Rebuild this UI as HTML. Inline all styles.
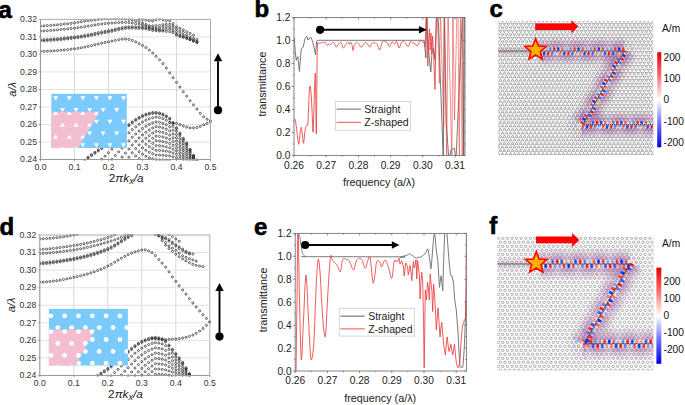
<!DOCTYPE html>
<html><head><meta charset="utf-8"><title>figure</title>
<style>
html,body{margin:0;padding:0;background:#fff;}
body{width:685px;height:405px;overflow:hidden;}
svg{display:block;font-family:"Liberation Sans", sans-serif;}
</style></head><body>
<svg width="685" height="405" viewBox="0 0 685 405">
<rect width="685" height="405" fill="#fff"/>
<path d="M74.5 19.4V159.5M108.5 19.4V159.5M142.5 19.4V159.5M176.5 19.4V159.5" stroke="#d8d8d8" stroke-width="1" fill="none"/><path d="M40.5 142H210.5M40.5 124.5H210.5M40.5 107H210.5M40.5 89.5H210.5M40.5 71.9H210.5M40.5 54.4H210.5M40.5 36.9H210.5" stroke="#e2e2e2" stroke-width="1" fill="none"/><clipPath id="clipb19"><rect x="40.5" y="18.4" width="171" height="142.1"/></clipPath><g clip-path="url(#clipb19)" fill="none" stroke="#2a2a2a" stroke-width="0.72"><circle cx="40.5" cy="51.4" r="1.05"/><circle cx="43.9" cy="51.4" r="1.05"/><circle cx="47.3" cy="51.2" r="1.05"/><circle cx="50.7" cy="51.1" r="1.05"/><circle cx="54.1" cy="50.8" r="1.05"/><circle cx="57.5" cy="50.6" r="1.05"/><circle cx="60.9" cy="50.3" r="1.05"/><circle cx="64.3" cy="49.9" r="1.05"/><circle cx="67.7" cy="49.6" r="1.05"/><circle cx="71.1" cy="49.2" r="1.05"/><circle cx="74.5" cy="48.8" r="1.05"/><circle cx="77.9" cy="48.4" r="1.05"/><circle cx="81.3" cy="47.8" r="1.05"/><circle cx="84.7" cy="47.1" r="1.05"/><circle cx="88.1" cy="46.4" r="1.05"/><circle cx="91.5" cy="45.6" r="1.05"/><circle cx="94.9" cy="44.8" r="1.05"/><circle cx="98.3" cy="44" r="1.05"/><circle cx="101.7" cy="43.2" r="1.05"/><circle cx="105.1" cy="42.5" r="1.05"/><circle cx="108.5" cy="41.8" r="1.05"/><circle cx="111.9" cy="41.1" r="1.05"/><circle cx="115.3" cy="40.4" r="1.05"/><circle cx="118.7" cy="39.7" r="1.05"/><circle cx="122.1" cy="39.2" r="1.05"/><circle cx="125.5" cy="39" r="1.05"/><circle cx="128.9" cy="39.4" r="1.05"/><circle cx="132.3" cy="40.4" r="1.05"/><circle cx="135.7" cy="41.9" r="1.05"/><circle cx="139.1" cy="43.7" r="1.05"/><circle cx="142.5" cy="45.5" r="1.05"/><circle cx="145.9" cy="47.5" r="1.05"/><circle cx="149.3" cy="50.1" r="1.05"/><circle cx="152.7" cy="53" r="1.05"/><circle cx="156.1" cy="56.3" r="1.05"/><circle cx="159.5" cy="59.7" r="1.05"/><circle cx="162.9" cy="63.6" r="1.05"/><circle cx="166.3" cy="68" r="1.05"/><circle cx="169.7" cy="72.9" r="1.05"/><circle cx="173.1" cy="77.7" r="1.05"/><circle cx="176.5" cy="82.4" r="1.05"/><circle cx="179.9" cy="87" r="1.05"/><circle cx="183.3" cy="91.7" r="1.05"/><circle cx="186.7" cy="96.2" r="1.05"/><circle cx="190.1" cy="100.7" r="1.05"/><circle cx="193.5" cy="104.9" r="1.05"/><circle cx="196.9" cy="109.1" r="1.05"/><circle cx="200.3" cy="113.3" r="1.05"/><circle cx="203.7" cy="116.8" r="1.05"/><circle cx="207.1" cy="119.2" r="1.05"/><circle cx="210.5" cy="120.6" r="1.05"/><circle cx="40.5" cy="40.9" r="1.05"/><circle cx="43.9" cy="40.8" r="1.05"/><circle cx="47.3" cy="40.6" r="1.05"/><circle cx="50.7" cy="40.4" r="1.05"/><circle cx="54.1" cy="40.2" r="1.05"/><circle cx="57.5" cy="39.9" r="1.05"/><circle cx="60.9" cy="39.6" r="1.05"/><circle cx="64.3" cy="39.2" r="1.05"/><circle cx="67.7" cy="38.9" r="1.05"/><circle cx="71.1" cy="38.5" r="1.05"/><circle cx="74.5" cy="38.1" r="1.05"/><circle cx="77.9" cy="37.7" r="1.05"/><circle cx="81.3" cy="37.2" r="1.05"/><circle cx="84.7" cy="36.6" r="1.05"/><circle cx="88.1" cy="36" r="1.05"/><circle cx="91.5" cy="35.4" r="1.05"/><circle cx="94.9" cy="34.7" r="1.05"/><circle cx="98.3" cy="34" r="1.05"/><circle cx="101.7" cy="33.3" r="1.05"/><circle cx="105.1" cy="32.6" r="1.05"/><circle cx="108.5" cy="32" r="1.05"/><circle cx="111.9" cy="31.3" r="1.05"/><circle cx="115.3" cy="30.5" r="1.05"/><circle cx="118.7" cy="29.7" r="1.05"/><circle cx="122.1" cy="29" r="1.05"/><circle cx="125.5" cy="28.5" r="1.05"/><circle cx="128.9" cy="28.2" r="1.05"/><circle cx="132.3" cy="28.2" r="1.05"/><circle cx="135.7" cy="28.2" r="1.05"/><circle cx="139.1" cy="28.4" r="1.05"/><circle cx="142.5" cy="28.5" r="1.05"/><circle cx="145.9" cy="28.9" r="1.05"/><circle cx="149.3" cy="29.6" r="1.05"/><circle cx="152.7" cy="30.4" r="1.05"/><circle cx="156.1" cy="30.8" r="1.05"/><circle cx="159.5" cy="31" r="1.05"/><circle cx="162.9" cy="31.1" r="1.05"/><circle cx="166.3" cy="31.4" r="1.05"/><circle cx="169.7" cy="31.7" r="1.05"/><circle cx="173.1" cy="32.7" r="1.05"/><circle cx="176.5" cy="35.2" r="1.05"/><circle cx="179.9" cy="36.5" r="1.05"/><circle cx="183.3" cy="37.4" r="1.05"/><circle cx="186.7" cy="38.5" r="1.05"/><circle cx="190.1" cy="39.8" r="1.05"/><circle cx="193.5" cy="41.2" r="1.05"/><circle cx="196.9" cy="42.7" r="1.05"/><circle cx="40.5" cy="39.7" r="1.05"/><circle cx="43.9" cy="39.6" r="1.05"/><circle cx="47.3" cy="39.4" r="1.05"/><circle cx="50.7" cy="39.2" r="1.05"/><circle cx="54.1" cy="38.9" r="1.05"/><circle cx="57.5" cy="38.7" r="1.05"/><circle cx="60.9" cy="38.4" r="1.05"/><circle cx="64.3" cy="38" r="1.05"/><circle cx="67.7" cy="37.7" r="1.05"/><circle cx="71.1" cy="37.3" r="1.05"/><circle cx="74.5" cy="36.9" r="1.05"/><circle cx="77.9" cy="36.5" r="1.05"/><circle cx="81.3" cy="36" r="1.05"/><circle cx="84.7" cy="35.4" r="1.05"/><circle cx="88.1" cy="34.7" r="1.05"/><circle cx="91.5" cy="34.1" r="1.05"/><circle cx="94.9" cy="33.3" r="1.05"/><circle cx="98.3" cy="32.6" r="1.05"/><circle cx="101.7" cy="31.9" r="1.05"/><circle cx="105.1" cy="31.3" r="1.05"/><circle cx="108.5" cy="30.6" r="1.05"/><circle cx="111.9" cy="29.9" r="1.05"/><circle cx="115.3" cy="29.1" r="1.05"/><circle cx="118.7" cy="28.3" r="1.05"/><circle cx="122.1" cy="27.6" r="1.05"/><circle cx="125.5" cy="27" r="1.05"/><circle cx="128.9" cy="26.8" r="1.05"/><circle cx="132.3" cy="26.8" r="1.05"/><circle cx="135.7" cy="26.9" r="1.05"/><circle cx="139.1" cy="27.1" r="1.05"/><circle cx="142.5" cy="27.3" r="1.05"/><circle cx="145.9" cy="27.7" r="1.05"/><circle cx="149.3" cy="28.4" r="1.05"/><circle cx="152.7" cy="29" r="1.05"/><circle cx="156.1" cy="29.5" r="1.05"/><circle cx="159.5" cy="29.9" r="1.05"/><circle cx="162.9" cy="30" r="1.05"/><circle cx="166.3" cy="29.4" r="1.05"/><circle cx="169.7" cy="29.2" r="1.05"/><circle cx="173.1" cy="30.8" r="1.05"/><circle cx="176.5" cy="34.1" r="1.05"/><circle cx="179.9" cy="35.7" r="1.05"/><circle cx="183.3" cy="36.9" r="1.05"/><circle cx="186.7" cy="38.2" r="1.05"/><circle cx="190.1" cy="39.5" r="1.05"/><circle cx="193.5" cy="40.9" r="1.05"/><circle cx="196.9" cy="42.2" r="1.05"/><circle cx="40.5" cy="31.1" r="1.05"/><circle cx="43.9" cy="30.9" r="1.05"/><circle cx="47.3" cy="30.7" r="1.05"/><circle cx="50.7" cy="30.4" r="1.05"/><circle cx="54.1" cy="30.2" r="1.05"/><circle cx="57.5" cy="29.9" r="1.05"/><circle cx="60.9" cy="29.5" r="1.05"/><circle cx="64.3" cy="29.2" r="1.05"/><circle cx="67.7" cy="28.9" r="1.05"/><circle cx="71.1" cy="28.5" r="1.05"/><circle cx="74.5" cy="28.2" r="1.05"/><circle cx="77.9" cy="27.7" r="1.05"/><circle cx="81.3" cy="27.3" r="1.05"/><circle cx="84.7" cy="26.7" r="1.05"/><circle cx="88.1" cy="26.1" r="1.05"/><circle cx="91.5" cy="25.5" r="1.05"/><circle cx="94.9" cy="25" r="1.05"/><circle cx="98.3" cy="24.4" r="1.05"/><circle cx="101.7" cy="24" r="1.05"/><circle cx="105.1" cy="23.6" r="1.05"/><circle cx="108.5" cy="23.3" r="1.05"/><circle cx="111.9" cy="23" r="1.05"/><circle cx="115.3" cy="22.8" r="1.05"/><circle cx="118.7" cy="22.6" r="1.05"/><circle cx="122.1" cy="22.4" r="1.05"/><circle cx="125.5" cy="22.4" r="1.05"/><circle cx="128.9" cy="22.5" r="1.05"/><circle cx="132.3" cy="23" r="1.05"/><circle cx="135.7" cy="23.6" r="1.05"/><circle cx="139.1" cy="24.3" r="1.05"/><circle cx="142.5" cy="25" r="1.05"/><circle cx="145.9" cy="26" r="1.05"/><circle cx="149.3" cy="27.1" r="1.05"/><circle cx="152.7" cy="27.8" r="1.05"/><circle cx="156.1" cy="28.1" r="1.05"/><circle cx="159.5" cy="28.1" r="1.05"/><circle cx="162.9" cy="27.4" r="1.05"/><circle cx="166.3" cy="26.8" r="1.05"/><circle cx="169.7" cy="26.8" r="1.05"/><circle cx="173.1" cy="28.4" r="1.05"/><circle cx="176.5" cy="31.7" r="1.05"/><circle cx="179.9" cy="33.6" r="1.05"/><circle cx="183.3" cy="35.2" r="1.05"/><circle cx="186.7" cy="37" r="1.05"/><circle cx="190.1" cy="38.7" r="1.05"/><circle cx="193.5" cy="40.1" r="1.05"/><circle cx="196.9" cy="41.3" r="1.05"/><circle cx="40.5" cy="26.1" r="1.05"/><circle cx="43.9" cy="25.9" r="1.05"/><circle cx="47.3" cy="25.6" r="1.05"/><circle cx="50.7" cy="25.4" r="1.05"/><circle cx="54.1" cy="25.1" r="1.05"/><circle cx="57.5" cy="24.8" r="1.05"/><circle cx="60.9" cy="24.5" r="1.05"/><circle cx="64.3" cy="24.1" r="1.05"/><circle cx="67.7" cy="23.8" r="1.05"/><circle cx="71.1" cy="23.4" r="1.05"/><circle cx="74.5" cy="22.9" r="1.05"/><circle cx="77.9" cy="22.3" r="1.05"/><circle cx="81.3" cy="21.8" r="1.05"/><circle cx="84.7" cy="21.2" r="1.05"/><circle cx="88.1" cy="20.7" r="1.05"/><circle cx="91.5" cy="20.3" r="1.05"/><circle cx="94.9" cy="19.9" r="1.05"/><circle cx="98.3" cy="19.4" r="1.05"/><circle cx="101.7" cy="19.1" r="1.05"/><circle cx="105.1" cy="18.8" r="1.05"/><circle cx="108.5" cy="18.7" r="1.05"/><circle cx="111.9" cy="18.7" r="1.05"/><circle cx="115.3" cy="18.8" r="1.05"/><circle cx="118.7" cy="18.8" r="1.05"/><circle cx="122.1" cy="18.9" r="1.05"/><circle cx="125.5" cy="19" r="1.05"/><circle cx="128.9" cy="19.4" r="1.05"/><circle cx="132.3" cy="19.9" r="1.05"/><circle cx="135.7" cy="20.7" r="1.05"/><circle cx="139.1" cy="21.5" r="1.05"/><circle cx="142.5" cy="22.8" r="1.05"/><circle cx="145.9" cy="24.5" r="1.05"/><circle cx="149.3" cy="25.7" r="1.05"/><circle cx="152.7" cy="25.9" r="1.05"/><circle cx="156.1" cy="25.7" r="1.05"/><circle cx="159.5" cy="25.5" r="1.05"/><circle cx="162.9" cy="24.8" r="1.05"/><circle cx="166.3" cy="24.3" r="1.05"/><circle cx="169.7" cy="24.3" r="1.05"/><circle cx="173.1" cy="25.9" r="1.05"/><circle cx="176.5" cy="29.2" r="1.05"/><circle cx="179.9" cy="31" r="1.05"/><circle cx="183.3" cy="32.5" r="1.05"/><circle cx="186.7" cy="34.8" r="1.05"/><circle cx="190.1" cy="36.9" r="1.05"/><circle cx="193.5" cy="38.4" r="1.05"/><circle cx="196.9" cy="39.5" r="1.05"/><circle cx="139.1" cy="18.8" r="1.05"/><circle cx="142.5" cy="19.4" r="1.05"/><circle cx="145.9" cy="20.1" r="1.05"/><circle cx="149.3" cy="20.7" r="1.05"/><circle cx="152.7" cy="20.9" r="1.05"/><circle cx="156.1" cy="19.7" r="1.05"/><circle cx="159.5" cy="19.1" r="1.05"/><circle cx="162.9" cy="19.8" r="1.05"/><circle cx="166.3" cy="20.6" r="1.05"/><circle cx="169.7" cy="20.8" r="1.05"/><circle cx="173.1" cy="23.6" r="1.05"/><circle cx="176.5" cy="26.8" r="1.05"/><circle cx="179.9" cy="28.2" r="1.05"/><circle cx="183.3" cy="29.9" r="1.05"/><circle cx="186.7" cy="31.7" r="1.05"/><circle cx="190.1" cy="33.4" r="1.05"/><circle cx="193.5" cy="35.2" r="1.05"/><circle cx="169.7" cy="122.4" r="1.05"/><circle cx="173.1" cy="122.8" r="1.05"/><circle cx="176.5" cy="123.4" r="1.05"/><circle cx="179.9" cy="124.6" r="1.05"/><circle cx="183.3" cy="125.9" r="1.05"/><circle cx="186.7" cy="127.1" r="1.05"/><circle cx="190.1" cy="127.9" r="1.05"/><circle cx="193.5" cy="127.9" r="1.05"/><circle cx="196.9" cy="127.5" r="1.05"/><circle cx="200.3" cy="126.4" r="1.05"/><circle cx="203.7" cy="124.8" r="1.05"/><circle cx="207.1" cy="123.4" r="1.05"/><circle cx="210.5" cy="121.8" r="1.05"/><circle cx="84.7" cy="160.1" r="1.05"/><circle cx="88.1" cy="157.2" r="1.05"/><circle cx="91.5" cy="154.6" r="1.05"/><circle cx="94.9" cy="152.3" r="1.05"/><circle cx="98.3" cy="150" r="1.05"/><circle cx="101.7" cy="147.6" r="1.05"/><circle cx="105.1" cy="145" r="1.05"/><circle cx="108.5" cy="142" r="1.05"/><circle cx="111.9" cy="138.9" r="1.05"/><circle cx="115.3" cy="135.9" r="1.05"/><circle cx="118.7" cy="133" r="1.05"/><circle cx="122.1" cy="130.2" r="1.05"/><circle cx="125.5" cy="127.4" r="1.05"/><circle cx="128.9" cy="124.7" r="1.05"/><circle cx="132.3" cy="121.9" r="1.05"/><circle cx="135.7" cy="119.5" r="1.05"/><circle cx="139.1" cy="117.4" r="1.05"/><circle cx="142.5" cy="115.6" r="1.05"/><circle cx="145.9" cy="114.2" r="1.05"/><circle cx="149.3" cy="113.2" r="1.05"/><circle cx="152.7" cy="112.5" r="1.05"/><circle cx="156.1" cy="112.5" r="1.05"/><circle cx="159.5" cy="112.9" r="1.05"/><circle cx="162.9" cy="114.1" r="1.05"/><circle cx="166.3" cy="115.9" r="1.05"/><circle cx="169.7" cy="118.3" r="1.05"/><circle cx="173.1" cy="122.6" r="1.05"/><circle cx="176.5" cy="127.8" r="1.05"/><circle cx="179.9" cy="133.2" r="1.05"/><circle cx="183.3" cy="138.4" r="1.05"/><circle cx="186.7" cy="143" r="1.05"/><circle cx="190.1" cy="149.3" r="1.05"/><circle cx="193.5" cy="155.3" r="1.05"/><circle cx="196.9" cy="160" r="1.05"/><circle cx="101.7" cy="159.2" r="1.05"/><circle cx="105.1" cy="156.1" r="1.05"/><circle cx="108.5" cy="152.7" r="1.05"/><circle cx="111.9" cy="149.2" r="1.05"/><circle cx="115.3" cy="145.7" r="1.05"/><circle cx="118.7" cy="142.4" r="1.05"/><circle cx="122.1" cy="139.1" r="1.05"/><circle cx="125.5" cy="136" r="1.05"/><circle cx="128.9" cy="132.8" r="1.05"/><circle cx="132.3" cy="129.6" r="1.05"/><circle cx="135.7" cy="126.8" r="1.05"/><circle cx="139.1" cy="124.3" r="1.05"/><circle cx="142.5" cy="122" r="1.05"/><circle cx="145.9" cy="120.3" r="1.05"/><circle cx="149.3" cy="118.8" r="1.05"/><circle cx="152.7" cy="117.7" r="1.05"/><circle cx="156.1" cy="117.2" r="1.05"/><circle cx="159.5" cy="117.6" r="1.05"/><circle cx="162.9" cy="118.7" r="1.05"/><circle cx="166.3" cy="120.3" r="1.05"/><circle cx="169.7" cy="122.5" r="1.05"/><circle cx="173.1" cy="126.4" r="1.05"/><circle cx="176.5" cy="131.1" r="1.05"/><circle cx="179.9" cy="136" r="1.05"/><circle cx="183.3" cy="140.7" r="1.05"/><circle cx="186.7" cy="145" r="1.05"/><circle cx="190.1" cy="150.6" r="1.05"/><circle cx="193.5" cy="156.1" r="1.05"/><circle cx="196.9" cy="160.3" r="1.05"/><circle cx="111.9" cy="159.4" r="1.05"/><circle cx="115.3" cy="155.5" r="1.05"/><circle cx="118.7" cy="151.8" r="1.05"/><circle cx="122.1" cy="148.1" r="1.05"/><circle cx="125.5" cy="144.5" r="1.05"/><circle cx="128.9" cy="140.9" r="1.05"/><circle cx="132.3" cy="137.3" r="1.05"/><circle cx="135.7" cy="134" r="1.05"/><circle cx="139.1" cy="131.1" r="1.05"/><circle cx="142.5" cy="128.5" r="1.05"/><circle cx="145.9" cy="126.3" r="1.05"/><circle cx="149.3" cy="124.4" r="1.05"/><circle cx="152.7" cy="122.8" r="1.05"/><circle cx="156.1" cy="121.9" r="1.05"/><circle cx="159.5" cy="122.3" r="1.05"/><circle cx="162.9" cy="123.3" r="1.05"/><circle cx="166.3" cy="124.7" r="1.05"/><circle cx="169.7" cy="126.7" r="1.05"/><circle cx="173.1" cy="130.2" r="1.05"/><circle cx="176.5" cy="134.4" r="1.05"/><circle cx="179.9" cy="138.9" r="1.05"/><circle cx="183.3" cy="143.1" r="1.05"/><circle cx="186.7" cy="146.9" r="1.05"/><circle cx="190.1" cy="152" r="1.05"/><circle cx="193.5" cy="156.9" r="1.05"/><circle cx="122.1" cy="157.1" r="1.05"/><circle cx="125.5" cy="153.1" r="1.05"/><circle cx="128.9" cy="149.1" r="1.05"/><circle cx="132.3" cy="145.1" r="1.05"/><circle cx="135.7" cy="141.3" r="1.05"/><circle cx="139.1" cy="138" r="1.05"/><circle cx="142.5" cy="134.9" r="1.05"/><circle cx="145.9" cy="132.3" r="1.05"/><circle cx="149.3" cy="130" r="1.05"/><circle cx="152.7" cy="128" r="1.05"/><circle cx="156.1" cy="126.7" r="1.05"/><circle cx="159.5" cy="127" r="1.05"/><circle cx="162.9" cy="127.8" r="1.05"/><circle cx="166.3" cy="129.2" r="1.05"/><circle cx="169.7" cy="130.9" r="1.05"/><circle cx="173.1" cy="134" r="1.05"/><circle cx="176.5" cy="137.7" r="1.05"/><circle cx="179.9" cy="141.7" r="1.05"/><circle cx="183.3" cy="145.4" r="1.05"/><circle cx="186.7" cy="148.8" r="1.05"/><circle cx="190.1" cy="153.3" r="1.05"/><circle cx="193.5" cy="157.7" r="1.05"/><circle cx="128.9" cy="157.2" r="1.05"/><circle cx="132.3" cy="152.8" r="1.05"/><circle cx="135.7" cy="148.6" r="1.05"/><circle cx="139.1" cy="144.9" r="1.05"/><circle cx="142.5" cy="141.3" r="1.05"/><circle cx="145.9" cy="138.3" r="1.05"/><circle cx="149.3" cy="135.6" r="1.05"/><circle cx="152.7" cy="133.1" r="1.05"/><circle cx="156.1" cy="131.4" r="1.05"/><circle cx="159.5" cy="131.7" r="1.05"/><circle cx="162.9" cy="132.4" r="1.05"/><circle cx="166.3" cy="133.6" r="1.05"/><circle cx="169.7" cy="135.1" r="1.05"/><circle cx="173.1" cy="137.8" r="1.05"/><circle cx="176.5" cy="141" r="1.05"/><circle cx="179.9" cy="144.5" r="1.05"/><circle cx="183.3" cy="147.8" r="1.05"/><circle cx="186.7" cy="150.7" r="1.05"/><circle cx="190.1" cy="154.7" r="1.05"/><circle cx="193.5" cy="158.4" r="1.05"/><circle cx="135.7" cy="155.9" r="1.05"/><circle cx="139.1" cy="151.7" r="1.05"/><circle cx="142.5" cy="147.8" r="1.05"/><circle cx="145.9" cy="144.3" r="1.05"/><circle cx="149.3" cy="141.1" r="1.05"/><circle cx="152.7" cy="138.3" r="1.05"/><circle cx="156.1" cy="136.1" r="1.05"/><circle cx="159.5" cy="136.4" r="1.05"/><circle cx="162.9" cy="137" r="1.05"/><circle cx="166.3" cy="138" r="1.05"/><circle cx="169.7" cy="139.3" r="1.05"/><circle cx="173.1" cy="141.6" r="1.05"/><circle cx="176.5" cy="144.4" r="1.05"/><circle cx="179.9" cy="147.3" r="1.05"/><circle cx="183.3" cy="150.1" r="1.05"/><circle cx="186.7" cy="152.6" r="1.05"/><circle cx="190.1" cy="156" r="1.05"/><circle cx="193.5" cy="159.2" r="1.05"/><circle cx="139.1" cy="158.6" r="1.05"/><circle cx="142.5" cy="154.2" r="1.05"/><circle cx="145.9" cy="150.3" r="1.05"/><circle cx="149.3" cy="146.7" r="1.05"/><circle cx="152.7" cy="143.4" r="1.05"/><circle cx="156.1" cy="140.8" r="1.05"/><circle cx="159.5" cy="141" r="1.05"/><circle cx="162.9" cy="141.6" r="1.05"/><circle cx="166.3" cy="142.4" r="1.05"/><circle cx="169.7" cy="143.5" r="1.05"/><circle cx="173.1" cy="145.4" r="1.05"/><circle cx="176.5" cy="147.7" r="1.05"/><circle cx="179.9" cy="150.1" r="1.05"/><circle cx="183.3" cy="152.5" r="1.05"/><circle cx="186.7" cy="154.5" r="1.05"/><circle cx="190.1" cy="157.3" r="1.05"/><circle cx="193.5" cy="160" r="1.05"/><circle cx="145.9" cy="156.3" r="1.05"/><circle cx="149.3" cy="152.3" r="1.05"/><circle cx="152.7" cy="148.6" r="1.05"/><circle cx="156.1" cy="145.6" r="1.05"/><circle cx="159.5" cy="145.7" r="1.05"/><circle cx="162.9" cy="146.1" r="1.05"/><circle cx="166.3" cy="146.8" r="1.05"/><circle cx="169.7" cy="147.7" r="1.05"/><circle cx="173.1" cy="149.2" r="1.05"/><circle cx="176.5" cy="151" r="1.05"/><circle cx="179.9" cy="153" r="1.05"/><circle cx="183.3" cy="154.8" r="1.05"/><circle cx="186.7" cy="156.5" r="1.05"/><circle cx="190.1" cy="158.7" r="1.05"/><circle cx="149.3" cy="157.9" r="1.05"/><circle cx="152.7" cy="153.7" r="1.05"/><circle cx="156.1" cy="150.3" r="1.05"/><circle cx="159.5" cy="150.4" r="1.05"/><circle cx="162.9" cy="150.7" r="1.05"/><circle cx="166.3" cy="151.2" r="1.05"/><circle cx="169.7" cy="151.8" r="1.05"/><circle cx="173.1" cy="153" r="1.05"/><circle cx="176.5" cy="154.3" r="1.05"/><circle cx="179.9" cy="155.8" r="1.05"/><circle cx="183.3" cy="157.1" r="1.05"/><circle cx="186.7" cy="158.4" r="1.05"/><circle cx="190.1" cy="160" r="1.05"/><circle cx="152.7" cy="158.9" r="1.05"/><circle cx="156.1" cy="155" r="1.05"/><circle cx="159.5" cy="155.1" r="1.05"/><circle cx="162.9" cy="155.3" r="1.05"/><circle cx="166.3" cy="155.6" r="1.05"/><circle cx="169.7" cy="156" r="1.05"/><circle cx="173.1" cy="156.8" r="1.05"/><circle cx="176.5" cy="157.7" r="1.05"/><circle cx="179.9" cy="158.6" r="1.05"/><circle cx="183.3" cy="159.5" r="1.05"/><circle cx="186.7" cy="160.3" r="1.05"/><circle cx="156.1" cy="159.7" r="1.05"/><circle cx="159.5" cy="159.8" r="1.05"/><circle cx="162.9" cy="159.9" r="1.05"/><circle cx="166.3" cy="160" r="1.05"/><circle cx="169.7" cy="160.2" r="1.05"/><circle cx="88.1" cy="158.1" r="1.05"/><circle cx="91.5" cy="155.5" r="1.05"/><circle cx="94.9" cy="153.1" r="1.05"/><circle cx="98.3" cy="150.9" r="1.05"/><circle cx="101.7" cy="148.5" r="1.05"/><circle cx="105.1" cy="145.9" r="1.05"/><circle cx="108.5" cy="142.9" r="1.05"/><circle cx="111.9" cy="139.8" r="1.05"/><circle cx="115.3" cy="136.7" r="1.05"/><circle cx="118.7" cy="133.9" r="1.05"/><circle cx="122.1" cy="131" r="1.05"/><circle cx="125.5" cy="128.3" r="1.05"/><circle cx="128.9" cy="125.6" r="1.05"/><circle cx="132.3" cy="122.8" r="1.05"/><circle cx="135.7" cy="120.3" r="1.05"/><circle cx="139.1" cy="118.3" r="1.05"/><circle cx="142.5" cy="116.5" r="1.05"/><circle cx="145.9" cy="115.1" r="1.05"/><circle cx="149.3" cy="114.1" r="1.05"/><circle cx="152.7" cy="113.4" r="1.05"/><circle cx="156.1" cy="113.3" r="1.05"/><circle cx="159.5" cy="113.8" r="1.05"/><circle cx="162.9" cy="115" r="1.05"/><circle cx="166.3" cy="116.8" r="1.05"/><circle cx="169.7" cy="119.2" r="1.05"/><circle cx="173.1" cy="123.5" r="1.05"/><circle cx="176.5" cy="128.6" r="1.05"/><circle cx="179.9" cy="134.1" r="1.05"/><circle cx="183.3" cy="139.3" r="1.05"/><circle cx="186.7" cy="143.9" r="1.05"/><circle cx="190.1" cy="150.2" r="1.05"/><circle cx="193.5" cy="156.2" r="1.05"/></g><rect x="51.3" y="93.8" width="75.5" height="54.2" fill="#7acbfc"/><path d="M51.3 111.7H99.5L78.2 148H51.3Z" fill="#f3bfd0"/><clipPath id="ci93b"><path d="M51.3 93.8H126.8V148H78.2L99.5 111.7H51.3Z"/></clipPath><clipPath id="ci93p"><path d="M51.3 111.7H99.5L78.2 148H51.3Z"/></clipPath><g clip-path="url(#ci93b)" fill="#fff"><path d="M39.7 96.3H44.7L42.2 100.5Z"/><path d="M53.2 96.3H58.2L55.7 100.5Z"/><path d="M66.8 96.3H71.8L69.2 100.5Z"/><path d="M80.3 96.3H85.3L82.8 100.5Z"/><path d="M93.9 96.3H98.9L96.4 100.5Z"/><path d="M107.4 96.3H112.4L109.9 100.5Z"/><path d="M121 96.3H126L123.5 100.5Z"/><path d="M134.5 96.3H139.5L137 100.5Z"/><path d="M46.5 108.1H51.5L49 112.3Z"/><path d="M60 108.1H65L62.5 112.3Z"/><path d="M73.5 108.1H78.5L76 112.3Z"/><path d="M87.1 108.1H92.1L89.6 112.3Z"/><path d="M100.7 108.1H105.7L103.2 112.3Z"/><path d="M114.2 108.1H119.2L116.7 112.3Z"/><path d="M127.8 108.1H132.8L130.2 112.3Z"/><path d="M141.3 108.1H146.3L143.8 112.3Z"/><path d="M39.7 119.8H44.7L42.2 124Z"/><path d="M53.2 119.8H58.2L55.7 124Z"/><path d="M66.8 119.8H71.8L69.2 124Z"/><path d="M80.3 119.8H85.3L82.8 124Z"/><path d="M93.9 119.8H98.9L96.4 124Z"/><path d="M107.4 119.8H112.4L109.9 124Z"/><path d="M121 119.8H126L123.5 124Z"/><path d="M134.5 119.8H139.5L137 124Z"/><path d="M46.5 131.5H51.5L49 135.7Z"/><path d="M60 131.5H65L62.5 135.7Z"/><path d="M73.5 131.5H78.5L76 135.7Z"/><path d="M87.1 131.5H92.1L89.6 135.7Z"/><path d="M100.7 131.5H105.7L103.2 135.7Z"/><path d="M114.2 131.5H119.2L116.7 135.7Z"/><path d="M127.8 131.5H132.8L130.2 135.7Z"/><path d="M141.3 131.5H146.3L143.8 135.7Z"/><path d="M39.7 143.2H44.7L42.2 147.4Z"/><path d="M53.2 143.2H58.2L55.7 147.4Z"/><path d="M66.8 143.2H71.8L69.2 147.4Z"/><path d="M80.3 143.2H85.3L82.8 147.4Z"/><path d="M93.9 143.2H98.9L96.4 147.4Z"/><path d="M107.4 143.2H112.4L109.9 147.4Z"/><path d="M121 143.2H126L123.5 147.4Z"/><path d="M134.5 143.2H139.5L137 147.4Z"/></g><g clip-path="url(#ci93p)" fill="#fff"><path d="M39.7 115H44.7L42.2 110.8Z"/><path d="M53.2 115H58.2L55.7 110.8Z"/><path d="M66.8 115H71.8L69.2 110.8Z"/><path d="M80.3 115H85.3L82.8 110.8Z"/><path d="M93.9 115H98.9L96.4 110.8Z"/><path d="M107.4 115H112.4L109.9 110.8Z"/><path d="M121 115H126L123.5 110.8Z"/><path d="M134.5 115H139.5L137 110.8Z"/><path d="M46.5 126.8H51.5L49 122.6Z"/><path d="M60 126.8H65L62.5 122.6Z"/><path d="M73.5 126.8H78.5L76 122.6Z"/><path d="M87.1 126.8H92.1L89.6 122.6Z"/><path d="M100.7 126.8H105.7L103.2 122.6Z"/><path d="M114.2 126.8H119.2L116.7 122.6Z"/><path d="M127.8 126.8H132.8L130.2 122.6Z"/><path d="M141.3 126.8H146.3L143.8 122.6Z"/><path d="M39.7 138.6H44.7L42.2 134.4Z"/><path d="M53.2 138.6H58.2L55.7 134.4Z"/><path d="M66.8 138.6H71.8L69.2 134.4Z"/><path d="M80.3 138.6H85.3L82.8 134.4Z"/><path d="M93.9 138.6H98.9L96.4 134.4Z"/><path d="M107.4 138.6H112.4L109.9 134.4Z"/><path d="M121 138.6H126L123.5 134.4Z"/><path d="M134.5 138.6H139.5L137 134.4Z"/><path d="M46.5 150.4H51.5L49 146.2Z"/><path d="M60 150.4H65L62.5 146.2Z"/><path d="M73.5 150.4H78.5L76 146.2Z"/><path d="M87.1 150.4H92.1L89.6 146.2Z"/><path d="M100.7 150.4H105.7L103.2 146.2Z"/><path d="M114.2 150.4H119.2L116.7 146.2Z"/><path d="M127.8 150.4H132.8L130.2 146.2Z"/><path d="M141.3 150.4H146.3L143.8 146.2Z"/></g><path d="M40.5 19.4H210.5V159.5" stroke="#aaa" stroke-width="1" fill="none"/><path d="M40.5 19.4V159.5H210.5" stroke="#999" stroke-width="1.1" fill="none"/><path d="M40.5 159.5v1.6M74.5 159.5v1.6M108.5 159.5v1.6M142.5 159.5v1.6M176.5 159.5v1.6M210.5 159.5v1.6M40.5 159.5h-1.6M40.5 142h-1.6M40.5 124.5h-1.6M40.5 107h-1.6M40.5 89.5h-1.6M40.5 71.9h-1.6M40.5 54.4h-1.6M40.5 36.9h-1.6M40.5 19.4h-1.6" stroke="#888" stroke-width="0.8" fill="none"/><text x="40.5" y="169.8" font-size="8.7" text-anchor="middle" font-weight="normal" font-style="normal" fill="#333" >0.0</text><text x="74.5" y="169.8" font-size="8.7" text-anchor="middle" font-weight="normal" font-style="normal" fill="#333" >0.1</text><text x="108.5" y="169.8" font-size="8.7" text-anchor="middle" font-weight="normal" font-style="normal" fill="#333" >0.2</text><text x="142.5" y="169.8" font-size="8.7" text-anchor="middle" font-weight="normal" font-style="normal" fill="#333" >0.3</text><text x="176.5" y="169.8" font-size="8.7" text-anchor="middle" font-weight="normal" font-style="normal" fill="#333" >0.4</text><text x="210.5" y="169.8" font-size="8.7" text-anchor="middle" font-weight="normal" font-style="normal" fill="#333" >0.5</text><text x="37" y="162.2" font-size="8.7" text-anchor="end" font-weight="normal" font-style="normal" fill="#333" >0.24</text><text x="37" y="144.7" font-size="8.7" text-anchor="end" font-weight="normal" font-style="normal" fill="#333" >0.25</text><text x="37" y="127.2" font-size="8.7" text-anchor="end" font-weight="normal" font-style="normal" fill="#333" >0.26</text><text x="37" y="109.7" font-size="8.7" text-anchor="end" font-weight="normal" font-style="normal" fill="#333" >0.27</text><text x="37" y="92.2" font-size="8.7" text-anchor="end" font-weight="normal" font-style="normal" fill="#333" >0.28</text><text x="37" y="74.6" font-size="8.7" text-anchor="end" font-weight="normal" font-style="normal" fill="#333" >0.29</text><text x="37" y="57.1" font-size="8.7" text-anchor="end" font-weight="normal" font-style="normal" fill="#333" >0.30</text><text x="37" y="39.6" font-size="8.7" text-anchor="end" font-weight="normal" font-style="normal" fill="#333" >0.31</text><text x="37" y="22.1" font-size="8.7" text-anchor="end" font-weight="normal" font-style="normal" fill="#333" >0.32</text><text x="108.8" y="181.8" font-size="11.8" font-style="italic" fill="#222"><tspan font-style="normal">2</tspan>πk<tspan font-size="9" dy="2.2">x</tspan><tspan dy="-2.2">/a</tspan></text><text transform="translate(16 89.4) rotate(-90)" x="0" y="0" font-size="11" text-anchor="middle" font-style="italic" fill="#222">a/λ</text><path d="M218 110.2V61.3" stroke="#000" stroke-width="1.9"/><path d="M218 53.3L222.2 61.3L213.8 61.3Z" fill="#000"/><circle cx="218" cy="110.2" r="4.1" fill="#000"/><path d="M73.8 235V375.5M107.8 235V375.5M141.8 235V375.5M175.8 235V375.5" stroke="#d8d8d8" stroke-width="1" fill="none"/><path d="M39.8 357.9H209.8M39.8 340.4H209.8M39.8 322.8H209.8M39.8 305.3H209.8M39.8 287.7H209.8M39.8 270.1H209.8M39.8 252.6H209.8" stroke="#e2e2e2" stroke-width="1" fill="none"/><clipPath id="clipb235"><rect x="39.8" y="234" width="171" height="142.5"/></clipPath><g clip-path="url(#clipb235)" fill="none" stroke="#2a2a2a" stroke-width="0.72"><circle cx="39.8" cy="282.2" r="1.05"/><circle cx="43.2" cy="282.1" r="1.05"/><circle cx="46.6" cy="281.8" r="1.05"/><circle cx="50" cy="281.5" r="1.05"/><circle cx="53.4" cy="281.1" r="1.05"/><circle cx="56.8" cy="280.7" r="1.05"/><circle cx="60.2" cy="280.2" r="1.05"/><circle cx="63.6" cy="279.5" r="1.05"/><circle cx="67" cy="278.8" r="1.05"/><circle cx="70.4" cy="278.1" r="1.05"/><circle cx="73.8" cy="277.3" r="1.05"/><circle cx="77.2" cy="276.6" r="1.05"/><circle cx="80.6" cy="275.7" r="1.05"/><circle cx="84" cy="274.9" r="1.05"/><circle cx="87.4" cy="274" r="1.05"/><circle cx="90.8" cy="272.9" r="1.05"/><circle cx="94.2" cy="271.8" r="1.05"/><circle cx="97.6" cy="270.5" r="1.05"/><circle cx="101" cy="269.2" r="1.05"/><circle cx="104.4" cy="267.7" r="1.05"/><circle cx="107.8" cy="266.1" r="1.05"/><circle cx="111.2" cy="264.3" r="1.05"/><circle cx="114.6" cy="262.2" r="1.05"/><circle cx="118" cy="260.2" r="1.05"/><circle cx="121.4" cy="258.3" r="1.05"/><circle cx="124.8" cy="256.4" r="1.05"/><circle cx="128.2" cy="254.6" r="1.05"/><circle cx="131.6" cy="253.2" r="1.05"/><circle cx="135" cy="251.9" r="1.05"/><circle cx="138.4" cy="250.8" r="1.05"/><circle cx="141.8" cy="250" r="1.05"/><circle cx="145.2" cy="249.8" r="1.05"/><circle cx="148.6" cy="250.8" r="1.05"/><circle cx="152" cy="252.6" r="1.05"/><circle cx="155.4" cy="255.6" r="1.05"/><circle cx="158.8" cy="259.6" r="1.05"/><circle cx="162.2" cy="263.2" r="1.05"/><circle cx="165.6" cy="267.1" r="1.05"/><circle cx="169" cy="271.9" r="1.05"/><circle cx="172.4" cy="276.9" r="1.05"/><circle cx="175.8" cy="281.4" r="1.05"/><circle cx="179.2" cy="285.7" r="1.05"/><circle cx="182.6" cy="289.9" r="1.05"/><circle cx="186" cy="294.2" r="1.05"/><circle cx="189.4" cy="298.6" r="1.05"/><circle cx="192.8" cy="303" r="1.05"/><circle cx="196.2" cy="307" r="1.05"/><circle cx="199.6" cy="310.9" r="1.05"/><circle cx="203" cy="314.7" r="1.05"/><circle cx="206.4" cy="318.4" r="1.05"/><circle cx="209.8" cy="321.9" r="1.05"/><circle cx="39.8" cy="264" r="1.05"/><circle cx="43.2" cy="263.8" r="1.05"/><circle cx="46.6" cy="263.5" r="1.05"/><circle cx="50" cy="263.2" r="1.05"/><circle cx="53.4" cy="262.8" r="1.05"/><circle cx="56.8" cy="262.3" r="1.05"/><circle cx="60.2" cy="261.8" r="1.05"/><circle cx="63.6" cy="261.3" r="1.05"/><circle cx="67" cy="260.8" r="1.05"/><circle cx="70.4" cy="260.2" r="1.05"/><circle cx="73.8" cy="259.6" r="1.05"/><circle cx="77.2" cy="258.9" r="1.05"/><circle cx="80.6" cy="258.2" r="1.05"/><circle cx="84" cy="257.4" r="1.05"/><circle cx="87.4" cy="256.6" r="1.05"/><circle cx="90.8" cy="255.6" r="1.05"/><circle cx="94.2" cy="254.6" r="1.05"/><circle cx="97.6" cy="253.5" r="1.05"/><circle cx="101" cy="252.3" r="1.05"/><circle cx="104.4" cy="251.1" r="1.05"/><circle cx="107.8" cy="249.8" r="1.05"/><circle cx="111.2" cy="248.2" r="1.05"/><circle cx="114.6" cy="246.2" r="1.05"/><circle cx="118" cy="244.1" r="1.05"/><circle cx="121.4" cy="241.8" r="1.05"/><circle cx="124.8" cy="239.6" r="1.05"/><circle cx="128.2" cy="237.6" r="1.05"/><circle cx="131.6" cy="235.8" r="1.05"/><circle cx="39.8" cy="262.7" r="1.05"/><circle cx="43.2" cy="262.5" r="1.05"/><circle cx="46.6" cy="262.3" r="1.05"/><circle cx="50" cy="261.9" r="1.05"/><circle cx="53.4" cy="261.5" r="1.05"/><circle cx="56.8" cy="261.1" r="1.05"/><circle cx="60.2" cy="260.6" r="1.05"/><circle cx="63.6" cy="260.1" r="1.05"/><circle cx="67" cy="259.5" r="1.05"/><circle cx="70.4" cy="259" r="1.05"/><circle cx="73.8" cy="258.4" r="1.05"/><circle cx="77.2" cy="257.7" r="1.05"/><circle cx="80.6" cy="257" r="1.05"/><circle cx="84" cy="256.2" r="1.05"/><circle cx="87.4" cy="255.3" r="1.05"/><circle cx="90.8" cy="254.4" r="1.05"/><circle cx="94.2" cy="253.4" r="1.05"/><circle cx="97.6" cy="252.3" r="1.05"/><circle cx="101" cy="251.1" r="1.05"/><circle cx="104.4" cy="249.8" r="1.05"/><circle cx="107.8" cy="248.5" r="1.05"/><circle cx="111.2" cy="246.9" r="1.05"/><circle cx="114.6" cy="245" r="1.05"/><circle cx="118" cy="242.8" r="1.05"/><circle cx="121.4" cy="240.6" r="1.05"/><circle cx="124.8" cy="238.4" r="1.05"/><circle cx="128.2" cy="236.4" r="1.05"/><circle cx="131.6" cy="234.6" r="1.05"/><circle cx="39.8" cy="253.6" r="1.05"/><circle cx="43.2" cy="253.4" r="1.05"/><circle cx="46.6" cy="253.2" r="1.05"/><circle cx="50" cy="252.9" r="1.05"/><circle cx="53.4" cy="252.6" r="1.05"/><circle cx="56.8" cy="252.2" r="1.05"/><circle cx="60.2" cy="251.8" r="1.05"/><circle cx="63.6" cy="251.4" r="1.05"/><circle cx="67" cy="250.9" r="1.05"/><circle cx="70.4" cy="250.4" r="1.05"/><circle cx="73.8" cy="249.9" r="1.05"/><circle cx="77.2" cy="249.4" r="1.05"/><circle cx="80.6" cy="248.8" r="1.05"/><circle cx="84" cy="248.1" r="1.05"/><circle cx="87.4" cy="247.4" r="1.05"/><circle cx="90.8" cy="246.6" r="1.05"/><circle cx="94.2" cy="245.7" r="1.05"/><circle cx="97.6" cy="244.9" r="1.05"/><circle cx="101" cy="243.9" r="1.05"/><circle cx="104.4" cy="243" r="1.05"/><circle cx="107.8" cy="242" r="1.05"/><circle cx="111.2" cy="241" r="1.05"/><circle cx="114.6" cy="239.9" r="1.05"/><circle cx="118" cy="238.6" r="1.05"/><circle cx="121.4" cy="237.3" r="1.05"/><circle cx="124.8" cy="235.9" r="1.05"/><circle cx="128.2" cy="234.2" r="1.05"/><circle cx="39.8" cy="249.6" r="1.05"/><circle cx="43.2" cy="249.3" r="1.05"/><circle cx="46.6" cy="249.1" r="1.05"/><circle cx="50" cy="248.7" r="1.05"/><circle cx="53.4" cy="248.4" r="1.05"/><circle cx="56.8" cy="248" r="1.05"/><circle cx="60.2" cy="247.5" r="1.05"/><circle cx="63.6" cy="247.1" r="1.05"/><circle cx="67" cy="246.6" r="1.05"/><circle cx="70.4" cy="246.1" r="1.05"/><circle cx="73.8" cy="245.5" r="1.05"/><circle cx="77.2" cy="245" r="1.05"/><circle cx="80.6" cy="244.4" r="1.05"/><circle cx="84" cy="243.7" r="1.05"/><circle cx="87.4" cy="243" r="1.05"/><circle cx="90.8" cy="242.2" r="1.05"/><circle cx="94.2" cy="241.4" r="1.05"/><circle cx="97.6" cy="240.5" r="1.05"/><circle cx="101" cy="239.6" r="1.05"/><circle cx="104.4" cy="238.7" r="1.05"/><circle cx="107.8" cy="237.6" r="1.05"/><circle cx="111.2" cy="236.4" r="1.05"/><circle cx="114.6" cy="235" r="1.05"/><circle cx="39.8" cy="238.9" r="1.05"/><circle cx="43.2" cy="238.7" r="1.05"/><circle cx="46.6" cy="238.5" r="1.05"/><circle cx="50" cy="238.3" r="1.05"/><circle cx="53.4" cy="238" r="1.05"/><circle cx="56.8" cy="237.6" r="1.05"/><circle cx="60.2" cy="237.2" r="1.05"/><circle cx="63.6" cy="236.8" r="1.05"/><circle cx="67" cy="236.2" r="1.05"/><circle cx="70.4" cy="235.6" r="1.05"/><circle cx="73.8" cy="235" r="1.05"/><circle cx="77.2" cy="234.4" r="1.05"/><circle cx="155.4" cy="234.6" r="1.05"/><circle cx="158.8" cy="236.1" r="1.05"/><circle cx="162.2" cy="237.4" r="1.05"/><circle cx="165.6" cy="238.9" r="1.05"/><circle cx="169" cy="241.1" r="1.05"/><circle cx="172.4" cy="243.7" r="1.05"/><circle cx="175.8" cy="246.1" r="1.05"/><circle cx="179.2" cy="248.5" r="1.05"/><circle cx="182.6" cy="250.7" r="1.05"/><circle cx="186" cy="252.6" r="1.05"/><circle cx="189.4" cy="253.9" r="1.05"/><circle cx="158.8" cy="234.8" r="1.05"/><circle cx="162.2" cy="236.4" r="1.05"/><circle cx="165.6" cy="237.7" r="1.05"/><circle cx="169" cy="239.6" r="1.05"/><circle cx="172.4" cy="242.2" r="1.05"/><circle cx="175.8" cy="244.6" r="1.05"/><circle cx="179.2" cy="246.9" r="1.05"/><circle cx="182.6" cy="249.1" r="1.05"/><circle cx="186" cy="251.4" r="1.05"/><circle cx="189.4" cy="252.9" r="1.05"/><circle cx="192.8" cy="254" r="1.05"/><circle cx="158.8" cy="235.5" r="1.05"/><circle cx="162.2" cy="238.7" r="1.05"/><circle cx="165.6" cy="242.6" r="1.05"/><circle cx="169" cy="246" r="1.05"/><circle cx="172.4" cy="248.2" r="1.05"/><circle cx="175.8" cy="250.3" r="1.05"/><circle cx="179.2" cy="253.1" r="1.05"/><circle cx="182.6" cy="255.7" r="1.05"/><circle cx="186" cy="257.4" r="1.05"/><circle cx="189.4" cy="258.7" r="1.05"/><circle cx="192.8" cy="259.9" r="1.05"/><circle cx="196.2" cy="261.1" r="1.05"/><circle cx="158.8" cy="235" r="1.05"/><circle cx="162.2" cy="240.7" r="1.05"/><circle cx="165.6" cy="245.2" r="1.05"/><circle cx="169" cy="248.6" r="1.05"/><circle cx="172.4" cy="251.4" r="1.05"/><circle cx="175.8" cy="254.2" r="1.05"/><circle cx="179.2" cy="256.7" r="1.05"/><circle cx="182.6" cy="258.9" r="1.05"/><circle cx="186" cy="260.8" r="1.05"/><circle cx="189.4" cy="262.7" r="1.05"/><circle cx="192.8" cy="264.3" r="1.05"/><circle cx="196.2" cy="265.4" r="1.05"/><circle cx="199.6" cy="266.1" r="1.05"/><circle cx="203" cy="266.6" r="1.05"/><circle cx="169" cy="234.4" r="1.05"/><circle cx="172.4" cy="236.6" r="1.05"/><circle cx="175.8" cy="239" r="1.05"/><circle cx="179.2" cy="241.3" r="1.05"/><circle cx="152" cy="338.1" r="1.05"/><circle cx="155.4" cy="338.7" r="1.05"/><circle cx="158.8" cy="339.1" r="1.05"/><circle cx="162.2" cy="339.4" r="1.05"/><circle cx="165.6" cy="339.5" r="1.05"/><circle cx="169" cy="339.4" r="1.05"/><circle cx="172.4" cy="339.2" r="1.05"/><circle cx="175.8" cy="339" r="1.05"/><circle cx="179.2" cy="338.6" r="1.05"/><circle cx="182.6" cy="338" r="1.05"/><circle cx="186" cy="337.3" r="1.05"/><circle cx="189.4" cy="336.4" r="1.05"/><circle cx="192.8" cy="335.1" r="1.05"/><circle cx="196.2" cy="333.3" r="1.05"/><circle cx="199.6" cy="331.1" r="1.05"/><circle cx="203" cy="328.5" r="1.05"/><circle cx="206.4" cy="325.4" r="1.05"/><circle cx="209.8" cy="321.9" r="1.05"/><circle cx="97.6" cy="375.5" r="1.05"/><circle cx="101" cy="373.1" r="1.05"/><circle cx="104.4" cy="370.8" r="1.05"/><circle cx="107.8" cy="368.4" r="1.05"/><circle cx="111.2" cy="365.8" r="1.05"/><circle cx="114.6" cy="363" r="1.05"/><circle cx="118" cy="360" r="1.05"/><circle cx="121.4" cy="357.1" r="1.05"/><circle cx="124.8" cy="354.1" r="1.05"/><circle cx="128.2" cy="351.3" r="1.05"/><circle cx="131.6" cy="348.4" r="1.05"/><circle cx="135" cy="345.7" r="1.05"/><circle cx="138.4" cy="343.3" r="1.05"/><circle cx="141.8" cy="341.4" r="1.05"/><circle cx="145.2" cy="339.8" r="1.05"/><circle cx="148.6" cy="338.6" r="1.05"/><circle cx="152" cy="337.8" r="1.05"/><circle cx="155.4" cy="337.4" r="1.05"/><circle cx="158.8" cy="337.8" r="1.05"/><circle cx="162.2" cy="338.8" r="1.05"/><circle cx="165.6" cy="340.8" r="1.05"/><circle cx="169" cy="345" r="1.05"/><circle cx="172.4" cy="349.3" r="1.05"/><circle cx="175.8" cy="353.6" r="1.05"/><circle cx="179.2" cy="357.8" r="1.05"/><circle cx="182.6" cy="362.2" r="1.05"/><circle cx="186" cy="367.7" r="1.05"/><circle cx="189.4" cy="373.6" r="1.05"/><circle cx="111.2" cy="375.9" r="1.05"/><circle cx="114.6" cy="372.6" r="1.05"/><circle cx="118" cy="369.4" r="1.05"/><circle cx="121.4" cy="366.1" r="1.05"/><circle cx="124.8" cy="362.7" r="1.05"/><circle cx="128.2" cy="359.5" r="1.05"/><circle cx="131.6" cy="356.3" r="1.05"/><circle cx="135" cy="353.2" r="1.05"/><circle cx="138.4" cy="350.4" r="1.05"/><circle cx="141.8" cy="348.1" r="1.05"/><circle cx="145.2" cy="346.2" r="1.05"/><circle cx="148.6" cy="344.6" r="1.05"/><circle cx="152" cy="343.4" r="1.05"/><circle cx="155.4" cy="342.7" r="1.05"/><circle cx="158.8" cy="343.1" r="1.05"/><circle cx="162.2" cy="343.9" r="1.05"/><circle cx="165.6" cy="345.7" r="1.05"/><circle cx="169" cy="349.4" r="1.05"/><circle cx="172.4" cy="353.1" r="1.05"/><circle cx="175.8" cy="356.8" r="1.05"/><circle cx="179.2" cy="360.6" r="1.05"/><circle cx="182.6" cy="364.4" r="1.05"/><circle cx="186" cy="369.2" r="1.05"/><circle cx="189.4" cy="374.4" r="1.05"/><circle cx="121.4" cy="375" r="1.05"/><circle cx="124.8" cy="371.3" r="1.05"/><circle cx="128.2" cy="367.7" r="1.05"/><circle cx="131.6" cy="364.2" r="1.05"/><circle cx="135" cy="360.7" r="1.05"/><circle cx="138.4" cy="357.5" r="1.05"/><circle cx="141.8" cy="354.9" r="1.05"/><circle cx="145.2" cy="352.5" r="1.05"/><circle cx="148.6" cy="350.6" r="1.05"/><circle cx="152" cy="349.1" r="1.05"/><circle cx="155.4" cy="347.9" r="1.05"/><circle cx="158.8" cy="348.3" r="1.05"/><circle cx="162.2" cy="349" r="1.05"/><circle cx="165.6" cy="350.5" r="1.05"/><circle cx="169" cy="353.7" r="1.05"/><circle cx="172.4" cy="356.9" r="1.05"/><circle cx="175.8" cy="360.1" r="1.05"/><circle cx="179.2" cy="363.3" r="1.05"/><circle cx="182.6" cy="366.6" r="1.05"/><circle cx="186" cy="370.7" r="1.05"/><circle cx="189.4" cy="375.2" r="1.05"/><circle cx="128.2" cy="375.9" r="1.05"/><circle cx="131.6" cy="372" r="1.05"/><circle cx="135" cy="368.1" r="1.05"/><circle cx="138.4" cy="364.6" r="1.05"/><circle cx="141.8" cy="361.6" r="1.05"/><circle cx="145.2" cy="358.9" r="1.05"/><circle cx="148.6" cy="356.6" r="1.05"/><circle cx="152" cy="354.7" r="1.05"/><circle cx="155.4" cy="353.2" r="1.05"/><circle cx="158.8" cy="353.5" r="1.05"/><circle cx="162.2" cy="354.1" r="1.05"/><circle cx="165.6" cy="355.3" r="1.05"/><circle cx="169" cy="358" r="1.05"/><circle cx="172.4" cy="360.7" r="1.05"/><circle cx="175.8" cy="363.4" r="1.05"/><circle cx="179.2" cy="366" r="1.05"/><circle cx="182.6" cy="368.8" r="1.05"/><circle cx="186" cy="372.2" r="1.05"/><circle cx="189.4" cy="375.9" r="1.05"/><circle cx="135" cy="375.6" r="1.05"/><circle cx="138.4" cy="371.7" r="1.05"/><circle cx="141.8" cy="368.4" r="1.05"/><circle cx="145.2" cy="365.3" r="1.05"/><circle cx="148.6" cy="362.6" r="1.05"/><circle cx="152" cy="360.3" r="1.05"/><circle cx="155.4" cy="358.5" r="1.05"/><circle cx="158.8" cy="358.7" r="1.05"/><circle cx="162.2" cy="359.2" r="1.05"/><circle cx="165.6" cy="360.2" r="1.05"/><circle cx="169" cy="362.3" r="1.05"/><circle cx="172.4" cy="364.5" r="1.05"/><circle cx="175.8" cy="366.6" r="1.05"/><circle cx="179.2" cy="368.8" r="1.05"/><circle cx="182.6" cy="371" r="1.05"/><circle cx="186" cy="373.7" r="1.05"/><circle cx="141.8" cy="375.1" r="1.05"/><circle cx="145.2" cy="371.7" r="1.05"/><circle cx="148.6" cy="368.7" r="1.05"/><circle cx="152" cy="366" r="1.05"/><circle cx="155.4" cy="363.7" r="1.05"/><circle cx="158.8" cy="363.9" r="1.05"/><circle cx="162.2" cy="364.3" r="1.05"/><circle cx="165.6" cy="365" r="1.05"/><circle cx="169" cy="366.6" r="1.05"/><circle cx="172.4" cy="368.2" r="1.05"/><circle cx="175.8" cy="369.9" r="1.05"/><circle cx="179.2" cy="371.5" r="1.05"/><circle cx="182.6" cy="373.2" r="1.05"/><circle cx="186" cy="375.3" r="1.05"/><circle cx="148.6" cy="374.7" r="1.05"/><circle cx="152" cy="371.6" r="1.05"/><circle cx="155.4" cy="369" r="1.05"/><circle cx="158.8" cy="369.1" r="1.05"/><circle cx="162.2" cy="369.4" r="1.05"/><circle cx="165.6" cy="369.9" r="1.05"/><circle cx="169" cy="371" r="1.05"/><circle cx="172.4" cy="372" r="1.05"/><circle cx="175.8" cy="373.1" r="1.05"/><circle cx="179.2" cy="374.2" r="1.05"/><circle cx="182.6" cy="375.4" r="1.05"/><circle cx="155.4" cy="374.3" r="1.05"/><circle cx="158.8" cy="374.3" r="1.05"/><circle cx="162.2" cy="374.5" r="1.05"/><circle cx="165.6" cy="374.7" r="1.05"/><circle cx="169" cy="375.3" r="1.05"/><circle cx="172.4" cy="375.8" r="1.05"/><circle cx="101" cy="374.2" r="1.05"/><circle cx="104.4" cy="371.9" r="1.05"/><circle cx="107.8" cy="369.5" r="1.05"/><circle cx="111.2" cy="366.9" r="1.05"/><circle cx="114.6" cy="364" r="1.05"/><circle cx="118" cy="361.1" r="1.05"/><circle cx="121.4" cy="358.2" r="1.05"/><circle cx="124.8" cy="355.2" r="1.05"/><circle cx="128.2" cy="352.3" r="1.05"/><circle cx="131.6" cy="349.5" r="1.05"/><circle cx="135" cy="346.7" r="1.05"/><circle cx="138.4" cy="344.3" r="1.05"/><circle cx="141.8" cy="342.4" r="1.05"/><circle cx="145.2" cy="340.8" r="1.05"/><circle cx="148.6" cy="339.7" r="1.05"/><circle cx="152" cy="338.8" r="1.05"/><circle cx="155.4" cy="338.4" r="1.05"/><circle cx="158.8" cy="338.9" r="1.05"/><circle cx="162.2" cy="339.9" r="1.05"/><circle cx="165.6" cy="341.9" r="1.05"/><circle cx="169" cy="346.1" r="1.05"/><circle cx="172.4" cy="350.3" r="1.05"/><circle cx="175.8" cy="354.6" r="1.05"/><circle cx="179.2" cy="358.9" r="1.05"/><circle cx="182.6" cy="363.3" r="1.05"/><circle cx="186" cy="368.8" r="1.05"/><circle cx="189.4" cy="374.7" r="1.05"/></g><rect x="48.9" y="308.9" width="79" height="56.6" fill="#7acbfc"/><path d="M48.9 329.6H95.3L75.5 365.5H48.9Z" fill="#f3bfd0"/><clipPath id="ci308b"><path d="M48.9 308.9H127.9V365.5H75.5L95.3 329.6H48.9Z"/></clipPath><clipPath id="ci308p"><path d="M48.9 329.6H95.3L75.5 365.5H48.9Z"/></clipPath><g clip-path="url(#ci308b)" fill="#fff"><circle cx="37.1" cy="315.8" r="2.4"/><circle cx="50.9" cy="315.8" r="2.4"/><circle cx="64.7" cy="315.8" r="2.4"/><circle cx="78.5" cy="315.8" r="2.4"/><circle cx="92.3" cy="315.8" r="2.4"/><circle cx="106.1" cy="315.8" r="2.4"/><circle cx="119.9" cy="315.8" r="2.4"/><circle cx="133.7" cy="315.8" r="2.4"/><circle cx="44" cy="327.6" r="2.4"/><circle cx="57.8" cy="327.6" r="2.4"/><circle cx="71.6" cy="327.6" r="2.4"/><circle cx="85.4" cy="327.6" r="2.4"/><circle cx="99.2" cy="327.6" r="2.4"/><circle cx="113" cy="327.6" r="2.4"/><circle cx="126.8" cy="327.6" r="2.4"/><circle cx="140.6" cy="327.6" r="2.4"/><circle cx="37.1" cy="339.5" r="2.4"/><circle cx="50.9" cy="339.5" r="2.4"/><circle cx="64.7" cy="339.5" r="2.4"/><circle cx="78.5" cy="339.5" r="2.4"/><circle cx="92.3" cy="339.5" r="2.4"/><circle cx="106.1" cy="339.5" r="2.4"/><circle cx="119.9" cy="339.5" r="2.4"/><circle cx="133.7" cy="339.5" r="2.4"/><circle cx="44" cy="351.4" r="2.4"/><circle cx="57.8" cy="351.4" r="2.4"/><circle cx="71.6" cy="351.4" r="2.4"/><circle cx="85.4" cy="351.4" r="2.4"/><circle cx="99.2" cy="351.4" r="2.4"/><circle cx="113" cy="351.4" r="2.4"/><circle cx="126.8" cy="351.4" r="2.4"/><circle cx="140.6" cy="351.4" r="2.4"/><circle cx="37.1" cy="363.2" r="2.4"/><circle cx="50.9" cy="363.2" r="2.4"/><circle cx="64.7" cy="363.2" r="2.4"/><circle cx="78.5" cy="363.2" r="2.4"/><circle cx="92.3" cy="363.2" r="2.4"/><circle cx="106.1" cy="363.2" r="2.4"/><circle cx="119.9" cy="363.2" r="2.4"/><circle cx="133.7" cy="363.2" r="2.4"/></g><g clip-path="url(#ci308p)" fill="#fff"><circle cx="37.1" cy="331.6" r="2.4"/><circle cx="50.9" cy="331.6" r="2.4"/><circle cx="64.7" cy="331.6" r="2.4"/><circle cx="78.5" cy="331.6" r="2.4"/><circle cx="92.3" cy="331.6" r="2.4"/><circle cx="106.1" cy="331.6" r="2.4"/><circle cx="119.9" cy="331.6" r="2.4"/><circle cx="133.7" cy="331.6" r="2.4"/><circle cx="44" cy="343.4" r="2.4"/><circle cx="57.8" cy="343.4" r="2.4"/><circle cx="71.6" cy="343.4" r="2.4"/><circle cx="85.4" cy="343.4" r="2.4"/><circle cx="99.2" cy="343.4" r="2.4"/><circle cx="113" cy="343.4" r="2.4"/><circle cx="126.8" cy="343.4" r="2.4"/><circle cx="140.6" cy="343.4" r="2.4"/><circle cx="37.1" cy="355.3" r="2.4"/><circle cx="50.9" cy="355.3" r="2.4"/><circle cx="64.7" cy="355.3" r="2.4"/><circle cx="78.5" cy="355.3" r="2.4"/><circle cx="92.3" cy="355.3" r="2.4"/><circle cx="106.1" cy="355.3" r="2.4"/><circle cx="119.9" cy="355.3" r="2.4"/><circle cx="133.7" cy="355.3" r="2.4"/><circle cx="44" cy="367.1" r="2.4"/><circle cx="57.8" cy="367.1" r="2.4"/><circle cx="71.6" cy="367.1" r="2.4"/><circle cx="85.4" cy="367.1" r="2.4"/><circle cx="99.2" cy="367.1" r="2.4"/><circle cx="113" cy="367.1" r="2.4"/><circle cx="126.8" cy="367.1" r="2.4"/><circle cx="140.6" cy="367.1" r="2.4"/></g><path d="M39.8 235H209.8V375.5" stroke="#aaa" stroke-width="1" fill="none"/><path d="M39.8 235V375.5H209.8" stroke="#999" stroke-width="1.1" fill="none"/><path d="M39.8 375.5v1.6M73.8 375.5v1.6M107.8 375.5v1.6M141.8 375.5v1.6M175.8 375.5v1.6M209.8 375.5v1.6M39.8 375.5h-1.6M39.8 357.9h-1.6M39.8 340.4h-1.6M39.8 322.8h-1.6M39.8 305.3h-1.6M39.8 287.7h-1.6M39.8 270.1h-1.6M39.8 252.6h-1.6M39.8 235h-1.6" stroke="#888" stroke-width="0.8" fill="none"/><text x="39.8" y="385.8" font-size="8.7" text-anchor="middle" font-weight="normal" font-style="normal" fill="#333" >0.0</text><text x="73.8" y="385.8" font-size="8.7" text-anchor="middle" font-weight="normal" font-style="normal" fill="#333" >0.1</text><text x="107.8" y="385.8" font-size="8.7" text-anchor="middle" font-weight="normal" font-style="normal" fill="#333" >0.2</text><text x="141.8" y="385.8" font-size="8.7" text-anchor="middle" font-weight="normal" font-style="normal" fill="#333" >0.3</text><text x="175.8" y="385.8" font-size="8.7" text-anchor="middle" font-weight="normal" font-style="normal" fill="#333" >0.4</text><text x="209.8" y="385.8" font-size="8.7" text-anchor="middle" font-weight="normal" font-style="normal" fill="#333" >0.5</text><text x="36.3" y="378.2" font-size="8.7" text-anchor="end" font-weight="normal" font-style="normal" fill="#333" >0.24</text><text x="36.3" y="360.6" font-size="8.7" text-anchor="end" font-weight="normal" font-style="normal" fill="#333" >0.25</text><text x="36.3" y="343.1" font-size="8.7" text-anchor="end" font-weight="normal" font-style="normal" fill="#333" >0.26</text><text x="36.3" y="325.5" font-size="8.7" text-anchor="end" font-weight="normal" font-style="normal" fill="#333" >0.27</text><text x="36.3" y="308" font-size="8.7" text-anchor="end" font-weight="normal" font-style="normal" fill="#333" >0.28</text><text x="36.3" y="290.4" font-size="8.7" text-anchor="end" font-weight="normal" font-style="normal" fill="#333" >0.29</text><text x="36.3" y="272.8" font-size="8.7" text-anchor="end" font-weight="normal" font-style="normal" fill="#333" >0.30</text><text x="36.3" y="255.3" font-size="8.7" text-anchor="end" font-weight="normal" font-style="normal" fill="#333" >0.31</text><text x="36.3" y="237.7" font-size="8.7" text-anchor="end" font-weight="normal" font-style="normal" fill="#333" >0.32</text><text x="108.1" y="397.8" font-size="11.8" font-style="italic" fill="#222"><tspan font-style="normal">2</tspan>πk<tspan font-size="9" dy="2.2">x</tspan><tspan dy="-2.2">/a</tspan></text><text transform="translate(15.3 305) rotate(-90)" x="0" y="0" font-size="11" text-anchor="middle" font-style="italic" fill="#222">a/λ</text><path d="M219.5 336.6V290.9" stroke="#000" stroke-width="1.9"/><path d="M219.5 283.1L223.7 290.9L215.3 290.9Z" fill="#000"/><circle cx="219.5" cy="336.6" r="4.1" fill="#000"/><clipPath id="clipt17"><rect x="294" y="17.5" width="171" height="137.9"/></clipPath><g clip-path="url(#clipt17)" fill="none" stroke-linejoin="round"><polyline points="294.3,37.5 295.1,51 296.3,60.3 297.9,56.6 299.4,71.4 301.3,48.6 303.1,47.3 305,38.7 306.8,36.2 308,40 309.5,38 311.1,37.5 312.4,41.2 314,47 315.5,54.8 316.7,41.2 317.5,40.3 424.2,40.3 425.3,52 425.9,58 426.6,8 427.3,40 428.4,46 429.6,62 430.8,72 432,52 433.5,48 435,60 436.8,8 437.8,8 443.3,160 444.2,8 446.2,122 448.9,160 451,150 454.4,148.2 456,160 462.8,8 463.7,160 464.5,8" stroke="#555" stroke-width="0.8"/><polyline points="294,118.9 294.2,118.8 294.5,118.7 294.9,118.9 295.3,120 295.7,122.2 296.1,125.3 296.6,128.7 297,132 297.4,135.6 297.9,139.7 298.3,143 298.7,144.4 299.1,143.1 299.4,139.8 299.8,136 300.1,133 300.4,130.8 300.7,128.9 301,127.6 301.3,127.3 301.6,128.5 301.9,130.8 302.2,133.6 302.5,136 302.8,138.4 303,141 303.3,142.9 303.6,143.3 303.9,141.4 304.3,137.9 304.6,134 305,131 305.3,129.1 305.7,127.8 306,126.7 306.4,125.6 306.8,125.2 307.2,125.5 307.6,124.9 308,122 308.3,115.3 308.7,105.8 309,96.5 309.3,90 309.6,87 310,86.1 310.4,86.9 310.7,88.9 311,92.6 311.4,98 311.7,104.1 312,110 312.3,116.9 312.6,124.7 312.8,130.8 313.1,132.2 313.4,126.7 313.7,116.3 314,104.6 314.3,95 314.6,87.1 314.8,79.5 315.1,74.3 315.3,73.3 315.5,78.7 315.6,88.8 315.8,100.4 315.9,110 316,118.8 316.1,127.9 316.3,133.9 316.4,133.3 316.5,122.7 316.7,104.7 316.9,85.2 317,70 317.1,60.5 317.2,53.7 317.3,48.7 317.4,45 317.6,42.8 317.9,42.4 318.2,42.8 318.5,43 318.8,43 319.2,43.2 319.6,43.4 320,43.5 320.4,43.3 320.9,42.9 321.4,42.5 321.8,42.3 322.2,42.4 322.6,42.6 322.9,42.9 323.3,43 323.6,42.8 324,42.4 324.3,42 324.6,41.9 324.9,42.1 325.3,42.4 325.6,42.8 326,43.3 326.4,43.9 326.7,44.5 327.1,45.1 327.5,45.4 327.9,45.2 328.2,44.8 328.6,44.3 329,44 329.4,44.1 329.8,44.3 330.2,44.6 330.6,44.6 330.9,44.3 331.3,43.9 331.6,43.4 331.9,43 332.2,42.7 332.6,42.4 332.9,42.3 333.3,42.3 333.7,42.5 334.1,42.9 334.4,43.4 334.8,44 335.1,44.8 335.5,45.7 335.8,46.5 336.1,47 336.4,47 336.8,46.6 337.1,46 337.5,45.5 337.9,45 338.4,44.4 338.9,43.8 339.3,43.3 339.7,42.8 340,42.4 340.4,42.1 340.7,42.1 341.1,42.6 341.5,43.4 341.8,44.3 342.2,45.2 342.5,46.1 342.8,47 343.2,47.7 343.5,48.1 343.9,47.9 344.2,47.3 344.6,46.5 345,45.8 345.4,45.2 345.8,44.6 346.1,44 346.5,43.5 346.9,43.1 347.2,42.7 347.6,42.4 348,42.4 348.4,42.7 348.8,43.4 349.2,44 349.5,44.2 349.8,43.8 350.1,43 350.3,42.3 350.6,42 350.9,42.3 351.3,42.9 351.7,43.8 352,44.8 352.3,46.2 352.5,48.1 352.8,49.7 353,50.5 353.2,50.2 353.4,49.1 353.7,47.7 354,46.5 354.4,45.5 354.9,44.5 355.3,43.7 355.8,43 356.2,42.6 356.7,42.4 357.1,42.4 357.5,42.5 357.9,42.7 358.3,43 358.6,43.3 359,43.8 359.4,44.4 359.7,45.2 360,45.9 360.4,46.5 360.8,46.9 361.2,47.2 361.6,47.2 362,47.1 362.4,46.6 362.8,45.8 363.2,44.9 363.6,44.2 364.1,43.6 364.5,43.1 365,42.7 365.5,42.5 365.9,42.6 366.4,42.8 366.8,43.2 367.2,43.6 367.5,44 367.9,44.5 368.2,45 368.5,45.5 368.8,46 369.2,46.6 369.6,47 370,47 370.5,46.4 370.9,45.3 371.4,44.2 372,43.4 372.6,43 373.3,42.8 373.9,42.8 374.6,42.9 375.3,43 375.9,43.3 376.6,43.7 377.2,44.4 377.8,45.8 378.4,47.8 379.1,49.5 379.7,50 380.3,48.8 381,46.3 381.7,43.7 382.3,41.9 382.9,41.2 383.6,41 384.2,41.2 384.8,41.4 385.5,41.6 386.1,41.9 386.8,42.3 387.4,42.9 387.9,43.8 388.4,45.1 388.9,46.1 389.4,46.5 390,45.8 390.7,44.3 391.3,42.8 392,41.9 392.6,42 393.3,42.8 393.9,43.6 394.5,43.9 395,43.4 395.6,42.4 396.1,41.5 396.6,41.4 397.2,42.7 397.9,44.9 398.5,47 399.1,48 399.7,47.5 400.2,46 400.7,44.2 401.2,42.9 401.7,42.2 402.2,41.7 402.7,41.5 403.2,41.4 403.7,41.5 404.2,41.8 404.7,42.3 405.3,42.9 406,43.9 406.8,45.1 407.6,46.2 408.3,46.5 408.9,45.7 409.4,44.1 409.9,42.4 410.4,41.4 410.9,41.3 411.4,41.8 411.9,42.4 412.4,42.9 413,43 413.7,43.1 414.4,43.2 415,43.4 415.5,44 416,44.9 416.5,45.7 417,46 417.5,45.6 418,44.8 418.5,43.8 419,42.9 419.4,42.1 419.8,41.3 420.2,40.7 420.6,40.3 421,40.3 421.5,40.7 421.8,41.1 422.1,41.4 424.2,42.9 425,47 425.6,35 426.3,8 427.1,8 427.8,66 428.6,40 429.4,29 430.2,50 431,33 431.8,54 432.6,36 433.5,52 435,89.4 436.5,8 437.2,8" stroke="#e8403f" stroke-width="0.85"/><polyline points="437.2,8 439.4,83.3 440.5,8 443.7,126.7 444.6,8 446.7,160 448,8 451.9,160 452.9,8 454.5,120 457,8 458,8 459.3,160 460.5,8 462.2,160 462.8,8" stroke="#e8403f" stroke-width="0.8" opacity="0.72"/></g><rect x="294" y="17.5" width="171" height="137.9" fill="none" stroke="#777" stroke-width="0.9"/><path d="M294 155.4v2.0M294 17.5v2.0M310.1 155.4v1.2M310.1 17.5v1.2M326.2 155.4v2.0M326.2 17.5v2.0M342.3 155.4v1.2M342.3 17.5v1.2M358.4 155.4v2.0M358.4 17.5v2.0M374.5 155.4v1.2M374.5 17.5v1.2M390.6 155.4v2.0M390.6 17.5v2.0M406.7 155.4v1.2M406.7 17.5v1.2M422.8 155.4v2.0M422.8 17.5v2.0M438.9 155.4v1.2M438.9 17.5v1.2M455 155.4v2.0M455 17.5v2.0M294 155.4h-2.0M465 155.4h-2.0M294 143.9h-1.2M465 143.9h-1.2M294 132.4h-2.0M465 132.4h-2.0M294 120.9h-1.2M465 120.9h-1.2M294 109.4h-2.0M465 109.4h-2.0M294 97.9h-1.2M465 97.9h-1.2M294 86.4h-2.0M465 86.4h-2.0M294 75h-1.2M465 75h-1.2M294 63.5h-2.0M465 63.5h-2.0M294 52h-1.2M465 52h-1.2M294 40.5h-2.0M465 40.5h-2.0M294 29h-1.2M465 29h-1.2M294 17.5h-2.0M465 17.5h-2.0" stroke="#666" stroke-width="0.8" fill="none"/><text x="294" y="168.6" font-size="10.2" text-anchor="middle" font-weight="normal" font-style="normal" fill="#222" >0.26</text><text x="326.2" y="168.6" font-size="10.2" text-anchor="middle" font-weight="normal" font-style="normal" fill="#222" >0.27</text><text x="358.4" y="168.6" font-size="10.2" text-anchor="middle" font-weight="normal" font-style="normal" fill="#222" >0.28</text><text x="390.6" y="168.6" font-size="10.2" text-anchor="middle" font-weight="normal" font-style="normal" fill="#222" >0.29</text><text x="422.8" y="168.6" font-size="10.2" text-anchor="middle" font-weight="normal" font-style="normal" fill="#222" >0.30</text><text x="455" y="168.6" font-size="10.2" text-anchor="middle" font-weight="normal" font-style="normal" fill="#222" >0.31</text><text x="290.4" y="159" font-size="10.2" text-anchor="end" font-weight="normal" font-style="normal" fill="#222" >0.0</text><text x="290.4" y="136" font-size="10.2" text-anchor="end" font-weight="normal" font-style="normal" fill="#222" >0.2</text><text x="290.4" y="113" font-size="10.2" text-anchor="end" font-weight="normal" font-style="normal" fill="#222" >0.4</text><text x="290.4" y="90" font-size="10.2" text-anchor="end" font-weight="normal" font-style="normal" fill="#222" >0.6</text><text x="290.4" y="67.1" font-size="10.2" text-anchor="end" font-weight="normal" font-style="normal" fill="#222" >0.8</text><text x="290.4" y="44.1" font-size="10.2" text-anchor="end" font-weight="normal" font-style="normal" fill="#222" >1.0</text><text x="290.4" y="21.1" font-size="10.2" text-anchor="end" font-weight="normal" font-style="normal" fill="#222" >1.2</text><text x="379" y="185.9" font-size="10.8" text-anchor="middle" font-weight="normal" font-style="normal" fill="#222" >frequency (a/λ)</text><text transform="translate(265.5 84) rotate(-90)" font-size="10.8" text-anchor="middle" fill="#222">transmittance</text><rect x="335.3" y="101.3" width="75.1" height="28.9" fill="#fff" stroke="#ccc" stroke-width="0.8"/><path d="M336.6 109.1h24.3" stroke="#555" stroke-width="0.9"/><path d="M336.6 122.3h24.3" stroke="#e8403f" stroke-width="0.9"/><text x="364.3" y="112.8" font-size="10.5" text-anchor="start" font-weight="normal" font-style="normal" fill="#222" >Straight</text><text x="364.3" y="126.1" font-size="10.5" text-anchor="start" font-weight="normal" font-style="normal" fill="#222" >Z-shaped</text><path d="M320.1 29.8H419.5" stroke="#000" stroke-width="2.1"/><path d="M426.7 29.8L419 26.1V33.5Z" fill="#000"/><circle cx="320.1" cy="29.8" r="4.1" fill="#000"/><clipPath id="clipt233"><rect x="295.2" y="233.4" width="171.2" height="137.6"/></clipPath><g clip-path="url(#clipt233)" fill="none" stroke-linejoin="round"><polyline points="295.8,226 295.9,226.2 296,226.4 296.1,226.7 296.2,227 296.4,227.5 296.6,228 296.8,228.7 297.1,229.5 297.4,230.4 297.6,231.3 297.9,232.2 298.2,233 298.5,233.7 298.8,234.3 299.1,234.9 299.3,235.6 299.6,236.2 299.8,236.9 300,237.7 300.1,238.5 300.3,239.3 300.4,240.2 300.5,241.1 300.6,242 300.7,243 300.9,244 301,245 301.1,246 301.3,247 301.4,248 301.5,248.9 301.7,249.8 301.8,250.7 302,251.5 302.2,252.3 302.4,253 302.6,253.6 302.9,254.1 303.1,254.6 303.4,255 303.7,255.3 304,255.6 304.3,255.8 304.6,256 304.9,256.1 305.2,256.2 305.6,256.3 306,256.4 305.4,256.5 303.7,256.5 302.1,256.6 301.6,256.6 303.5,256.7 309,256.7 319.9,256.7 335.5,256.7 353.6,256.7 371.6,256.8 387.2,256.8 398,256.8 403.4,256.9 405.2,256.9 404.6,257 402.7,257.1 400.8,257.2 400,257.2 402,256.5 404,256 406.7,255.5 408.5,254.2 410,253.8 411.5,255 413.3,256.2 415,257.5 416.8,258 418.5,257 420,257.5 421.8,256.3 423.5,255 425.2,253.8 426.5,251 427.7,248.8 428.5,252 429.4,257.2 430.2,264 431,269 432,258 432.7,248.8 433.6,238 434.4,231 435.3,238 436.1,248.8 437,255 437.8,260.5 438.7,275 439.5,287.4 440.3,280 441.1,275.7 442,284 442.8,290.8 443.6,262 444.5,237 445,228 446.5,228 447,233.7 447.9,246 448.7,257.2 449.5,266 450.4,274 451.2,276 452,275.7 452.9,280 453.7,284 454.6,299 455.5,305 456.3,310 457.2,322 458.1,333.3 459,352 459.9,366.5 461.3,367.5 462.8,367.2 463.6,358 464.3,347.8 465.4,318.7 466.4,300" stroke="#7a7a7a" stroke-width="1.0"/><polyline points="296,374 296.1,365.9 296.3,354.8 296.4,341.6 296.6,327.4 296.8,313.2 297,300 297.2,286 297.3,269.9 297.5,253.8 297.6,239.7 297.8,229.8 298,226 298.2,229.9 298.5,240.2 298.7,254.6 299,270.9 299.2,286.8 299.5,300 299.8,312 300.1,324.7 300.4,337.1 300.7,347.9 301,355.9 301.3,360 301.6,359.2 302,354.3 302.4,346.6 302.7,337.4 303.1,328.1 303.5,320 303.9,311.7 304.3,302 304.7,292.2 305.2,283.5 305.6,277.3 306,275 306.4,277.4 306.9,283.7 307.3,292.5 307.7,302.4 308.1,312 308.5,320 308.9,326.8 309.2,333.6 309.6,340.1 309.9,346.1 310.2,351.1 310.5,355 310.8,357.6 311,359.2 311.2,360 311.5,360 311.7,359.4 312,358.3 312.3,356.9 312.6,355 313,352.5 313.3,349.2 313.7,345.1 314,340 314.3,333.3 314.7,324.9 315,315.7 315.3,306.4 315.7,297.5 316,290 316.3,283.4 316.7,277 317,271.1 317.3,266.1 317.7,262.3 318,260 318.3,259.2 318.6,259.7 319,261.4 319.3,264.1 319.6,267.7 320,272 320.4,277.6 320.8,284.8 321.2,292.9 321.6,301.1 322.1,308.7 322.5,315 323,320.5 323.4,326 323.9,330.8 324.4,334.6 324.9,336.7 325.3,336.7 325.7,334 326.1,329 326.4,322.3 326.7,314.8 327.1,307.1 327.5,300 327.9,292.8 328.4,284.9 328.9,276.8 329.4,269.2 329.9,262.9 330.3,258.3 330.6,255.9 330.9,255.3 331.2,255.9 331.5,257 331.7,258.3 332,259 332.3,259.3 332.5,259.7 332.8,260.2 333,260.7 333.3,261.2 333.7,261.7 334.2,262.2 334.7,262.6 335.2,263.1 335.8,263.6 336.4,264.2 337,265 337.6,266.1 338.2,267.6 338.7,269.2 339.3,270.6 339.8,271.5 340.3,271.7 340.7,271 341,269.5 341.3,267.5 341.5,265.4 341.7,263.5 342,262 342.3,261 342.5,260.1 342.8,259.5 343.1,258.9 343.4,258.6 343.7,258.3 344,258.2 344.4,258.4 344.8,258.6 345.2,259 345.6,259.3 346,259.5 346.4,259.6 346.9,259.6 347.3,259.5 347.8,259.5 348.3,259.7 348.7,260 349.1,260.6 349.5,261.3 349.9,262.2 350.2,263.2 350.6,264.1 351,265 351.4,266 351.9,267.1 352.3,268.3 352.8,269.3 353.3,269.9 353.7,270 354.1,269.4 354.5,268.1 354.9,266.5 355.2,264.8 355.6,263.2 356,262 356.4,261.1 356.8,260.2 357.3,259.5 357.7,259 358.2,258.6 358.7,258.3 359.2,258.2 359.8,258.2 360.3,258.4 360.9,258.7 361.4,259.3 362,260 362.6,261.2 363.1,262.9 363.7,264.8 364.2,266.5 364.8,267.8 365.3,268.3 365.8,267.8 366.3,266.5 366.7,264.8 367.2,262.9 367.6,261.2 368,260 368.4,259 368.8,258 369.1,257.1 369.5,256.6 369.9,257 370.3,258.3 370.8,261.5 371.2,266.4 371.7,272 372.2,277.4 372.8,281.5 373.3,283.3 373.8,282.1 374.4,278.7 375,274 375.6,268.9 376.1,264.5 376.7,261.7 377.3,260.6 377.9,260.3 378.5,260.8 379,261.5 379.5,262.4 380,263 380.4,263.6 380.6,264.4 380.8,265.3 381.1,266.1 381.3,266.7 381.7,266.7 382.2,266 382.7,264.7 383.2,263.2 383.8,261.6 384.4,260.5 385,260 385.5,260.3 386.1,261.1 386.6,262.2 387.2,263.6 387.7,265.1 388.3,266.7 388.9,268.7 389.5,271.2 390.1,273.9 390.6,276.3 391.2,277.9 391.7,278.3 392.2,277 392.6,274.4 393,271 393.4,267.4 393.7,264.2 394,262 394.3,260.8 394.5,260.2 394.6,260 394.8,260 394.9,260.1 395,260 397,262 399,258 400,264 401.7,261 403.4,266 404.2,276 405.1,268 405.9,263 407.5,267 408.3,275 409.2,271 410,265.6 411,272 411.8,280.7 412.6,270 413.4,261.4 414.2,268 415,265.6 416,259.7 416.8,279 417.6,260.5 418.5,268 419.3,274 420.1,299 421,280 421.8,272.3 422.7,282.4 423.5,320 424.2,368 425.3,290 426.5,300 427.5,282 428.4,287.4 429.3,300 430.2,274 431,283 431.9,290.8 432.7,311.5 433.6,284 434.5,293.3 435.4,310 436.3,329.6 437.2,318 438.1,307.9 439,322 440,336.9 440.9,328 441.8,322.4 442.7,333 443.6,344.2 444.5,350 445.4,355 446.3,345 447.2,336.9 448.1,345 449,351.5 450,348 450.9,344.2 451.8,350 452.7,355 453.6,350 454.5,344.2 455.4,354 456.3,362.3 457.2,366 458.1,367.7 459,366 459.9,362.3 460.8,345 461.7,333.3 462.6,326 463.6,322.4 464.5,320 465.4,318.7 466,280 466.5,226" stroke="#e8403f" stroke-width="0.85"/></g><rect x="295.2" y="233.4" width="171.2" height="137.6" fill="none" stroke="#777" stroke-width="0.9"/><path d="M295.2 371v2.0M295.2 233.4v2.0M311.3 371v1.2M311.3 233.4v1.2M327.4 371v2.0M327.4 233.4v2.0M343.5 371v1.2M343.5 233.4v1.2M359.6 371v2.0M359.6 233.4v2.0M375.7 371v1.2M375.7 233.4v1.2M391.8 371v2.0M391.8 233.4v2.0M407.9 371v1.2M407.9 233.4v1.2M424 371v2.0M424 233.4v2.0M440.1 371v1.2M440.1 233.4v1.2M456.2 371v2.0M456.2 233.4v2.0M295.2 371h-2.0M466.4 371h-2.0M295.2 359.5h-1.2M466.4 359.5h-1.2M295.2 348.1h-2.0M466.4 348.1h-2.0M295.2 336.6h-1.2M466.4 336.6h-1.2M295.2 325.1h-2.0M466.4 325.1h-2.0M295.2 313.7h-1.2M466.4 313.7h-1.2M295.2 302.2h-2.0M466.4 302.2h-2.0M295.2 290.7h-1.2M466.4 290.7h-1.2M295.2 279.3h-2.0M466.4 279.3h-2.0M295.2 267.8h-1.2M466.4 267.8h-1.2M295.2 256.3h-2.0M466.4 256.3h-2.0M295.2 244.9h-1.2M466.4 244.9h-1.2M295.2 233.4h-2.0M466.4 233.4h-2.0" stroke="#666" stroke-width="0.8" fill="none"/><text x="295.2" y="384.2" font-size="10.2" text-anchor="middle" font-weight="normal" font-style="normal" fill="#222" >0.26</text><text x="327.4" y="384.2" font-size="10.2" text-anchor="middle" font-weight="normal" font-style="normal" fill="#222" >0.27</text><text x="359.6" y="384.2" font-size="10.2" text-anchor="middle" font-weight="normal" font-style="normal" fill="#222" >0.28</text><text x="391.8" y="384.2" font-size="10.2" text-anchor="middle" font-weight="normal" font-style="normal" fill="#222" >0.29</text><text x="424" y="384.2" font-size="10.2" text-anchor="middle" font-weight="normal" font-style="normal" fill="#222" >0.30</text><text x="456.2" y="384.2" font-size="10.2" text-anchor="middle" font-weight="normal" font-style="normal" fill="#222" >0.31</text><text x="291.6" y="374.6" font-size="10.2" text-anchor="end" font-weight="normal" font-style="normal" fill="#222" >0.0</text><text x="291.6" y="351.7" font-size="10.2" text-anchor="end" font-weight="normal" font-style="normal" fill="#222" >0.2</text><text x="291.6" y="328.7" font-size="10.2" text-anchor="end" font-weight="normal" font-style="normal" fill="#222" >0.4</text><text x="291.6" y="305.8" font-size="10.2" text-anchor="end" font-weight="normal" font-style="normal" fill="#222" >0.6</text><text x="291.6" y="282.9" font-size="10.2" text-anchor="end" font-weight="normal" font-style="normal" fill="#222" >0.8</text><text x="291.6" y="259.9" font-size="10.2" text-anchor="end" font-weight="normal" font-style="normal" fill="#222" >1.0</text><text x="291.6" y="237" font-size="10.2" text-anchor="end" font-weight="normal" font-style="normal" fill="#222" >1.2</text><text x="380.2" y="401.5" font-size="10.8" text-anchor="middle" font-weight="normal" font-style="normal" fill="#222" >frequency (a/λ)</text><text transform="translate(266.7 299.9) rotate(-90)" font-size="10.8" text-anchor="middle" fill="#222">transmittance</text><rect x="339.2" y="308.3" width="75.2" height="27.8" fill="#fff" stroke="#ccc" stroke-width="0.8"/><path d="M340.5 316.2h24.3" stroke="#999" stroke-width="1.6"/><path d="M340.5 328.9h24.3" stroke="#e8403f" stroke-width="0.9"/><text x="368.2" y="319.9" font-size="10.5" text-anchor="start" font-weight="normal" font-style="normal" fill="#222" >Straight</text><text x="368.2" y="332.7" font-size="10.5" text-anchor="start" font-weight="normal" font-style="normal" fill="#222" >Z-shaped</text><path d="M305.2 245H392.3" stroke="#000" stroke-width="2.1"/><path d="M399.5 245L391.8 241.3V248.7Z" fill="#000"/><circle cx="305.2" cy="245" r="4.1" fill="#000"/><clipPath id="clipf20"><rect x="498.2" y="20.9" width="155.1" height="134.4"/></clipPath><g clip-path="url(#clipf20)"><ellipse transform="translate(540 56.6) rotate(0)" rx="1.6" ry="2.1" fill="#ff5a5a" opacity="0.35"/><ellipse transform="translate(540 59.8) rotate(0)" rx="1.6" ry="2.1" fill="#5a6cff" opacity="0.20"/><ellipse transform="translate(540 63.1) rotate(0)" rx="1.6" ry="2.1" fill="#ff5a5a" opacity="0.08"/><ellipse transform="translate(540 45.6) rotate(0)" rx="1.6" ry="2.1" fill="#5a6cff" opacity="0.38"/><ellipse transform="translate(540 42.4) rotate(0)" rx="1.6" ry="2.1" fill="#ff5a5a" opacity="0.22"/><ellipse transform="translate(540 39.1) rotate(0)" rx="1.6" ry="2.1" fill="#5a6cff" opacity="0.09"/><ellipse transform="translate(542 56.6) rotate(0)" rx="1.6" ry="2.1" fill="#5a6cff" opacity="0.39"/><ellipse transform="translate(542 59.8) rotate(0)" rx="1.6" ry="2.1" fill="#ff5a5a" opacity="0.22"/><ellipse transform="translate(542 63.1) rotate(0)" rx="1.6" ry="2.1" fill="#5a6cff" opacity="0.09"/><ellipse transform="translate(542 45.6) rotate(0)" rx="1.6" ry="2.1" fill="#ff5a5a" opacity="0.34"/><ellipse transform="translate(542 42.4) rotate(0)" rx="1.6" ry="2.1" fill="#5a6cff" opacity="0.19"/><ellipse transform="translate(542 39.1) rotate(0)" rx="1.6" ry="2.1" fill="#ff5a5a" opacity="0.08"/><ellipse transform="translate(544.1 56.6) rotate(0)" rx="1.6" ry="2.1" fill="#ff5a5a" opacity="0.41"/><ellipse transform="translate(544.1 59.8) rotate(0)" rx="1.6" ry="2.1" fill="#5a6cff" opacity="0.24"/><ellipse transform="translate(544.1 63.1) rotate(0)" rx="1.6" ry="2.1" fill="#ff5a5a" opacity="0.10"/><ellipse transform="translate(544.1 45.6) rotate(0)" rx="1.6" ry="2.1" fill="#5a6cff" opacity="0.29"/><ellipse transform="translate(544.1 42.4) rotate(0)" rx="1.6" ry="2.1" fill="#ff5a5a" opacity="0.16"/><ellipse transform="translate(544.1 39.1) rotate(0)" rx="1.6" ry="2.1" fill="#5a6cff" opacity="0.07"/><ellipse transform="translate(546.1 56.6) rotate(0)" rx="1.6" ry="2.1" fill="#5a6cff" opacity="0.42"/><ellipse transform="translate(546.1 59.8) rotate(0)" rx="1.6" ry="2.1" fill="#ff5a5a" opacity="0.24"/><ellipse transform="translate(546.1 63.1) rotate(0)" rx="1.6" ry="2.1" fill="#5a6cff" opacity="0.10"/><ellipse transform="translate(546.1 45.6) rotate(0)" rx="1.6" ry="2.1" fill="#ff5a5a" opacity="0.23"/><ellipse transform="translate(546.1 42.4) rotate(0)" rx="1.6" ry="2.1" fill="#5a6cff" opacity="0.13"/><ellipse transform="translate(546.1 39.1) rotate(0)" rx="1.6" ry="2.1" fill="#ff5a5a" opacity="0.06"/><ellipse transform="translate(548.1 56.6) rotate(0)" rx="1.6" ry="2.1" fill="#ff5a5a" opacity="0.41"/><ellipse transform="translate(548.1 59.8) rotate(0)" rx="1.6" ry="2.1" fill="#5a6cff" opacity="0.23"/><ellipse transform="translate(548.1 63.1) rotate(0)" rx="1.6" ry="2.1" fill="#ff5a5a" opacity="0.10"/><ellipse transform="translate(548.1 45.6) rotate(0)" rx="1.6" ry="2.1" fill="#5a6cff" opacity="0.29"/><ellipse transform="translate(548.1 42.4) rotate(0)" rx="1.6" ry="2.1" fill="#ff5a5a" opacity="0.17"/><ellipse transform="translate(548.1 39.1) rotate(0)" rx="1.6" ry="2.1" fill="#5a6cff" opacity="0.07"/><ellipse transform="translate(550.1 56.6) rotate(0)" rx="1.6" ry="2.1" fill="#5a6cff" opacity="0.38"/><ellipse transform="translate(550.1 59.8) rotate(0)" rx="1.6" ry="2.1" fill="#ff5a5a" opacity="0.22"/><ellipse transform="translate(550.1 63.1) rotate(0)" rx="1.6" ry="2.1" fill="#5a6cff" opacity="0.09"/><ellipse transform="translate(550.1 45.6) rotate(0)" rx="1.6" ry="2.1" fill="#ff5a5a" opacity="0.34"/><ellipse transform="translate(550.1 42.4) rotate(0)" rx="1.6" ry="2.1" fill="#5a6cff" opacity="0.19"/><ellipse transform="translate(550.1 39.1) rotate(0)" rx="1.6" ry="2.1" fill="#ff5a5a" opacity="0.08"/><ellipse transform="translate(552.2 56.6) rotate(0)" rx="1.6" ry="2.1" fill="#ff5a5a" opacity="0.35"/><ellipse transform="translate(552.2 59.8) rotate(0)" rx="1.6" ry="2.1" fill="#5a6cff" opacity="0.20"/><ellipse transform="translate(552.2 63.1) rotate(0)" rx="1.6" ry="2.1" fill="#ff5a5a" opacity="0.08"/><ellipse transform="translate(552.2 45.6) rotate(0)" rx="1.6" ry="2.1" fill="#5a6cff" opacity="0.38"/><ellipse transform="translate(552.2 42.4) rotate(0)" rx="1.6" ry="2.1" fill="#ff5a5a" opacity="0.22"/><ellipse transform="translate(552.2 39.1) rotate(0)" rx="1.6" ry="2.1" fill="#5a6cff" opacity="0.09"/><ellipse transform="translate(554.2 56.6) rotate(0)" rx="1.6" ry="2.1" fill="#5a6cff" opacity="0.30"/><ellipse transform="translate(554.2 59.8) rotate(0)" rx="1.6" ry="2.1" fill="#ff5a5a" opacity="0.17"/><ellipse transform="translate(554.2 63.1) rotate(0)" rx="1.6" ry="2.1" fill="#5a6cff" opacity="0.07"/><ellipse transform="translate(554.2 45.6) rotate(0)" rx="1.6" ry="2.1" fill="#ff5a5a" opacity="0.41"/><ellipse transform="translate(554.2 42.4) rotate(0)" rx="1.6" ry="2.1" fill="#5a6cff" opacity="0.23"/><ellipse transform="translate(554.2 39.1) rotate(0)" rx="1.6" ry="2.1" fill="#ff5a5a" opacity="0.10"/><ellipse transform="translate(556.2 56.6) rotate(0)" rx="1.6" ry="2.1" fill="#ff5a5a" opacity="0.24"/><ellipse transform="translate(556.2 59.8) rotate(0)" rx="1.6" ry="2.1" fill="#5a6cff" opacity="0.14"/><ellipse transform="translate(556.2 63.1) rotate(0)" rx="1.6" ry="2.1" fill="#ff5a5a" opacity="0.06"/><ellipse transform="translate(556.2 45.6) rotate(0)" rx="1.6" ry="2.1" fill="#5a6cff" opacity="0.42"/><ellipse transform="translate(556.2 42.4) rotate(0)" rx="1.6" ry="2.1" fill="#ff5a5a" opacity="0.24"/><ellipse transform="translate(556.2 39.1) rotate(0)" rx="1.6" ry="2.1" fill="#5a6cff" opacity="0.10"/><ellipse transform="translate(558.2 56.6) rotate(0)" rx="1.6" ry="2.1" fill="#5a6cff" opacity="0.28"/><ellipse transform="translate(558.2 59.8) rotate(0)" rx="1.6" ry="2.1" fill="#ff5a5a" opacity="0.16"/><ellipse transform="translate(558.2 63.1) rotate(0)" rx="1.6" ry="2.1" fill="#5a6cff" opacity="0.07"/><ellipse transform="translate(558.2 45.6) rotate(0)" rx="1.6" ry="2.1" fill="#ff5a5a" opacity="0.41"/><ellipse transform="translate(558.2 42.4) rotate(0)" rx="1.6" ry="2.1" fill="#5a6cff" opacity="0.24"/><ellipse transform="translate(558.2 39.1) rotate(0)" rx="1.6" ry="2.1" fill="#ff5a5a" opacity="0.10"/><ellipse transform="translate(560.3 56.6) rotate(0)" rx="1.6" ry="2.1" fill="#ff5a5a" opacity="0.33"/><ellipse transform="translate(560.3 59.8) rotate(0)" rx="1.6" ry="2.1" fill="#5a6cff" opacity="0.19"/><ellipse transform="translate(560.3 63.1) rotate(0)" rx="1.6" ry="2.1" fill="#ff5a5a" opacity="0.08"/><ellipse transform="translate(560.3 45.6) rotate(0)" rx="1.6" ry="2.1" fill="#5a6cff" opacity="0.39"/><ellipse transform="translate(560.3 42.4) rotate(0)" rx="1.6" ry="2.1" fill="#ff5a5a" opacity="0.22"/><ellipse transform="translate(560.3 39.1) rotate(0)" rx="1.6" ry="2.1" fill="#5a6cff" opacity="0.09"/><ellipse transform="translate(562.3 56.6) rotate(0)" rx="1.6" ry="2.1" fill="#5a6cff" opacity="0.38"/><ellipse transform="translate(562.3 59.8) rotate(0)" rx="1.6" ry="2.1" fill="#ff5a5a" opacity="0.21"/><ellipse transform="translate(562.3 63.1) rotate(0)" rx="1.6" ry="2.1" fill="#5a6cff" opacity="0.09"/><ellipse transform="translate(562.3 45.6) rotate(0)" rx="1.6" ry="2.1" fill="#ff5a5a" opacity="0.35"/><ellipse transform="translate(562.3 42.4) rotate(0)" rx="1.6" ry="2.1" fill="#5a6cff" opacity="0.20"/><ellipse transform="translate(562.3 39.1) rotate(0)" rx="1.6" ry="2.1" fill="#ff5a5a" opacity="0.08"/><ellipse transform="translate(564.3 56.6) rotate(0)" rx="1.6" ry="2.1" fill="#ff5a5a" opacity="0.41"/><ellipse transform="translate(564.3 59.8) rotate(0)" rx="1.6" ry="2.1" fill="#5a6cff" opacity="0.23"/><ellipse transform="translate(564.3 63.1) rotate(0)" rx="1.6" ry="2.1" fill="#ff5a5a" opacity="0.10"/><ellipse transform="translate(564.3 45.6) rotate(0)" rx="1.6" ry="2.1" fill="#5a6cff" opacity="0.30"/><ellipse transform="translate(564.3 42.4) rotate(0)" rx="1.6" ry="2.1" fill="#ff5a5a" opacity="0.17"/><ellipse transform="translate(564.3 39.1) rotate(0)" rx="1.6" ry="2.1" fill="#5a6cff" opacity="0.07"/><ellipse transform="translate(566.4 56.6) rotate(0)" rx="1.6" ry="2.1" fill="#5a6cff" opacity="0.42"/><ellipse transform="translate(566.4 59.8) rotate(0)" rx="1.6" ry="2.1" fill="#ff5a5a" opacity="0.24"/><ellipse transform="translate(566.4 63.1) rotate(0)" rx="1.6" ry="2.1" fill="#5a6cff" opacity="0.10"/><ellipse transform="translate(566.4 45.6) rotate(0)" rx="1.6" ry="2.1" fill="#ff5a5a" opacity="0.25"/><ellipse transform="translate(566.4 42.4) rotate(0)" rx="1.6" ry="2.1" fill="#5a6cff" opacity="0.14"/><ellipse transform="translate(566.4 39.1) rotate(0)" rx="1.6" ry="2.1" fill="#ff5a5a" opacity="0.06"/><ellipse transform="translate(568.4 56.6) rotate(0)" rx="1.6" ry="2.1" fill="#ff5a5a" opacity="0.42"/><ellipse transform="translate(568.4 59.8) rotate(0)" rx="1.6" ry="2.1" fill="#5a6cff" opacity="0.24"/><ellipse transform="translate(568.4 63.1) rotate(0)" rx="1.6" ry="2.1" fill="#ff5a5a" opacity="0.10"/><ellipse transform="translate(568.4 45.6) rotate(0)" rx="1.6" ry="2.1" fill="#5a6cff" opacity="0.27"/><ellipse transform="translate(568.4 42.4) rotate(0)" rx="1.6" ry="2.1" fill="#ff5a5a" opacity="0.15"/><ellipse transform="translate(568.4 39.1) rotate(0)" rx="1.6" ry="2.1" fill="#5a6cff" opacity="0.06"/><ellipse transform="translate(570.4 56.6) rotate(0)" rx="1.6" ry="2.1" fill="#5a6cff" opacity="0.40"/><ellipse transform="translate(570.4 59.8) rotate(0)" rx="1.6" ry="2.1" fill="#ff5a5a" opacity="0.23"/><ellipse transform="translate(570.4 63.1) rotate(0)" rx="1.6" ry="2.1" fill="#5a6cff" opacity="0.09"/><ellipse transform="translate(570.4 45.6) rotate(0)" rx="1.6" ry="2.1" fill="#ff5a5a" opacity="0.32"/><ellipse transform="translate(570.4 42.4) rotate(0)" rx="1.6" ry="2.1" fill="#5a6cff" opacity="0.18"/><ellipse transform="translate(570.4 39.1) rotate(0)" rx="1.6" ry="2.1" fill="#ff5a5a" opacity="0.08"/><ellipse transform="translate(572.4 56.6) rotate(0)" rx="1.6" ry="2.1" fill="#ff5a5a" opacity="0.36"/><ellipse transform="translate(572.4 59.8) rotate(0)" rx="1.6" ry="2.1" fill="#5a6cff" opacity="0.21"/><ellipse transform="translate(572.4 63.1) rotate(0)" rx="1.6" ry="2.1" fill="#ff5a5a" opacity="0.09"/><ellipse transform="translate(572.4 45.6) rotate(0)" rx="1.6" ry="2.1" fill="#5a6cff" opacity="0.37"/><ellipse transform="translate(572.4 42.4) rotate(0)" rx="1.6" ry="2.1" fill="#ff5a5a" opacity="0.21"/><ellipse transform="translate(572.4 39.1) rotate(0)" rx="1.6" ry="2.1" fill="#5a6cff" opacity="0.09"/><ellipse transform="translate(574.5 56.6) rotate(0)" rx="1.6" ry="2.1" fill="#5a6cff" opacity="0.31"/><ellipse transform="translate(574.5 59.8) rotate(0)" rx="1.6" ry="2.1" fill="#ff5a5a" opacity="0.18"/><ellipse transform="translate(574.5 63.1) rotate(0)" rx="1.6" ry="2.1" fill="#5a6cff" opacity="0.07"/><ellipse transform="translate(574.5 45.6) rotate(0)" rx="1.6" ry="2.1" fill="#ff5a5a" opacity="0.40"/><ellipse transform="translate(574.5 42.4) rotate(0)" rx="1.6" ry="2.1" fill="#5a6cff" opacity="0.23"/><ellipse transform="translate(574.5 39.1) rotate(0)" rx="1.6" ry="2.1" fill="#ff5a5a" opacity="0.10"/><ellipse transform="translate(576.5 56.6) rotate(0)" rx="1.6" ry="2.1" fill="#ff5a5a" opacity="0.26"/><ellipse transform="translate(576.5 59.8) rotate(0)" rx="1.6" ry="2.1" fill="#5a6cff" opacity="0.15"/><ellipse transform="translate(576.5 63.1) rotate(0)" rx="1.6" ry="2.1" fill="#ff5a5a" opacity="0.06"/><ellipse transform="translate(576.5 45.6) rotate(0)" rx="1.6" ry="2.1" fill="#5a6cff" opacity="0.42"/><ellipse transform="translate(576.5 42.4) rotate(0)" rx="1.6" ry="2.1" fill="#ff5a5a" opacity="0.24"/><ellipse transform="translate(576.5 39.1) rotate(0)" rx="1.6" ry="2.1" fill="#5a6cff" opacity="0.10"/><ellipse transform="translate(578.5 56.6) rotate(0)" rx="1.6" ry="2.1" fill="#5a6cff" opacity="0.26"/><ellipse transform="translate(578.5 59.8) rotate(0)" rx="1.6" ry="2.1" fill="#ff5a5a" opacity="0.15"/><ellipse transform="translate(578.5 63.1) rotate(0)" rx="1.6" ry="2.1" fill="#5a6cff" opacity="0.06"/><ellipse transform="translate(578.5 45.6) rotate(0)" rx="1.6" ry="2.1" fill="#ff5a5a" opacity="0.42"/><ellipse transform="translate(578.5 42.4) rotate(0)" rx="1.6" ry="2.1" fill="#5a6cff" opacity="0.24"/><ellipse transform="translate(578.5 39.1) rotate(0)" rx="1.6" ry="2.1" fill="#ff5a5a" opacity="0.10"/><ellipse transform="translate(580.5 56.6) rotate(0)" rx="1.6" ry="2.1" fill="#ff5a5a" opacity="0.31"/><ellipse transform="translate(580.5 59.8) rotate(0)" rx="1.6" ry="2.1" fill="#5a6cff" opacity="0.18"/><ellipse transform="translate(580.5 63.1) rotate(0)" rx="1.6" ry="2.1" fill="#ff5a5a" opacity="0.07"/><ellipse transform="translate(580.5 45.6) rotate(0)" rx="1.6" ry="2.1" fill="#5a6cff" opacity="0.40"/><ellipse transform="translate(580.5 42.4) rotate(0)" rx="1.6" ry="2.1" fill="#ff5a5a" opacity="0.23"/><ellipse transform="translate(580.5 39.1) rotate(0)" rx="1.6" ry="2.1" fill="#5a6cff" opacity="0.10"/><ellipse transform="translate(582.6 56.6) rotate(0)" rx="1.6" ry="2.1" fill="#5a6cff" opacity="0.36"/><ellipse transform="translate(582.6 59.8) rotate(0)" rx="1.6" ry="2.1" fill="#ff5a5a" opacity="0.21"/><ellipse transform="translate(582.6 63.1) rotate(0)" rx="1.6" ry="2.1" fill="#5a6cff" opacity="0.09"/><ellipse transform="translate(582.6 45.6) rotate(0)" rx="1.6" ry="2.1" fill="#ff5a5a" opacity="0.37"/><ellipse transform="translate(582.6 42.4) rotate(0)" rx="1.6" ry="2.1" fill="#5a6cff" opacity="0.21"/><ellipse transform="translate(582.6 39.1) rotate(0)" rx="1.6" ry="2.1" fill="#ff5a5a" opacity="0.09"/><ellipse transform="translate(584.6 56.6) rotate(0)" rx="1.6" ry="2.1" fill="#ff5a5a" opacity="0.40"/><ellipse transform="translate(584.6 59.8) rotate(0)" rx="1.6" ry="2.1" fill="#5a6cff" opacity="0.23"/><ellipse transform="translate(584.6 63.1) rotate(0)" rx="1.6" ry="2.1" fill="#ff5a5a" opacity="0.09"/><ellipse transform="translate(584.6 45.6) rotate(0)" rx="1.6" ry="2.1" fill="#5a6cff" opacity="0.32"/><ellipse transform="translate(584.6 42.4) rotate(0)" rx="1.6" ry="2.1" fill="#ff5a5a" opacity="0.18"/><ellipse transform="translate(584.6 39.1) rotate(0)" rx="1.6" ry="2.1" fill="#5a6cff" opacity="0.08"/><ellipse transform="translate(586.6 56.6) rotate(0)" rx="1.6" ry="2.1" fill="#5a6cff" opacity="0.42"/><ellipse transform="translate(586.6 59.8) rotate(0)" rx="1.6" ry="2.1" fill="#ff5a5a" opacity="0.24"/><ellipse transform="translate(586.6 63.1) rotate(0)" rx="1.6" ry="2.1" fill="#5a6cff" opacity="0.10"/><ellipse transform="translate(586.6 45.6) rotate(0)" rx="1.6" ry="2.1" fill="#ff5a5a" opacity="0.27"/><ellipse transform="translate(586.6 42.4) rotate(0)" rx="1.6" ry="2.1" fill="#5a6cff" opacity="0.15"/><ellipse transform="translate(586.6 39.1) rotate(0)" rx="1.6" ry="2.1" fill="#ff5a5a" opacity="0.06"/><ellipse transform="translate(588.6 56.6) rotate(0)" rx="1.6" ry="2.1" fill="#ff5a5a" opacity="0.42"/><ellipse transform="translate(588.6 59.8) rotate(0)" rx="1.6" ry="2.1" fill="#5a6cff" opacity="0.24"/><ellipse transform="translate(588.6 63.1) rotate(0)" rx="1.6" ry="2.1" fill="#ff5a5a" opacity="0.10"/><ellipse transform="translate(588.6 45.6) rotate(0)" rx="1.6" ry="2.1" fill="#5a6cff" opacity="0.25"/><ellipse transform="translate(588.6 42.4) rotate(0)" rx="1.6" ry="2.1" fill="#ff5a5a" opacity="0.14"/><ellipse transform="translate(588.6 39.1) rotate(0)" rx="1.6" ry="2.1" fill="#5a6cff" opacity="0.06"/><ellipse transform="translate(590.7 56.6) rotate(0)" rx="1.6" ry="2.1" fill="#5a6cff" opacity="0.41"/><ellipse transform="translate(590.7 59.8) rotate(0)" rx="1.6" ry="2.1" fill="#ff5a5a" opacity="0.23"/><ellipse transform="translate(590.7 63.1) rotate(0)" rx="1.6" ry="2.1" fill="#5a6cff" opacity="0.10"/><ellipse transform="translate(590.7 45.6) rotate(0)" rx="1.6" ry="2.1" fill="#ff5a5a" opacity="0.30"/><ellipse transform="translate(590.7 42.4) rotate(0)" rx="1.6" ry="2.1" fill="#5a6cff" opacity="0.17"/><ellipse transform="translate(590.7 39.1) rotate(0)" rx="1.6" ry="2.1" fill="#ff5a5a" opacity="0.07"/><ellipse transform="translate(592.7 56.6) rotate(0)" rx="1.6" ry="2.1" fill="#ff5a5a" opacity="0.38"/><ellipse transform="translate(592.7 59.8) rotate(0)" rx="1.6" ry="2.1" fill="#5a6cff" opacity="0.21"/><ellipse transform="translate(592.7 63.1) rotate(0)" rx="1.6" ry="2.1" fill="#ff5a5a" opacity="0.09"/><ellipse transform="translate(592.7 45.6) rotate(0)" rx="1.6" ry="2.1" fill="#5a6cff" opacity="0.35"/><ellipse transform="translate(592.7 42.4) rotate(0)" rx="1.6" ry="2.1" fill="#ff5a5a" opacity="0.20"/><ellipse transform="translate(592.7 39.1) rotate(0)" rx="1.6" ry="2.1" fill="#5a6cff" opacity="0.08"/><ellipse transform="translate(594.7 56.6) rotate(0)" rx="1.6" ry="2.1" fill="#5a6cff" opacity="0.33"/><ellipse transform="translate(594.7 59.8) rotate(0)" rx="1.6" ry="2.1" fill="#ff5a5a" opacity="0.19"/><ellipse transform="translate(594.7 63.1) rotate(0)" rx="1.6" ry="2.1" fill="#5a6cff" opacity="0.08"/><ellipse transform="translate(594.7 45.6) rotate(0)" rx="1.6" ry="2.1" fill="#ff5a5a" opacity="0.39"/><ellipse transform="translate(594.7 42.4) rotate(0)" rx="1.6" ry="2.1" fill="#5a6cff" opacity="0.22"/><ellipse transform="translate(594.7 39.1) rotate(0)" rx="1.6" ry="2.1" fill="#ff5a5a" opacity="0.09"/><ellipse transform="translate(596.8 56.6) rotate(0)" rx="1.6" ry="2.1" fill="#ff5a5a" opacity="0.28"/><ellipse transform="translate(596.8 59.8) rotate(0)" rx="1.6" ry="2.1" fill="#5a6cff" opacity="0.16"/><ellipse transform="translate(596.8 63.1) rotate(0)" rx="1.6" ry="2.1" fill="#ff5a5a" opacity="0.07"/><ellipse transform="translate(596.8 45.6) rotate(0)" rx="1.6" ry="2.1" fill="#5a6cff" opacity="0.41"/><ellipse transform="translate(596.8 42.4) rotate(0)" rx="1.6" ry="2.1" fill="#ff5a5a" opacity="0.24"/><ellipse transform="translate(596.8 39.1) rotate(0)" rx="1.6" ry="2.1" fill="#5a6cff" opacity="0.10"/><ellipse transform="translate(598.8 56.6) rotate(0)" rx="1.6" ry="2.1" fill="#5a6cff" opacity="0.24"/><ellipse transform="translate(598.8 59.8) rotate(0)" rx="1.6" ry="2.1" fill="#ff5a5a" opacity="0.14"/><ellipse transform="translate(598.8 63.1) rotate(0)" rx="1.6" ry="2.1" fill="#5a6cff" opacity="0.06"/><ellipse transform="translate(598.8 45.6) rotate(0)" rx="1.6" ry="2.1" fill="#ff5a5a" opacity="0.42"/><ellipse transform="translate(598.8 42.4) rotate(0)" rx="1.6" ry="2.1" fill="#5a6cff" opacity="0.24"/><ellipse transform="translate(598.8 39.1) rotate(0)" rx="1.6" ry="2.1" fill="#ff5a5a" opacity="0.10"/><ellipse transform="translate(600.8 56.6) rotate(0)" rx="1.6" ry="2.1" fill="#ff5a5a" opacity="0.30"/><ellipse transform="translate(600.8 59.8) rotate(0)" rx="1.6" ry="2.1" fill="#5a6cff" opacity="0.17"/><ellipse transform="translate(600.8 63.1) rotate(0)" rx="1.6" ry="2.1" fill="#ff5a5a" opacity="0.07"/><ellipse transform="translate(600.8 45.6) rotate(0)" rx="1.6" ry="2.1" fill="#5a6cff" opacity="0.41"/><ellipse transform="translate(600.8 42.4) rotate(0)" rx="1.6" ry="2.1" fill="#ff5a5a" opacity="0.23"/><ellipse transform="translate(600.8 39.1) rotate(0)" rx="1.6" ry="2.1" fill="#5a6cff" opacity="0.10"/><ellipse transform="translate(602.8 56.6) rotate(0)" rx="1.6" ry="2.1" fill="#5a6cff" opacity="0.35"/><ellipse transform="translate(602.8 59.8) rotate(0)" rx="1.6" ry="2.1" fill="#ff5a5a" opacity="0.20"/><ellipse transform="translate(602.8 63.1) rotate(0)" rx="1.6" ry="2.1" fill="#5a6cff" opacity="0.08"/><ellipse transform="translate(602.8 45.6) rotate(0)" rx="1.6" ry="2.1" fill="#ff5a5a" opacity="0.38"/><ellipse transform="translate(602.8 42.4) rotate(0)" rx="1.6" ry="2.1" fill="#5a6cff" opacity="0.22"/><ellipse transform="translate(602.8 39.1) rotate(0)" rx="1.6" ry="2.1" fill="#ff5a5a" opacity="0.09"/><ellipse transform="translate(604.9 56.6) rotate(0)" rx="1.6" ry="2.1" fill="#ff5a5a" opacity="0.38"/><ellipse transform="translate(604.9 59.8) rotate(0)" rx="1.6" ry="2.1" fill="#5a6cff" opacity="0.22"/><ellipse transform="translate(604.9 63.1) rotate(0)" rx="1.6" ry="2.1" fill="#ff5a5a" opacity="0.09"/><ellipse transform="translate(604.9 45.6) rotate(0)" rx="1.6" ry="2.1" fill="#5a6cff" opacity="0.34"/><ellipse transform="translate(604.9 42.4) rotate(0)" rx="1.6" ry="2.1" fill="#ff5a5a" opacity="0.19"/><ellipse transform="translate(604.9 39.1) rotate(0)" rx="1.6" ry="2.1" fill="#5a6cff" opacity="0.08"/><ellipse transform="translate(606.9 56.6) rotate(0)" rx="1.6" ry="2.1" fill="#5a6cff" opacity="0.41"/><ellipse transform="translate(606.9 59.8) rotate(0)" rx="1.6" ry="2.1" fill="#ff5a5a" opacity="0.23"/><ellipse transform="translate(606.9 63.1) rotate(0)" rx="1.6" ry="2.1" fill="#5a6cff" opacity="0.10"/><ellipse transform="translate(606.9 45.6) rotate(0)" rx="1.6" ry="2.1" fill="#ff5a5a" opacity="0.29"/><ellipse transform="translate(606.9 42.4) rotate(0)" rx="1.6" ry="2.1" fill="#5a6cff" opacity="0.17"/><ellipse transform="translate(606.9 39.1) rotate(0)" rx="1.6" ry="2.1" fill="#ff5a5a" opacity="0.07"/><ellipse transform="translate(608.9 56.6) rotate(0)" rx="1.6" ry="2.1" fill="#ff5a5a" opacity="0.42"/><ellipse transform="translate(608.9 59.8) rotate(0)" rx="1.6" ry="2.1" fill="#5a6cff" opacity="0.24"/><ellipse transform="translate(608.9 63.1) rotate(0)" rx="1.6" ry="2.1" fill="#ff5a5a" opacity="0.10"/><ellipse transform="translate(608.9 45.6) rotate(0)" rx="1.6" ry="2.1" fill="#5a6cff" opacity="0.23"/><ellipse transform="translate(608.9 42.4) rotate(0)" rx="1.6" ry="2.1" fill="#ff5a5a" opacity="0.13"/><ellipse transform="translate(608.9 39.1) rotate(0)" rx="1.6" ry="2.1" fill="#5a6cff" opacity="0.06"/><ellipse transform="translate(610.9 56.6) rotate(0)" rx="1.6" ry="2.1" fill="#5a6cff" opacity="0.41"/><ellipse transform="translate(610.9 59.8) rotate(0)" rx="1.6" ry="2.1" fill="#ff5a5a" opacity="0.24"/><ellipse transform="translate(610.9 63.1) rotate(0)" rx="1.6" ry="2.1" fill="#5a6cff" opacity="0.10"/><ellipse transform="translate(610.9 45.6) rotate(0)" rx="1.6" ry="2.1" fill="#ff5a5a" opacity="0.29"/><ellipse transform="translate(610.9 42.4) rotate(0)" rx="1.6" ry="2.1" fill="#5a6cff" opacity="0.16"/><ellipse transform="translate(610.9 39.1) rotate(0)" rx="1.6" ry="2.1" fill="#ff5a5a" opacity="0.07"/><ellipse transform="translate(613 56.6) rotate(0)" rx="1.6" ry="2.1" fill="#ff5a5a" opacity="0.39"/><ellipse transform="translate(613 59.8) rotate(0)" rx="1.6" ry="2.1" fill="#5a6cff" opacity="0.22"/><ellipse transform="translate(613 63.1) rotate(0)" rx="1.6" ry="2.1" fill="#ff5a5a" opacity="0.09"/><ellipse transform="translate(613 45.6) rotate(0)" rx="1.6" ry="2.1" fill="#5a6cff" opacity="0.34"/><ellipse transform="translate(613 42.4) rotate(0)" rx="1.6" ry="2.1" fill="#ff5a5a" opacity="0.19"/><ellipse transform="translate(613 39.1) rotate(0)" rx="1.6" ry="2.1" fill="#5a6cff" opacity="0.08"/><ellipse transform="translate(615 56.6) rotate(0)" rx="1.6" ry="2.1" fill="#5a6cff" opacity="0.35"/><ellipse transform="translate(615 59.8) rotate(0)" rx="1.6" ry="2.1" fill="#ff5a5a" opacity="0.20"/><ellipse transform="translate(615 63.1) rotate(0)" rx="1.6" ry="2.1" fill="#5a6cff" opacity="0.08"/><ellipse transform="translate(615 45.6) rotate(0)" rx="1.6" ry="2.1" fill="#ff5a5a" opacity="0.38"/><ellipse transform="translate(615 42.4) rotate(0)" rx="1.6" ry="2.1" fill="#5a6cff" opacity="0.22"/><ellipse transform="translate(615 39.1) rotate(0)" rx="1.6" ry="2.1" fill="#ff5a5a" opacity="0.09"/><ellipse transform="translate(617 56.6) rotate(0)" rx="1.6" ry="2.1" fill="#ff5a5a" opacity="0.30"/><ellipse transform="translate(617 59.8) rotate(0)" rx="1.6" ry="2.1" fill="#5a6cff" opacity="0.17"/><ellipse transform="translate(617 63.1) rotate(0)" rx="1.6" ry="2.1" fill="#ff5a5a" opacity="0.07"/><ellipse transform="translate(617 45.6) rotate(0)" rx="1.6" ry="2.1" fill="#5a6cff" opacity="0.41"/><ellipse transform="translate(617 42.4) rotate(0)" rx="1.6" ry="2.1" fill="#ff5a5a" opacity="0.23"/><ellipse transform="translate(617 39.1) rotate(0)" rx="1.6" ry="2.1" fill="#5a6cff" opacity="0.10"/><ellipse transform="translate(619.1 56.6) rotate(0)" rx="1.6" ry="2.1" fill="#5a6cff" opacity="0.24"/><ellipse transform="translate(619.1 59.8) rotate(0)" rx="1.6" ry="2.1" fill="#ff5a5a" opacity="0.14"/><ellipse transform="translate(619.1 63.1) rotate(0)" rx="1.6" ry="2.1" fill="#5a6cff" opacity="0.06"/><ellipse transform="translate(619.1 45.6) rotate(0)" rx="1.6" ry="2.1" fill="#ff5a5a" opacity="0.42"/><ellipse transform="translate(619.1 42.4) rotate(0)" rx="1.6" ry="2.1" fill="#5a6cff" opacity="0.24"/><ellipse transform="translate(619.1 39.1) rotate(0)" rx="1.6" ry="2.1" fill="#ff5a5a" opacity="0.10"/><ellipse transform="translate(621.1 56.6) rotate(0)" rx="1.6" ry="2.1" fill="#ff5a5a" opacity="0.28"/><ellipse transform="translate(621.1 59.8) rotate(0)" rx="1.6" ry="2.1" fill="#5a6cff" opacity="0.16"/><ellipse transform="translate(621.1 63.1) rotate(0)" rx="1.6" ry="2.1" fill="#ff5a5a" opacity="0.07"/><ellipse transform="translate(621.1 45.6) rotate(0)" rx="1.6" ry="2.1" fill="#5a6cff" opacity="0.41"/><ellipse transform="translate(621.1 42.4) rotate(0)" rx="1.6" ry="2.1" fill="#ff5a5a" opacity="0.24"/><ellipse transform="translate(621.1 39.1) rotate(0)" rx="1.6" ry="2.1" fill="#5a6cff" opacity="0.10"/><ellipse transform="translate(623.1 56.6) rotate(0)" rx="1.6" ry="2.1" fill="#5a6cff" opacity="0.33"/><ellipse transform="translate(623.1 59.8) rotate(0)" rx="1.6" ry="2.1" fill="#ff5a5a" opacity="0.19"/><ellipse transform="translate(623.1 63.1) rotate(0)" rx="1.6" ry="2.1" fill="#5a6cff" opacity="0.08"/><ellipse transform="translate(623.1 45.6) rotate(0)" rx="1.6" ry="2.1" fill="#ff5a5a" opacity="0.39"/><ellipse transform="translate(623.1 42.4) rotate(0)" rx="1.6" ry="2.1" fill="#5a6cff" opacity="0.22"/><ellipse transform="translate(623.1 39.1) rotate(0)" rx="1.6" ry="2.1" fill="#ff5a5a" opacity="0.09"/><ellipse transform="translate(628.9 53.6) rotate(119.4)" rx="1.6" ry="2.1" fill="#ff5a5a" opacity="0.36"/><ellipse transform="translate(631.7 55.2) rotate(119.4)" rx="1.6" ry="2.1" fill="#5a6cff" opacity="0.20"/><ellipse transform="translate(634.5 56.8) rotate(119.4)" rx="1.6" ry="2.1" fill="#ff5a5a" opacity="0.09"/><ellipse transform="translate(619.9 48.6) rotate(119.4)" rx="1.6" ry="2.1" fill="#5a6cff" opacity="0.37"/><ellipse transform="translate(617.1 47) rotate(119.4)" rx="1.6" ry="2.1" fill="#ff5a5a" opacity="0.21"/><ellipse transform="translate(614.3 45.4) rotate(119.4)" rx="1.6" ry="2.1" fill="#5a6cff" opacity="0.09"/><ellipse transform="translate(627.9 55.4) rotate(119.4)" rx="1.6" ry="2.1" fill="#5a6cff" opacity="0.39"/><ellipse transform="translate(630.7 57) rotate(119.4)" rx="1.6" ry="2.1" fill="#ff5a5a" opacity="0.22"/><ellipse transform="translate(633.5 58.6) rotate(119.4)" rx="1.6" ry="2.1" fill="#5a6cff" opacity="0.09"/><ellipse transform="translate(618.9 50.3) rotate(119.4)" rx="1.6" ry="2.1" fill="#ff5a5a" opacity="0.33"/><ellipse transform="translate(616.1 48.7) rotate(119.4)" rx="1.6" ry="2.1" fill="#5a6cff" opacity="0.19"/><ellipse transform="translate(613.3 47.1) rotate(119.4)" rx="1.6" ry="2.1" fill="#ff5a5a" opacity="0.08"/><ellipse transform="translate(626.9 57.2) rotate(119.4)" rx="1.6" ry="2.1" fill="#ff5a5a" opacity="0.41"/><ellipse transform="translate(629.7 58.8) rotate(119.4)" rx="1.6" ry="2.1" fill="#5a6cff" opacity="0.24"/><ellipse transform="translate(632.5 60.3) rotate(119.4)" rx="1.6" ry="2.1" fill="#ff5a5a" opacity="0.10"/><ellipse transform="translate(617.9 52.1) rotate(119.4)" rx="1.6" ry="2.1" fill="#5a6cff" opacity="0.27"/><ellipse transform="translate(615.1 50.5) rotate(119.4)" rx="1.6" ry="2.1" fill="#ff5a5a" opacity="0.16"/><ellipse transform="translate(612.3 48.9) rotate(119.4)" rx="1.6" ry="2.1" fill="#5a6cff" opacity="0.07"/><ellipse transform="translate(625.9 58.9) rotate(119.4)" rx="1.6" ry="2.1" fill="#5a6cff" opacity="0.42"/><ellipse transform="translate(628.7 60.5) rotate(119.4)" rx="1.6" ry="2.1" fill="#ff5a5a" opacity="0.24"/><ellipse transform="translate(631.5 62.1) rotate(119.4)" rx="1.6" ry="2.1" fill="#5a6cff" opacity="0.10"/><ellipse transform="translate(616.9 53.9) rotate(119.4)" rx="1.6" ry="2.1" fill="#ff5a5a" opacity="0.24"/><ellipse transform="translate(614.1 52.3) rotate(119.4)" rx="1.6" ry="2.1" fill="#5a6cff" opacity="0.14"/><ellipse transform="translate(611.3 50.7) rotate(119.4)" rx="1.6" ry="2.1" fill="#ff5a5a" opacity="0.06"/><ellipse transform="translate(624.9 60.7) rotate(119.4)" rx="1.6" ry="2.1" fill="#ff5a5a" opacity="0.41"/><ellipse transform="translate(627.7 62.3) rotate(119.4)" rx="1.6" ry="2.1" fill="#5a6cff" opacity="0.23"/><ellipse transform="translate(630.5 63.9) rotate(119.4)" rx="1.6" ry="2.1" fill="#ff5a5a" opacity="0.10"/><ellipse transform="translate(615.9 55.6) rotate(119.4)" rx="1.6" ry="2.1" fill="#5a6cff" opacity="0.30"/><ellipse transform="translate(613.1 54) rotate(119.4)" rx="1.6" ry="2.1" fill="#ff5a5a" opacity="0.17"/><ellipse transform="translate(610.3 52.4) rotate(119.4)" rx="1.6" ry="2.1" fill="#5a6cff" opacity="0.07"/><ellipse transform="translate(623.9 62.5) rotate(119.4)" rx="1.6" ry="2.1" fill="#5a6cff" opacity="0.38"/><ellipse transform="translate(626.7 64) rotate(119.4)" rx="1.6" ry="2.1" fill="#ff5a5a" opacity="0.22"/><ellipse transform="translate(629.5 65.6) rotate(119.4)" rx="1.6" ry="2.1" fill="#5a6cff" opacity="0.09"/><ellipse transform="translate(614.9 57.4) rotate(119.4)" rx="1.6" ry="2.1" fill="#ff5a5a" opacity="0.35"/><ellipse transform="translate(612.1 55.8) rotate(119.4)" rx="1.6" ry="2.1" fill="#5a6cff" opacity="0.20"/><ellipse transform="translate(609.3 54.2) rotate(119.4)" rx="1.6" ry="2.1" fill="#ff5a5a" opacity="0.08"/><ellipse transform="translate(622.9 64.2) rotate(119.4)" rx="1.6" ry="2.1" fill="#ff5a5a" opacity="0.34"/><ellipse transform="translate(625.7 65.8) rotate(119.4)" rx="1.6" ry="2.1" fill="#5a6cff" opacity="0.19"/><ellipse transform="translate(628.5 67.4) rotate(119.4)" rx="1.6" ry="2.1" fill="#ff5a5a" opacity="0.08"/><ellipse transform="translate(613.9 59.2) rotate(119.4)" rx="1.6" ry="2.1" fill="#5a6cff" opacity="0.39"/><ellipse transform="translate(611.1 57.6) rotate(119.4)" rx="1.6" ry="2.1" fill="#ff5a5a" opacity="0.22"/><ellipse transform="translate(608.3 56) rotate(119.4)" rx="1.6" ry="2.1" fill="#5a6cff" opacity="0.09"/><ellipse transform="translate(621.9 66) rotate(119.4)" rx="1.6" ry="2.1" fill="#5a6cff" opacity="0.28"/><ellipse transform="translate(624.7 67.6) rotate(119.4)" rx="1.6" ry="2.1" fill="#ff5a5a" opacity="0.16"/><ellipse transform="translate(627.6 69.2) rotate(119.4)" rx="1.6" ry="2.1" fill="#5a6cff" opacity="0.07"/><ellipse transform="translate(612.9 60.9) rotate(119.4)" rx="1.6" ry="2.1" fill="#ff5a5a" opacity="0.41"/><ellipse transform="translate(610.1 59.3) rotate(119.4)" rx="1.6" ry="2.1" fill="#5a6cff" opacity="0.24"/><ellipse transform="translate(607.3 57.7) rotate(119.4)" rx="1.6" ry="2.1" fill="#ff5a5a" opacity="0.10"/><ellipse transform="translate(620.9 67.7) rotate(119.4)" rx="1.6" ry="2.1" fill="#ff5a5a" opacity="0.23"/><ellipse transform="translate(623.7 69.3) rotate(119.4)" rx="1.6" ry="2.1" fill="#5a6cff" opacity="0.13"/><ellipse transform="translate(626.6 70.9) rotate(119.4)" rx="1.6" ry="2.1" fill="#ff5a5a" opacity="0.06"/><ellipse transform="translate(612 62.7) rotate(119.4)" rx="1.6" ry="2.1" fill="#5a6cff" opacity="0.42"/><ellipse transform="translate(609.1 61.1) rotate(119.4)" rx="1.6" ry="2.1" fill="#ff5a5a" opacity="0.24"/><ellipse transform="translate(606.3 59.5) rotate(119.4)" rx="1.6" ry="2.1" fill="#5a6cff" opacity="0.10"/><ellipse transform="translate(619.9 69.5) rotate(119.4)" rx="1.6" ry="2.1" fill="#5a6cff" opacity="0.29"/><ellipse transform="translate(622.7 71.1) rotate(119.4)" rx="1.6" ry="2.1" fill="#ff5a5a" opacity="0.17"/><ellipse transform="translate(625.6 72.7) rotate(119.4)" rx="1.6" ry="2.1" fill="#5a6cff" opacity="0.07"/><ellipse transform="translate(611 64.5) rotate(119.4)" rx="1.6" ry="2.1" fill="#ff5a5a" opacity="0.41"/><ellipse transform="translate(608.1 62.9) rotate(119.4)" rx="1.6" ry="2.1" fill="#5a6cff" opacity="0.23"/><ellipse transform="translate(605.3 61.3) rotate(119.4)" rx="1.6" ry="2.1" fill="#ff5a5a" opacity="0.10"/><ellipse transform="translate(618.9 71.3) rotate(119.4)" rx="1.6" ry="2.1" fill="#ff5a5a" opacity="0.34"/><ellipse transform="translate(621.7 72.9) rotate(119.4)" rx="1.6" ry="2.1" fill="#5a6cff" opacity="0.20"/><ellipse transform="translate(624.6 74.5) rotate(119.4)" rx="1.6" ry="2.1" fill="#ff5a5a" opacity="0.08"/><ellipse transform="translate(610 66.2) rotate(119.4)" rx="1.6" ry="2.1" fill="#5a6cff" opacity="0.38"/><ellipse transform="translate(607.1 64.6) rotate(119.4)" rx="1.6" ry="2.1" fill="#ff5a5a" opacity="0.22"/><ellipse transform="translate(604.3 63) rotate(119.4)" rx="1.6" ry="2.1" fill="#5a6cff" opacity="0.09"/><ellipse transform="translate(617.9 73) rotate(119.4)" rx="1.6" ry="2.1" fill="#5a6cff" opacity="0.38"/><ellipse transform="translate(620.7 74.6) rotate(119.4)" rx="1.6" ry="2.1" fill="#ff5a5a" opacity="0.22"/><ellipse transform="translate(623.6 76.2) rotate(119.4)" rx="1.6" ry="2.1" fill="#5a6cff" opacity="0.09"/><ellipse transform="translate(609 68) rotate(119.4)" rx="1.6" ry="2.1" fill="#ff5a5a" opacity="0.34"/><ellipse transform="translate(606.1 66.4) rotate(119.4)" rx="1.6" ry="2.1" fill="#5a6cff" opacity="0.20"/><ellipse transform="translate(603.3 64.8) rotate(119.4)" rx="1.6" ry="2.1" fill="#ff5a5a" opacity="0.08"/><ellipse transform="translate(616.9 74.8) rotate(119.4)" rx="1.6" ry="2.1" fill="#ff5a5a" opacity="0.41"/><ellipse transform="translate(619.7 76.4) rotate(119.4)" rx="1.6" ry="2.1" fill="#5a6cff" opacity="0.23"/><ellipse transform="translate(622.6 78) rotate(119.4)" rx="1.6" ry="2.1" fill="#ff5a5a" opacity="0.10"/><ellipse transform="translate(608 69.8) rotate(119.4)" rx="1.6" ry="2.1" fill="#5a6cff" opacity="0.29"/><ellipse transform="translate(605.1 68.2) rotate(119.4)" rx="1.6" ry="2.1" fill="#ff5a5a" opacity="0.17"/><ellipse transform="translate(602.3 66.6) rotate(119.4)" rx="1.6" ry="2.1" fill="#5a6cff" opacity="0.07"/><ellipse transform="translate(615.9 76.6) rotate(119.4)" rx="1.6" ry="2.1" fill="#5a6cff" opacity="0.42"/><ellipse transform="translate(618.8 78.2) rotate(119.4)" rx="1.6" ry="2.1" fill="#ff5a5a" opacity="0.24"/><ellipse transform="translate(621.6 79.8) rotate(119.4)" rx="1.6" ry="2.1" fill="#5a6cff" opacity="0.10"/><ellipse transform="translate(607 71.5) rotate(119.4)" rx="1.6" ry="2.1" fill="#ff5a5a" opacity="0.24"/><ellipse transform="translate(604.1 69.9) rotate(119.4)" rx="1.6" ry="2.1" fill="#5a6cff" opacity="0.14"/><ellipse transform="translate(601.3 68.3) rotate(119.4)" rx="1.6" ry="2.1" fill="#ff5a5a" opacity="0.06"/><ellipse transform="translate(614.9 78.3) rotate(119.4)" rx="1.6" ry="2.1" fill="#ff5a5a" opacity="0.41"/><ellipse transform="translate(617.8 79.9) rotate(119.4)" rx="1.6" ry="2.1" fill="#5a6cff" opacity="0.24"/><ellipse transform="translate(620.6 81.5) rotate(119.4)" rx="1.6" ry="2.1" fill="#ff5a5a" opacity="0.10"/><ellipse transform="translate(606 73.3) rotate(119.4)" rx="1.6" ry="2.1" fill="#5a6cff" opacity="0.28"/><ellipse transform="translate(603.1 71.7) rotate(119.4)" rx="1.6" ry="2.1" fill="#ff5a5a" opacity="0.16"/><ellipse transform="translate(600.3 70.1) rotate(119.4)" rx="1.6" ry="2.1" fill="#5a6cff" opacity="0.07"/><ellipse transform="translate(613.9 80.1) rotate(119.4)" rx="1.6" ry="2.1" fill="#5a6cff" opacity="0.39"/><ellipse transform="translate(616.8 81.7) rotate(119.4)" rx="1.6" ry="2.1" fill="#ff5a5a" opacity="0.22"/><ellipse transform="translate(619.6 83.3) rotate(119.4)" rx="1.6" ry="2.1" fill="#5a6cff" opacity="0.09"/><ellipse transform="translate(605 75.1) rotate(119.4)" rx="1.6" ry="2.1" fill="#ff5a5a" opacity="0.33"/><ellipse transform="translate(602.2 73.5) rotate(119.4)" rx="1.6" ry="2.1" fill="#5a6cff" opacity="0.19"/><ellipse transform="translate(599.3 71.9) rotate(119.4)" rx="1.6" ry="2.1" fill="#ff5a5a" opacity="0.08"/><ellipse transform="translate(612.9 81.9) rotate(119.4)" rx="1.6" ry="2.1" fill="#ff5a5a" opacity="0.35"/><ellipse transform="translate(615.8 83.5) rotate(119.4)" rx="1.6" ry="2.1" fill="#5a6cff" opacity="0.20"/><ellipse transform="translate(618.6 85.1) rotate(119.4)" rx="1.6" ry="2.1" fill="#ff5a5a" opacity="0.08"/><ellipse transform="translate(604 76.8) rotate(119.4)" rx="1.6" ry="2.1" fill="#5a6cff" opacity="0.38"/><ellipse transform="translate(601.2 75.2) rotate(119.4)" rx="1.6" ry="2.1" fill="#ff5a5a" opacity="0.21"/><ellipse transform="translate(598.3 73.6) rotate(119.4)" rx="1.6" ry="2.1" fill="#5a6cff" opacity="0.09"/><ellipse transform="translate(611.9 83.6) rotate(119.4)" rx="1.6" ry="2.1" fill="#5a6cff" opacity="0.30"/><ellipse transform="translate(614.8 85.2) rotate(119.4)" rx="1.6" ry="2.1" fill="#ff5a5a" opacity="0.17"/><ellipse transform="translate(617.6 86.8) rotate(119.4)" rx="1.6" ry="2.1" fill="#5a6cff" opacity="0.07"/><ellipse transform="translate(603 78.6) rotate(119.4)" rx="1.6" ry="2.1" fill="#ff5a5a" opacity="0.41"/><ellipse transform="translate(600.2 77) rotate(119.4)" rx="1.6" ry="2.1" fill="#5a6cff" opacity="0.23"/><ellipse transform="translate(597.3 75.4) rotate(119.4)" rx="1.6" ry="2.1" fill="#ff5a5a" opacity="0.10"/><ellipse transform="translate(610.9 85.4) rotate(119.4)" rx="1.6" ry="2.1" fill="#ff5a5a" opacity="0.25"/><ellipse transform="translate(613.8 87) rotate(119.4)" rx="1.6" ry="2.1" fill="#5a6cff" opacity="0.14"/><ellipse transform="translate(616.6 88.6) rotate(119.4)" rx="1.6" ry="2.1" fill="#ff5a5a" opacity="0.06"/><ellipse transform="translate(602 80.3) rotate(119.4)" rx="1.6" ry="2.1" fill="#5a6cff" opacity="0.42"/><ellipse transform="translate(599.2 78.8) rotate(119.4)" rx="1.6" ry="2.1" fill="#ff5a5a" opacity="0.24"/><ellipse transform="translate(596.3 77.2) rotate(119.4)" rx="1.6" ry="2.1" fill="#5a6cff" opacity="0.10"/><ellipse transform="translate(609.9 87.2) rotate(119.4)" rx="1.6" ry="2.1" fill="#5a6cff" opacity="0.27"/><ellipse transform="translate(612.8 88.8) rotate(119.4)" rx="1.6" ry="2.1" fill="#ff5a5a" opacity="0.15"/><ellipse transform="translate(615.6 90.4) rotate(119.4)" rx="1.6" ry="2.1" fill="#5a6cff" opacity="0.06"/><ellipse transform="translate(601 82.1) rotate(119.4)" rx="1.6" ry="2.1" fill="#ff5a5a" opacity="0.42"/><ellipse transform="translate(598.2 80.5) rotate(119.4)" rx="1.6" ry="2.1" fill="#5a6cff" opacity="0.24"/><ellipse transform="translate(595.3 78.9) rotate(119.4)" rx="1.6" ry="2.1" fill="#ff5a5a" opacity="0.10"/><ellipse transform="translate(609 88.9) rotate(119.4)" rx="1.6" ry="2.1" fill="#ff5a5a" opacity="0.32"/><ellipse transform="translate(611.8 90.5) rotate(119.4)" rx="1.6" ry="2.1" fill="#5a6cff" opacity="0.19"/><ellipse transform="translate(614.6 92.1) rotate(119.4)" rx="1.6" ry="2.1" fill="#ff5a5a" opacity="0.08"/><ellipse transform="translate(600 83.9) rotate(119.4)" rx="1.6" ry="2.1" fill="#5a6cff" opacity="0.40"/><ellipse transform="translate(597.2 82.3) rotate(119.4)" rx="1.6" ry="2.1" fill="#ff5a5a" opacity="0.23"/><ellipse transform="translate(594.3 80.7) rotate(119.4)" rx="1.6" ry="2.1" fill="#5a6cff" opacity="0.09"/><ellipse transform="translate(608 90.7) rotate(119.4)" rx="1.6" ry="2.1" fill="#5a6cff" opacity="0.37"/><ellipse transform="translate(610.8 92.3) rotate(119.4)" rx="1.6" ry="2.1" fill="#ff5a5a" opacity="0.21"/><ellipse transform="translate(613.6 93.9) rotate(119.4)" rx="1.6" ry="2.1" fill="#5a6cff" opacity="0.09"/><ellipse transform="translate(599 85.6) rotate(119.4)" rx="1.6" ry="2.1" fill="#ff5a5a" opacity="0.36"/><ellipse transform="translate(596.2 84) rotate(119.4)" rx="1.6" ry="2.1" fill="#5a6cff" opacity="0.21"/><ellipse transform="translate(593.3 82.5) rotate(119.4)" rx="1.6" ry="2.1" fill="#ff5a5a" opacity="0.09"/><ellipse transform="translate(607 92.5) rotate(119.4)" rx="1.6" ry="2.1" fill="#ff5a5a" opacity="0.40"/><ellipse transform="translate(609.8 94.1) rotate(119.4)" rx="1.6" ry="2.1" fill="#5a6cff" opacity="0.23"/><ellipse transform="translate(612.6 95.7) rotate(119.4)" rx="1.6" ry="2.1" fill="#ff5a5a" opacity="0.10"/><ellipse transform="translate(598 87.4) rotate(119.4)" rx="1.6" ry="2.1" fill="#5a6cff" opacity="0.31"/><ellipse transform="translate(595.2 85.8) rotate(119.4)" rx="1.6" ry="2.1" fill="#ff5a5a" opacity="0.18"/><ellipse transform="translate(592.4 84.2) rotate(119.4)" rx="1.6" ry="2.1" fill="#5a6cff" opacity="0.07"/><ellipse transform="translate(606 94.2) rotate(119.4)" rx="1.6" ry="2.1" fill="#5a6cff" opacity="0.42"/><ellipse transform="translate(608.8 95.8) rotate(119.4)" rx="1.6" ry="2.1" fill="#ff5a5a" opacity="0.24"/><ellipse transform="translate(611.6 97.4) rotate(119.4)" rx="1.6" ry="2.1" fill="#5a6cff" opacity="0.10"/><ellipse transform="translate(597 89.2) rotate(119.4)" rx="1.6" ry="2.1" fill="#ff5a5a" opacity="0.26"/><ellipse transform="translate(594.2 87.6) rotate(119.4)" rx="1.6" ry="2.1" fill="#5a6cff" opacity="0.15"/><ellipse transform="translate(591.4 86) rotate(119.4)" rx="1.6" ry="2.1" fill="#ff5a5a" opacity="0.06"/><ellipse transform="translate(605 96) rotate(119.4)" rx="1.6" ry="2.1" fill="#ff5a5a" opacity="0.42"/><ellipse transform="translate(607.8 97.6) rotate(119.4)" rx="1.6" ry="2.1" fill="#5a6cff" opacity="0.24"/><ellipse transform="translate(610.6 99.2) rotate(119.4)" rx="1.6" ry="2.1" fill="#ff5a5a" opacity="0.10"/><ellipse transform="translate(596 90.9) rotate(119.4)" rx="1.6" ry="2.1" fill="#5a6cff" opacity="0.26"/><ellipse transform="translate(593.2 89.3) rotate(119.4)" rx="1.6" ry="2.1" fill="#ff5a5a" opacity="0.15"/><ellipse transform="translate(590.4 87.7) rotate(119.4)" rx="1.6" ry="2.1" fill="#5a6cff" opacity="0.06"/><ellipse transform="translate(604 97.8) rotate(119.4)" rx="1.6" ry="2.1" fill="#5a6cff" opacity="0.40"/><ellipse transform="translate(606.8 99.4) rotate(119.4)" rx="1.6" ry="2.1" fill="#ff5a5a" opacity="0.23"/><ellipse transform="translate(609.6 100.9) rotate(119.4)" rx="1.6" ry="2.1" fill="#5a6cff" opacity="0.10"/><ellipse transform="translate(595 92.7) rotate(119.4)" rx="1.6" ry="2.1" fill="#ff5a5a" opacity="0.31"/><ellipse transform="translate(592.2 91.1) rotate(119.4)" rx="1.6" ry="2.1" fill="#5a6cff" opacity="0.18"/><ellipse transform="translate(589.4 89.5) rotate(119.4)" rx="1.6" ry="2.1" fill="#ff5a5a" opacity="0.07"/><ellipse transform="translate(603 99.5) rotate(119.4)" rx="1.6" ry="2.1" fill="#ff5a5a" opacity="0.37"/><ellipse transform="translate(605.8 101.1) rotate(119.4)" rx="1.6" ry="2.1" fill="#5a6cff" opacity="0.21"/><ellipse transform="translate(608.6 102.7) rotate(119.4)" rx="1.6" ry="2.1" fill="#ff5a5a" opacity="0.09"/><ellipse transform="translate(594 94.5) rotate(119.4)" rx="1.6" ry="2.1" fill="#5a6cff" opacity="0.36"/><ellipse transform="translate(591.2 92.9) rotate(119.4)" rx="1.6" ry="2.1" fill="#ff5a5a" opacity="0.21"/><ellipse transform="translate(588.4 91.3) rotate(119.4)" rx="1.6" ry="2.1" fill="#5a6cff" opacity="0.09"/><ellipse transform="translate(602 101.3) rotate(119.4)" rx="1.6" ry="2.1" fill="#5a6cff" opacity="0.32"/><ellipse transform="translate(604.8 102.9) rotate(119.4)" rx="1.6" ry="2.1" fill="#ff5a5a" opacity="0.18"/><ellipse transform="translate(607.6 104.5) rotate(119.4)" rx="1.6" ry="2.1" fill="#5a6cff" opacity="0.08"/><ellipse transform="translate(593 96.2) rotate(119.4)" rx="1.6" ry="2.1" fill="#ff5a5a" opacity="0.40"/><ellipse transform="translate(590.2 94.6) rotate(119.4)" rx="1.6" ry="2.1" fill="#5a6cff" opacity="0.23"/><ellipse transform="translate(587.4 93) rotate(119.4)" rx="1.6" ry="2.1" fill="#ff5a5a" opacity="0.09"/><ellipse transform="translate(601 103.1) rotate(119.4)" rx="1.6" ry="2.1" fill="#ff5a5a" opacity="0.27"/><ellipse transform="translate(603.8 104.6) rotate(119.4)" rx="1.6" ry="2.1" fill="#5a6cff" opacity="0.15"/><ellipse transform="translate(606.6 106.2) rotate(119.4)" rx="1.6" ry="2.1" fill="#ff5a5a" opacity="0.06"/><ellipse transform="translate(592 98) rotate(119.4)" rx="1.6" ry="2.1" fill="#5a6cff" opacity="0.42"/><ellipse transform="translate(589.2 96.4) rotate(119.4)" rx="1.6" ry="2.1" fill="#ff5a5a" opacity="0.24"/><ellipse transform="translate(586.4 94.8) rotate(119.4)" rx="1.6" ry="2.1" fill="#5a6cff" opacity="0.10"/><ellipse transform="translate(600 104.8) rotate(119.4)" rx="1.6" ry="2.1" fill="#5a6cff" opacity="0.25"/><ellipse transform="translate(602.8 106.4) rotate(119.4)" rx="1.6" ry="2.1" fill="#ff5a5a" opacity="0.14"/><ellipse transform="translate(605.6 108) rotate(119.4)" rx="1.6" ry="2.1" fill="#5a6cff" opacity="0.06"/><ellipse transform="translate(591 99.8) rotate(119.4)" rx="1.6" ry="2.1" fill="#ff5a5a" opacity="0.42"/><ellipse transform="translate(588.2 98.2) rotate(119.4)" rx="1.6" ry="2.1" fill="#5a6cff" opacity="0.24"/><ellipse transform="translate(585.4 96.6) rotate(119.4)" rx="1.6" ry="2.1" fill="#ff5a5a" opacity="0.10"/><ellipse transform="translate(599 106.6) rotate(119.4)" rx="1.6" ry="2.1" fill="#ff5a5a" opacity="0.31"/><ellipse transform="translate(601.8 108.2) rotate(119.4)" rx="1.6" ry="2.1" fill="#5a6cff" opacity="0.17"/><ellipse transform="translate(604.6 109.8) rotate(119.4)" rx="1.6" ry="2.1" fill="#ff5a5a" opacity="0.07"/><ellipse transform="translate(590 101.5) rotate(119.4)" rx="1.6" ry="2.1" fill="#5a6cff" opacity="0.40"/><ellipse transform="translate(587.2 99.9) rotate(119.4)" rx="1.6" ry="2.1" fill="#ff5a5a" opacity="0.23"/><ellipse transform="translate(584.4 98.3) rotate(119.4)" rx="1.6" ry="2.1" fill="#5a6cff" opacity="0.10"/><ellipse transform="translate(598 108.3) rotate(119.4)" rx="1.6" ry="2.1" fill="#5a6cff" opacity="0.35"/><ellipse transform="translate(600.8 109.9) rotate(119.4)" rx="1.6" ry="2.1" fill="#ff5a5a" opacity="0.20"/><ellipse transform="translate(603.6 111.5) rotate(119.4)" rx="1.6" ry="2.1" fill="#5a6cff" opacity="0.08"/><ellipse transform="translate(589 103.3) rotate(119.4)" rx="1.6" ry="2.1" fill="#ff5a5a" opacity="0.37"/><ellipse transform="translate(586.2 101.7) rotate(119.4)" rx="1.6" ry="2.1" fill="#5a6cff" opacity="0.21"/><ellipse transform="translate(583.4 100.1) rotate(119.4)" rx="1.6" ry="2.1" fill="#ff5a5a" opacity="0.09"/><ellipse transform="translate(597 110.1) rotate(119.4)" rx="1.6" ry="2.1" fill="#ff5a5a" opacity="0.39"/><ellipse transform="translate(599.8 111.7) rotate(119.4)" rx="1.6" ry="2.1" fill="#5a6cff" opacity="0.22"/><ellipse transform="translate(602.6 113.3) rotate(119.4)" rx="1.6" ry="2.1" fill="#ff5a5a" opacity="0.09"/><ellipse transform="translate(588 105.1) rotate(119.4)" rx="1.6" ry="2.1" fill="#5a6cff" opacity="0.33"/><ellipse transform="translate(585.2 103.5) rotate(119.4)" rx="1.6" ry="2.1" fill="#ff5a5a" opacity="0.19"/><ellipse transform="translate(582.4 101.9) rotate(119.4)" rx="1.6" ry="2.1" fill="#5a6cff" opacity="0.08"/><ellipse transform="translate(596 111.9) rotate(119.4)" rx="1.6" ry="2.1" fill="#5a6cff" opacity="0.41"/><ellipse transform="translate(598.8 113.5) rotate(119.4)" rx="1.6" ry="2.1" fill="#ff5a5a" opacity="0.24"/><ellipse transform="translate(601.6 115.1) rotate(119.4)" rx="1.6" ry="2.1" fill="#5a6cff" opacity="0.10"/><ellipse transform="translate(587 106.8) rotate(119.4)" rx="1.6" ry="2.1" fill="#ff5a5a" opacity="0.28"/><ellipse transform="translate(584.2 105.2) rotate(119.4)" rx="1.6" ry="2.1" fill="#5a6cff" opacity="0.16"/><ellipse transform="translate(581.4 103.6) rotate(119.4)" rx="1.6" ry="2.1" fill="#ff5a5a" opacity="0.07"/><ellipse transform="translate(595 113.6) rotate(119.4)" rx="1.6" ry="2.1" fill="#ff5a5a" opacity="0.42"/><ellipse transform="translate(597.8 115.2) rotate(119.4)" rx="1.6" ry="2.1" fill="#5a6cff" opacity="0.24"/><ellipse transform="translate(600.7 116.8) rotate(119.4)" rx="1.6" ry="2.1" fill="#ff5a5a" opacity="0.10"/><ellipse transform="translate(586 108.6) rotate(119.4)" rx="1.6" ry="2.1" fill="#5a6cff" opacity="0.24"/><ellipse transform="translate(583.2 107) rotate(119.4)" rx="1.6" ry="2.1" fill="#ff5a5a" opacity="0.14"/><ellipse transform="translate(580.4 105.4) rotate(119.4)" rx="1.6" ry="2.1" fill="#5a6cff" opacity="0.06"/><ellipse transform="translate(594 115.4) rotate(119.4)" rx="1.6" ry="2.1" fill="#5a6cff" opacity="0.41"/><ellipse transform="translate(596.8 117) rotate(119.4)" rx="1.6" ry="2.1" fill="#ff5a5a" opacity="0.23"/><ellipse transform="translate(599.7 118.6) rotate(119.4)" rx="1.6" ry="2.1" fill="#5a6cff" opacity="0.10"/><ellipse transform="translate(585 110.4) rotate(119.4)" rx="1.6" ry="2.1" fill="#ff5a5a" opacity="0.30"/><ellipse transform="translate(582.2 108.8) rotate(119.4)" rx="1.6" ry="2.1" fill="#5a6cff" opacity="0.17"/><ellipse transform="translate(579.4 107.2) rotate(119.4)" rx="1.6" ry="2.1" fill="#ff5a5a" opacity="0.07"/><ellipse transform="translate(593 117.2) rotate(119.4)" rx="1.6" ry="2.1" fill="#ff5a5a" opacity="0.38"/><ellipse transform="translate(595.8 118.8) rotate(119.4)" rx="1.6" ry="2.1" fill="#5a6cff" opacity="0.22"/><ellipse transform="translate(598.7 120.4) rotate(119.4)" rx="1.6" ry="2.1" fill="#ff5a5a" opacity="0.09"/><ellipse transform="translate(584.1 112.1) rotate(119.4)" rx="1.6" ry="2.1" fill="#5a6cff" opacity="0.35"/><ellipse transform="translate(581.2 110.5) rotate(119.4)" rx="1.6" ry="2.1" fill="#ff5a5a" opacity="0.20"/><ellipse transform="translate(578.4 108.9) rotate(119.4)" rx="1.6" ry="2.1" fill="#5a6cff" opacity="0.08"/><ellipse transform="translate(592 118.9) rotate(119.4)" rx="1.6" ry="2.1" fill="#5a6cff" opacity="0.34"/><ellipse transform="translate(594.8 120.5) rotate(119.4)" rx="1.6" ry="2.1" fill="#ff5a5a" opacity="0.19"/><ellipse transform="translate(597.7 122.1) rotate(119.4)" rx="1.6" ry="2.1" fill="#5a6cff" opacity="0.08"/><ellipse transform="translate(583.1 113.9) rotate(119.4)" rx="1.6" ry="2.1" fill="#ff5a5a" opacity="0.39"/><ellipse transform="translate(580.2 112.3) rotate(119.4)" rx="1.6" ry="2.1" fill="#5a6cff" opacity="0.22"/><ellipse transform="translate(577.4 110.7) rotate(119.4)" rx="1.6" ry="2.1" fill="#ff5a5a" opacity="0.09"/><ellipse transform="translate(591 120.7) rotate(119.4)" rx="1.6" ry="2.1" fill="#ff5a5a" opacity="0.29"/><ellipse transform="translate(593.8 122.3) rotate(119.4)" rx="1.6" ry="2.1" fill="#5a6cff" opacity="0.16"/><ellipse transform="translate(596.7 123.9) rotate(119.4)" rx="1.6" ry="2.1" fill="#ff5a5a" opacity="0.07"/><ellipse transform="translate(582.1 115.6) rotate(119.4)" rx="1.6" ry="2.1" fill="#5a6cff" opacity="0.41"/><ellipse transform="translate(579.2 114.1) rotate(119.4)" rx="1.6" ry="2.1" fill="#ff5a5a" opacity="0.23"/><ellipse transform="translate(576.4 112.5) rotate(119.4)" rx="1.6" ry="2.1" fill="#5a6cff" opacity="0.10"/><ellipse transform="translate(590 122.5) rotate(119.4)" rx="1.6" ry="2.1" fill="#5a6cff" opacity="0.23"/><ellipse transform="translate(592.8 124.1) rotate(119.4)" rx="1.6" ry="2.1" fill="#ff5a5a" opacity="0.13"/><ellipse transform="translate(595.7 125.7) rotate(119.4)" rx="1.6" ry="2.1" fill="#5a6cff" opacity="0.06"/><ellipse transform="translate(581.1 117.4) rotate(119.4)" rx="1.6" ry="2.1" fill="#ff5a5a" opacity="0.42"/><ellipse transform="translate(578.2 115.8) rotate(119.4)" rx="1.6" ry="2.1" fill="#5a6cff" opacity="0.24"/><ellipse transform="translate(575.4 114.2) rotate(119.4)" rx="1.6" ry="2.1" fill="#ff5a5a" opacity="0.10"/><ellipse transform="translate(589 124.2) rotate(119.4)" rx="1.6" ry="2.1" fill="#ff5a5a" opacity="0.29"/><ellipse transform="translate(591.8 125.8) rotate(119.4)" rx="1.6" ry="2.1" fill="#5a6cff" opacity="0.16"/><ellipse transform="translate(594.7 127.4) rotate(119.4)" rx="1.6" ry="2.1" fill="#ff5a5a" opacity="0.07"/><ellipse transform="translate(580.1 119.2) rotate(119.4)" rx="1.6" ry="2.1" fill="#5a6cff" opacity="0.41"/><ellipse transform="translate(577.2 117.6) rotate(119.4)" rx="1.6" ry="2.1" fill="#ff5a5a" opacity="0.24"/><ellipse transform="translate(574.4 116) rotate(119.4)" rx="1.6" ry="2.1" fill="#5a6cff" opacity="0.10"/><ellipse transform="translate(588 126) rotate(119.4)" rx="1.6" ry="2.1" fill="#5a6cff" opacity="0.34"/><ellipse transform="translate(590.9 127.6) rotate(119.4)" rx="1.6" ry="2.1" fill="#ff5a5a" opacity="0.19"/><ellipse transform="translate(593.7 129.2) rotate(119.4)" rx="1.6" ry="2.1" fill="#5a6cff" opacity="0.08"/><ellipse transform="translate(579.1 120.9) rotate(119.4)" rx="1.6" ry="2.1" fill="#ff5a5a" opacity="0.39"/><ellipse transform="translate(576.2 119.4) rotate(119.4)" rx="1.6" ry="2.1" fill="#5a6cff" opacity="0.22"/><ellipse transform="translate(573.4 117.8) rotate(119.4)" rx="1.6" ry="2.1" fill="#ff5a5a" opacity="0.09"/><ellipse transform="translate(582.8 130.3) rotate(0)" rx="1.6" ry="2.1" fill="#ff5a5a" opacity="0.37"/><ellipse transform="translate(582.8 133.5) rotate(0)" rx="1.6" ry="2.1" fill="#5a6cff" opacity="0.21"/><ellipse transform="translate(582.8 136.8) rotate(0)" rx="1.6" ry="2.1" fill="#ff5a5a" opacity="0.09"/><ellipse transform="translate(582.8 119.3) rotate(0)" rx="1.6" ry="2.1" fill="#5a6cff" opacity="0.36"/><ellipse transform="translate(582.8 116.1) rotate(0)" rx="1.6" ry="2.1" fill="#ff5a5a" opacity="0.21"/><ellipse transform="translate(582.8 112.8) rotate(0)" rx="1.6" ry="2.1" fill="#5a6cff" opacity="0.09"/><ellipse transform="translate(584.8 130.3) rotate(0)" rx="1.6" ry="2.1" fill="#5a6cff" opacity="0.40"/><ellipse transform="translate(584.8 133.5) rotate(0)" rx="1.6" ry="2.1" fill="#ff5a5a" opacity="0.23"/><ellipse transform="translate(584.8 136.8) rotate(0)" rx="1.6" ry="2.1" fill="#5a6cff" opacity="0.10"/><ellipse transform="translate(584.8 119.3) rotate(0)" rx="1.6" ry="2.1" fill="#ff5a5a" opacity="0.31"/><ellipse transform="translate(584.8 116.1) rotate(0)" rx="1.6" ry="2.1" fill="#5a6cff" opacity="0.18"/><ellipse transform="translate(584.8 112.8) rotate(0)" rx="1.6" ry="2.1" fill="#ff5a5a" opacity="0.07"/><ellipse transform="translate(586.9 130.3) rotate(0)" rx="1.6" ry="2.1" fill="#ff5a5a" opacity="0.42"/><ellipse transform="translate(586.9 133.5) rotate(0)" rx="1.6" ry="2.1" fill="#5a6cff" opacity="0.24"/><ellipse transform="translate(586.9 136.8) rotate(0)" rx="1.6" ry="2.1" fill="#ff5a5a" opacity="0.10"/><ellipse transform="translate(586.9 119.3) rotate(0)" rx="1.6" ry="2.1" fill="#5a6cff" opacity="0.26"/><ellipse transform="translate(586.9 116.1) rotate(0)" rx="1.6" ry="2.1" fill="#ff5a5a" opacity="0.15"/><ellipse transform="translate(586.9 112.8) rotate(0)" rx="1.6" ry="2.1" fill="#5a6cff" opacity="0.06"/><ellipse transform="translate(588.9 130.3) rotate(0)" rx="1.6" ry="2.1" fill="#5a6cff" opacity="0.42"/><ellipse transform="translate(588.9 133.5) rotate(0)" rx="1.6" ry="2.1" fill="#ff5a5a" opacity="0.24"/><ellipse transform="translate(588.9 136.8) rotate(0)" rx="1.6" ry="2.1" fill="#5a6cff" opacity="0.10"/><ellipse transform="translate(588.9 119.3) rotate(0)" rx="1.6" ry="2.1" fill="#ff5a5a" opacity="0.26"/><ellipse transform="translate(588.9 116.1) rotate(0)" rx="1.6" ry="2.1" fill="#5a6cff" opacity="0.15"/><ellipse transform="translate(588.9 112.8) rotate(0)" rx="1.6" ry="2.1" fill="#ff5a5a" opacity="0.06"/><ellipse transform="translate(590.9 130.3) rotate(0)" rx="1.6" ry="2.1" fill="#ff5a5a" opacity="0.40"/><ellipse transform="translate(590.9 133.5) rotate(0)" rx="1.6" ry="2.1" fill="#5a6cff" opacity="0.23"/><ellipse transform="translate(590.9 136.8) rotate(0)" rx="1.6" ry="2.1" fill="#ff5a5a" opacity="0.10"/><ellipse transform="translate(590.9 119.3) rotate(0)" rx="1.6" ry="2.1" fill="#5a6cff" opacity="0.32"/><ellipse transform="translate(590.9 116.1) rotate(0)" rx="1.6" ry="2.1" fill="#ff5a5a" opacity="0.18"/><ellipse transform="translate(590.9 112.8) rotate(0)" rx="1.6" ry="2.1" fill="#5a6cff" opacity="0.08"/><ellipse transform="translate(592.9 130.3) rotate(0)" rx="1.6" ry="2.1" fill="#5a6cff" opacity="0.37"/><ellipse transform="translate(592.9 133.5) rotate(0)" rx="1.6" ry="2.1" fill="#ff5a5a" opacity="0.21"/><ellipse transform="translate(592.9 136.8) rotate(0)" rx="1.6" ry="2.1" fill="#5a6cff" opacity="0.09"/><ellipse transform="translate(592.9 119.3) rotate(0)" rx="1.6" ry="2.1" fill="#ff5a5a" opacity="0.36"/><ellipse transform="translate(592.9 116.1) rotate(0)" rx="1.6" ry="2.1" fill="#5a6cff" opacity="0.21"/><ellipse transform="translate(592.9 112.8) rotate(0)" rx="1.6" ry="2.1" fill="#ff5a5a" opacity="0.09"/><ellipse transform="translate(595 130.3) rotate(0)" rx="1.6" ry="2.1" fill="#ff5a5a" opacity="0.32"/><ellipse transform="translate(595 133.5) rotate(0)" rx="1.6" ry="2.1" fill="#5a6cff" opacity="0.18"/><ellipse transform="translate(595 136.8) rotate(0)" rx="1.6" ry="2.1" fill="#ff5a5a" opacity="0.08"/><ellipse transform="translate(595 119.3) rotate(0)" rx="1.6" ry="2.1" fill="#5a6cff" opacity="0.40"/><ellipse transform="translate(595 116.1) rotate(0)" rx="1.6" ry="2.1" fill="#ff5a5a" opacity="0.23"/><ellipse transform="translate(595 112.8) rotate(0)" rx="1.6" ry="2.1" fill="#5a6cff" opacity="0.09"/><ellipse transform="translate(597 130.3) rotate(0)" rx="1.6" ry="2.1" fill="#5a6cff" opacity="0.27"/><ellipse transform="translate(597 133.5) rotate(0)" rx="1.6" ry="2.1" fill="#ff5a5a" opacity="0.15"/><ellipse transform="translate(597 136.8) rotate(0)" rx="1.6" ry="2.1" fill="#5a6cff" opacity="0.06"/><ellipse transform="translate(597 119.3) rotate(0)" rx="1.6" ry="2.1" fill="#ff5a5a" opacity="0.42"/><ellipse transform="translate(597 116.1) rotate(0)" rx="1.6" ry="2.1" fill="#5a6cff" opacity="0.24"/><ellipse transform="translate(597 112.8) rotate(0)" rx="1.6" ry="2.1" fill="#ff5a5a" opacity="0.10"/><ellipse transform="translate(599 130.3) rotate(0)" rx="1.6" ry="2.1" fill="#ff5a5a" opacity="0.25"/><ellipse transform="translate(599 133.5) rotate(0)" rx="1.6" ry="2.1" fill="#5a6cff" opacity="0.14"/><ellipse transform="translate(599 136.8) rotate(0)" rx="1.6" ry="2.1" fill="#ff5a5a" opacity="0.06"/><ellipse transform="translate(599 119.3) rotate(0)" rx="1.6" ry="2.1" fill="#5a6cff" opacity="0.42"/><ellipse transform="translate(599 116.1) rotate(0)" rx="1.6" ry="2.1" fill="#ff5a5a" opacity="0.24"/><ellipse transform="translate(599 112.8) rotate(0)" rx="1.6" ry="2.1" fill="#5a6cff" opacity="0.10"/><ellipse transform="translate(601 130.3) rotate(0)" rx="1.6" ry="2.1" fill="#5a6cff" opacity="0.31"/><ellipse transform="translate(601 133.5) rotate(0)" rx="1.6" ry="2.1" fill="#ff5a5a" opacity="0.18"/><ellipse transform="translate(601 136.8) rotate(0)" rx="1.6" ry="2.1" fill="#5a6cff" opacity="0.07"/><ellipse transform="translate(601 119.3) rotate(0)" rx="1.6" ry="2.1" fill="#ff5a5a" opacity="0.40"/><ellipse transform="translate(601 116.1) rotate(0)" rx="1.6" ry="2.1" fill="#5a6cff" opacity="0.23"/><ellipse transform="translate(601 112.8) rotate(0)" rx="1.6" ry="2.1" fill="#ff5a5a" opacity="0.10"/><ellipse transform="translate(603.1 130.3) rotate(0)" rx="1.6" ry="2.1" fill="#ff5a5a" opacity="0.36"/><ellipse transform="translate(603.1 133.5) rotate(0)" rx="1.6" ry="2.1" fill="#5a6cff" opacity="0.20"/><ellipse transform="translate(603.1 136.8) rotate(0)" rx="1.6" ry="2.1" fill="#ff5a5a" opacity="0.08"/><ellipse transform="translate(603.1 119.3) rotate(0)" rx="1.6" ry="2.1" fill="#5a6cff" opacity="0.37"/><ellipse transform="translate(603.1 116.1) rotate(0)" rx="1.6" ry="2.1" fill="#ff5a5a" opacity="0.21"/><ellipse transform="translate(603.1 112.8) rotate(0)" rx="1.6" ry="2.1" fill="#5a6cff" opacity="0.09"/><ellipse transform="translate(605.1 130.3) rotate(0)" rx="1.6" ry="2.1" fill="#5a6cff" opacity="0.39"/><ellipse transform="translate(605.1 133.5) rotate(0)" rx="1.6" ry="2.1" fill="#ff5a5a" opacity="0.22"/><ellipse transform="translate(605.1 136.8) rotate(0)" rx="1.6" ry="2.1" fill="#5a6cff" opacity="0.09"/><ellipse transform="translate(605.1 119.3) rotate(0)" rx="1.6" ry="2.1" fill="#ff5a5a" opacity="0.33"/><ellipse transform="translate(605.1 116.1) rotate(0)" rx="1.6" ry="2.1" fill="#5a6cff" opacity="0.19"/><ellipse transform="translate(605.1 112.8) rotate(0)" rx="1.6" ry="2.1" fill="#ff5a5a" opacity="0.08"/><ellipse transform="translate(607.1 130.3) rotate(0)" rx="1.6" ry="2.1" fill="#ff5a5a" opacity="0.41"/><ellipse transform="translate(607.1 133.5) rotate(0)" rx="1.6" ry="2.1" fill="#5a6cff" opacity="0.24"/><ellipse transform="translate(607.1 136.8) rotate(0)" rx="1.6" ry="2.1" fill="#ff5a5a" opacity="0.10"/><ellipse transform="translate(607.1 119.3) rotate(0)" rx="1.6" ry="2.1" fill="#5a6cff" opacity="0.28"/><ellipse transform="translate(607.1 116.1) rotate(0)" rx="1.6" ry="2.1" fill="#ff5a5a" opacity="0.16"/><ellipse transform="translate(607.1 112.8) rotate(0)" rx="1.6" ry="2.1" fill="#5a6cff" opacity="0.07"/><ellipse transform="translate(609.2 130.3) rotate(0)" rx="1.6" ry="2.1" fill="#5a6cff" opacity="0.42"/><ellipse transform="translate(609.2 133.5) rotate(0)" rx="1.6" ry="2.1" fill="#ff5a5a" opacity="0.24"/><ellipse transform="translate(609.2 136.8) rotate(0)" rx="1.6" ry="2.1" fill="#5a6cff" opacity="0.10"/><ellipse transform="translate(609.2 119.3) rotate(0)" rx="1.6" ry="2.1" fill="#ff5a5a" opacity="0.24"/><ellipse transform="translate(609.2 116.1) rotate(0)" rx="1.6" ry="2.1" fill="#5a6cff" opacity="0.14"/><ellipse transform="translate(609.2 112.8) rotate(0)" rx="1.6" ry="2.1" fill="#ff5a5a" opacity="0.06"/><ellipse transform="translate(611.2 130.3) rotate(0)" rx="1.6" ry="2.1" fill="#ff5a5a" opacity="0.41"/><ellipse transform="translate(611.2 133.5) rotate(0)" rx="1.6" ry="2.1" fill="#5a6cff" opacity="0.23"/><ellipse transform="translate(611.2 136.8) rotate(0)" rx="1.6" ry="2.1" fill="#ff5a5a" opacity="0.10"/><ellipse transform="translate(611.2 119.3) rotate(0)" rx="1.6" ry="2.1" fill="#5a6cff" opacity="0.30"/><ellipse transform="translate(611.2 116.1) rotate(0)" rx="1.6" ry="2.1" fill="#ff5a5a" opacity="0.17"/><ellipse transform="translate(611.2 112.8) rotate(0)" rx="1.6" ry="2.1" fill="#5a6cff" opacity="0.07"/><ellipse transform="translate(613.2 130.3) rotate(0)" rx="1.6" ry="2.1" fill="#5a6cff" opacity="0.38"/><ellipse transform="translate(613.2 133.5) rotate(0)" rx="1.6" ry="2.1" fill="#ff5a5a" opacity="0.22"/><ellipse transform="translate(613.2 136.8) rotate(0)" rx="1.6" ry="2.1" fill="#5a6cff" opacity="0.09"/><ellipse transform="translate(613.2 119.3) rotate(0)" rx="1.6" ry="2.1" fill="#ff5a5a" opacity="0.35"/><ellipse transform="translate(613.2 116.1) rotate(0)" rx="1.6" ry="2.1" fill="#5a6cff" opacity="0.20"/><ellipse transform="translate(613.2 112.8) rotate(0)" rx="1.6" ry="2.1" fill="#ff5a5a" opacity="0.08"/><ellipse transform="translate(615.2 130.3) rotate(0)" rx="1.6" ry="2.1" fill="#ff5a5a" opacity="0.34"/><ellipse transform="translate(615.2 133.5) rotate(0)" rx="1.6" ry="2.1" fill="#5a6cff" opacity="0.19"/><ellipse transform="translate(615.2 136.8) rotate(0)" rx="1.6" ry="2.1" fill="#ff5a5a" opacity="0.08"/><ellipse transform="translate(615.2 119.3) rotate(0)" rx="1.6" ry="2.1" fill="#5a6cff" opacity="0.39"/><ellipse transform="translate(615.2 116.1) rotate(0)" rx="1.6" ry="2.1" fill="#ff5a5a" opacity="0.22"/><ellipse transform="translate(615.2 112.8) rotate(0)" rx="1.6" ry="2.1" fill="#5a6cff" opacity="0.09"/><ellipse transform="translate(617.3 130.3) rotate(0)" rx="1.6" ry="2.1" fill="#5a6cff" opacity="0.29"/><ellipse transform="translate(617.3 133.5) rotate(0)" rx="1.6" ry="2.1" fill="#ff5a5a" opacity="0.16"/><ellipse transform="translate(617.3 136.8) rotate(0)" rx="1.6" ry="2.1" fill="#5a6cff" opacity="0.07"/><ellipse transform="translate(617.3 119.3) rotate(0)" rx="1.6" ry="2.1" fill="#ff5a5a" opacity="0.41"/><ellipse transform="translate(617.3 116.1) rotate(0)" rx="1.6" ry="2.1" fill="#5a6cff" opacity="0.24"/><ellipse transform="translate(617.3 112.8) rotate(0)" rx="1.6" ry="2.1" fill="#ff5a5a" opacity="0.10"/><ellipse transform="translate(619.3 130.3) rotate(0)" rx="1.6" ry="2.1" fill="#ff5a5a" opacity="0.23"/><ellipse transform="translate(619.3 133.5) rotate(0)" rx="1.6" ry="2.1" fill="#5a6cff" opacity="0.13"/><ellipse transform="translate(619.3 136.8) rotate(0)" rx="1.6" ry="2.1" fill="#ff5a5a" opacity="0.06"/><ellipse transform="translate(619.3 119.3) rotate(0)" rx="1.6" ry="2.1" fill="#5a6cff" opacity="0.42"/><ellipse transform="translate(619.3 116.1) rotate(0)" rx="1.6" ry="2.1" fill="#ff5a5a" opacity="0.24"/><ellipse transform="translate(619.3 112.8) rotate(0)" rx="1.6" ry="2.1" fill="#5a6cff" opacity="0.10"/><ellipse transform="translate(621.3 130.3) rotate(0)" rx="1.6" ry="2.1" fill="#5a6cff" opacity="0.29"/><ellipse transform="translate(621.3 133.5) rotate(0)" rx="1.6" ry="2.1" fill="#ff5a5a" opacity="0.16"/><ellipse transform="translate(621.3 136.8) rotate(0)" rx="1.6" ry="2.1" fill="#5a6cff" opacity="0.07"/><ellipse transform="translate(621.3 119.3) rotate(0)" rx="1.6" ry="2.1" fill="#ff5a5a" opacity="0.41"/><ellipse transform="translate(621.3 116.1) rotate(0)" rx="1.6" ry="2.1" fill="#5a6cff" opacity="0.23"/><ellipse transform="translate(621.3 112.8) rotate(0)" rx="1.6" ry="2.1" fill="#ff5a5a" opacity="0.10"/><ellipse transform="translate(623.3 130.3) rotate(0)" rx="1.6" ry="2.1" fill="#ff5a5a" opacity="0.34"/><ellipse transform="translate(623.3 133.5) rotate(0)" rx="1.6" ry="2.1" fill="#5a6cff" opacity="0.19"/><ellipse transform="translate(623.3 136.8) rotate(0)" rx="1.6" ry="2.1" fill="#ff5a5a" opacity="0.08"/><ellipse transform="translate(623.3 119.3) rotate(0)" rx="1.6" ry="2.1" fill="#5a6cff" opacity="0.39"/><ellipse transform="translate(623.3 116.1) rotate(0)" rx="1.6" ry="2.1" fill="#ff5a5a" opacity="0.22"/><ellipse transform="translate(623.3 112.8) rotate(0)" rx="1.6" ry="2.1" fill="#5a6cff" opacity="0.09"/><ellipse transform="translate(625.4 130.3) rotate(0)" rx="1.6" ry="2.1" fill="#5a6cff" opacity="0.38"/><ellipse transform="translate(625.4 133.5) rotate(0)" rx="1.6" ry="2.1" fill="#ff5a5a" opacity="0.22"/><ellipse transform="translate(625.4 136.8) rotate(0)" rx="1.6" ry="2.1" fill="#5a6cff" opacity="0.09"/><ellipse transform="translate(625.4 119.3) rotate(0)" rx="1.6" ry="2.1" fill="#ff5a5a" opacity="0.35"/><ellipse transform="translate(625.4 116.1) rotate(0)" rx="1.6" ry="2.1" fill="#5a6cff" opacity="0.20"/><ellipse transform="translate(625.4 112.8) rotate(0)" rx="1.6" ry="2.1" fill="#ff5a5a" opacity="0.08"/><ellipse transform="translate(627.4 130.3) rotate(0)" rx="1.6" ry="2.1" fill="#ff5a5a" opacity="0.41"/><ellipse transform="translate(627.4 133.5) rotate(0)" rx="1.6" ry="2.1" fill="#5a6cff" opacity="0.23"/><ellipse transform="translate(627.4 136.8) rotate(0)" rx="1.6" ry="2.1" fill="#ff5a5a" opacity="0.10"/><ellipse transform="translate(627.4 119.3) rotate(0)" rx="1.6" ry="2.1" fill="#5a6cff" opacity="0.30"/><ellipse transform="translate(627.4 116.1) rotate(0)" rx="1.6" ry="2.1" fill="#ff5a5a" opacity="0.17"/><ellipse transform="translate(627.4 112.8) rotate(0)" rx="1.6" ry="2.1" fill="#5a6cff" opacity="0.07"/><ellipse transform="translate(629.4 130.3) rotate(0)" rx="1.6" ry="2.1" fill="#5a6cff" opacity="0.42"/><ellipse transform="translate(629.4 133.5) rotate(0)" rx="1.6" ry="2.1" fill="#ff5a5a" opacity="0.24"/><ellipse transform="translate(629.4 136.8) rotate(0)" rx="1.6" ry="2.1" fill="#5a6cff" opacity="0.10"/><ellipse transform="translate(629.4 119.3) rotate(0)" rx="1.6" ry="2.1" fill="#ff5a5a" opacity="0.24"/><ellipse transform="translate(629.4 116.1) rotate(0)" rx="1.6" ry="2.1" fill="#5a6cff" opacity="0.14"/><ellipse transform="translate(629.4 112.8) rotate(0)" rx="1.6" ry="2.1" fill="#ff5a5a" opacity="0.06"/><ellipse transform="translate(631.4 130.3) rotate(0)" rx="1.6" ry="2.1" fill="#ff5a5a" opacity="0.41"/><ellipse transform="translate(631.4 133.5) rotate(0)" rx="1.6" ry="2.1" fill="#5a6cff" opacity="0.24"/><ellipse transform="translate(631.4 136.8) rotate(0)" rx="1.6" ry="2.1" fill="#ff5a5a" opacity="0.10"/><ellipse transform="translate(631.4 119.3) rotate(0)" rx="1.6" ry="2.1" fill="#5a6cff" opacity="0.28"/><ellipse transform="translate(631.4 116.1) rotate(0)" rx="1.6" ry="2.1" fill="#ff5a5a" opacity="0.16"/><ellipse transform="translate(631.4 112.8) rotate(0)" rx="1.6" ry="2.1" fill="#5a6cff" opacity="0.07"/><ellipse transform="translate(633.5 130.3) rotate(0)" rx="1.6" ry="2.1" fill="#5a6cff" opacity="0.39"/><ellipse transform="translate(633.5 133.5) rotate(0)" rx="1.6" ry="2.1" fill="#ff5a5a" opacity="0.22"/><ellipse transform="translate(633.5 136.8) rotate(0)" rx="1.6" ry="2.1" fill="#5a6cff" opacity="0.09"/><ellipse transform="translate(633.5 119.3) rotate(0)" rx="1.6" ry="2.1" fill="#ff5a5a" opacity="0.33"/><ellipse transform="translate(633.5 116.1) rotate(0)" rx="1.6" ry="2.1" fill="#5a6cff" opacity="0.19"/><ellipse transform="translate(633.5 112.8) rotate(0)" rx="1.6" ry="2.1" fill="#ff5a5a" opacity="0.08"/><ellipse transform="translate(635.5 130.3) rotate(0)" rx="1.6" ry="2.1" fill="#ff5a5a" opacity="0.35"/><ellipse transform="translate(635.5 133.5) rotate(0)" rx="1.6" ry="2.1" fill="#5a6cff" opacity="0.20"/><ellipse transform="translate(635.5 136.8) rotate(0)" rx="1.6" ry="2.1" fill="#ff5a5a" opacity="0.08"/><ellipse transform="translate(635.5 119.3) rotate(0)" rx="1.6" ry="2.1" fill="#5a6cff" opacity="0.37"/><ellipse transform="translate(635.5 116.1) rotate(0)" rx="1.6" ry="2.1" fill="#ff5a5a" opacity="0.21"/><ellipse transform="translate(635.5 112.8) rotate(0)" rx="1.6" ry="2.1" fill="#5a6cff" opacity="0.09"/><ellipse transform="translate(637.5 130.3) rotate(0)" rx="1.6" ry="2.1" fill="#5a6cff" opacity="0.31"/><ellipse transform="translate(637.5 133.5) rotate(0)" rx="1.6" ry="2.1" fill="#ff5a5a" opacity="0.18"/><ellipse transform="translate(637.5 136.8) rotate(0)" rx="1.6" ry="2.1" fill="#5a6cff" opacity="0.07"/><ellipse transform="translate(637.5 119.3) rotate(0)" rx="1.6" ry="2.1" fill="#ff5a5a" opacity="0.40"/><ellipse transform="translate(637.5 116.1) rotate(0)" rx="1.6" ry="2.1" fill="#5a6cff" opacity="0.23"/><ellipse transform="translate(637.5 112.8) rotate(0)" rx="1.6" ry="2.1" fill="#ff5a5a" opacity="0.10"/><ellipse transform="translate(639.6 130.3) rotate(0)" rx="1.6" ry="2.1" fill="#ff5a5a" opacity="0.25"/><ellipse transform="translate(639.6 133.5) rotate(0)" rx="1.6" ry="2.1" fill="#5a6cff" opacity="0.14"/><ellipse transform="translate(639.6 136.8) rotate(0)" rx="1.6" ry="2.1" fill="#ff5a5a" opacity="0.06"/><ellipse transform="translate(639.6 119.3) rotate(0)" rx="1.6" ry="2.1" fill="#5a6cff" opacity="0.42"/><ellipse transform="translate(639.6 116.1) rotate(0)" rx="1.6" ry="2.1" fill="#ff5a5a" opacity="0.24"/><ellipse transform="translate(639.6 112.8) rotate(0)" rx="1.6" ry="2.1" fill="#5a6cff" opacity="0.10"/><ellipse transform="translate(641.6 130.3) rotate(0)" rx="1.6" ry="2.1" fill="#5a6cff" opacity="0.27"/><ellipse transform="translate(641.6 133.5) rotate(0)" rx="1.6" ry="2.1" fill="#ff5a5a" opacity="0.15"/><ellipse transform="translate(641.6 136.8) rotate(0)" rx="1.6" ry="2.1" fill="#5a6cff" opacity="0.06"/><ellipse transform="translate(641.6 119.3) rotate(0)" rx="1.6" ry="2.1" fill="#ff5a5a" opacity="0.42"/><ellipse transform="translate(641.6 116.1) rotate(0)" rx="1.6" ry="2.1" fill="#5a6cff" opacity="0.24"/><ellipse transform="translate(641.6 112.8) rotate(0)" rx="1.6" ry="2.1" fill="#ff5a5a" opacity="0.10"/><ellipse transform="translate(643.6 130.3) rotate(0)" rx="1.6" ry="2.1" fill="#ff5a5a" opacity="0.32"/><ellipse transform="translate(643.6 133.5) rotate(0)" rx="1.6" ry="2.1" fill="#5a6cff" opacity="0.18"/><ellipse transform="translate(643.6 136.8) rotate(0)" rx="1.6" ry="2.1" fill="#ff5a5a" opacity="0.08"/><ellipse transform="translate(643.6 119.3) rotate(0)" rx="1.6" ry="2.1" fill="#5a6cff" opacity="0.40"/><ellipse transform="translate(643.6 116.1) rotate(0)" rx="1.6" ry="2.1" fill="#ff5a5a" opacity="0.23"/><ellipse transform="translate(643.6 112.8) rotate(0)" rx="1.6" ry="2.1" fill="#5a6cff" opacity="0.09"/><ellipse transform="translate(645.6 130.3) rotate(0)" rx="1.6" ry="2.1" fill="#5a6cff" opacity="0.37"/><ellipse transform="translate(645.6 133.5) rotate(0)" rx="1.6" ry="2.1" fill="#ff5a5a" opacity="0.21"/><ellipse transform="translate(645.6 136.8) rotate(0)" rx="1.6" ry="2.1" fill="#5a6cff" opacity="0.09"/><ellipse transform="translate(645.6 119.3) rotate(0)" rx="1.6" ry="2.1" fill="#ff5a5a" opacity="0.36"/><ellipse transform="translate(645.6 116.1) rotate(0)" rx="1.6" ry="2.1" fill="#5a6cff" opacity="0.21"/><ellipse transform="translate(645.6 112.8) rotate(0)" rx="1.6" ry="2.1" fill="#ff5a5a" opacity="0.09"/><ellipse transform="translate(647.7 130.3) rotate(0)" rx="1.6" ry="2.1" fill="#ff5a5a" opacity="0.40"/><ellipse transform="translate(647.7 133.5) rotate(0)" rx="1.6" ry="2.1" fill="#5a6cff" opacity="0.23"/><ellipse transform="translate(647.7 136.8) rotate(0)" rx="1.6" ry="2.1" fill="#ff5a5a" opacity="0.10"/><ellipse transform="translate(647.7 119.3) rotate(0)" rx="1.6" ry="2.1" fill="#5a6cff" opacity="0.32"/><ellipse transform="translate(647.7 116.1) rotate(0)" rx="1.6" ry="2.1" fill="#ff5a5a" opacity="0.18"/><ellipse transform="translate(647.7 112.8) rotate(0)" rx="1.6" ry="2.1" fill="#5a6cff" opacity="0.08"/><ellipse transform="translate(649.7 130.3) rotate(0)" rx="1.6" ry="2.1" fill="#5a6cff" opacity="0.42"/><ellipse transform="translate(649.7 133.5) rotate(0)" rx="1.6" ry="2.1" fill="#ff5a5a" opacity="0.24"/><ellipse transform="translate(649.7 136.8) rotate(0)" rx="1.6" ry="2.1" fill="#5a6cff" opacity="0.10"/><ellipse transform="translate(649.7 119.3) rotate(0)" rx="1.6" ry="2.1" fill="#ff5a5a" opacity="0.26"/><ellipse transform="translate(649.7 116.1) rotate(0)" rx="1.6" ry="2.1" fill="#5a6cff" opacity="0.15"/><ellipse transform="translate(649.7 112.8) rotate(0)" rx="1.6" ry="2.1" fill="#ff5a5a" opacity="0.06"/><ellipse transform="translate(651.7 130.3) rotate(0)" rx="1.6" ry="2.1" fill="#ff5a5a" opacity="0.42"/><ellipse transform="translate(651.7 133.5) rotate(0)" rx="1.6" ry="2.1" fill="#5a6cff" opacity="0.24"/><ellipse transform="translate(651.7 136.8) rotate(0)" rx="1.6" ry="2.1" fill="#ff5a5a" opacity="0.10"/><ellipse transform="translate(651.7 119.3) rotate(0)" rx="1.6" ry="2.1" fill="#5a6cff" opacity="0.26"/><ellipse transform="translate(651.7 116.1) rotate(0)" rx="1.6" ry="2.1" fill="#ff5a5a" opacity="0.15"/><ellipse transform="translate(651.7 112.8) rotate(0)" rx="1.6" ry="2.1" fill="#5a6cff" opacity="0.06"/><ellipse transform="translate(653.7 130.3) rotate(0)" rx="1.6" ry="2.1" fill="#5a6cff" opacity="0.40"/><ellipse transform="translate(653.7 133.5) rotate(0)" rx="1.6" ry="2.1" fill="#ff5a5a" opacity="0.23"/><ellipse transform="translate(653.7 136.8) rotate(0)" rx="1.6" ry="2.1" fill="#5a6cff" opacity="0.10"/><ellipse transform="translate(653.7 119.3) rotate(0)" rx="1.6" ry="2.1" fill="#ff5a5a" opacity="0.31"/><ellipse transform="translate(653.7 116.1) rotate(0)" rx="1.6" ry="2.1" fill="#5a6cff" opacity="0.18"/><ellipse transform="translate(653.7 112.8) rotate(0)" rx="1.6" ry="2.1" fill="#ff5a5a" opacity="0.07"/><ellipse transform="translate(655.8 130.3) rotate(0)" rx="1.6" ry="2.1" fill="#ff5a5a" opacity="0.37"/><ellipse transform="translate(655.8 133.5) rotate(0)" rx="1.6" ry="2.1" fill="#5a6cff" opacity="0.21"/><ellipse transform="translate(655.8 136.8) rotate(0)" rx="1.6" ry="2.1" fill="#ff5a5a" opacity="0.09"/><ellipse transform="translate(655.8 119.3) rotate(0)" rx="1.6" ry="2.1" fill="#5a6cff" opacity="0.36"/><ellipse transform="translate(655.8 116.1) rotate(0)" rx="1.6" ry="2.1" fill="#ff5a5a" opacity="0.21"/><ellipse transform="translate(655.8 112.8) rotate(0)" rx="1.6" ry="2.1" fill="#5a6cff" opacity="0.09"/><ellipse transform="translate(657.8 130.3) rotate(0)" rx="1.6" ry="2.1" fill="#5a6cff" opacity="0.32"/><ellipse transform="translate(657.8 133.5) rotate(0)" rx="1.6" ry="2.1" fill="#ff5a5a" opacity="0.19"/><ellipse transform="translate(657.8 136.8) rotate(0)" rx="1.6" ry="2.1" fill="#5a6cff" opacity="0.08"/><ellipse transform="translate(657.8 119.3) rotate(0)" rx="1.6" ry="2.1" fill="#ff5a5a" opacity="0.40"/><ellipse transform="translate(657.8 116.1) rotate(0)" rx="1.6" ry="2.1" fill="#5a6cff" opacity="0.23"/><ellipse transform="translate(657.8 112.8) rotate(0)" rx="1.6" ry="2.1" fill="#ff5a5a" opacity="0.09"/><ellipse cx="581.5" cy="108.5" rx="1.7" ry="2" fill="#5a6cff" opacity="0.06"/><ellipse cx="575.4" cy="112" rx="1.7" ry="2" fill="#5a6cff" opacity="0.09"/><ellipse cx="579.4" cy="112" rx="1.7" ry="2" fill="#ff5a5a" opacity="0.12"/><ellipse cx="583.5" cy="112" rx="1.7" ry="2" fill="#5a6cff" opacity="0.12"/><ellipse cx="569.3" cy="115.5" rx="1.7" ry="2" fill="#ff5a5a" opacity="0.06"/><ellipse cx="573.3" cy="115.5" rx="1.7" ry="2" fill="#5a6cff" opacity="0.12"/><ellipse cx="577.4" cy="115.5" rx="1.7" ry="2" fill="#ff5a5a" opacity="0.16"/><ellipse cx="581.5" cy="115.5" rx="1.7" ry="2" fill="#5a6cff" opacity="0.18"/><ellipse cx="567.3" cy="119" rx="1.7" ry="2" fill="#5a6cff" opacity="0.06"/><ellipse cx="571.3" cy="119" rx="1.7" ry="2" fill="#ff5a5a" opacity="0.12"/><ellipse cx="575.4" cy="119" rx="1.7" ry="2" fill="#5a6cff" opacity="0.18"/><ellipse cx="579.4" cy="119" rx="1.7" ry="2" fill="#ff5a5a" opacity="0.23"/><ellipse cx="583.5" cy="119" rx="1.7" ry="2" fill="#5a6cff" opacity="0.25"/><ellipse cx="569.3" cy="122.5" rx="1.7" ry="2" fill="#ff5a5a" opacity="0.11"/><ellipse cx="573.3" cy="122.5" rx="1.7" ry="2" fill="#5a6cff" opacity="0.18"/><ellipse cx="577.4" cy="122.5" rx="1.7" ry="2" fill="#ff5a5a" opacity="0.25"/><ellipse cx="567.3" cy="126" rx="1.7" ry="2" fill="#5a6cff" opacity="0.08"/><ellipse cx="571.3" cy="126" rx="1.7" ry="2" fill="#ff5a5a" opacity="0.15"/><ellipse cx="575.4" cy="126" rx="1.7" ry="2" fill="#5a6cff" opacity="0.22"/><ellipse cx="569.3" cy="129.5" rx="1.7" ry="2" fill="#ff5a5a" opacity="0.10"/><ellipse cx="573.3" cy="129.5" rx="1.7" ry="2" fill="#5a6cff" opacity="0.16"/><ellipse cx="577.4" cy="129.5" rx="1.7" ry="2" fill="#ff5a5a" opacity="0.22"/><ellipse cx="581.5" cy="129.5" rx="1.7" ry="2" fill="#5a6cff" opacity="0.26"/><ellipse cx="571.3" cy="133" rx="1.7" ry="2" fill="#ff5a5a" opacity="0.10"/><ellipse cx="575.4" cy="133" rx="1.7" ry="2" fill="#5a6cff" opacity="0.15"/><ellipse cx="579.4" cy="133" rx="1.7" ry="2" fill="#ff5a5a" opacity="0.19"/><ellipse cx="583.5" cy="133" rx="1.7" ry="2" fill="#5a6cff" opacity="0.20"/><ellipse cx="573.3" cy="136.5" rx="1.7" ry="2" fill="#5a6cff" opacity="0.08"/><ellipse cx="577.4" cy="136.5" rx="1.7" ry="2" fill="#ff5a5a" opacity="0.12"/><ellipse cx="581.5" cy="136.5" rx="1.7" ry="2" fill="#5a6cff" opacity="0.14"/><ellipse cx="575.4" cy="140" rx="1.7" ry="2" fill="#5a6cff" opacity="0.05"/><ellipse cx="579.4" cy="140" rx="1.7" ry="2" fill="#ff5a5a" opacity="0.07"/><ellipse cx="583.5" cy="140" rx="1.7" ry="2" fill="#5a6cff" opacity="0.08"/><ellipse cx="624" cy="41.8" rx="1.7" ry="2" fill="#5a6cff" opacity="0.10"/><ellipse cx="628.1" cy="41.8" rx="1.7" ry="2" fill="#ff5a5a" opacity="0.08"/><ellipse cx="626.1" cy="45.3" rx="1.7" ry="2" fill="#ff5a5a" opacity="0.18"/><ellipse cx="630.1" cy="45.3" rx="1.7" ry="2" fill="#5a6cff" opacity="0.13"/><ellipse cx="632.1" cy="48.8" rx="1.7" ry="2" fill="#5a6cff" opacity="0.13"/><ellipse cx="630.1" cy="52.3" rx="1.7" ry="2" fill="#5a6cff" opacity="0.19"/><ellipse cx="634.2" cy="52.3" rx="1.7" ry="2" fill="#ff5a5a" opacity="0.08"/><ellipse cx="624" cy="55.8" rx="1.7" ry="2" fill="#5a6cff" opacity="0.22"/><ellipse cx="628.1" cy="55.8" rx="1.7" ry="2" fill="#ff5a5a" opacity="0.19"/><ellipse cx="632.1" cy="55.8" rx="1.7" ry="2" fill="#5a6cff" opacity="0.10"/><ellipse cx="626.1" cy="59.3" rx="1.7" ry="2" fill="#ff5a5a" opacity="0.12"/><ellipse cx="630.1" cy="59.3" rx="1.7" ry="2" fill="#5a6cff" opacity="0.08"/><ellipse cx="536" cy="53.4" rx="2" ry="2.5" fill="#ff5a5a" opacity="0.09"/><ellipse cx="536" cy="48.9" rx="2" ry="2.5" fill="#5a6cff" opacity="0.09"/><ellipse cx="534" cy="53.4" rx="2" ry="2.5" fill="#5a6cff" opacity="0.09"/><ellipse cx="534" cy="48.9" rx="2" ry="2.5" fill="#ff5a5a" opacity="0.09"/><ellipse cx="531.9" cy="53.4" rx="2" ry="2.5" fill="#ff5a5a" opacity="0.09"/><ellipse cx="531.9" cy="48.9" rx="2" ry="2.5" fill="#5a6cff" opacity="0.09"/><ellipse cx="529.9" cy="53.4" rx="2" ry="2.5" fill="#5a6cff" opacity="0.09"/><ellipse cx="529.9" cy="48.9" rx="2" ry="2.5" fill="#ff5a5a" opacity="0.09"/><ellipse cx="527.9" cy="53.4" rx="2" ry="2.5" fill="#ff5a5a" opacity="0.09"/><ellipse cx="527.9" cy="48.9" rx="2" ry="2.5" fill="#5a6cff" opacity="0.09"/><ellipse cx="525.9" cy="53.4" rx="2" ry="2.5" fill="#5a6cff" opacity="0.09"/><ellipse cx="525.9" cy="48.9" rx="2" ry="2.5" fill="#ff5a5a" opacity="0.09"/><ellipse cx="523.8" cy="53.4" rx="2" ry="2.5" fill="#ff5a5a" opacity="0.09"/><ellipse cx="523.8" cy="48.9" rx="2" ry="2.5" fill="#5a6cff" opacity="0.09"/><ellipse cx="521.8" cy="53.4" rx="2" ry="2.5" fill="#5a6cff" opacity="0.09"/><ellipse cx="521.8" cy="48.9" rx="2" ry="2.5" fill="#ff5a5a" opacity="0.09"/><ellipse cx="519.8" cy="53.4" rx="2" ry="2.5" fill="#ff5a5a" opacity="0.09"/><ellipse cx="519.8" cy="48.9" rx="2" ry="2.5" fill="#5a6cff" opacity="0.09"/><ellipse cx="517.8" cy="53.4" rx="2" ry="2.5" fill="#5a6cff" opacity="0.09"/><ellipse cx="517.8" cy="48.9" rx="2" ry="2.5" fill="#ff5a5a" opacity="0.09"/><ellipse cx="515.7" cy="53.4" rx="2" ry="2.5" fill="#ff5a5a" opacity="0.09"/><ellipse cx="515.7" cy="48.9" rx="2" ry="2.5" fill="#5a6cff" opacity="0.09"/><ellipse cx="513.7" cy="53.4" rx="2" ry="2.5" fill="#5a6cff" opacity="0.09"/><ellipse cx="513.7" cy="48.9" rx="2" ry="2.5" fill="#ff5a5a" opacity="0.09"/><ellipse cx="511.7" cy="53.4" rx="2" ry="2.5" fill="#ff5a5a" opacity="0.09"/><ellipse cx="511.7" cy="48.9" rx="2" ry="2.5" fill="#5a6cff" opacity="0.09"/><ellipse cx="509.6" cy="53.4" rx="2" ry="2.5" fill="#5a6cff" opacity="0.09"/><ellipse cx="509.6" cy="48.9" rx="2" ry="2.5" fill="#ff5a5a" opacity="0.09"/><ellipse cx="507.6" cy="53.4" rx="2" ry="2.5" fill="#ff5a5a" opacity="0.09"/><ellipse cx="507.6" cy="48.9" rx="2" ry="2.5" fill="#5a6cff" opacity="0.09"/><ellipse cx="505.6" cy="53.4" rx="2" ry="2.5" fill="#5a6cff" opacity="0.09"/><ellipse cx="505.6" cy="48.9" rx="2" ry="2.5" fill="#ff5a5a" opacity="0.09"/><ellipse cx="503.6" cy="53.4" rx="2" ry="2.5" fill="#ff5a5a" opacity="0.09"/><ellipse cx="503.6" cy="48.9" rx="2" ry="2.5" fill="#5a6cff" opacity="0.09"/><ellipse cx="501.5" cy="53.4" rx="2" ry="2.5" fill="#5a6cff" opacity="0.09"/><ellipse cx="501.5" cy="48.9" rx="2" ry="2.5" fill="#ff5a5a" opacity="0.09"/><ellipse cx="499.5" cy="53.4" rx="2" ry="2.5" fill="#ff5a5a" opacity="0.09"/><ellipse cx="499.5" cy="48.9" rx="2" ry="2.5" fill="#5a6cff" opacity="0.09"/><ellipse cx="497.5" cy="53.4" rx="2" ry="2.5" fill="#5a6cff" opacity="0.09"/><ellipse cx="497.5" cy="48.9" rx="2" ry="2.5" fill="#ff5a5a" opacity="0.09"/><ellipse cx="495.5" cy="53.4" rx="2" ry="2.5" fill="#ff5a5a" opacity="0.09"/><ellipse cx="495.5" cy="48.9" rx="2" ry="2.5" fill="#5a6cff" opacity="0.09"/><ellipse cx="493.4" cy="53.4" rx="2" ry="2.5" fill="#5a6cff" opacity="0.09"/><ellipse cx="493.4" cy="48.9" rx="2" ry="2.5" fill="#ff5a5a" opacity="0.09"/></g><g clip-path="url(#clipf20)" fill="none" stroke="#4a4a4a" stroke-width="0.42"><path d="M494.9 16.3h2.9l-1.4 2.5zM498.9 16.3h2.9l-1.4 2.5zM503 16.3h2.9l-1.4 2.5zM507 16.3h2.9l-1.4 2.5zM511.1 16.3h2.9l-1.4 2.5zM515.1 16.3h2.9l-1.4 2.5zM519.2 16.3h2.9l-1.4 2.5zM523.3 16.3h2.9l-1.4 2.5zM527.3 16.3h2.9l-1.4 2.5zM531.4 16.3h2.9l-1.4 2.5zM535.4 16.3h2.9l-1.4 2.5zM539.5 16.3h2.9l-1.4 2.5zM543.5 16.3h2.9l-1.4 2.5zM547.6 16.3h2.9l-1.4 2.5zM551.6 16.3h2.9l-1.4 2.5zM555.7 16.3h2.9l-1.4 2.5zM559.7 16.3h2.9l-1.4 2.5zM563.8 16.3h2.9l-1.4 2.5zM567.8 16.3h2.9l-1.4 2.5zM571.9 16.3h2.9l-1.4 2.5zM576 16.3h2.9l-1.4 2.5zM580 16.3h2.9l-1.4 2.5zM584.1 16.3h2.9l-1.4 2.5zM588.1 16.3h2.9l-1.4 2.5zM592.2 16.3h2.9l-1.4 2.5zM596.2 16.3h2.9l-1.4 2.5zM600.3 16.3h2.9l-1.4 2.5zM604.3 16.3h2.9l-1.4 2.5zM608.4 16.3h2.9l-1.4 2.5zM612.4 16.3h2.9l-1.4 2.5zM616.5 16.3h2.9l-1.4 2.5zM620.5 16.3h2.9l-1.4 2.5zM624.6 16.3h2.9l-1.4 2.5zM628.7 16.3h2.9l-1.4 2.5zM632.7 16.3h2.9l-1.4 2.5zM636.8 16.3h2.9l-1.4 2.5zM640.8 16.3h2.9l-1.4 2.5zM644.9 16.3h2.9l-1.4 2.5zM648.9 16.3h2.9l-1.4 2.5zM653 16.3h2.9l-1.4 2.5zM496.9 19.9h2.9l-1.4 2.5zM501 19.9h2.9l-1.4 2.5zM505 19.9h2.9l-1.4 2.5zM509.1 19.9h2.9l-1.4 2.5zM513.1 19.9h2.9l-1.4 2.5zM517.2 19.9h2.9l-1.4 2.5zM521.2 19.9h2.9l-1.4 2.5zM525.3 19.9h2.9l-1.4 2.5zM529.3 19.9h2.9l-1.4 2.5zM533.4 19.9h2.9l-1.4 2.5zM537.4 19.9h2.9l-1.4 2.5zM541.5 19.9h2.9l-1.4 2.5zM545.5 19.9h2.9l-1.4 2.5zM549.6 19.9h2.9l-1.4 2.5zM553.7 19.9h2.9l-1.4 2.5zM557.7 19.9h2.9l-1.4 2.5zM561.8 19.9h2.9l-1.4 2.5zM565.8 19.9h2.9l-1.4 2.5zM569.9 19.9h2.9l-1.4 2.5zM573.9 19.9h2.9l-1.4 2.5zM578 19.9h2.9l-1.4 2.5zM582 19.9h2.9l-1.4 2.5zM586.1 19.9h2.9l-1.4 2.5zM590.1 19.9h2.9l-1.4 2.5zM594.2 19.9h2.9l-1.4 2.5zM598.2 19.9h2.9l-1.4 2.5zM602.3 19.9h2.9l-1.4 2.5zM606.4 19.9h2.9l-1.4 2.5zM610.4 19.9h2.9l-1.4 2.5zM614.5 19.9h2.9l-1.4 2.5zM618.5 19.9h2.9l-1.4 2.5zM622.6 19.9h2.9l-1.4 2.5zM626.6 19.9h2.9l-1.4 2.5zM630.7 19.9h2.9l-1.4 2.5zM634.7 19.9h2.9l-1.4 2.5zM638.8 19.9h2.9l-1.4 2.5zM642.8 19.9h2.9l-1.4 2.5zM646.9 19.9h2.9l-1.4 2.5zM651 19.9h2.9l-1.4 2.5zM494.9 23.4h2.9l-1.4 2.5zM498.9 23.4h2.9l-1.4 2.5zM503 23.4h2.9l-1.4 2.5zM507 23.4h2.9l-1.4 2.5zM511.1 23.4h2.9l-1.4 2.5zM515.1 23.4h2.9l-1.4 2.5zM519.2 23.4h2.9l-1.4 2.5zM523.3 23.4h2.9l-1.4 2.5zM527.3 23.4h2.9l-1.4 2.5zM531.4 23.4h2.9l-1.4 2.5zM535.4 23.4h2.9l-1.4 2.5zM539.5 23.4h2.9l-1.4 2.5zM543.5 23.4h2.9l-1.4 2.5zM547.6 23.4h2.9l-1.4 2.5zM551.6 23.4h2.9l-1.4 2.5zM555.7 23.4h2.9l-1.4 2.5zM559.7 23.4h2.9l-1.4 2.5zM563.8 23.4h2.9l-1.4 2.5zM567.8 23.4h2.9l-1.4 2.5zM571.9 23.4h2.9l-1.4 2.5zM576 23.4h2.9l-1.4 2.5zM580 23.4h2.9l-1.4 2.5zM584.1 23.4h2.9l-1.4 2.5zM588.1 23.4h2.9l-1.4 2.5zM592.2 23.4h2.9l-1.4 2.5zM596.2 23.4h2.9l-1.4 2.5zM600.3 23.4h2.9l-1.4 2.5zM604.3 23.4h2.9l-1.4 2.5zM608.4 23.4h2.9l-1.4 2.5zM612.4 23.4h2.9l-1.4 2.5zM616.5 23.4h2.9l-1.4 2.5zM620.5 23.4h2.9l-1.4 2.5zM624.6 23.4h2.9l-1.4 2.5zM628.7 23.4h2.9l-1.4 2.5zM632.7 23.4h2.9l-1.4 2.5zM636.8 23.4h2.9l-1.4 2.5zM640.8 23.4h2.9l-1.4 2.5zM644.9 23.4h2.9l-1.4 2.5zM648.9 23.4h2.9l-1.4 2.5zM653 23.4h2.9l-1.4 2.5zM496.9 26.9h2.9l-1.4 2.5zM501 26.9h2.9l-1.4 2.5zM505 26.9h2.9l-1.4 2.5zM509.1 26.9h2.9l-1.4 2.5zM513.1 26.9h2.9l-1.4 2.5zM517.2 26.9h2.9l-1.4 2.5zM521.2 26.9h2.9l-1.4 2.5zM525.3 26.9h2.9l-1.4 2.5zM529.3 26.9h2.9l-1.4 2.5zM533.4 26.9h2.9l-1.4 2.5zM537.4 26.9h2.9l-1.4 2.5zM541.5 26.9h2.9l-1.4 2.5zM545.5 26.9h2.9l-1.4 2.5zM549.6 26.9h2.9l-1.4 2.5zM553.7 26.9h2.9l-1.4 2.5zM557.7 26.9h2.9l-1.4 2.5zM561.8 26.9h2.9l-1.4 2.5zM565.8 26.9h2.9l-1.4 2.5zM569.9 26.9h2.9l-1.4 2.5zM573.9 26.9h2.9l-1.4 2.5zM578 26.9h2.9l-1.4 2.5zM582 26.9h2.9l-1.4 2.5zM586.1 26.9h2.9l-1.4 2.5zM590.1 26.9h2.9l-1.4 2.5zM594.2 26.9h2.9l-1.4 2.5zM598.2 26.9h2.9l-1.4 2.5zM602.3 26.9h2.9l-1.4 2.5zM606.4 26.9h2.9l-1.4 2.5zM610.4 26.9h2.9l-1.4 2.5zM614.5 26.9h2.9l-1.4 2.5zM618.5 26.9h2.9l-1.4 2.5zM622.6 26.9h2.9l-1.4 2.5zM626.6 26.9h2.9l-1.4 2.5zM630.7 26.9h2.9l-1.4 2.5zM634.7 26.9h2.9l-1.4 2.5zM638.8 26.9h2.9l-1.4 2.5zM642.8 26.9h2.9l-1.4 2.5zM646.9 26.9h2.9l-1.4 2.5zM651 26.9h2.9l-1.4 2.5zM494.9 30.4h2.9l-1.4 2.5zM498.9 30.4h2.9l-1.4 2.5zM503 30.4h2.9l-1.4 2.5zM507 30.4h2.9l-1.4 2.5zM511.1 30.4h2.9l-1.4 2.5zM515.1 30.4h2.9l-1.4 2.5zM519.2 30.4h2.9l-1.4 2.5zM523.3 30.4h2.9l-1.4 2.5zM527.3 30.4h2.9l-1.4 2.5zM531.4 30.4h2.9l-1.4 2.5zM535.4 30.4h2.9l-1.4 2.5zM539.5 30.4h2.9l-1.4 2.5zM543.5 30.4h2.9l-1.4 2.5zM547.6 30.4h2.9l-1.4 2.5zM551.6 30.4h2.9l-1.4 2.5zM555.7 30.4h2.9l-1.4 2.5zM559.7 30.4h2.9l-1.4 2.5zM563.8 30.4h2.9l-1.4 2.5zM567.8 30.4h2.9l-1.4 2.5zM571.9 30.4h2.9l-1.4 2.5zM576 30.4h2.9l-1.4 2.5zM580 30.4h2.9l-1.4 2.5zM584.1 30.4h2.9l-1.4 2.5zM588.1 30.4h2.9l-1.4 2.5zM592.2 30.4h2.9l-1.4 2.5zM596.2 30.4h2.9l-1.4 2.5zM600.3 30.4h2.9l-1.4 2.5zM604.3 30.4h2.9l-1.4 2.5zM608.4 30.4h2.9l-1.4 2.5zM612.4 30.4h2.9l-1.4 2.5zM616.5 30.4h2.9l-1.4 2.5zM620.5 30.4h2.9l-1.4 2.5zM624.6 30.4h2.9l-1.4 2.5zM628.7 30.4h2.9l-1.4 2.5zM632.7 30.4h2.9l-1.4 2.5zM636.8 30.4h2.9l-1.4 2.5zM640.8 30.4h2.9l-1.4 2.5zM644.9 30.4h2.9l-1.4 2.5zM648.9 30.4h2.9l-1.4 2.5zM653 30.4h2.9l-1.4 2.5zM496.9 33.9h2.9l-1.4 2.5zM501 33.9h2.9l-1.4 2.5zM505 33.9h2.9l-1.4 2.5zM509.1 33.9h2.9l-1.4 2.5zM513.1 33.9h2.9l-1.4 2.5zM517.2 33.9h2.9l-1.4 2.5zM521.2 33.9h2.9l-1.4 2.5zM525.3 33.9h2.9l-1.4 2.5zM529.3 33.9h2.9l-1.4 2.5zM533.4 33.9h2.9l-1.4 2.5zM537.4 33.9h2.9l-1.4 2.5zM541.5 33.9h2.9l-1.4 2.5zM545.5 33.9h2.9l-1.4 2.5zM549.6 33.9h2.9l-1.4 2.5zM553.7 33.9h2.9l-1.4 2.5zM557.7 33.9h2.9l-1.4 2.5zM561.8 33.9h2.9l-1.4 2.5zM565.8 33.9h2.9l-1.4 2.5zM569.9 33.9h2.9l-1.4 2.5zM573.9 33.9h2.9l-1.4 2.5zM578 33.9h2.9l-1.4 2.5zM582 33.9h2.9l-1.4 2.5zM586.1 33.9h2.9l-1.4 2.5zM590.1 33.9h2.9l-1.4 2.5zM594.2 33.9h2.9l-1.4 2.5zM598.2 33.9h2.9l-1.4 2.5zM602.3 33.9h2.9l-1.4 2.5zM606.4 33.9h2.9l-1.4 2.5zM610.4 33.9h2.9l-1.4 2.5zM614.5 33.9h2.9l-1.4 2.5zM618.5 33.9h2.9l-1.4 2.5zM622.6 33.9h2.9l-1.4 2.5zM626.6 33.9h2.9l-1.4 2.5zM630.7 33.9h2.9l-1.4 2.5zM634.7 33.9h2.9l-1.4 2.5zM638.8 33.9h2.9l-1.4 2.5zM642.8 33.9h2.9l-1.4 2.5zM646.9 33.9h2.9l-1.4 2.5zM651 33.9h2.9l-1.4 2.5zM494.9 37.4h2.9l-1.4 2.5zM498.9 37.4h2.9l-1.4 2.5zM503 37.4h2.9l-1.4 2.5zM507 37.4h2.9l-1.4 2.5zM511.1 37.4h2.9l-1.4 2.5zM515.1 37.4h2.9l-1.4 2.5zM519.2 37.4h2.9l-1.4 2.5zM523.3 37.4h2.9l-1.4 2.5zM527.3 37.4h2.9l-1.4 2.5zM531.4 37.4h2.9l-1.4 2.5zM535.4 37.4h2.9l-1.4 2.5zM539.5 37.4h2.9l-1.4 2.5zM543.5 37.4h2.9l-1.4 2.5zM547.6 37.4h2.9l-1.4 2.5zM551.6 37.4h2.9l-1.4 2.5zM555.7 37.4h2.9l-1.4 2.5zM559.7 37.4h2.9l-1.4 2.5zM563.8 37.4h2.9l-1.4 2.5zM567.8 37.4h2.9l-1.4 2.5zM571.9 37.4h2.9l-1.4 2.5zM576 37.4h2.9l-1.4 2.5zM580 37.4h2.9l-1.4 2.5zM584.1 37.4h2.9l-1.4 2.5zM588.1 37.4h2.9l-1.4 2.5zM592.2 37.4h2.9l-1.4 2.5zM596.2 37.4h2.9l-1.4 2.5zM600.3 37.4h2.9l-1.4 2.5zM604.3 37.4h2.9l-1.4 2.5zM608.4 37.4h2.9l-1.4 2.5zM612.4 37.4h2.9l-1.4 2.5zM616.5 37.4h2.9l-1.4 2.5zM620.5 37.4h2.9l-1.4 2.5zM624.6 37.4h2.9l-1.4 2.5zM628.7 37.4h2.9l-1.4 2.5zM632.7 37.4h2.9l-1.4 2.5zM636.8 37.4h2.9l-1.4 2.5zM640.8 37.4h2.9l-1.4 2.5zM644.9 37.4h2.9l-1.4 2.5zM648.9 37.4h2.9l-1.4 2.5zM653 37.4h2.9l-1.4 2.5zM496.9 40.9h2.9l-1.4 2.5zM501 40.9h2.9l-1.4 2.5zM505 40.9h2.9l-1.4 2.5zM509.1 40.9h2.9l-1.4 2.5zM513.1 40.9h2.9l-1.4 2.5zM517.2 40.9h2.9l-1.4 2.5zM521.2 40.9h2.9l-1.4 2.5zM525.3 40.9h2.9l-1.4 2.5zM529.3 40.9h2.9l-1.4 2.5zM533.4 40.9h2.9l-1.4 2.5zM537.4 40.9h2.9l-1.4 2.5zM541.5 40.9h2.9l-1.4 2.5zM545.5 40.9h2.9l-1.4 2.5zM549.6 40.9h2.9l-1.4 2.5zM553.7 40.9h2.9l-1.4 2.5zM557.7 40.9h2.9l-1.4 2.5zM561.8 40.9h2.9l-1.4 2.5zM565.8 40.9h2.9l-1.4 2.5zM569.9 40.9h2.9l-1.4 2.5zM573.9 40.9h2.9l-1.4 2.5zM578 40.9h2.9l-1.4 2.5zM582 40.9h2.9l-1.4 2.5zM586.1 40.9h2.9l-1.4 2.5zM590.1 40.9h2.9l-1.4 2.5zM594.2 40.9h2.9l-1.4 2.5zM598.2 40.9h2.9l-1.4 2.5zM602.3 40.9h2.9l-1.4 2.5zM606.4 40.9h2.9l-1.4 2.5zM610.4 40.9h2.9l-1.4 2.5zM614.5 40.9h2.9l-1.4 2.5zM618.5 40.9h2.9l-1.4 2.5zM622.6 40.9h2.9l-1.4 2.5zM626.6 40.9h2.9l-1.4 2.5zM630.7 40.9h2.9l-1.4 2.5zM634.7 40.9h2.9l-1.4 2.5zM638.8 40.9h2.9l-1.4 2.5zM642.8 40.9h2.9l-1.4 2.5zM646.9 40.9h2.9l-1.4 2.5zM651 40.9h2.9l-1.4 2.5zM494.9 44.4h2.9l-1.4 2.5zM498.9 44.4h2.9l-1.4 2.5zM503 44.4h2.9l-1.4 2.5zM507 44.4h2.9l-1.4 2.5zM511.1 44.4h2.9l-1.4 2.5zM515.1 44.4h2.9l-1.4 2.5zM519.2 44.4h2.9l-1.4 2.5zM523.3 44.4h2.9l-1.4 2.5zM527.3 44.4h2.9l-1.4 2.5zM531.4 44.4h2.9l-1.4 2.5zM535.4 44.4h2.9l-1.4 2.5zM539.5 44.4h2.9l-1.4 2.5zM543.5 44.4h2.9l-1.4 2.5zM547.6 44.4h2.9l-1.4 2.5zM551.6 44.4h2.9l-1.4 2.5zM555.7 44.4h2.9l-1.4 2.5zM559.7 44.4h2.9l-1.4 2.5zM563.8 44.4h2.9l-1.4 2.5zM567.8 44.4h2.9l-1.4 2.5zM571.9 44.4h2.9l-1.4 2.5zM576 44.4h2.9l-1.4 2.5zM580 44.4h2.9l-1.4 2.5zM584.1 44.4h2.9l-1.4 2.5zM588.1 44.4h2.9l-1.4 2.5zM592.2 44.4h2.9l-1.4 2.5zM596.2 44.4h2.9l-1.4 2.5zM600.3 44.4h2.9l-1.4 2.5zM604.3 44.4h2.9l-1.4 2.5zM608.4 44.4h2.9l-1.4 2.5zM612.4 44.4h2.9l-1.4 2.5zM616.5 44.4h2.9l-1.4 2.5zM620.5 44.4h2.9l-1.4 2.5zM624.6 44.4h2.9l-1.4 2.5zM628.7 44.4h2.9l-1.4 2.5zM632.7 44.4h2.9l-1.4 2.5zM636.8 44.4h2.9l-1.4 2.5zM640.8 44.4h2.9l-1.4 2.5zM644.9 44.4h2.9l-1.4 2.5zM648.9 44.4h2.9l-1.4 2.5zM653 44.4h2.9l-1.4 2.5zM496.9 47.9h2.9l-1.4 2.5zM501 47.9h2.9l-1.4 2.5zM505 47.9h2.9l-1.4 2.5zM509.1 47.9h2.9l-1.4 2.5zM513.1 47.9h2.9l-1.4 2.5zM517.2 47.9h2.9l-1.4 2.5zM521.2 47.9h2.9l-1.4 2.5zM525.3 47.9h2.9l-1.4 2.5zM529.3 47.9h2.9l-1.4 2.5zM533.4 47.9h2.9l-1.4 2.5zM537.4 47.9h2.9l-1.4 2.5zM541.5 47.9h2.9l-1.4 2.5zM545.5 47.9h2.9l-1.4 2.5zM549.6 47.9h2.9l-1.4 2.5zM553.7 47.9h2.9l-1.4 2.5zM557.7 47.9h2.9l-1.4 2.5zM561.8 47.9h2.9l-1.4 2.5zM565.8 47.9h2.9l-1.4 2.5zM569.9 47.9h2.9l-1.4 2.5zM573.9 47.9h2.9l-1.4 2.5zM578 47.9h2.9l-1.4 2.5zM582 47.9h2.9l-1.4 2.5zM586.1 47.9h2.9l-1.4 2.5zM590.1 47.9h2.9l-1.4 2.5zM594.2 47.9h2.9l-1.4 2.5zM598.2 47.9h2.9l-1.4 2.5zM602.3 47.9h2.9l-1.4 2.5zM606.4 47.9h2.9l-1.4 2.5zM610.4 47.9h2.9l-1.4 2.5zM614.5 47.9h2.9l-1.4 2.5zM618.5 47.9h2.9l-1.4 2.5zM622.6 47.9h2.9l-1.4 2.5zM626.6 47.9h2.9l-1.4 2.5zM630.7 47.9h2.9l-1.4 2.5zM634.7 47.9h2.9l-1.4 2.5zM638.8 47.9h2.9l-1.4 2.5zM642.8 47.9h2.9l-1.4 2.5zM646.9 47.9h2.9l-1.4 2.5zM651 47.9h2.9l-1.4 2.5zM624.6 51.4h2.9l-1.4 2.5zM628.7 51.4h2.9l-1.4 2.5zM632.7 51.4h2.9l-1.4 2.5zM636.8 51.4h2.9l-1.4 2.5zM640.8 51.4h2.9l-1.4 2.5zM644.9 51.4h2.9l-1.4 2.5zM648.9 51.4h2.9l-1.4 2.5zM653 51.4h2.9l-1.4 2.5zM622.6 55h2.9l-1.4 2.5zM626.6 55h2.9l-1.4 2.5zM630.7 55h2.9l-1.4 2.5zM634.7 55h2.9l-1.4 2.5zM638.8 55h2.9l-1.4 2.5zM642.8 55h2.9l-1.4 2.5zM646.9 55h2.9l-1.4 2.5zM651 55h2.9l-1.4 2.5zM620.5 58.5h2.9l-1.4 2.5zM624.6 58.5h2.9l-1.4 2.5zM628.7 58.5h2.9l-1.4 2.5zM632.7 58.5h2.9l-1.4 2.5zM636.8 58.5h2.9l-1.4 2.5zM640.8 58.5h2.9l-1.4 2.5zM644.9 58.5h2.9l-1.4 2.5zM648.9 58.5h2.9l-1.4 2.5zM653 58.5h2.9l-1.4 2.5zM618.5 62h2.9l-1.4 2.5zM622.6 62h2.9l-1.4 2.5zM626.6 62h2.9l-1.4 2.5zM630.7 62h2.9l-1.4 2.5zM634.7 62h2.9l-1.4 2.5zM638.8 62h2.9l-1.4 2.5zM642.8 62h2.9l-1.4 2.5zM646.9 62h2.9l-1.4 2.5zM651 62h2.9l-1.4 2.5zM616.5 65.5h2.9l-1.4 2.5zM620.5 65.5h2.9l-1.4 2.5zM624.6 65.5h2.9l-1.4 2.5zM628.7 65.5h2.9l-1.4 2.5zM632.7 65.5h2.9l-1.4 2.5zM636.8 65.5h2.9l-1.4 2.5zM640.8 65.5h2.9l-1.4 2.5zM644.9 65.5h2.9l-1.4 2.5zM648.9 65.5h2.9l-1.4 2.5zM653 65.5h2.9l-1.4 2.5zM614.5 69h2.9l-1.4 2.5zM618.5 69h2.9l-1.4 2.5zM622.6 69h2.9l-1.4 2.5zM626.6 69h2.9l-1.4 2.5zM630.7 69h2.9l-1.4 2.5zM634.7 69h2.9l-1.4 2.5zM638.8 69h2.9l-1.4 2.5zM642.8 69h2.9l-1.4 2.5zM646.9 69h2.9l-1.4 2.5zM651 69h2.9l-1.4 2.5zM612.4 72.5h2.9l-1.4 2.5zM616.5 72.5h2.9l-1.4 2.5zM620.5 72.5h2.9l-1.4 2.5zM624.6 72.5h2.9l-1.4 2.5zM628.7 72.5h2.9l-1.4 2.5zM632.7 72.5h2.9l-1.4 2.5zM636.8 72.5h2.9l-1.4 2.5zM640.8 72.5h2.9l-1.4 2.5zM644.9 72.5h2.9l-1.4 2.5zM648.9 72.5h2.9l-1.4 2.5zM653 72.5h2.9l-1.4 2.5zM610.4 76h2.9l-1.4 2.5zM614.5 76h2.9l-1.4 2.5zM618.5 76h2.9l-1.4 2.5zM622.6 76h2.9l-1.4 2.5zM626.6 76h2.9l-1.4 2.5zM630.7 76h2.9l-1.4 2.5zM634.7 76h2.9l-1.4 2.5zM638.8 76h2.9l-1.4 2.5zM642.8 76h2.9l-1.4 2.5zM646.9 76h2.9l-1.4 2.5zM651 76h2.9l-1.4 2.5zM608.4 79.5h2.9l-1.4 2.5zM612.4 79.5h2.9l-1.4 2.5zM616.5 79.5h2.9l-1.4 2.5zM620.5 79.5h2.9l-1.4 2.5zM624.6 79.5h2.9l-1.4 2.5zM628.7 79.5h2.9l-1.4 2.5zM632.7 79.5h2.9l-1.4 2.5zM636.8 79.5h2.9l-1.4 2.5zM640.8 79.5h2.9l-1.4 2.5zM644.9 79.5h2.9l-1.4 2.5zM648.9 79.5h2.9l-1.4 2.5zM653 79.5h2.9l-1.4 2.5zM606.4 83h2.9l-1.4 2.5zM610.4 83h2.9l-1.4 2.5zM614.5 83h2.9l-1.4 2.5zM618.5 83h2.9l-1.4 2.5zM622.6 83h2.9l-1.4 2.5zM626.6 83h2.9l-1.4 2.5zM630.7 83h2.9l-1.4 2.5zM634.7 83h2.9l-1.4 2.5zM638.8 83h2.9l-1.4 2.5zM642.8 83h2.9l-1.4 2.5zM646.9 83h2.9l-1.4 2.5zM651 83h2.9l-1.4 2.5zM604.3 86.5h2.9l-1.4 2.5zM608.4 86.5h2.9l-1.4 2.5zM612.4 86.5h2.9l-1.4 2.5zM616.5 86.5h2.9l-1.4 2.5zM620.5 86.5h2.9l-1.4 2.5zM624.6 86.5h2.9l-1.4 2.5zM628.7 86.5h2.9l-1.4 2.5zM632.7 86.5h2.9l-1.4 2.5zM636.8 86.5h2.9l-1.4 2.5zM640.8 86.5h2.9l-1.4 2.5zM644.9 86.5h2.9l-1.4 2.5zM648.9 86.5h2.9l-1.4 2.5zM653 86.5h2.9l-1.4 2.5zM602.3 90.1h2.9l-1.4 2.5zM606.4 90.1h2.9l-1.4 2.5zM610.4 90.1h2.9l-1.4 2.5zM614.5 90.1h2.9l-1.4 2.5zM618.5 90.1h2.9l-1.4 2.5zM622.6 90.1h2.9l-1.4 2.5zM626.6 90.1h2.9l-1.4 2.5zM630.7 90.1h2.9l-1.4 2.5zM634.7 90.1h2.9l-1.4 2.5zM638.8 90.1h2.9l-1.4 2.5zM642.8 90.1h2.9l-1.4 2.5zM646.9 90.1h2.9l-1.4 2.5zM651 90.1h2.9l-1.4 2.5zM600.3 93.6h2.9l-1.4 2.5zM604.3 93.6h2.9l-1.4 2.5zM608.4 93.6h2.9l-1.4 2.5zM612.4 93.6h2.9l-1.4 2.5zM616.5 93.6h2.9l-1.4 2.5zM620.5 93.6h2.9l-1.4 2.5zM624.6 93.6h2.9l-1.4 2.5zM628.7 93.6h2.9l-1.4 2.5zM632.7 93.6h2.9l-1.4 2.5zM636.8 93.6h2.9l-1.4 2.5zM640.8 93.6h2.9l-1.4 2.5zM644.9 93.6h2.9l-1.4 2.5zM648.9 93.6h2.9l-1.4 2.5zM653 93.6h2.9l-1.4 2.5zM598.2 97.1h2.9l-1.4 2.5zM602.3 97.1h2.9l-1.4 2.5zM606.4 97.1h2.9l-1.4 2.5zM610.4 97.1h2.9l-1.4 2.5zM614.5 97.1h2.9l-1.4 2.5zM618.5 97.1h2.9l-1.4 2.5zM622.6 97.1h2.9l-1.4 2.5zM626.6 97.1h2.9l-1.4 2.5zM630.7 97.1h2.9l-1.4 2.5zM634.7 97.1h2.9l-1.4 2.5zM638.8 97.1h2.9l-1.4 2.5zM642.8 97.1h2.9l-1.4 2.5zM646.9 97.1h2.9l-1.4 2.5zM651 97.1h2.9l-1.4 2.5zM596.2 100.6h2.9l-1.4 2.5zM600.3 100.6h2.9l-1.4 2.5zM604.3 100.6h2.9l-1.4 2.5zM608.4 100.6h2.9l-1.4 2.5zM612.4 100.6h2.9l-1.4 2.5zM616.5 100.6h2.9l-1.4 2.5zM620.5 100.6h2.9l-1.4 2.5zM624.6 100.6h2.9l-1.4 2.5zM628.7 100.6h2.9l-1.4 2.5zM632.7 100.6h2.9l-1.4 2.5zM636.8 100.6h2.9l-1.4 2.5zM640.8 100.6h2.9l-1.4 2.5zM644.9 100.6h2.9l-1.4 2.5zM648.9 100.6h2.9l-1.4 2.5zM653 100.6h2.9l-1.4 2.5zM594.2 104.1h2.9l-1.4 2.5zM598.2 104.1h2.9l-1.4 2.5zM602.3 104.1h2.9l-1.4 2.5zM606.4 104.1h2.9l-1.4 2.5zM610.4 104.1h2.9l-1.4 2.5zM614.5 104.1h2.9l-1.4 2.5zM618.5 104.1h2.9l-1.4 2.5zM622.6 104.1h2.9l-1.4 2.5zM626.6 104.1h2.9l-1.4 2.5zM630.7 104.1h2.9l-1.4 2.5zM634.7 104.1h2.9l-1.4 2.5zM638.8 104.1h2.9l-1.4 2.5zM642.8 104.1h2.9l-1.4 2.5zM646.9 104.1h2.9l-1.4 2.5zM651 104.1h2.9l-1.4 2.5zM592.2 107.6h2.9l-1.4 2.5zM596.2 107.6h2.9l-1.4 2.5zM600.3 107.6h2.9l-1.4 2.5zM604.3 107.6h2.9l-1.4 2.5zM608.4 107.6h2.9l-1.4 2.5zM612.4 107.6h2.9l-1.4 2.5zM616.5 107.6h2.9l-1.4 2.5zM620.5 107.6h2.9l-1.4 2.5zM624.6 107.6h2.9l-1.4 2.5zM628.7 107.6h2.9l-1.4 2.5zM632.7 107.6h2.9l-1.4 2.5zM636.8 107.6h2.9l-1.4 2.5zM640.8 107.6h2.9l-1.4 2.5zM644.9 107.6h2.9l-1.4 2.5zM648.9 107.6h2.9l-1.4 2.5zM653 107.6h2.9l-1.4 2.5zM590.1 111.1h2.9l-1.4 2.5zM594.2 111.1h2.9l-1.4 2.5zM598.2 111.1h2.9l-1.4 2.5zM602.3 111.1h2.9l-1.4 2.5zM606.4 111.1h2.9l-1.4 2.5zM610.4 111.1h2.9l-1.4 2.5zM614.5 111.1h2.9l-1.4 2.5zM618.5 111.1h2.9l-1.4 2.5zM622.6 111.1h2.9l-1.4 2.5zM626.6 111.1h2.9l-1.4 2.5zM630.7 111.1h2.9l-1.4 2.5zM634.7 111.1h2.9l-1.4 2.5zM638.8 111.1h2.9l-1.4 2.5zM642.8 111.1h2.9l-1.4 2.5zM646.9 111.1h2.9l-1.4 2.5zM651 111.1h2.9l-1.4 2.5zM588.1 114.6h2.9l-1.4 2.5zM592.2 114.6h2.9l-1.4 2.5zM596.2 114.6h2.9l-1.4 2.5zM600.3 114.6h2.9l-1.4 2.5zM604.3 114.6h2.9l-1.4 2.5zM608.4 114.6h2.9l-1.4 2.5zM612.4 114.6h2.9l-1.4 2.5zM616.5 114.6h2.9l-1.4 2.5zM620.5 114.6h2.9l-1.4 2.5zM624.6 114.6h2.9l-1.4 2.5zM628.7 114.6h2.9l-1.4 2.5zM632.7 114.6h2.9l-1.4 2.5zM636.8 114.6h2.9l-1.4 2.5zM640.8 114.6h2.9l-1.4 2.5zM644.9 114.6h2.9l-1.4 2.5zM648.9 114.6h2.9l-1.4 2.5zM653 114.6h2.9l-1.4 2.5zM586.1 118.1h2.9l-1.4 2.5zM590.1 118.1h2.9l-1.4 2.5zM594.2 118.1h2.9l-1.4 2.5zM598.2 118.1h2.9l-1.4 2.5zM602.3 118.1h2.9l-1.4 2.5zM606.4 118.1h2.9l-1.4 2.5zM610.4 118.1h2.9l-1.4 2.5zM614.5 118.1h2.9l-1.4 2.5zM618.5 118.1h2.9l-1.4 2.5zM622.6 118.1h2.9l-1.4 2.5zM626.6 118.1h2.9l-1.4 2.5zM630.7 118.1h2.9l-1.4 2.5zM634.7 118.1h2.9l-1.4 2.5zM638.8 118.1h2.9l-1.4 2.5zM642.8 118.1h2.9l-1.4 2.5zM646.9 118.1h2.9l-1.4 2.5zM651 118.1h2.9l-1.4 2.5zM584.1 121.6h2.9l-1.4 2.5zM588.1 121.6h2.9l-1.4 2.5zM592.2 121.6h2.9l-1.4 2.5zM596.2 121.6h2.9l-1.4 2.5zM600.3 121.6h2.9l-1.4 2.5zM604.3 121.6h2.9l-1.4 2.5zM608.4 121.6h2.9l-1.4 2.5zM612.4 121.6h2.9l-1.4 2.5zM616.5 121.6h2.9l-1.4 2.5zM620.5 121.6h2.9l-1.4 2.5zM624.6 121.6h2.9l-1.4 2.5zM628.7 121.6h2.9l-1.4 2.5zM632.7 121.6h2.9l-1.4 2.5zM636.8 121.6h2.9l-1.4 2.5zM640.8 121.6h2.9l-1.4 2.5zM644.9 121.6h2.9l-1.4 2.5zM648.9 121.6h2.9l-1.4 2.5zM653 121.6h2.9l-1.4 2.5z"/><path d="M494.9 53.1h2.9l-1.4 -2.5zM498.9 53.1h2.9l-1.4 -2.5zM503 53.1h2.9l-1.4 -2.5zM507 53.1h2.9l-1.4 -2.5zM511.1 53.1h2.9l-1.4 -2.5zM515.1 53.1h2.9l-1.4 -2.5zM519.2 53.1h2.9l-1.4 -2.5zM523.3 53.1h2.9l-1.4 -2.5zM527.3 53.1h2.9l-1.4 -2.5zM531.4 53.1h2.9l-1.4 -2.5zM535.4 53.1h2.9l-1.4 -2.5zM539.5 53.1h2.9l-1.4 -2.5zM543.5 53.1h2.9l-1.4 -2.5zM547.6 53.1h2.9l-1.4 -2.5zM551.6 53.1h2.9l-1.4 -2.5zM555.7 53.1h2.9l-1.4 -2.5zM559.7 53.1h2.9l-1.4 -2.5zM563.8 53.1h2.9l-1.4 -2.5zM567.8 53.1h2.9l-1.4 -2.5zM571.9 53.1h2.9l-1.4 -2.5zM576 53.1h2.9l-1.4 -2.5zM580 53.1h2.9l-1.4 -2.5zM584.1 53.1h2.9l-1.4 -2.5zM588.1 53.1h2.9l-1.4 -2.5zM592.2 53.1h2.9l-1.4 -2.5zM596.2 53.1h2.9l-1.4 -2.5zM600.3 53.1h2.9l-1.4 -2.5zM604.3 53.1h2.9l-1.4 -2.5zM608.4 53.1h2.9l-1.4 -2.5zM612.4 53.1h2.9l-1.4 -2.5zM616.5 53.1h2.9l-1.4 -2.5zM620.5 53.1h2.9l-1.4 -2.5zM496.9 56.6h2.9l-1.4 -2.5zM501 56.6h2.9l-1.4 -2.5zM505 56.6h2.9l-1.4 -2.5zM509.1 56.6h2.9l-1.4 -2.5zM513.1 56.6h2.9l-1.4 -2.5zM517.2 56.6h2.9l-1.4 -2.5zM521.2 56.6h2.9l-1.4 -2.5zM525.3 56.6h2.9l-1.4 -2.5zM529.3 56.6h2.9l-1.4 -2.5zM533.4 56.6h2.9l-1.4 -2.5zM537.4 56.6h2.9l-1.4 -2.5zM541.5 56.6h2.9l-1.4 -2.5zM545.5 56.6h2.9l-1.4 -2.5zM549.6 56.6h2.9l-1.4 -2.5zM553.7 56.6h2.9l-1.4 -2.5zM557.7 56.6h2.9l-1.4 -2.5zM561.8 56.6h2.9l-1.4 -2.5zM565.8 56.6h2.9l-1.4 -2.5zM569.9 56.6h2.9l-1.4 -2.5zM573.9 56.6h2.9l-1.4 -2.5zM578 56.6h2.9l-1.4 -2.5zM582 56.6h2.9l-1.4 -2.5zM586.1 56.6h2.9l-1.4 -2.5zM590.1 56.6h2.9l-1.4 -2.5zM594.2 56.6h2.9l-1.4 -2.5zM598.2 56.6h2.9l-1.4 -2.5zM602.3 56.6h2.9l-1.4 -2.5zM606.4 56.6h2.9l-1.4 -2.5zM610.4 56.6h2.9l-1.4 -2.5zM614.5 56.6h2.9l-1.4 -2.5zM618.5 56.6h2.9l-1.4 -2.5zM494.9 60.2h2.9l-1.4 -2.5zM498.9 60.2h2.9l-1.4 -2.5zM503 60.2h2.9l-1.4 -2.5zM507 60.2h2.9l-1.4 -2.5zM511.1 60.2h2.9l-1.4 -2.5zM515.1 60.2h2.9l-1.4 -2.5zM519.2 60.2h2.9l-1.4 -2.5zM523.3 60.2h2.9l-1.4 -2.5zM527.3 60.2h2.9l-1.4 -2.5zM531.4 60.2h2.9l-1.4 -2.5zM535.4 60.2h2.9l-1.4 -2.5zM539.5 60.2h2.9l-1.4 -2.5zM543.5 60.2h2.9l-1.4 -2.5zM547.6 60.2h2.9l-1.4 -2.5zM551.6 60.2h2.9l-1.4 -2.5zM555.7 60.2h2.9l-1.4 -2.5zM559.7 60.2h2.9l-1.4 -2.5zM563.8 60.2h2.9l-1.4 -2.5zM567.8 60.2h2.9l-1.4 -2.5zM571.9 60.2h2.9l-1.4 -2.5zM576 60.2h2.9l-1.4 -2.5zM580 60.2h2.9l-1.4 -2.5zM584.1 60.2h2.9l-1.4 -2.5zM588.1 60.2h2.9l-1.4 -2.5zM592.2 60.2h2.9l-1.4 -2.5zM596.2 60.2h2.9l-1.4 -2.5zM600.3 60.2h2.9l-1.4 -2.5zM604.3 60.2h2.9l-1.4 -2.5zM608.4 60.2h2.9l-1.4 -2.5zM612.4 60.2h2.9l-1.4 -2.5zM616.5 60.2h2.9l-1.4 -2.5zM496.9 63.7h2.9l-1.4 -2.5zM501 63.7h2.9l-1.4 -2.5zM505 63.7h2.9l-1.4 -2.5zM509.1 63.7h2.9l-1.4 -2.5zM513.1 63.7h2.9l-1.4 -2.5zM517.2 63.7h2.9l-1.4 -2.5zM521.2 63.7h2.9l-1.4 -2.5zM525.3 63.7h2.9l-1.4 -2.5zM529.3 63.7h2.9l-1.4 -2.5zM533.4 63.7h2.9l-1.4 -2.5zM537.4 63.7h2.9l-1.4 -2.5zM541.5 63.7h2.9l-1.4 -2.5zM545.5 63.7h2.9l-1.4 -2.5zM549.6 63.7h2.9l-1.4 -2.5zM553.7 63.7h2.9l-1.4 -2.5zM557.7 63.7h2.9l-1.4 -2.5zM561.8 63.7h2.9l-1.4 -2.5zM565.8 63.7h2.9l-1.4 -2.5zM569.9 63.7h2.9l-1.4 -2.5zM573.9 63.7h2.9l-1.4 -2.5zM578 63.7h2.9l-1.4 -2.5zM582 63.7h2.9l-1.4 -2.5zM586.1 63.7h2.9l-1.4 -2.5zM590.1 63.7h2.9l-1.4 -2.5zM594.2 63.7h2.9l-1.4 -2.5zM598.2 63.7h2.9l-1.4 -2.5zM602.3 63.7h2.9l-1.4 -2.5zM606.4 63.7h2.9l-1.4 -2.5zM610.4 63.7h2.9l-1.4 -2.5zM614.5 63.7h2.9l-1.4 -2.5zM494.9 67.2h2.9l-1.4 -2.5zM498.9 67.2h2.9l-1.4 -2.5zM503 67.2h2.9l-1.4 -2.5zM507 67.2h2.9l-1.4 -2.5zM511.1 67.2h2.9l-1.4 -2.5zM515.1 67.2h2.9l-1.4 -2.5zM519.2 67.2h2.9l-1.4 -2.5zM523.3 67.2h2.9l-1.4 -2.5zM527.3 67.2h2.9l-1.4 -2.5zM531.4 67.2h2.9l-1.4 -2.5zM535.4 67.2h2.9l-1.4 -2.5zM539.5 67.2h2.9l-1.4 -2.5zM543.5 67.2h2.9l-1.4 -2.5zM547.6 67.2h2.9l-1.4 -2.5zM551.6 67.2h2.9l-1.4 -2.5zM555.7 67.2h2.9l-1.4 -2.5zM559.7 67.2h2.9l-1.4 -2.5zM563.8 67.2h2.9l-1.4 -2.5zM567.8 67.2h2.9l-1.4 -2.5zM571.9 67.2h2.9l-1.4 -2.5zM576 67.2h2.9l-1.4 -2.5zM580 67.2h2.9l-1.4 -2.5zM584.1 67.2h2.9l-1.4 -2.5zM588.1 67.2h2.9l-1.4 -2.5zM592.2 67.2h2.9l-1.4 -2.5zM596.2 67.2h2.9l-1.4 -2.5zM600.3 67.2h2.9l-1.4 -2.5zM604.3 67.2h2.9l-1.4 -2.5zM608.4 67.2h2.9l-1.4 -2.5zM612.4 67.2h2.9l-1.4 -2.5zM496.9 70.7h2.9l-1.4 -2.5zM501 70.7h2.9l-1.4 -2.5zM505 70.7h2.9l-1.4 -2.5zM509.1 70.7h2.9l-1.4 -2.5zM513.1 70.7h2.9l-1.4 -2.5zM517.2 70.7h2.9l-1.4 -2.5zM521.2 70.7h2.9l-1.4 -2.5zM525.3 70.7h2.9l-1.4 -2.5zM529.3 70.7h2.9l-1.4 -2.5zM533.4 70.7h2.9l-1.4 -2.5zM537.4 70.7h2.9l-1.4 -2.5zM541.5 70.7h2.9l-1.4 -2.5zM545.5 70.7h2.9l-1.4 -2.5zM549.6 70.7h2.9l-1.4 -2.5zM553.7 70.7h2.9l-1.4 -2.5zM557.7 70.7h2.9l-1.4 -2.5zM561.8 70.7h2.9l-1.4 -2.5zM565.8 70.7h2.9l-1.4 -2.5zM569.9 70.7h2.9l-1.4 -2.5zM573.9 70.7h2.9l-1.4 -2.5zM578 70.7h2.9l-1.4 -2.5zM582 70.7h2.9l-1.4 -2.5zM586.1 70.7h2.9l-1.4 -2.5zM590.1 70.7h2.9l-1.4 -2.5zM594.2 70.7h2.9l-1.4 -2.5zM598.2 70.7h2.9l-1.4 -2.5zM602.3 70.7h2.9l-1.4 -2.5zM606.4 70.7h2.9l-1.4 -2.5zM610.4 70.7h2.9l-1.4 -2.5zM494.9 74.2h2.9l-1.4 -2.5zM498.9 74.2h2.9l-1.4 -2.5zM503 74.2h2.9l-1.4 -2.5zM507 74.2h2.9l-1.4 -2.5zM511.1 74.2h2.9l-1.4 -2.5zM515.1 74.2h2.9l-1.4 -2.5zM519.2 74.2h2.9l-1.4 -2.5zM523.3 74.2h2.9l-1.4 -2.5zM527.3 74.2h2.9l-1.4 -2.5zM531.4 74.2h2.9l-1.4 -2.5zM535.4 74.2h2.9l-1.4 -2.5zM539.5 74.2h2.9l-1.4 -2.5zM543.5 74.2h2.9l-1.4 -2.5zM547.6 74.2h2.9l-1.4 -2.5zM551.6 74.2h2.9l-1.4 -2.5zM555.7 74.2h2.9l-1.4 -2.5zM559.7 74.2h2.9l-1.4 -2.5zM563.8 74.2h2.9l-1.4 -2.5zM567.8 74.2h2.9l-1.4 -2.5zM571.9 74.2h2.9l-1.4 -2.5zM576 74.2h2.9l-1.4 -2.5zM580 74.2h2.9l-1.4 -2.5zM584.1 74.2h2.9l-1.4 -2.5zM588.1 74.2h2.9l-1.4 -2.5zM592.2 74.2h2.9l-1.4 -2.5zM596.2 74.2h2.9l-1.4 -2.5zM600.3 74.2h2.9l-1.4 -2.5zM604.3 74.2h2.9l-1.4 -2.5zM608.4 74.2h2.9l-1.4 -2.5zM496.9 77.7h2.9l-1.4 -2.5zM501 77.7h2.9l-1.4 -2.5zM505 77.7h2.9l-1.4 -2.5zM509.1 77.7h2.9l-1.4 -2.5zM513.1 77.7h2.9l-1.4 -2.5zM517.2 77.7h2.9l-1.4 -2.5zM521.2 77.7h2.9l-1.4 -2.5zM525.3 77.7h2.9l-1.4 -2.5zM529.3 77.7h2.9l-1.4 -2.5zM533.4 77.7h2.9l-1.4 -2.5zM537.4 77.7h2.9l-1.4 -2.5zM541.5 77.7h2.9l-1.4 -2.5zM545.5 77.7h2.9l-1.4 -2.5zM549.6 77.7h2.9l-1.4 -2.5zM553.7 77.7h2.9l-1.4 -2.5zM557.7 77.7h2.9l-1.4 -2.5zM561.8 77.7h2.9l-1.4 -2.5zM565.8 77.7h2.9l-1.4 -2.5zM569.9 77.7h2.9l-1.4 -2.5zM573.9 77.7h2.9l-1.4 -2.5zM578 77.7h2.9l-1.4 -2.5zM582 77.7h2.9l-1.4 -2.5zM586.1 77.7h2.9l-1.4 -2.5zM590.1 77.7h2.9l-1.4 -2.5zM594.2 77.7h2.9l-1.4 -2.5zM598.2 77.7h2.9l-1.4 -2.5zM602.3 77.7h2.9l-1.4 -2.5zM606.4 77.7h2.9l-1.4 -2.5zM494.9 81.2h2.9l-1.4 -2.5zM498.9 81.2h2.9l-1.4 -2.5zM503 81.2h2.9l-1.4 -2.5zM507 81.2h2.9l-1.4 -2.5zM511.1 81.2h2.9l-1.4 -2.5zM515.1 81.2h2.9l-1.4 -2.5zM519.2 81.2h2.9l-1.4 -2.5zM523.3 81.2h2.9l-1.4 -2.5zM527.3 81.2h2.9l-1.4 -2.5zM531.4 81.2h2.9l-1.4 -2.5zM535.4 81.2h2.9l-1.4 -2.5zM539.5 81.2h2.9l-1.4 -2.5zM543.5 81.2h2.9l-1.4 -2.5zM547.6 81.2h2.9l-1.4 -2.5zM551.6 81.2h2.9l-1.4 -2.5zM555.7 81.2h2.9l-1.4 -2.5zM559.7 81.2h2.9l-1.4 -2.5zM563.8 81.2h2.9l-1.4 -2.5zM567.8 81.2h2.9l-1.4 -2.5zM571.9 81.2h2.9l-1.4 -2.5zM576 81.2h2.9l-1.4 -2.5zM580 81.2h2.9l-1.4 -2.5zM584.1 81.2h2.9l-1.4 -2.5zM588.1 81.2h2.9l-1.4 -2.5zM592.2 81.2h2.9l-1.4 -2.5zM596.2 81.2h2.9l-1.4 -2.5zM600.3 81.2h2.9l-1.4 -2.5zM604.3 81.2h2.9l-1.4 -2.5zM496.9 84.7h2.9l-1.4 -2.5zM501 84.7h2.9l-1.4 -2.5zM505 84.7h2.9l-1.4 -2.5zM509.1 84.7h2.9l-1.4 -2.5zM513.1 84.7h2.9l-1.4 -2.5zM517.2 84.7h2.9l-1.4 -2.5zM521.2 84.7h2.9l-1.4 -2.5zM525.3 84.7h2.9l-1.4 -2.5zM529.3 84.7h2.9l-1.4 -2.5zM533.4 84.7h2.9l-1.4 -2.5zM537.4 84.7h2.9l-1.4 -2.5zM541.5 84.7h2.9l-1.4 -2.5zM545.5 84.7h2.9l-1.4 -2.5zM549.6 84.7h2.9l-1.4 -2.5zM553.7 84.7h2.9l-1.4 -2.5zM557.7 84.7h2.9l-1.4 -2.5zM561.8 84.7h2.9l-1.4 -2.5zM565.8 84.7h2.9l-1.4 -2.5zM569.9 84.7h2.9l-1.4 -2.5zM573.9 84.7h2.9l-1.4 -2.5zM578 84.7h2.9l-1.4 -2.5zM582 84.7h2.9l-1.4 -2.5zM586.1 84.7h2.9l-1.4 -2.5zM590.1 84.7h2.9l-1.4 -2.5zM594.2 84.7h2.9l-1.4 -2.5zM598.2 84.7h2.9l-1.4 -2.5zM602.3 84.7h2.9l-1.4 -2.5zM494.9 88.2h2.9l-1.4 -2.5zM498.9 88.2h2.9l-1.4 -2.5zM503 88.2h2.9l-1.4 -2.5zM507 88.2h2.9l-1.4 -2.5zM511.1 88.2h2.9l-1.4 -2.5zM515.1 88.2h2.9l-1.4 -2.5zM519.2 88.2h2.9l-1.4 -2.5zM523.3 88.2h2.9l-1.4 -2.5zM527.3 88.2h2.9l-1.4 -2.5zM531.4 88.2h2.9l-1.4 -2.5zM535.4 88.2h2.9l-1.4 -2.5zM539.5 88.2h2.9l-1.4 -2.5zM543.5 88.2h2.9l-1.4 -2.5zM547.6 88.2h2.9l-1.4 -2.5zM551.6 88.2h2.9l-1.4 -2.5zM555.7 88.2h2.9l-1.4 -2.5zM559.7 88.2h2.9l-1.4 -2.5zM563.8 88.2h2.9l-1.4 -2.5zM567.8 88.2h2.9l-1.4 -2.5zM571.9 88.2h2.9l-1.4 -2.5zM576 88.2h2.9l-1.4 -2.5zM580 88.2h2.9l-1.4 -2.5zM584.1 88.2h2.9l-1.4 -2.5zM588.1 88.2h2.9l-1.4 -2.5zM592.2 88.2h2.9l-1.4 -2.5zM596.2 88.2h2.9l-1.4 -2.5zM600.3 88.2h2.9l-1.4 -2.5zM496.9 91.7h2.9l-1.4 -2.5zM501 91.7h2.9l-1.4 -2.5zM505 91.7h2.9l-1.4 -2.5zM509.1 91.7h2.9l-1.4 -2.5zM513.1 91.7h2.9l-1.4 -2.5zM517.2 91.7h2.9l-1.4 -2.5zM521.2 91.7h2.9l-1.4 -2.5zM525.3 91.7h2.9l-1.4 -2.5zM529.3 91.7h2.9l-1.4 -2.5zM533.4 91.7h2.9l-1.4 -2.5zM537.4 91.7h2.9l-1.4 -2.5zM541.5 91.7h2.9l-1.4 -2.5zM545.5 91.7h2.9l-1.4 -2.5zM549.6 91.7h2.9l-1.4 -2.5zM553.7 91.7h2.9l-1.4 -2.5zM557.7 91.7h2.9l-1.4 -2.5zM561.8 91.7h2.9l-1.4 -2.5zM565.8 91.7h2.9l-1.4 -2.5zM569.9 91.7h2.9l-1.4 -2.5zM573.9 91.7h2.9l-1.4 -2.5zM578 91.7h2.9l-1.4 -2.5zM582 91.7h2.9l-1.4 -2.5zM586.1 91.7h2.9l-1.4 -2.5zM590.1 91.7h2.9l-1.4 -2.5zM594.2 91.7h2.9l-1.4 -2.5zM598.2 91.7h2.9l-1.4 -2.5zM494.9 95.2h2.9l-1.4 -2.5zM498.9 95.2h2.9l-1.4 -2.5zM503 95.2h2.9l-1.4 -2.5zM507 95.2h2.9l-1.4 -2.5zM511.1 95.2h2.9l-1.4 -2.5zM515.1 95.2h2.9l-1.4 -2.5zM519.2 95.2h2.9l-1.4 -2.5zM523.3 95.2h2.9l-1.4 -2.5zM527.3 95.2h2.9l-1.4 -2.5zM531.4 95.2h2.9l-1.4 -2.5zM535.4 95.2h2.9l-1.4 -2.5zM539.5 95.2h2.9l-1.4 -2.5zM543.5 95.2h2.9l-1.4 -2.5zM547.6 95.2h2.9l-1.4 -2.5zM551.6 95.2h2.9l-1.4 -2.5zM555.7 95.2h2.9l-1.4 -2.5zM559.7 95.2h2.9l-1.4 -2.5zM563.8 95.2h2.9l-1.4 -2.5zM567.8 95.2h2.9l-1.4 -2.5zM571.9 95.2h2.9l-1.4 -2.5zM576 95.2h2.9l-1.4 -2.5zM580 95.2h2.9l-1.4 -2.5zM584.1 95.2h2.9l-1.4 -2.5zM588.1 95.2h2.9l-1.4 -2.5zM592.2 95.2h2.9l-1.4 -2.5zM596.2 95.2h2.9l-1.4 -2.5zM496.9 98.8h2.9l-1.4 -2.5zM501 98.8h2.9l-1.4 -2.5zM505 98.8h2.9l-1.4 -2.5zM509.1 98.8h2.9l-1.4 -2.5zM513.1 98.8h2.9l-1.4 -2.5zM517.2 98.8h2.9l-1.4 -2.5zM521.2 98.8h2.9l-1.4 -2.5zM525.3 98.8h2.9l-1.4 -2.5zM529.3 98.8h2.9l-1.4 -2.5zM533.4 98.8h2.9l-1.4 -2.5zM537.4 98.8h2.9l-1.4 -2.5zM541.5 98.8h2.9l-1.4 -2.5zM545.5 98.8h2.9l-1.4 -2.5zM549.6 98.8h2.9l-1.4 -2.5zM553.7 98.8h2.9l-1.4 -2.5zM557.7 98.8h2.9l-1.4 -2.5zM561.8 98.8h2.9l-1.4 -2.5zM565.8 98.8h2.9l-1.4 -2.5zM569.9 98.8h2.9l-1.4 -2.5zM573.9 98.8h2.9l-1.4 -2.5zM578 98.8h2.9l-1.4 -2.5zM582 98.8h2.9l-1.4 -2.5zM586.1 98.8h2.9l-1.4 -2.5zM590.1 98.8h2.9l-1.4 -2.5zM594.2 98.8h2.9l-1.4 -2.5zM494.9 102.3h2.9l-1.4 -2.5zM498.9 102.3h2.9l-1.4 -2.5zM503 102.3h2.9l-1.4 -2.5zM507 102.3h2.9l-1.4 -2.5zM511.1 102.3h2.9l-1.4 -2.5zM515.1 102.3h2.9l-1.4 -2.5zM519.2 102.3h2.9l-1.4 -2.5zM523.3 102.3h2.9l-1.4 -2.5zM527.3 102.3h2.9l-1.4 -2.5zM531.4 102.3h2.9l-1.4 -2.5zM535.4 102.3h2.9l-1.4 -2.5zM539.5 102.3h2.9l-1.4 -2.5zM543.5 102.3h2.9l-1.4 -2.5zM547.6 102.3h2.9l-1.4 -2.5zM551.6 102.3h2.9l-1.4 -2.5zM555.7 102.3h2.9l-1.4 -2.5zM559.7 102.3h2.9l-1.4 -2.5zM563.8 102.3h2.9l-1.4 -2.5zM567.8 102.3h2.9l-1.4 -2.5zM571.9 102.3h2.9l-1.4 -2.5zM576 102.3h2.9l-1.4 -2.5zM580 102.3h2.9l-1.4 -2.5zM584.1 102.3h2.9l-1.4 -2.5zM588.1 102.3h2.9l-1.4 -2.5zM592.2 102.3h2.9l-1.4 -2.5zM496.9 105.8h2.9l-1.4 -2.5zM501 105.8h2.9l-1.4 -2.5zM505 105.8h2.9l-1.4 -2.5zM509.1 105.8h2.9l-1.4 -2.5zM513.1 105.8h2.9l-1.4 -2.5zM517.2 105.8h2.9l-1.4 -2.5zM521.2 105.8h2.9l-1.4 -2.5zM525.3 105.8h2.9l-1.4 -2.5zM529.3 105.8h2.9l-1.4 -2.5zM533.4 105.8h2.9l-1.4 -2.5zM537.4 105.8h2.9l-1.4 -2.5zM541.5 105.8h2.9l-1.4 -2.5zM545.5 105.8h2.9l-1.4 -2.5zM549.6 105.8h2.9l-1.4 -2.5zM553.7 105.8h2.9l-1.4 -2.5zM557.7 105.8h2.9l-1.4 -2.5zM561.8 105.8h2.9l-1.4 -2.5zM565.8 105.8h2.9l-1.4 -2.5zM569.9 105.8h2.9l-1.4 -2.5zM573.9 105.8h2.9l-1.4 -2.5zM578 105.8h2.9l-1.4 -2.5zM582 105.8h2.9l-1.4 -2.5zM586.1 105.8h2.9l-1.4 -2.5zM590.1 105.8h2.9l-1.4 -2.5zM494.9 109.3h2.9l-1.4 -2.5zM498.9 109.3h2.9l-1.4 -2.5zM503 109.3h2.9l-1.4 -2.5zM507 109.3h2.9l-1.4 -2.5zM511.1 109.3h2.9l-1.4 -2.5zM515.1 109.3h2.9l-1.4 -2.5zM519.2 109.3h2.9l-1.4 -2.5zM523.3 109.3h2.9l-1.4 -2.5zM527.3 109.3h2.9l-1.4 -2.5zM531.4 109.3h2.9l-1.4 -2.5zM535.4 109.3h2.9l-1.4 -2.5zM539.5 109.3h2.9l-1.4 -2.5zM543.5 109.3h2.9l-1.4 -2.5zM547.6 109.3h2.9l-1.4 -2.5zM551.6 109.3h2.9l-1.4 -2.5zM555.7 109.3h2.9l-1.4 -2.5zM559.7 109.3h2.9l-1.4 -2.5zM563.8 109.3h2.9l-1.4 -2.5zM567.8 109.3h2.9l-1.4 -2.5zM571.9 109.3h2.9l-1.4 -2.5zM576 109.3h2.9l-1.4 -2.5zM580 109.3h2.9l-1.4 -2.5zM584.1 109.3h2.9l-1.4 -2.5zM588.1 109.3h2.9l-1.4 -2.5zM496.9 112.8h2.9l-1.4 -2.5zM501 112.8h2.9l-1.4 -2.5zM505 112.8h2.9l-1.4 -2.5zM509.1 112.8h2.9l-1.4 -2.5zM513.1 112.8h2.9l-1.4 -2.5zM517.2 112.8h2.9l-1.4 -2.5zM521.2 112.8h2.9l-1.4 -2.5zM525.3 112.8h2.9l-1.4 -2.5zM529.3 112.8h2.9l-1.4 -2.5zM533.4 112.8h2.9l-1.4 -2.5zM537.4 112.8h2.9l-1.4 -2.5zM541.5 112.8h2.9l-1.4 -2.5zM545.5 112.8h2.9l-1.4 -2.5zM549.6 112.8h2.9l-1.4 -2.5zM553.7 112.8h2.9l-1.4 -2.5zM557.7 112.8h2.9l-1.4 -2.5zM561.8 112.8h2.9l-1.4 -2.5zM565.8 112.8h2.9l-1.4 -2.5zM569.9 112.8h2.9l-1.4 -2.5zM573.9 112.8h2.9l-1.4 -2.5zM578 112.8h2.9l-1.4 -2.5zM582 112.8h2.9l-1.4 -2.5zM586.1 112.8h2.9l-1.4 -2.5zM494.9 116.3h2.9l-1.4 -2.5zM498.9 116.3h2.9l-1.4 -2.5zM503 116.3h2.9l-1.4 -2.5zM507 116.3h2.9l-1.4 -2.5zM511.1 116.3h2.9l-1.4 -2.5zM515.1 116.3h2.9l-1.4 -2.5zM519.2 116.3h2.9l-1.4 -2.5zM523.3 116.3h2.9l-1.4 -2.5zM527.3 116.3h2.9l-1.4 -2.5zM531.4 116.3h2.9l-1.4 -2.5zM535.4 116.3h2.9l-1.4 -2.5zM539.5 116.3h2.9l-1.4 -2.5zM543.5 116.3h2.9l-1.4 -2.5zM547.6 116.3h2.9l-1.4 -2.5zM551.6 116.3h2.9l-1.4 -2.5zM555.7 116.3h2.9l-1.4 -2.5zM559.7 116.3h2.9l-1.4 -2.5zM563.8 116.3h2.9l-1.4 -2.5zM567.8 116.3h2.9l-1.4 -2.5zM571.9 116.3h2.9l-1.4 -2.5zM576 116.3h2.9l-1.4 -2.5zM580 116.3h2.9l-1.4 -2.5zM584.1 116.3h2.9l-1.4 -2.5zM496.9 119.8h2.9l-1.4 -2.5zM501 119.8h2.9l-1.4 -2.5zM505 119.8h2.9l-1.4 -2.5zM509.1 119.8h2.9l-1.4 -2.5zM513.1 119.8h2.9l-1.4 -2.5zM517.2 119.8h2.9l-1.4 -2.5zM521.2 119.8h2.9l-1.4 -2.5zM525.3 119.8h2.9l-1.4 -2.5zM529.3 119.8h2.9l-1.4 -2.5zM533.4 119.8h2.9l-1.4 -2.5zM537.4 119.8h2.9l-1.4 -2.5zM541.5 119.8h2.9l-1.4 -2.5zM545.5 119.8h2.9l-1.4 -2.5zM549.6 119.8h2.9l-1.4 -2.5zM553.7 119.8h2.9l-1.4 -2.5zM557.7 119.8h2.9l-1.4 -2.5zM561.8 119.8h2.9l-1.4 -2.5zM565.8 119.8h2.9l-1.4 -2.5zM569.9 119.8h2.9l-1.4 -2.5zM573.9 119.8h2.9l-1.4 -2.5zM578 119.8h2.9l-1.4 -2.5zM582 119.8h2.9l-1.4 -2.5zM494.9 123.3h2.9l-1.4 -2.5zM498.9 123.3h2.9l-1.4 -2.5zM503 123.3h2.9l-1.4 -2.5zM507 123.3h2.9l-1.4 -2.5zM511.1 123.3h2.9l-1.4 -2.5zM515.1 123.3h2.9l-1.4 -2.5zM519.2 123.3h2.9l-1.4 -2.5zM523.3 123.3h2.9l-1.4 -2.5zM527.3 123.3h2.9l-1.4 -2.5zM531.4 123.3h2.9l-1.4 -2.5zM535.4 123.3h2.9l-1.4 -2.5zM539.5 123.3h2.9l-1.4 -2.5zM543.5 123.3h2.9l-1.4 -2.5zM547.6 123.3h2.9l-1.4 -2.5zM551.6 123.3h2.9l-1.4 -2.5zM555.7 123.3h2.9l-1.4 -2.5zM559.7 123.3h2.9l-1.4 -2.5zM563.8 123.3h2.9l-1.4 -2.5zM567.8 123.3h2.9l-1.4 -2.5zM571.9 123.3h2.9l-1.4 -2.5zM576 123.3h2.9l-1.4 -2.5zM580 123.3h2.9l-1.4 -2.5zM496.9 126.8h2.9l-1.4 -2.5zM501 126.8h2.9l-1.4 -2.5zM505 126.8h2.9l-1.4 -2.5zM509.1 126.8h2.9l-1.4 -2.5zM513.1 126.8h2.9l-1.4 -2.5zM517.2 126.8h2.9l-1.4 -2.5zM521.2 126.8h2.9l-1.4 -2.5zM525.3 126.8h2.9l-1.4 -2.5zM529.3 126.8h2.9l-1.4 -2.5zM533.4 126.8h2.9l-1.4 -2.5zM537.4 126.8h2.9l-1.4 -2.5zM541.5 126.8h2.9l-1.4 -2.5zM545.5 126.8h2.9l-1.4 -2.5zM549.6 126.8h2.9l-1.4 -2.5zM553.7 126.8h2.9l-1.4 -2.5zM557.7 126.8h2.9l-1.4 -2.5zM561.8 126.8h2.9l-1.4 -2.5zM565.8 126.8h2.9l-1.4 -2.5zM569.9 126.8h2.9l-1.4 -2.5zM573.9 126.8h2.9l-1.4 -2.5zM578 126.8h2.9l-1.4 -2.5zM582 126.8h2.9l-1.4 -2.5zM586.1 126.8h2.9l-1.4 -2.5zM590.1 126.8h2.9l-1.4 -2.5zM594.2 126.8h2.9l-1.4 -2.5zM598.2 126.8h2.9l-1.4 -2.5zM602.3 126.8h2.9l-1.4 -2.5zM606.4 126.8h2.9l-1.4 -2.5zM610.4 126.8h2.9l-1.4 -2.5zM614.5 126.8h2.9l-1.4 -2.5zM618.5 126.8h2.9l-1.4 -2.5zM622.6 126.8h2.9l-1.4 -2.5zM626.6 126.8h2.9l-1.4 -2.5zM630.7 126.8h2.9l-1.4 -2.5zM634.7 126.8h2.9l-1.4 -2.5zM638.8 126.8h2.9l-1.4 -2.5zM642.8 126.8h2.9l-1.4 -2.5zM646.9 126.8h2.9l-1.4 -2.5zM651 126.8h2.9l-1.4 -2.5zM494.9 130.3h2.9l-1.4 -2.5zM498.9 130.3h2.9l-1.4 -2.5zM503 130.3h2.9l-1.4 -2.5zM507 130.3h2.9l-1.4 -2.5zM511.1 130.3h2.9l-1.4 -2.5zM515.1 130.3h2.9l-1.4 -2.5zM519.2 130.3h2.9l-1.4 -2.5zM523.3 130.3h2.9l-1.4 -2.5zM527.3 130.3h2.9l-1.4 -2.5zM531.4 130.3h2.9l-1.4 -2.5zM535.4 130.3h2.9l-1.4 -2.5zM539.5 130.3h2.9l-1.4 -2.5zM543.5 130.3h2.9l-1.4 -2.5zM547.6 130.3h2.9l-1.4 -2.5zM551.6 130.3h2.9l-1.4 -2.5zM555.7 130.3h2.9l-1.4 -2.5zM559.7 130.3h2.9l-1.4 -2.5zM563.8 130.3h2.9l-1.4 -2.5zM567.8 130.3h2.9l-1.4 -2.5zM571.9 130.3h2.9l-1.4 -2.5zM576 130.3h2.9l-1.4 -2.5zM580 130.3h2.9l-1.4 -2.5zM584.1 130.3h2.9l-1.4 -2.5zM588.1 130.3h2.9l-1.4 -2.5zM592.2 130.3h2.9l-1.4 -2.5zM596.2 130.3h2.9l-1.4 -2.5zM600.3 130.3h2.9l-1.4 -2.5zM604.3 130.3h2.9l-1.4 -2.5zM608.4 130.3h2.9l-1.4 -2.5zM612.4 130.3h2.9l-1.4 -2.5zM616.5 130.3h2.9l-1.4 -2.5zM620.5 130.3h2.9l-1.4 -2.5zM624.6 130.3h2.9l-1.4 -2.5zM628.7 130.3h2.9l-1.4 -2.5zM632.7 130.3h2.9l-1.4 -2.5zM636.8 130.3h2.9l-1.4 -2.5zM640.8 130.3h2.9l-1.4 -2.5zM644.9 130.3h2.9l-1.4 -2.5zM648.9 130.3h2.9l-1.4 -2.5zM653 130.3h2.9l-1.4 -2.5zM496.9 133.9h2.9l-1.4 -2.5zM501 133.9h2.9l-1.4 -2.5zM505 133.9h2.9l-1.4 -2.5zM509.1 133.9h2.9l-1.4 -2.5zM513.1 133.9h2.9l-1.4 -2.5zM517.2 133.9h2.9l-1.4 -2.5zM521.2 133.9h2.9l-1.4 -2.5zM525.3 133.9h2.9l-1.4 -2.5zM529.3 133.9h2.9l-1.4 -2.5zM533.4 133.9h2.9l-1.4 -2.5zM537.4 133.9h2.9l-1.4 -2.5zM541.5 133.9h2.9l-1.4 -2.5zM545.5 133.9h2.9l-1.4 -2.5zM549.6 133.9h2.9l-1.4 -2.5zM553.7 133.9h2.9l-1.4 -2.5zM557.7 133.9h2.9l-1.4 -2.5zM561.8 133.9h2.9l-1.4 -2.5zM565.8 133.9h2.9l-1.4 -2.5zM569.9 133.9h2.9l-1.4 -2.5zM573.9 133.9h2.9l-1.4 -2.5zM578 133.9h2.9l-1.4 -2.5zM582 133.9h2.9l-1.4 -2.5zM586.1 133.9h2.9l-1.4 -2.5zM590.1 133.9h2.9l-1.4 -2.5zM594.2 133.9h2.9l-1.4 -2.5zM598.2 133.9h2.9l-1.4 -2.5zM602.3 133.9h2.9l-1.4 -2.5zM606.4 133.9h2.9l-1.4 -2.5zM610.4 133.9h2.9l-1.4 -2.5zM614.5 133.9h2.9l-1.4 -2.5zM618.5 133.9h2.9l-1.4 -2.5zM622.6 133.9h2.9l-1.4 -2.5zM626.6 133.9h2.9l-1.4 -2.5zM630.7 133.9h2.9l-1.4 -2.5zM634.7 133.9h2.9l-1.4 -2.5zM638.8 133.9h2.9l-1.4 -2.5zM642.8 133.9h2.9l-1.4 -2.5zM646.9 133.9h2.9l-1.4 -2.5zM651 133.9h2.9l-1.4 -2.5zM494.9 137.4h2.9l-1.4 -2.5zM498.9 137.4h2.9l-1.4 -2.5zM503 137.4h2.9l-1.4 -2.5zM507 137.4h2.9l-1.4 -2.5zM511.1 137.4h2.9l-1.4 -2.5zM515.1 137.4h2.9l-1.4 -2.5zM519.2 137.4h2.9l-1.4 -2.5zM523.3 137.4h2.9l-1.4 -2.5zM527.3 137.4h2.9l-1.4 -2.5zM531.4 137.4h2.9l-1.4 -2.5zM535.4 137.4h2.9l-1.4 -2.5zM539.5 137.4h2.9l-1.4 -2.5zM543.5 137.4h2.9l-1.4 -2.5zM547.6 137.4h2.9l-1.4 -2.5zM551.6 137.4h2.9l-1.4 -2.5zM555.7 137.4h2.9l-1.4 -2.5zM559.7 137.4h2.9l-1.4 -2.5zM563.8 137.4h2.9l-1.4 -2.5zM567.8 137.4h2.9l-1.4 -2.5zM571.9 137.4h2.9l-1.4 -2.5zM576 137.4h2.9l-1.4 -2.5zM580 137.4h2.9l-1.4 -2.5zM584.1 137.4h2.9l-1.4 -2.5zM588.1 137.4h2.9l-1.4 -2.5zM592.2 137.4h2.9l-1.4 -2.5zM596.2 137.4h2.9l-1.4 -2.5zM600.3 137.4h2.9l-1.4 -2.5zM604.3 137.4h2.9l-1.4 -2.5zM608.4 137.4h2.9l-1.4 -2.5zM612.4 137.4h2.9l-1.4 -2.5zM616.5 137.4h2.9l-1.4 -2.5zM620.5 137.4h2.9l-1.4 -2.5zM624.6 137.4h2.9l-1.4 -2.5zM628.7 137.4h2.9l-1.4 -2.5zM632.7 137.4h2.9l-1.4 -2.5zM636.8 137.4h2.9l-1.4 -2.5zM640.8 137.4h2.9l-1.4 -2.5zM644.9 137.4h2.9l-1.4 -2.5zM648.9 137.4h2.9l-1.4 -2.5zM653 137.4h2.9l-1.4 -2.5zM496.9 140.9h2.9l-1.4 -2.5zM501 140.9h2.9l-1.4 -2.5zM505 140.9h2.9l-1.4 -2.5zM509.1 140.9h2.9l-1.4 -2.5zM513.1 140.9h2.9l-1.4 -2.5zM517.2 140.9h2.9l-1.4 -2.5zM521.2 140.9h2.9l-1.4 -2.5zM525.3 140.9h2.9l-1.4 -2.5zM529.3 140.9h2.9l-1.4 -2.5zM533.4 140.9h2.9l-1.4 -2.5zM537.4 140.9h2.9l-1.4 -2.5zM541.5 140.9h2.9l-1.4 -2.5zM545.5 140.9h2.9l-1.4 -2.5zM549.6 140.9h2.9l-1.4 -2.5zM553.7 140.9h2.9l-1.4 -2.5zM557.7 140.9h2.9l-1.4 -2.5zM561.8 140.9h2.9l-1.4 -2.5zM565.8 140.9h2.9l-1.4 -2.5zM569.9 140.9h2.9l-1.4 -2.5zM573.9 140.9h2.9l-1.4 -2.5zM578 140.9h2.9l-1.4 -2.5zM582 140.9h2.9l-1.4 -2.5zM586.1 140.9h2.9l-1.4 -2.5zM590.1 140.9h2.9l-1.4 -2.5zM594.2 140.9h2.9l-1.4 -2.5zM598.2 140.9h2.9l-1.4 -2.5zM602.3 140.9h2.9l-1.4 -2.5zM606.4 140.9h2.9l-1.4 -2.5zM610.4 140.9h2.9l-1.4 -2.5zM614.5 140.9h2.9l-1.4 -2.5zM618.5 140.9h2.9l-1.4 -2.5zM622.6 140.9h2.9l-1.4 -2.5zM626.6 140.9h2.9l-1.4 -2.5zM630.7 140.9h2.9l-1.4 -2.5zM634.7 140.9h2.9l-1.4 -2.5zM638.8 140.9h2.9l-1.4 -2.5zM642.8 140.9h2.9l-1.4 -2.5zM646.9 140.9h2.9l-1.4 -2.5zM651 140.9h2.9l-1.4 -2.5zM494.9 144.4h2.9l-1.4 -2.5zM498.9 144.4h2.9l-1.4 -2.5zM503 144.4h2.9l-1.4 -2.5zM507 144.4h2.9l-1.4 -2.5zM511.1 144.4h2.9l-1.4 -2.5zM515.1 144.4h2.9l-1.4 -2.5zM519.2 144.4h2.9l-1.4 -2.5zM523.3 144.4h2.9l-1.4 -2.5zM527.3 144.4h2.9l-1.4 -2.5zM531.4 144.4h2.9l-1.4 -2.5zM535.4 144.4h2.9l-1.4 -2.5zM539.5 144.4h2.9l-1.4 -2.5zM543.5 144.4h2.9l-1.4 -2.5zM547.6 144.4h2.9l-1.4 -2.5zM551.6 144.4h2.9l-1.4 -2.5zM555.7 144.4h2.9l-1.4 -2.5zM559.7 144.4h2.9l-1.4 -2.5zM563.8 144.4h2.9l-1.4 -2.5zM567.8 144.4h2.9l-1.4 -2.5zM571.9 144.4h2.9l-1.4 -2.5zM576 144.4h2.9l-1.4 -2.5zM580 144.4h2.9l-1.4 -2.5zM584.1 144.4h2.9l-1.4 -2.5zM588.1 144.4h2.9l-1.4 -2.5zM592.2 144.4h2.9l-1.4 -2.5zM596.2 144.4h2.9l-1.4 -2.5zM600.3 144.4h2.9l-1.4 -2.5zM604.3 144.4h2.9l-1.4 -2.5zM608.4 144.4h2.9l-1.4 -2.5zM612.4 144.4h2.9l-1.4 -2.5zM616.5 144.4h2.9l-1.4 -2.5zM620.5 144.4h2.9l-1.4 -2.5zM624.6 144.4h2.9l-1.4 -2.5zM628.7 144.4h2.9l-1.4 -2.5zM632.7 144.4h2.9l-1.4 -2.5zM636.8 144.4h2.9l-1.4 -2.5zM640.8 144.4h2.9l-1.4 -2.5zM644.9 144.4h2.9l-1.4 -2.5zM648.9 144.4h2.9l-1.4 -2.5zM653 144.4h2.9l-1.4 -2.5zM496.9 147.9h2.9l-1.4 -2.5zM501 147.9h2.9l-1.4 -2.5zM505 147.9h2.9l-1.4 -2.5zM509.1 147.9h2.9l-1.4 -2.5zM513.1 147.9h2.9l-1.4 -2.5zM517.2 147.9h2.9l-1.4 -2.5zM521.2 147.9h2.9l-1.4 -2.5zM525.3 147.9h2.9l-1.4 -2.5zM529.3 147.9h2.9l-1.4 -2.5zM533.4 147.9h2.9l-1.4 -2.5zM537.4 147.9h2.9l-1.4 -2.5zM541.5 147.9h2.9l-1.4 -2.5zM545.5 147.9h2.9l-1.4 -2.5zM549.6 147.9h2.9l-1.4 -2.5zM553.7 147.9h2.9l-1.4 -2.5zM557.7 147.9h2.9l-1.4 -2.5zM561.8 147.9h2.9l-1.4 -2.5zM565.8 147.9h2.9l-1.4 -2.5zM569.9 147.9h2.9l-1.4 -2.5zM573.9 147.9h2.9l-1.4 -2.5zM578 147.9h2.9l-1.4 -2.5zM582 147.9h2.9l-1.4 -2.5zM586.1 147.9h2.9l-1.4 -2.5zM590.1 147.9h2.9l-1.4 -2.5zM594.2 147.9h2.9l-1.4 -2.5zM598.2 147.9h2.9l-1.4 -2.5zM602.3 147.9h2.9l-1.4 -2.5zM606.4 147.9h2.9l-1.4 -2.5zM610.4 147.9h2.9l-1.4 -2.5zM614.5 147.9h2.9l-1.4 -2.5zM618.5 147.9h2.9l-1.4 -2.5zM622.6 147.9h2.9l-1.4 -2.5zM626.6 147.9h2.9l-1.4 -2.5zM630.7 147.9h2.9l-1.4 -2.5zM634.7 147.9h2.9l-1.4 -2.5zM638.8 147.9h2.9l-1.4 -2.5zM642.8 147.9h2.9l-1.4 -2.5zM646.9 147.9h2.9l-1.4 -2.5zM651 147.9h2.9l-1.4 -2.5zM494.9 151.4h2.9l-1.4 -2.5zM498.9 151.4h2.9l-1.4 -2.5zM503 151.4h2.9l-1.4 -2.5zM507 151.4h2.9l-1.4 -2.5zM511.1 151.4h2.9l-1.4 -2.5zM515.1 151.4h2.9l-1.4 -2.5zM519.2 151.4h2.9l-1.4 -2.5zM523.3 151.4h2.9l-1.4 -2.5zM527.3 151.4h2.9l-1.4 -2.5zM531.4 151.4h2.9l-1.4 -2.5zM535.4 151.4h2.9l-1.4 -2.5zM539.5 151.4h2.9l-1.4 -2.5zM543.5 151.4h2.9l-1.4 -2.5zM547.6 151.4h2.9l-1.4 -2.5zM551.6 151.4h2.9l-1.4 -2.5zM555.7 151.4h2.9l-1.4 -2.5zM559.7 151.4h2.9l-1.4 -2.5zM563.8 151.4h2.9l-1.4 -2.5zM567.8 151.4h2.9l-1.4 -2.5zM571.9 151.4h2.9l-1.4 -2.5zM576 151.4h2.9l-1.4 -2.5zM580 151.4h2.9l-1.4 -2.5zM584.1 151.4h2.9l-1.4 -2.5zM588.1 151.4h2.9l-1.4 -2.5zM592.2 151.4h2.9l-1.4 -2.5zM596.2 151.4h2.9l-1.4 -2.5zM600.3 151.4h2.9l-1.4 -2.5zM604.3 151.4h2.9l-1.4 -2.5zM608.4 151.4h2.9l-1.4 -2.5zM612.4 151.4h2.9l-1.4 -2.5zM616.5 151.4h2.9l-1.4 -2.5zM620.5 151.4h2.9l-1.4 -2.5zM624.6 151.4h2.9l-1.4 -2.5zM628.7 151.4h2.9l-1.4 -2.5zM632.7 151.4h2.9l-1.4 -2.5zM636.8 151.4h2.9l-1.4 -2.5zM640.8 151.4h2.9l-1.4 -2.5zM644.9 151.4h2.9l-1.4 -2.5zM648.9 151.4h2.9l-1.4 -2.5zM653 151.4h2.9l-1.4 -2.5zM496.9 154.9h2.9l-1.4 -2.5zM501 154.9h2.9l-1.4 -2.5zM505 154.9h2.9l-1.4 -2.5zM509.1 154.9h2.9l-1.4 -2.5zM513.1 154.9h2.9l-1.4 -2.5zM517.2 154.9h2.9l-1.4 -2.5zM521.2 154.9h2.9l-1.4 -2.5zM525.3 154.9h2.9l-1.4 -2.5zM529.3 154.9h2.9l-1.4 -2.5zM533.4 154.9h2.9l-1.4 -2.5zM537.4 154.9h2.9l-1.4 -2.5zM541.5 154.9h2.9l-1.4 -2.5zM545.5 154.9h2.9l-1.4 -2.5zM549.6 154.9h2.9l-1.4 -2.5zM553.7 154.9h2.9l-1.4 -2.5zM557.7 154.9h2.9l-1.4 -2.5zM561.8 154.9h2.9l-1.4 -2.5zM565.8 154.9h2.9l-1.4 -2.5zM569.9 154.9h2.9l-1.4 -2.5zM573.9 154.9h2.9l-1.4 -2.5zM578 154.9h2.9l-1.4 -2.5zM582 154.9h2.9l-1.4 -2.5zM586.1 154.9h2.9l-1.4 -2.5zM590.1 154.9h2.9l-1.4 -2.5zM594.2 154.9h2.9l-1.4 -2.5zM598.2 154.9h2.9l-1.4 -2.5zM602.3 154.9h2.9l-1.4 -2.5zM606.4 154.9h2.9l-1.4 -2.5zM610.4 154.9h2.9l-1.4 -2.5zM614.5 154.9h2.9l-1.4 -2.5zM618.5 154.9h2.9l-1.4 -2.5zM622.6 154.9h2.9l-1.4 -2.5zM626.6 154.9h2.9l-1.4 -2.5zM630.7 154.9h2.9l-1.4 -2.5zM634.7 154.9h2.9l-1.4 -2.5zM638.8 154.9h2.9l-1.4 -2.5zM642.8 154.9h2.9l-1.4 -2.5zM646.9 154.9h2.9l-1.4 -2.5zM651 154.9h2.9l-1.4 -2.5zM494.9 158.4h2.9l-1.4 -2.5zM498.9 158.4h2.9l-1.4 -2.5zM503 158.4h2.9l-1.4 -2.5zM507 158.4h2.9l-1.4 -2.5zM511.1 158.4h2.9l-1.4 -2.5zM515.1 158.4h2.9l-1.4 -2.5zM519.2 158.4h2.9l-1.4 -2.5zM523.3 158.4h2.9l-1.4 -2.5zM527.3 158.4h2.9l-1.4 -2.5zM531.4 158.4h2.9l-1.4 -2.5zM535.4 158.4h2.9l-1.4 -2.5zM539.5 158.4h2.9l-1.4 -2.5zM543.5 158.4h2.9l-1.4 -2.5zM547.6 158.4h2.9l-1.4 -2.5zM551.6 158.4h2.9l-1.4 -2.5zM555.7 158.4h2.9l-1.4 -2.5zM559.7 158.4h2.9l-1.4 -2.5zM563.8 158.4h2.9l-1.4 -2.5zM567.8 158.4h2.9l-1.4 -2.5zM571.9 158.4h2.9l-1.4 -2.5zM576 158.4h2.9l-1.4 -2.5zM580 158.4h2.9l-1.4 -2.5zM584.1 158.4h2.9l-1.4 -2.5zM588.1 158.4h2.9l-1.4 -2.5zM592.2 158.4h2.9l-1.4 -2.5zM596.2 158.4h2.9l-1.4 -2.5zM600.3 158.4h2.9l-1.4 -2.5zM604.3 158.4h2.9l-1.4 -2.5zM608.4 158.4h2.9l-1.4 -2.5zM612.4 158.4h2.9l-1.4 -2.5zM616.5 158.4h2.9l-1.4 -2.5zM620.5 158.4h2.9l-1.4 -2.5zM624.6 158.4h2.9l-1.4 -2.5zM628.7 158.4h2.9l-1.4 -2.5zM632.7 158.4h2.9l-1.4 -2.5zM636.8 158.4h2.9l-1.4 -2.5zM640.8 158.4h2.9l-1.4 -2.5zM644.9 158.4h2.9l-1.4 -2.5zM648.9 158.4h2.9l-1.4 -2.5zM653 158.4h2.9l-1.4 -2.5z"/></g><g clip-path="url(#clipf20)"><ellipse transform="translate(540 53.4) rotate(0)" rx="1.3" ry="2" fill="#ff1a1a" opacity="0.58"/><ellipse transform="translate(542 48.9) rotate(0)" rx="1.3" ry="2" fill="#ff1a1a" opacity="0.52"/><ellipse transform="translate(544.1 53.4) rotate(0)" rx="1.3" ry="2" fill="#1a33ff" opacity="0.95"/><ellipse transform="translate(546.1 48.9) rotate(0)" rx="1.3" ry="2" fill="#ff1a1a" opacity="0.18"/><ellipse transform="translate(548.1 53.4) rotate(0)" rx="1.3" ry="2" fill="#ff1a1a" opacity="0.94"/><ellipse transform="translate(550.1 48.9) rotate(0)" rx="1.3" ry="2" fill="#1a33ff" opacity="0.54"/><ellipse transform="translate(552.2 53.4) rotate(0)" rx="1.3" ry="2" fill="#1a33ff" opacity="0.57"/><ellipse transform="translate(554.2 48.9) rotate(0)" rx="1.3" ry="2" fill="#ff1a1a" opacity="0.93"/><ellipse transform="translate(556.2 53.4) rotate(0)" rx="1.3" ry="2" fill="#ff1a1a" opacity="0.19"/><ellipse transform="translate(558.2 48.9) rotate(0)" rx="1.3" ry="2" fill="#1a33ff" opacity="0.96"/><ellipse transform="translate(560.3 53.4) rotate(0)" rx="1.3" ry="2" fill="#ff1a1a" opacity="0.50"/><ellipse transform="translate(562.3 48.9) rotate(0)" rx="1.3" ry="2" fill="#ff1a1a" opacity="0.61"/><ellipse transform="translate(564.3 53.4) rotate(0)" rx="1.3" ry="2" fill="#1a33ff" opacity="0.90"/><ellipse transform="translate(566.4 48.9) rotate(0)" rx="1.3" ry="2" fill="#1a33ff" opacity="0.20"/><ellipse transform="translate(568.4 53.4) rotate(0)" rx="1.3" ry="2" fill="#ff1a1a" opacity="0.97"/><ellipse transform="translate(570.4 48.9) rotate(0)" rx="1.3" ry="2" fill="#1a33ff" opacity="0.46"/><ellipse transform="translate(572.4 53.4) rotate(0)" rx="1.3" ry="2" fill="#1a33ff" opacity="0.65"/><ellipse transform="translate(574.5 48.9) rotate(0)" rx="1.3" ry="2" fill="#ff1a1a" opacity="0.88"/><ellipse transform="translate(576.5 53.4) rotate(0)" rx="1.3" ry="2" fill="#ff1a1a" opacity="0.23"/><ellipse transform="translate(578.5 48.9) rotate(0)" rx="1.3" ry="2" fill="#1a33ff" opacity="0.99"/><ellipse transform="translate(580.5 53.4) rotate(0)" rx="1.3" ry="2" fill="#ff1a1a" opacity="0.42"/><ellipse transform="translate(582.6 48.9) rotate(0)" rx="1.3" ry="2" fill="#ff1a1a" opacity="0.69"/><ellipse transform="translate(584.6 53.4) rotate(0)" rx="1.3" ry="2" fill="#1a33ff" opacity="0.85"/><ellipse transform="translate(586.6 48.9) rotate(0)" rx="1.3" ry="2" fill="#1a33ff" opacity="0.26"/><ellipse transform="translate(588.6 53.4) rotate(0)" rx="1.3" ry="2" fill="#ff1a1a" opacity="0.99"/><ellipse transform="translate(590.7 48.9) rotate(0)" rx="1.3" ry="2" fill="#1a33ff" opacity="0.38"/><ellipse transform="translate(592.7 53.4) rotate(0)" rx="1.3" ry="2" fill="#1a33ff" opacity="0.73"/><ellipse transform="translate(594.7 48.9) rotate(0)" rx="1.3" ry="2" fill="#ff1a1a" opacity="0.82"/><ellipse transform="translate(596.8 53.4) rotate(0)" rx="1.3" ry="2" fill="#ff1a1a" opacity="0.29"/><ellipse transform="translate(598.8 48.9) rotate(0)" rx="1.3" ry="2" fill="#1a33ff" opacity="1.00"/><ellipse transform="translate(600.8 53.4) rotate(0)" rx="1.3" ry="2" fill="#ff1a1a" opacity="0.34"/><ellipse transform="translate(602.8 48.9) rotate(0)" rx="1.3" ry="2" fill="#ff1a1a" opacity="0.76"/><ellipse transform="translate(604.9 53.4) rotate(0)" rx="1.3" ry="2" fill="#1a33ff" opacity="0.78"/><ellipse transform="translate(606.9 48.9) rotate(0)" rx="1.3" ry="2" fill="#1a33ff" opacity="0.32"/><ellipse transform="translate(608.9 53.4) rotate(0)" rx="1.3" ry="2" fill="#ff1a1a" opacity="1.00"/><ellipse transform="translate(610.9 48.9) rotate(0)" rx="1.3" ry="2" fill="#1a33ff" opacity="0.31"/><ellipse transform="translate(613 53.4) rotate(0)" rx="1.3" ry="2" fill="#1a33ff" opacity="0.80"/><ellipse transform="translate(615 48.9) rotate(0)" rx="1.3" ry="2" fill="#ff1a1a" opacity="0.75"/><ellipse transform="translate(617 53.4) rotate(0)" rx="1.3" ry="2" fill="#ff1a1a" opacity="0.36"/><ellipse transform="translate(619.1 48.9) rotate(0)" rx="1.3" ry="2" fill="#1a33ff" opacity="1.00"/><ellipse transform="translate(621.1 53.4) rotate(0)" rx="1.3" ry="2" fill="#ff1a1a" opacity="0.27"/><ellipse transform="translate(623.1 48.9) rotate(0)" rx="1.3" ry="2" fill="#ff1a1a" opacity="0.83"/><ellipse transform="translate(626.1 52) rotate(119.4)" rx="1.3" ry="2" fill="#ff1a1a" opacity="0.63"/><ellipse transform="translate(621.7 51.9) rotate(119.4)" rx="1.3" ry="2" fill="#ff1a1a" opacity="0.48"/><ellipse transform="translate(624.1 55.6) rotate(119.4)" rx="1.3" ry="2" fill="#1a33ff" opacity="0.97"/><ellipse transform="translate(619.8 55.5) rotate(119.4)" rx="1.3" ry="2" fill="#ff1a1a" opacity="0.20"/><ellipse transform="translate(622.1 59.1) rotate(119.4)" rx="1.3" ry="2" fill="#ff1a1a" opacity="0.92"/><ellipse transform="translate(617.8 59) rotate(119.4)" rx="1.3" ry="2" fill="#1a33ff" opacity="0.59"/><ellipse transform="translate(620.1 62.6) rotate(119.4)" rx="1.3" ry="2" fill="#1a33ff" opacity="0.52"/><ellipse transform="translate(615.8 62.5) rotate(119.4)" rx="1.3" ry="2" fill="#ff1a1a" opacity="0.95"/><ellipse transform="translate(618.1 66.2) rotate(119.4)" rx="1.3" ry="2" fill="#1a33ff" opacity="0.18"/><ellipse transform="translate(613.8 66.1) rotate(119.4)" rx="1.3" ry="2" fill="#1a33ff" opacity="0.94"/><ellipse transform="translate(616.1 69.7) rotate(119.4)" rx="1.3" ry="2" fill="#ff1a1a" opacity="0.55"/><ellipse transform="translate(611.8 69.6) rotate(119.4)" rx="1.3" ry="2" fill="#ff1a1a" opacity="0.56"/><ellipse transform="translate(614.1 73.2) rotate(119.4)" rx="1.3" ry="2" fill="#1a33ff" opacity="0.93"/><ellipse transform="translate(609.8 73.1) rotate(119.4)" rx="1.3" ry="2" fill="#1a33ff" opacity="0.19"/><ellipse transform="translate(612.1 76.7) rotate(119.4)" rx="1.3" ry="2" fill="#ff1a1a" opacity="0.96"/><ellipse transform="translate(607.8 76.6) rotate(119.4)" rx="1.3" ry="2" fill="#1a33ff" opacity="0.50"/><ellipse transform="translate(610.1 80.3) rotate(119.4)" rx="1.3" ry="2" fill="#1a33ff" opacity="0.60"/><ellipse transform="translate(605.8 80.2) rotate(119.4)" rx="1.3" ry="2" fill="#ff1a1a" opacity="0.91"/><ellipse transform="translate(608.1 83.8) rotate(119.4)" rx="1.3" ry="2" fill="#ff1a1a" opacity="0.20"/><ellipse transform="translate(603.8 83.7) rotate(119.4)" rx="1.3" ry="2" fill="#1a33ff" opacity="0.97"/><ellipse transform="translate(606.1 87.3) rotate(119.4)" rx="1.3" ry="2" fill="#ff1a1a" opacity="0.46"/><ellipse transform="translate(601.8 87.2) rotate(119.4)" rx="1.3" ry="2" fill="#ff1a1a" opacity="0.64"/><ellipse transform="translate(604.1 90.9) rotate(119.4)" rx="1.3" ry="2" fill="#1a33ff" opacity="0.88"/><ellipse transform="translate(599.8 90.8) rotate(119.4)" rx="1.3" ry="2" fill="#1a33ff" opacity="0.23"/><ellipse transform="translate(602.1 94.4) rotate(119.4)" rx="1.3" ry="2" fill="#ff1a1a" opacity="0.98"/><ellipse transform="translate(597.8 94.3) rotate(119.4)" rx="1.3" ry="2" fill="#1a33ff" opacity="0.42"/><ellipse transform="translate(600.1 97.9) rotate(119.4)" rx="1.3" ry="2" fill="#1a33ff" opacity="0.68"/><ellipse transform="translate(595.8 97.8) rotate(119.4)" rx="1.3" ry="2" fill="#ff1a1a" opacity="0.85"/><ellipse transform="translate(598.2 101.5) rotate(119.4)" rx="1.3" ry="2" fill="#ff1a1a" opacity="0.25"/><ellipse transform="translate(593.9 101.4) rotate(119.4)" rx="1.3" ry="2" fill="#1a33ff" opacity="0.99"/><ellipse transform="translate(596.2 105) rotate(119.4)" rx="1.3" ry="2" fill="#ff1a1a" opacity="0.38"/><ellipse transform="translate(591.9 104.9) rotate(119.4)" rx="1.3" ry="2" fill="#ff1a1a" opacity="0.72"/><ellipse transform="translate(594.2 108.5) rotate(119.4)" rx="1.3" ry="2" fill="#1a33ff" opacity="0.82"/><ellipse transform="translate(589.9 108.4) rotate(119.4)" rx="1.3" ry="2" fill="#1a33ff" opacity="0.28"/><ellipse transform="translate(592.2 112.1) rotate(119.4)" rx="1.3" ry="2" fill="#ff1a1a" opacity="1.00"/><ellipse transform="translate(587.9 111.9) rotate(119.4)" rx="1.3" ry="2" fill="#1a33ff" opacity="0.35"/><ellipse transform="translate(590.2 115.6) rotate(119.4)" rx="1.3" ry="2" fill="#1a33ff" opacity="0.76"/><ellipse transform="translate(585.9 115.5) rotate(119.4)" rx="1.3" ry="2" fill="#ff1a1a" opacity="0.79"/><ellipse transform="translate(588.2 119.1) rotate(119.4)" rx="1.3" ry="2" fill="#ff1a1a" opacity="0.32"/><ellipse transform="translate(583.9 119) rotate(119.4)" rx="1.3" ry="2" fill="#1a33ff" opacity="1.00"/><ellipse transform="translate(586.2 122.6) rotate(119.4)" rx="1.3" ry="2" fill="#ff1a1a" opacity="0.31"/><ellipse transform="translate(581.9 122.5) rotate(119.4)" rx="1.3" ry="2" fill="#ff1a1a" opacity="0.80"/><ellipse transform="translate(582.8 127) rotate(0)" rx="1.3" ry="2" fill="#ff1a1a" opacity="0.70"/><ellipse transform="translate(584.8 122.5) rotate(0)" rx="1.3" ry="2" fill="#ff1a1a" opacity="0.41"/><ellipse transform="translate(586.9 127) rotate(0)" rx="1.3" ry="2" fill="#1a33ff" opacity="0.99"/><ellipse transform="translate(588.9 122.5) rotate(0)" rx="1.3" ry="2" fill="#ff1a1a" opacity="0.24"/><ellipse transform="translate(590.9 127) rotate(0)" rx="1.3" ry="2" fill="#ff1a1a" opacity="0.87"/><ellipse transform="translate(592.9 122.5) rotate(0)" rx="1.3" ry="2" fill="#1a33ff" opacity="0.66"/><ellipse transform="translate(595 127) rotate(0)" rx="1.3" ry="2" fill="#1a33ff" opacity="0.45"/><ellipse transform="translate(597 122.5) rotate(0)" rx="1.3" ry="2" fill="#ff1a1a" opacity="0.98"/><ellipse transform="translate(599 127) rotate(0)" rx="1.3" ry="2" fill="#1a33ff" opacity="0.21"/><ellipse transform="translate(601 122.5) rotate(0)" rx="1.3" ry="2" fill="#1a33ff" opacity="0.90"/><ellipse transform="translate(603.1 127) rotate(0)" rx="1.3" ry="2" fill="#ff1a1a" opacity="0.62"/><ellipse transform="translate(605.1 122.5) rotate(0)" rx="1.3" ry="2" fill="#ff1a1a" opacity="0.49"/><ellipse transform="translate(607.1 127) rotate(0)" rx="1.3" ry="2" fill="#1a33ff" opacity="0.96"/><ellipse transform="translate(609.2 122.5) rotate(0)" rx="1.3" ry="2" fill="#ff1a1a" opacity="0.19"/><ellipse transform="translate(611.2 127) rotate(0)" rx="1.3" ry="2" fill="#ff1a1a" opacity="0.92"/><ellipse transform="translate(613.2 122.5) rotate(0)" rx="1.3" ry="2" fill="#1a33ff" opacity="0.58"/><ellipse transform="translate(615.2 127) rotate(0)" rx="1.3" ry="2" fill="#1a33ff" opacity="0.53"/><ellipse transform="translate(617.3 122.5) rotate(0)" rx="1.3" ry="2" fill="#ff1a1a" opacity="0.95"/><ellipse transform="translate(619.3 127) rotate(0)" rx="1.3" ry="2" fill="#1a33ff" opacity="0.18"/><ellipse transform="translate(621.3 122.5) rotate(0)" rx="1.3" ry="2" fill="#1a33ff" opacity="0.94"/><ellipse transform="translate(623.3 127) rotate(0)" rx="1.3" ry="2" fill="#ff1a1a" opacity="0.53"/><ellipse transform="translate(625.4 122.5) rotate(0)" rx="1.3" ry="2" fill="#ff1a1a" opacity="0.57"/><ellipse transform="translate(627.4 127) rotate(0)" rx="1.3" ry="2" fill="#1a33ff" opacity="0.92"/><ellipse transform="translate(629.4 122.5) rotate(0)" rx="1.3" ry="2" fill="#1a33ff" opacity="0.19"/><ellipse transform="translate(631.4 127) rotate(0)" rx="1.3" ry="2" fill="#ff1a1a" opacity="0.96"/><ellipse transform="translate(633.5 122.5) rotate(0)" rx="1.3" ry="2" fill="#1a33ff" opacity="0.49"/><ellipse transform="translate(635.5 127) rotate(0)" rx="1.3" ry="2" fill="#1a33ff" opacity="0.61"/><ellipse transform="translate(637.5 122.5) rotate(0)" rx="1.3" ry="2" fill="#ff1a1a" opacity="0.90"/><ellipse transform="translate(639.6 127) rotate(0)" rx="1.3" ry="2" fill="#ff1a1a" opacity="0.21"/><ellipse transform="translate(641.6 122.5) rotate(0)" rx="1.3" ry="2" fill="#1a33ff" opacity="0.98"/><ellipse transform="translate(643.6 127) rotate(0)" rx="1.3" ry="2" fill="#ff1a1a" opacity="0.45"/><ellipse transform="translate(645.6 122.5) rotate(0)" rx="1.3" ry="2" fill="#ff1a1a" opacity="0.65"/><ellipse transform="translate(647.7 127) rotate(0)" rx="1.3" ry="2" fill="#1a33ff" opacity="0.87"/><ellipse transform="translate(649.7 122.5) rotate(0)" rx="1.3" ry="2" fill="#1a33ff" opacity="0.23"/><ellipse transform="translate(651.7 127) rotate(0)" rx="1.3" ry="2" fill="#ff1a1a" opacity="0.99"/><ellipse transform="translate(653.7 122.5) rotate(0)" rx="1.3" ry="2" fill="#1a33ff" opacity="0.41"/><ellipse transform="translate(655.8 127) rotate(0)" rx="1.3" ry="2" fill="#1a33ff" opacity="0.69"/><ellipse transform="translate(657.8 122.5) rotate(0)" rx="1.3" ry="2" fill="#ff1a1a" opacity="0.84"/></g><g clip-path="url(#clipf20)"><path d="M498.2 51.1H624.4L582.8 124.8H653.3" stroke="#383838" stroke-width="1.5" fill="none" opacity="0.8" stroke-dasharray="1.4 0.6"/></g><path d="M535.2 23.4H571.4V20.2L578.2 26.6L571.4 33.5V29.9H535.2Z" fill="#ff0000"/><polygon points="535.6,38.7 538.5,46 546.3,46.5 540.3,51.5 542.2,59.1 535.6,55 529,59.1 530.9,51.5 524.9,46.5 532.7,46" fill="#ffb000" stroke="#ff0000" stroke-width="1.6" stroke-linejoin="miter"/><linearGradient id="cg20" x1="0" y1="0" x2="0" y2="1"><stop offset="0" stop-color="#e00000"/><stop offset="0.25" stop-color="#ff7070"/><stop offset="0.5" stop-color="#ffffff"/><stop offset="0.75" stop-color="#7070ff"/><stop offset="1" stop-color="#0000e0"/></linearGradient><rect x="657.2" y="52.2" width="4.1" height="95.1" fill="url(#cg20)"/><text x="663.5" y="61.2" font-size="10.2" text-anchor="start" font-weight="normal" font-style="normal" fill="#111" >200</text><text x="663.5" y="82.1" font-size="10.2" text-anchor="start" font-weight="normal" font-style="normal" fill="#111" >100</text><text x="663.5" y="103.3" font-size="10.2" text-anchor="start" font-weight="normal" font-style="normal" fill="#111" >0</text><text x="663.5" y="124.8" font-size="10.2" text-anchor="start" font-weight="normal" font-style="normal" fill="#111" >-100</text><text x="663.5" y="146" font-size="10.2" text-anchor="start" font-weight="normal" font-style="normal" fill="#111" >-200</text><text x="662" y="31.7" font-size="10.2" text-anchor="start" font-weight="normal" font-style="normal" fill="#111" >A/m</text><clipPath id="clipf236"><rect x="497.4" y="236.8" width="156" height="133.8"/></clipPath><g clip-path="url(#clipf236)"><ellipse transform="translate(541 269.8) rotate(0)" rx="1.8" ry="2.4" fill="#ff5a5a" opacity="0.35"/><ellipse transform="translate(541 273.5) rotate(0)" rx="1.8" ry="2.4" fill="#5a6cff" opacity="0.20"/><ellipse transform="translate(541 277.2) rotate(0)" rx="1.8" ry="2.4" fill="#ff5a5a" opacity="0.08"/><ellipse transform="translate(541 258) rotate(0)" rx="1.8" ry="2.4" fill="#5a6cff" opacity="0.38"/><ellipse transform="translate(541 254.3) rotate(0)" rx="1.8" ry="2.4" fill="#ff5a5a" opacity="0.22"/><ellipse transform="translate(541 250.6) rotate(0)" rx="1.8" ry="2.4" fill="#5a6cff" opacity="0.09"/><ellipse transform="translate(543.3 269.8) rotate(0)" rx="1.8" ry="2.4" fill="#5a6cff" opacity="0.39"/><ellipse transform="translate(543.3 273.5) rotate(0)" rx="1.8" ry="2.4" fill="#ff5a5a" opacity="0.22"/><ellipse transform="translate(543.3 277.2) rotate(0)" rx="1.8" ry="2.4" fill="#5a6cff" opacity="0.09"/><ellipse transform="translate(543.3 258) rotate(0)" rx="1.8" ry="2.4" fill="#ff5a5a" opacity="0.33"/><ellipse transform="translate(543.3 254.3) rotate(0)" rx="1.8" ry="2.4" fill="#5a6cff" opacity="0.19"/><ellipse transform="translate(543.3 250.6) rotate(0)" rx="1.8" ry="2.4" fill="#ff5a5a" opacity="0.08"/><ellipse transform="translate(545.6 269.8) rotate(0)" rx="1.8" ry="2.4" fill="#ff5a5a" opacity="0.42"/><ellipse transform="translate(545.6 273.5) rotate(0)" rx="1.8" ry="2.4" fill="#5a6cff" opacity="0.24"/><ellipse transform="translate(545.6 277.2) rotate(0)" rx="1.8" ry="2.4" fill="#ff5a5a" opacity="0.10"/><ellipse transform="translate(545.6 258) rotate(0)" rx="1.8" ry="2.4" fill="#5a6cff" opacity="0.27"/><ellipse transform="translate(545.6 254.3) rotate(0)" rx="1.8" ry="2.4" fill="#ff5a5a" opacity="0.15"/><ellipse transform="translate(545.6 250.6) rotate(0)" rx="1.8" ry="2.4" fill="#5a6cff" opacity="0.06"/><ellipse transform="translate(547.9 269.8) rotate(0)" rx="1.8" ry="2.4" fill="#5a6cff" opacity="0.42"/><ellipse transform="translate(547.9 273.5) rotate(0)" rx="1.8" ry="2.4" fill="#ff5a5a" opacity="0.24"/><ellipse transform="translate(547.9 277.2) rotate(0)" rx="1.8" ry="2.4" fill="#5a6cff" opacity="0.10"/><ellipse transform="translate(547.9 258) rotate(0)" rx="1.8" ry="2.4" fill="#ff5a5a" opacity="0.26"/><ellipse transform="translate(547.9 254.3) rotate(0)" rx="1.8" ry="2.4" fill="#5a6cff" opacity="0.15"/><ellipse transform="translate(547.9 250.6) rotate(0)" rx="1.8" ry="2.4" fill="#ff5a5a" opacity="0.06"/><ellipse transform="translate(550.2 269.8) rotate(0)" rx="1.8" ry="2.4" fill="#ff5a5a" opacity="0.40"/><ellipse transform="translate(550.2 273.5) rotate(0)" rx="1.8" ry="2.4" fill="#5a6cff" opacity="0.23"/><ellipse transform="translate(550.2 277.2) rotate(0)" rx="1.8" ry="2.4" fill="#ff5a5a" opacity="0.09"/><ellipse transform="translate(550.2 258) rotate(0)" rx="1.8" ry="2.4" fill="#5a6cff" opacity="0.32"/><ellipse transform="translate(550.2 254.3) rotate(0)" rx="1.8" ry="2.4" fill="#ff5a5a" opacity="0.18"/><ellipse transform="translate(550.2 250.6) rotate(0)" rx="1.8" ry="2.4" fill="#5a6cff" opacity="0.08"/><ellipse transform="translate(552.5 269.8) rotate(0)" rx="1.8" ry="2.4" fill="#5a6cff" opacity="0.36"/><ellipse transform="translate(552.5 273.5) rotate(0)" rx="1.8" ry="2.4" fill="#ff5a5a" opacity="0.21"/><ellipse transform="translate(552.5 277.2) rotate(0)" rx="1.8" ry="2.4" fill="#5a6cff" opacity="0.09"/><ellipse transform="translate(552.5 258) rotate(0)" rx="1.8" ry="2.4" fill="#ff5a5a" opacity="0.37"/><ellipse transform="translate(552.5 254.3) rotate(0)" rx="1.8" ry="2.4" fill="#5a6cff" opacity="0.21"/><ellipse transform="translate(552.5 250.6) rotate(0)" rx="1.8" ry="2.4" fill="#ff5a5a" opacity="0.09"/><ellipse transform="translate(554.8 269.8) rotate(0)" rx="1.8" ry="2.4" fill="#ff5a5a" opacity="0.31"/><ellipse transform="translate(554.8 273.5) rotate(0)" rx="1.8" ry="2.4" fill="#5a6cff" opacity="0.17"/><ellipse transform="translate(554.8 277.2) rotate(0)" rx="1.8" ry="2.4" fill="#ff5a5a" opacity="0.07"/><ellipse transform="translate(554.8 258) rotate(0)" rx="1.8" ry="2.4" fill="#5a6cff" opacity="0.40"/><ellipse transform="translate(554.8 254.3) rotate(0)" rx="1.8" ry="2.4" fill="#ff5a5a" opacity="0.23"/><ellipse transform="translate(554.8 250.6) rotate(0)" rx="1.8" ry="2.4" fill="#5a6cff" opacity="0.10"/><ellipse transform="translate(557.1 269.8) rotate(0)" rx="1.8" ry="2.4" fill="#5a6cff" opacity="0.24"/><ellipse transform="translate(557.1 273.5) rotate(0)" rx="1.8" ry="2.4" fill="#ff5a5a" opacity="0.14"/><ellipse transform="translate(557.1 277.2) rotate(0)" rx="1.8" ry="2.4" fill="#5a6cff" opacity="0.06"/><ellipse transform="translate(557.1 258) rotate(0)" rx="1.8" ry="2.4" fill="#ff5a5a" opacity="0.42"/><ellipse transform="translate(557.1 254.3) rotate(0)" rx="1.8" ry="2.4" fill="#5a6cff" opacity="0.24"/><ellipse transform="translate(557.1 250.6) rotate(0)" rx="1.8" ry="2.4" fill="#ff5a5a" opacity="0.10"/><ellipse transform="translate(559.4 269.8) rotate(0)" rx="1.8" ry="2.4" fill="#ff5a5a" opacity="0.28"/><ellipse transform="translate(559.4 273.5) rotate(0)" rx="1.8" ry="2.4" fill="#5a6cff" opacity="0.16"/><ellipse transform="translate(559.4 277.2) rotate(0)" rx="1.8" ry="2.4" fill="#ff5a5a" opacity="0.07"/><ellipse transform="translate(559.4 258) rotate(0)" rx="1.8" ry="2.4" fill="#5a6cff" opacity="0.41"/><ellipse transform="translate(559.4 254.3) rotate(0)" rx="1.8" ry="2.4" fill="#ff5a5a" opacity="0.24"/><ellipse transform="translate(559.4 250.6) rotate(0)" rx="1.8" ry="2.4" fill="#5a6cff" opacity="0.10"/><ellipse transform="translate(561.7 269.8) rotate(0)" rx="1.8" ry="2.4" fill="#5a6cff" opacity="0.34"/><ellipse transform="translate(561.7 273.5) rotate(0)" rx="1.8" ry="2.4" fill="#ff5a5a" opacity="0.20"/><ellipse transform="translate(561.7 277.2) rotate(0)" rx="1.8" ry="2.4" fill="#5a6cff" opacity="0.08"/><ellipse transform="translate(561.7 258) rotate(0)" rx="1.8" ry="2.4" fill="#ff5a5a" opacity="0.38"/><ellipse transform="translate(561.7 254.3) rotate(0)" rx="1.8" ry="2.4" fill="#5a6cff" opacity="0.22"/><ellipse transform="translate(561.7 250.6) rotate(0)" rx="1.8" ry="2.4" fill="#ff5a5a" opacity="0.09"/><ellipse transform="translate(564 269.8) rotate(0)" rx="1.8" ry="2.4" fill="#ff5a5a" opacity="0.39"/><ellipse transform="translate(564 273.5) rotate(0)" rx="1.8" ry="2.4" fill="#5a6cff" opacity="0.22"/><ellipse transform="translate(564 277.2) rotate(0)" rx="1.8" ry="2.4" fill="#ff5a5a" opacity="0.09"/><ellipse transform="translate(564 258) rotate(0)" rx="1.8" ry="2.4" fill="#5a6cff" opacity="0.34"/><ellipse transform="translate(564 254.3) rotate(0)" rx="1.8" ry="2.4" fill="#ff5a5a" opacity="0.19"/><ellipse transform="translate(564 250.6) rotate(0)" rx="1.8" ry="2.4" fill="#5a6cff" opacity="0.08"/><ellipse transform="translate(566.3 269.8) rotate(0)" rx="1.8" ry="2.4" fill="#5a6cff" opacity="0.41"/><ellipse transform="translate(566.3 273.5) rotate(0)" rx="1.8" ry="2.4" fill="#ff5a5a" opacity="0.24"/><ellipse transform="translate(566.3 277.2) rotate(0)" rx="1.8" ry="2.4" fill="#5a6cff" opacity="0.10"/><ellipse transform="translate(566.3 258) rotate(0)" rx="1.8" ry="2.4" fill="#ff5a5a" opacity="0.28"/><ellipse transform="translate(566.3 254.3) rotate(0)" rx="1.8" ry="2.4" fill="#5a6cff" opacity="0.16"/><ellipse transform="translate(566.3 250.6) rotate(0)" rx="1.8" ry="2.4" fill="#ff5a5a" opacity="0.07"/><ellipse transform="translate(568.6 269.8) rotate(0)" rx="1.8" ry="2.4" fill="#ff5a5a" opacity="0.42"/><ellipse transform="translate(568.6 273.5) rotate(0)" rx="1.8" ry="2.4" fill="#5a6cff" opacity="0.24"/><ellipse transform="translate(568.6 277.2) rotate(0)" rx="1.8" ry="2.4" fill="#ff5a5a" opacity="0.10"/><ellipse transform="translate(568.6 258) rotate(0)" rx="1.8" ry="2.4" fill="#5a6cff" opacity="0.25"/><ellipse transform="translate(568.6 254.3) rotate(0)" rx="1.8" ry="2.4" fill="#ff5a5a" opacity="0.14"/><ellipse transform="translate(568.6 250.6) rotate(0)" rx="1.8" ry="2.4" fill="#5a6cff" opacity="0.06"/><ellipse transform="translate(570.9 269.8) rotate(0)" rx="1.8" ry="2.4" fill="#5a6cff" opacity="0.40"/><ellipse transform="translate(570.9 273.5) rotate(0)" rx="1.8" ry="2.4" fill="#ff5a5a" opacity="0.23"/><ellipse transform="translate(570.9 277.2) rotate(0)" rx="1.8" ry="2.4" fill="#5a6cff" opacity="0.10"/><ellipse transform="translate(570.9 258) rotate(0)" rx="1.8" ry="2.4" fill="#ff5a5a" opacity="0.31"/><ellipse transform="translate(570.9 254.3) rotate(0)" rx="1.8" ry="2.4" fill="#5a6cff" opacity="0.18"/><ellipse transform="translate(570.9 250.6) rotate(0)" rx="1.8" ry="2.4" fill="#ff5a5a" opacity="0.07"/><ellipse transform="translate(573.2 269.8) rotate(0)" rx="1.8" ry="2.4" fill="#ff5a5a" opacity="0.37"/><ellipse transform="translate(573.2 273.5) rotate(0)" rx="1.8" ry="2.4" fill="#5a6cff" opacity="0.21"/><ellipse transform="translate(573.2 277.2) rotate(0)" rx="1.8" ry="2.4" fill="#ff5a5a" opacity="0.09"/><ellipse transform="translate(573.2 258) rotate(0)" rx="1.8" ry="2.4" fill="#5a6cff" opacity="0.36"/><ellipse transform="translate(573.2 254.3) rotate(0)" rx="1.8" ry="2.4" fill="#ff5a5a" opacity="0.21"/><ellipse transform="translate(573.2 250.6) rotate(0)" rx="1.8" ry="2.4" fill="#5a6cff" opacity="0.09"/><ellipse transform="translate(575.5 269.8) rotate(0)" rx="1.8" ry="2.4" fill="#5a6cff" opacity="0.31"/><ellipse transform="translate(575.5 273.5) rotate(0)" rx="1.8" ry="2.4" fill="#ff5a5a" opacity="0.18"/><ellipse transform="translate(575.5 277.2) rotate(0)" rx="1.8" ry="2.4" fill="#5a6cff" opacity="0.07"/><ellipse transform="translate(575.5 258) rotate(0)" rx="1.8" ry="2.4" fill="#ff5a5a" opacity="0.40"/><ellipse transform="translate(575.5 254.3) rotate(0)" rx="1.8" ry="2.4" fill="#5a6cff" opacity="0.23"/><ellipse transform="translate(575.5 250.6) rotate(0)" rx="1.8" ry="2.4" fill="#ff5a5a" opacity="0.10"/><ellipse transform="translate(577.8 269.8) rotate(0)" rx="1.8" ry="2.4" fill="#ff5a5a" opacity="0.25"/><ellipse transform="translate(577.8 273.5) rotate(0)" rx="1.8" ry="2.4" fill="#5a6cff" opacity="0.14"/><ellipse transform="translate(577.8 277.2) rotate(0)" rx="1.8" ry="2.4" fill="#ff5a5a" opacity="0.06"/><ellipse transform="translate(577.8 258) rotate(0)" rx="1.8" ry="2.4" fill="#5a6cff" opacity="0.42"/><ellipse transform="translate(577.8 254.3) rotate(0)" rx="1.8" ry="2.4" fill="#ff5a5a" opacity="0.24"/><ellipse transform="translate(577.8 250.6) rotate(0)" rx="1.8" ry="2.4" fill="#5a6cff" opacity="0.10"/><ellipse transform="translate(580.1 269.8) rotate(0)" rx="1.8" ry="2.4" fill="#5a6cff" opacity="0.28"/><ellipse transform="translate(580.1 273.5) rotate(0)" rx="1.8" ry="2.4" fill="#ff5a5a" opacity="0.16"/><ellipse transform="translate(580.1 277.2) rotate(0)" rx="1.8" ry="2.4" fill="#5a6cff" opacity="0.07"/><ellipse transform="translate(580.1 258) rotate(0)" rx="1.8" ry="2.4" fill="#ff5a5a" opacity="0.41"/><ellipse transform="translate(580.1 254.3) rotate(0)" rx="1.8" ry="2.4" fill="#5a6cff" opacity="0.24"/><ellipse transform="translate(580.1 250.6) rotate(0)" rx="1.8" ry="2.4" fill="#ff5a5a" opacity="0.10"/><ellipse transform="translate(582.4 269.8) rotate(0)" rx="1.8" ry="2.4" fill="#ff5a5a" opacity="0.34"/><ellipse transform="translate(582.4 273.5) rotate(0)" rx="1.8" ry="2.4" fill="#5a6cff" opacity="0.19"/><ellipse transform="translate(582.4 277.2) rotate(0)" rx="1.8" ry="2.4" fill="#ff5a5a" opacity="0.08"/><ellipse transform="translate(582.4 258) rotate(0)" rx="1.8" ry="2.4" fill="#5a6cff" opacity="0.39"/><ellipse transform="translate(582.4 254.3) rotate(0)" rx="1.8" ry="2.4" fill="#ff5a5a" opacity="0.22"/><ellipse transform="translate(582.4 250.6) rotate(0)" rx="1.8" ry="2.4" fill="#5a6cff" opacity="0.09"/><ellipse transform="translate(584.7 269.8) rotate(0)" rx="1.8" ry="2.4" fill="#5a6cff" opacity="0.38"/><ellipse transform="translate(584.7 273.5) rotate(0)" rx="1.8" ry="2.4" fill="#ff5a5a" opacity="0.22"/><ellipse transform="translate(584.7 277.2) rotate(0)" rx="1.8" ry="2.4" fill="#5a6cff" opacity="0.09"/><ellipse transform="translate(584.7 258) rotate(0)" rx="1.8" ry="2.4" fill="#ff5a5a" opacity="0.34"/><ellipse transform="translate(584.7 254.3) rotate(0)" rx="1.8" ry="2.4" fill="#5a6cff" opacity="0.20"/><ellipse transform="translate(584.7 250.6) rotate(0)" rx="1.8" ry="2.4" fill="#ff5a5a" opacity="0.08"/><ellipse transform="translate(587 269.8) rotate(0)" rx="1.8" ry="2.4" fill="#ff5a5a" opacity="0.41"/><ellipse transform="translate(587 273.5) rotate(0)" rx="1.8" ry="2.4" fill="#5a6cff" opacity="0.24"/><ellipse transform="translate(587 277.2) rotate(0)" rx="1.8" ry="2.4" fill="#ff5a5a" opacity="0.10"/><ellipse transform="translate(587 258) rotate(0)" rx="1.8" ry="2.4" fill="#5a6cff" opacity="0.29"/><ellipse transform="translate(587 254.3) rotate(0)" rx="1.8" ry="2.4" fill="#ff5a5a" opacity="0.16"/><ellipse transform="translate(587 250.6) rotate(0)" rx="1.8" ry="2.4" fill="#5a6cff" opacity="0.07"/><ellipse transform="translate(589.3 269.8) rotate(0)" rx="1.8" ry="2.4" fill="#5a6cff" opacity="0.42"/><ellipse transform="translate(589.3 273.5) rotate(0)" rx="1.8" ry="2.4" fill="#ff5a5a" opacity="0.24"/><ellipse transform="translate(589.3 277.2) rotate(0)" rx="1.8" ry="2.4" fill="#5a6cff" opacity="0.10"/><ellipse transform="translate(589.3 258) rotate(0)" rx="1.8" ry="2.4" fill="#ff5a5a" opacity="0.24"/><ellipse transform="translate(589.3 254.3) rotate(0)" rx="1.8" ry="2.4" fill="#5a6cff" opacity="0.14"/><ellipse transform="translate(589.3 250.6) rotate(0)" rx="1.8" ry="2.4" fill="#ff5a5a" opacity="0.06"/><ellipse transform="translate(591.6 269.8) rotate(0)" rx="1.8" ry="2.4" fill="#ff5a5a" opacity="0.41"/><ellipse transform="translate(591.6 273.5) rotate(0)" rx="1.8" ry="2.4" fill="#5a6cff" opacity="0.23"/><ellipse transform="translate(591.6 277.2) rotate(0)" rx="1.8" ry="2.4" fill="#ff5a5a" opacity="0.10"/><ellipse transform="translate(591.6 258) rotate(0)" rx="1.8" ry="2.4" fill="#5a6cff" opacity="0.30"/><ellipse transform="translate(591.6 254.3) rotate(0)" rx="1.8" ry="2.4" fill="#ff5a5a" opacity="0.17"/><ellipse transform="translate(591.6 250.6) rotate(0)" rx="1.8" ry="2.4" fill="#5a6cff" opacity="0.07"/><ellipse transform="translate(593.9 269.8) rotate(0)" rx="1.8" ry="2.4" fill="#5a6cff" opacity="0.37"/><ellipse transform="translate(593.9 273.5) rotate(0)" rx="1.8" ry="2.4" fill="#ff5a5a" opacity="0.21"/><ellipse transform="translate(593.9 277.2) rotate(0)" rx="1.8" ry="2.4" fill="#5a6cff" opacity="0.09"/><ellipse transform="translate(593.9 258) rotate(0)" rx="1.8" ry="2.4" fill="#ff5a5a" opacity="0.36"/><ellipse transform="translate(593.9 254.3) rotate(0)" rx="1.8" ry="2.4" fill="#5a6cff" opacity="0.20"/><ellipse transform="translate(593.9 250.6) rotate(0)" rx="1.8" ry="2.4" fill="#ff5a5a" opacity="0.09"/><ellipse transform="translate(596.2 269.8) rotate(0)" rx="1.8" ry="2.4" fill="#ff5a5a" opacity="0.32"/><ellipse transform="translate(596.2 273.5) rotate(0)" rx="1.8" ry="2.4" fill="#5a6cff" opacity="0.18"/><ellipse transform="translate(596.2 277.2) rotate(0)" rx="1.8" ry="2.4" fill="#ff5a5a" opacity="0.08"/><ellipse transform="translate(596.2 258) rotate(0)" rx="1.8" ry="2.4" fill="#5a6cff" opacity="0.40"/><ellipse transform="translate(596.2 254.3) rotate(0)" rx="1.8" ry="2.4" fill="#ff5a5a" opacity="0.23"/><ellipse transform="translate(596.2 250.6) rotate(0)" rx="1.8" ry="2.4" fill="#5a6cff" opacity="0.09"/><ellipse transform="translate(598.5 269.8) rotate(0)" rx="1.8" ry="2.4" fill="#5a6cff" opacity="0.26"/><ellipse transform="translate(598.5 273.5) rotate(0)" rx="1.8" ry="2.4" fill="#ff5a5a" opacity="0.15"/><ellipse transform="translate(598.5 277.2) rotate(0)" rx="1.8" ry="2.4" fill="#5a6cff" opacity="0.06"/><ellipse transform="translate(598.5 258) rotate(0)" rx="1.8" ry="2.4" fill="#ff5a5a" opacity="0.42"/><ellipse transform="translate(598.5 254.3) rotate(0)" rx="1.8" ry="2.4" fill="#5a6cff" opacity="0.24"/><ellipse transform="translate(598.5 250.6) rotate(0)" rx="1.8" ry="2.4" fill="#ff5a5a" opacity="0.10"/><ellipse transform="translate(600.8 269.8) rotate(0)" rx="1.8" ry="2.4" fill="#ff5a5a" opacity="0.27"/><ellipse transform="translate(600.8 273.5) rotate(0)" rx="1.8" ry="2.4" fill="#5a6cff" opacity="0.15"/><ellipse transform="translate(600.8 277.2) rotate(0)" rx="1.8" ry="2.4" fill="#ff5a5a" opacity="0.06"/><ellipse transform="translate(600.8 258) rotate(0)" rx="1.8" ry="2.4" fill="#5a6cff" opacity="0.42"/><ellipse transform="translate(600.8 254.3) rotate(0)" rx="1.8" ry="2.4" fill="#ff5a5a" opacity="0.24"/><ellipse transform="translate(600.8 250.6) rotate(0)" rx="1.8" ry="2.4" fill="#5a6cff" opacity="0.10"/><ellipse transform="translate(603.1 269.8) rotate(0)" rx="1.8" ry="2.4" fill="#5a6cff" opacity="0.33"/><ellipse transform="translate(603.1 273.5) rotate(0)" rx="1.8" ry="2.4" fill="#ff5a5a" opacity="0.19"/><ellipse transform="translate(603.1 277.2) rotate(0)" rx="1.8" ry="2.4" fill="#5a6cff" opacity="0.08"/><ellipse transform="translate(603.1 258) rotate(0)" rx="1.8" ry="2.4" fill="#ff5a5a" opacity="0.39"/><ellipse transform="translate(603.1 254.3) rotate(0)" rx="1.8" ry="2.4" fill="#5a6cff" opacity="0.22"/><ellipse transform="translate(603.1 250.6) rotate(0)" rx="1.8" ry="2.4" fill="#ff5a5a" opacity="0.09"/><ellipse transform="translate(605.4 269.8) rotate(0)" rx="1.8" ry="2.4" fill="#ff5a5a" opacity="0.38"/><ellipse transform="translate(605.4 273.5) rotate(0)" rx="1.8" ry="2.4" fill="#5a6cff" opacity="0.22"/><ellipse transform="translate(605.4 277.2) rotate(0)" rx="1.8" ry="2.4" fill="#ff5a5a" opacity="0.09"/><ellipse transform="translate(605.4 258) rotate(0)" rx="1.8" ry="2.4" fill="#5a6cff" opacity="0.35"/><ellipse transform="translate(605.4 254.3) rotate(0)" rx="1.8" ry="2.4" fill="#ff5a5a" opacity="0.20"/><ellipse transform="translate(605.4 250.6) rotate(0)" rx="1.8" ry="2.4" fill="#5a6cff" opacity="0.08"/><ellipse transform="translate(607.7 269.8) rotate(0)" rx="1.8" ry="2.4" fill="#5a6cff" opacity="0.41"/><ellipse transform="translate(607.7 273.5) rotate(0)" rx="1.8" ry="2.4" fill="#ff5a5a" opacity="0.23"/><ellipse transform="translate(607.7 277.2) rotate(0)" rx="1.8" ry="2.4" fill="#5a6cff" opacity="0.10"/><ellipse transform="translate(607.7 258) rotate(0)" rx="1.8" ry="2.4" fill="#ff5a5a" opacity="0.29"/><ellipse transform="translate(607.7 254.3) rotate(0)" rx="1.8" ry="2.4" fill="#5a6cff" opacity="0.17"/><ellipse transform="translate(607.7 250.6) rotate(0)" rx="1.8" ry="2.4" fill="#ff5a5a" opacity="0.07"/><ellipse transform="translate(610 269.8) rotate(0)" rx="1.8" ry="2.4" fill="#ff5a5a" opacity="0.42"/><ellipse transform="translate(610 273.5) rotate(0)" rx="1.8" ry="2.4" fill="#5a6cff" opacity="0.24"/><ellipse transform="translate(610 277.2) rotate(0)" rx="1.8" ry="2.4" fill="#ff5a5a" opacity="0.10"/><ellipse transform="translate(610 258) rotate(0)" rx="1.8" ry="2.4" fill="#5a6cff" opacity="0.23"/><ellipse transform="translate(610 254.3) rotate(0)" rx="1.8" ry="2.4" fill="#ff5a5a" opacity="0.13"/><ellipse transform="translate(610 250.6) rotate(0)" rx="1.8" ry="2.4" fill="#5a6cff" opacity="0.06"/><ellipse transform="translate(612.3 269.8) rotate(0)" rx="1.8" ry="2.4" fill="#5a6cff" opacity="0.41"/><ellipse transform="translate(612.3 273.5) rotate(0)" rx="1.8" ry="2.4" fill="#ff5a5a" opacity="0.23"/><ellipse transform="translate(612.3 277.2) rotate(0)" rx="1.8" ry="2.4" fill="#5a6cff" opacity="0.10"/><ellipse transform="translate(612.3 258) rotate(0)" rx="1.8" ry="2.4" fill="#ff5a5a" opacity="0.29"/><ellipse transform="translate(612.3 254.3) rotate(0)" rx="1.8" ry="2.4" fill="#5a6cff" opacity="0.17"/><ellipse transform="translate(612.3 250.6) rotate(0)" rx="1.8" ry="2.4" fill="#ff5a5a" opacity="0.07"/><ellipse transform="translate(614.6 269.8) rotate(0)" rx="1.8" ry="2.4" fill="#ff5a5a" opacity="0.38"/><ellipse transform="translate(614.6 273.5) rotate(0)" rx="1.8" ry="2.4" fill="#5a6cff" opacity="0.22"/><ellipse transform="translate(614.6 277.2) rotate(0)" rx="1.8" ry="2.4" fill="#ff5a5a" opacity="0.09"/><ellipse transform="translate(614.6 258) rotate(0)" rx="1.8" ry="2.4" fill="#5a6cff" opacity="0.35"/><ellipse transform="translate(614.6 254.3) rotate(0)" rx="1.8" ry="2.4" fill="#ff5a5a" opacity="0.20"/><ellipse transform="translate(614.6 250.6) rotate(0)" rx="1.8" ry="2.4" fill="#5a6cff" opacity="0.08"/><ellipse transform="translate(616.9 269.8) rotate(0)" rx="1.8" ry="2.4" fill="#5a6cff" opacity="0.33"/><ellipse transform="translate(616.9 273.5) rotate(0)" rx="1.8" ry="2.4" fill="#ff5a5a" opacity="0.19"/><ellipse transform="translate(616.9 277.2) rotate(0)" rx="1.8" ry="2.4" fill="#5a6cff" opacity="0.08"/><ellipse transform="translate(616.9 258) rotate(0)" rx="1.8" ry="2.4" fill="#ff5a5a" opacity="0.39"/><ellipse transform="translate(616.9 254.3) rotate(0)" rx="1.8" ry="2.4" fill="#5a6cff" opacity="0.22"/><ellipse transform="translate(616.9 250.6) rotate(0)" rx="1.8" ry="2.4" fill="#ff5a5a" opacity="0.09"/><ellipse transform="translate(619.2 269.8) rotate(0)" rx="1.8" ry="2.4" fill="#ff5a5a" opacity="0.27"/><ellipse transform="translate(619.2 273.5) rotate(0)" rx="1.8" ry="2.4" fill="#5a6cff" opacity="0.15"/><ellipse transform="translate(619.2 277.2) rotate(0)" rx="1.8" ry="2.4" fill="#ff5a5a" opacity="0.06"/><ellipse transform="translate(619.2 258) rotate(0)" rx="1.8" ry="2.4" fill="#5a6cff" opacity="0.42"/><ellipse transform="translate(619.2 254.3) rotate(0)" rx="1.8" ry="2.4" fill="#ff5a5a" opacity="0.24"/><ellipse transform="translate(619.2 250.6) rotate(0)" rx="1.8" ry="2.4" fill="#5a6cff" opacity="0.10"/><ellipse transform="translate(621.5 269.8) rotate(0)" rx="1.8" ry="2.4" fill="#5a6cff" opacity="0.26"/><ellipse transform="translate(621.5 273.5) rotate(0)" rx="1.8" ry="2.4" fill="#ff5a5a" opacity="0.15"/><ellipse transform="translate(621.5 277.2) rotate(0)" rx="1.8" ry="2.4" fill="#5a6cff" opacity="0.06"/><ellipse transform="translate(621.5 258) rotate(0)" rx="1.8" ry="2.4" fill="#ff5a5a" opacity="0.42"/><ellipse transform="translate(621.5 254.3) rotate(0)" rx="1.8" ry="2.4" fill="#5a6cff" opacity="0.24"/><ellipse transform="translate(621.5 250.6) rotate(0)" rx="1.8" ry="2.4" fill="#ff5a5a" opacity="0.10"/><ellipse transform="translate(623.8 269.8) rotate(0)" rx="1.8" ry="2.4" fill="#ff5a5a" opacity="0.32"/><ellipse transform="translate(623.8 273.5) rotate(0)" rx="1.8" ry="2.4" fill="#5a6cff" opacity="0.18"/><ellipse transform="translate(623.8 277.2) rotate(0)" rx="1.8" ry="2.4" fill="#ff5a5a" opacity="0.08"/><ellipse transform="translate(623.8 258) rotate(0)" rx="1.8" ry="2.4" fill="#5a6cff" opacity="0.40"/><ellipse transform="translate(623.8 254.3) rotate(0)" rx="1.8" ry="2.4" fill="#ff5a5a" opacity="0.23"/><ellipse transform="translate(623.8 250.6) rotate(0)" rx="1.8" ry="2.4" fill="#5a6cff" opacity="0.09"/><ellipse transform="translate(626.1 269.8) rotate(0)" rx="1.8" ry="2.4" fill="#5a6cff" opacity="0.37"/><ellipse transform="translate(626.1 273.5) rotate(0)" rx="1.8" ry="2.4" fill="#ff5a5a" opacity="0.21"/><ellipse transform="translate(626.1 277.2) rotate(0)" rx="1.8" ry="2.4" fill="#5a6cff" opacity="0.09"/><ellipse transform="translate(626.1 258) rotate(0)" rx="1.8" ry="2.4" fill="#ff5a5a" opacity="0.36"/><ellipse transform="translate(626.1 254.3) rotate(0)" rx="1.8" ry="2.4" fill="#5a6cff" opacity="0.20"/><ellipse transform="translate(626.1 250.6) rotate(0)" rx="1.8" ry="2.4" fill="#ff5a5a" opacity="0.09"/><ellipse transform="translate(628.4 269.8) rotate(0)" rx="1.8" ry="2.4" fill="#ff5a5a" opacity="0.41"/><ellipse transform="translate(628.4 273.5) rotate(0)" rx="1.8" ry="2.4" fill="#5a6cff" opacity="0.23"/><ellipse transform="translate(628.4 277.2) rotate(0)" rx="1.8" ry="2.4" fill="#ff5a5a" opacity="0.10"/><ellipse transform="translate(628.4 258) rotate(0)" rx="1.8" ry="2.4" fill="#5a6cff" opacity="0.30"/><ellipse transform="translate(628.4 254.3) rotate(0)" rx="1.8" ry="2.4" fill="#ff5a5a" opacity="0.17"/><ellipse transform="translate(628.4 250.6) rotate(0)" rx="1.8" ry="2.4" fill="#5a6cff" opacity="0.07"/><ellipse transform="translate(634.7 266.7) rotate(119.9)" rx="1.8" ry="2.4" fill="#ff5a5a" opacity="0.42"/><ellipse transform="translate(637.9 268.5) rotate(119.9)" rx="1.8" ry="2.4" fill="#5a6cff" opacity="0.24"/><ellipse transform="translate(641.1 270.3) rotate(119.9)" rx="1.8" ry="2.4" fill="#ff5a5a" opacity="0.10"/><ellipse transform="translate(625.1 261.1) rotate(119.9)" rx="1.8" ry="2.4" fill="#5a6cff" opacity="0.26"/><ellipse transform="translate(621.9 259.3) rotate(119.9)" rx="1.8" ry="2.4" fill="#ff5a5a" opacity="0.15"/><ellipse transform="translate(618.7 257.5) rotate(119.9)" rx="1.8" ry="2.4" fill="#5a6cff" opacity="0.06"/><ellipse transform="translate(633.6 268.7) rotate(119.9)" rx="1.8" ry="2.4" fill="#5a6cff" opacity="0.42"/><ellipse transform="translate(636.8 270.5) rotate(119.9)" rx="1.8" ry="2.4" fill="#ff5a5a" opacity="0.24"/><ellipse transform="translate(640 272.3) rotate(119.9)" rx="1.8" ry="2.4" fill="#5a6cff" opacity="0.10"/><ellipse transform="translate(623.9 263.1) rotate(119.9)" rx="1.8" ry="2.4" fill="#ff5a5a" opacity="0.26"/><ellipse transform="translate(620.7 261.3) rotate(119.9)" rx="1.8" ry="2.4" fill="#5a6cff" opacity="0.15"/><ellipse transform="translate(617.5 259.4) rotate(119.9)" rx="1.8" ry="2.4" fill="#ff5a5a" opacity="0.06"/><ellipse transform="translate(632.4 270.7) rotate(119.9)" rx="1.8" ry="2.4" fill="#ff5a5a" opacity="0.39"/><ellipse transform="translate(635.6 272.5) rotate(119.9)" rx="1.8" ry="2.4" fill="#5a6cff" opacity="0.23"/><ellipse transform="translate(638.8 274.3) rotate(119.9)" rx="1.8" ry="2.4" fill="#ff5a5a" opacity="0.09"/><ellipse transform="translate(622.8 265.1) rotate(119.9)" rx="1.8" ry="2.4" fill="#5a6cff" opacity="0.33"/><ellipse transform="translate(619.6 263.3) rotate(119.9)" rx="1.8" ry="2.4" fill="#ff5a5a" opacity="0.19"/><ellipse transform="translate(616.4 261.4) rotate(119.9)" rx="1.8" ry="2.4" fill="#5a6cff" opacity="0.08"/><ellipse transform="translate(631.3 272.7) rotate(119.9)" rx="1.8" ry="2.4" fill="#5a6cff" opacity="0.35"/><ellipse transform="translate(634.5 274.5) rotate(119.9)" rx="1.8" ry="2.4" fill="#ff5a5a" opacity="0.20"/><ellipse transform="translate(637.7 276.3) rotate(119.9)" rx="1.8" ry="2.4" fill="#5a6cff" opacity="0.08"/><ellipse transform="translate(621.6 267.1) rotate(119.9)" rx="1.8" ry="2.4" fill="#ff5a5a" opacity="0.38"/><ellipse transform="translate(618.4 265.3) rotate(119.9)" rx="1.8" ry="2.4" fill="#5a6cff" opacity="0.21"/><ellipse transform="translate(615.2 263.4) rotate(119.9)" rx="1.8" ry="2.4" fill="#ff5a5a" opacity="0.09"/><ellipse transform="translate(630.2 274.7) rotate(119.9)" rx="1.8" ry="2.4" fill="#ff5a5a" opacity="0.30"/><ellipse transform="translate(633.3 276.5) rotate(119.9)" rx="1.8" ry="2.4" fill="#5a6cff" opacity="0.17"/><ellipse transform="translate(636.5 278.3) rotate(119.9)" rx="1.8" ry="2.4" fill="#ff5a5a" opacity="0.07"/><ellipse transform="translate(620.5 269.1) rotate(119.9)" rx="1.8" ry="2.4" fill="#5a6cff" opacity="0.41"/><ellipse transform="translate(617.3 267.3) rotate(119.9)" rx="1.8" ry="2.4" fill="#ff5a5a" opacity="0.23"/><ellipse transform="translate(614.1 265.4) rotate(119.9)" rx="1.8" ry="2.4" fill="#5a6cff" opacity="0.10"/><ellipse transform="translate(629 276.7) rotate(119.9)" rx="1.8" ry="2.4" fill="#5a6cff" opacity="0.23"/><ellipse transform="translate(632.2 278.5) rotate(119.9)" rx="1.8" ry="2.4" fill="#ff5a5a" opacity="0.13"/><ellipse transform="translate(635.4 280.3) rotate(119.9)" rx="1.8" ry="2.4" fill="#5a6cff" opacity="0.06"/><ellipse transform="translate(619.3 271.1) rotate(119.9)" rx="1.8" ry="2.4" fill="#ff5a5a" opacity="0.42"/><ellipse transform="translate(616.1 269.3) rotate(119.9)" rx="1.8" ry="2.4" fill="#5a6cff" opacity="0.24"/><ellipse transform="translate(613 267.4) rotate(119.9)" rx="1.8" ry="2.4" fill="#ff5a5a" opacity="0.10"/><ellipse transform="translate(627.9 278.6) rotate(119.9)" rx="1.8" ry="2.4" fill="#ff5a5a" opacity="0.29"/><ellipse transform="translate(631.1 280.5) rotate(119.9)" rx="1.8" ry="2.4" fill="#5a6cff" opacity="0.17"/><ellipse transform="translate(634.2 282.3) rotate(119.9)" rx="1.8" ry="2.4" fill="#ff5a5a" opacity="0.07"/><ellipse transform="translate(618.2 273.1) rotate(119.9)" rx="1.8" ry="2.4" fill="#5a6cff" opacity="0.41"/><ellipse transform="translate(615 271.3) rotate(119.9)" rx="1.8" ry="2.4" fill="#ff5a5a" opacity="0.23"/><ellipse transform="translate(611.8 269.4) rotate(119.9)" rx="1.8" ry="2.4" fill="#5a6cff" opacity="0.10"/><ellipse transform="translate(626.7 280.6) rotate(119.9)" rx="1.8" ry="2.4" fill="#5a6cff" opacity="0.35"/><ellipse transform="translate(629.9 282.5) rotate(119.9)" rx="1.8" ry="2.4" fill="#ff5a5a" opacity="0.20"/><ellipse transform="translate(633.1 284.3) rotate(119.9)" rx="1.8" ry="2.4" fill="#5a6cff" opacity="0.08"/><ellipse transform="translate(617 275.1) rotate(119.9)" rx="1.8" ry="2.4" fill="#ff5a5a" opacity="0.38"/><ellipse transform="translate(613.9 273.2) rotate(119.9)" rx="1.8" ry="2.4" fill="#5a6cff" opacity="0.22"/><ellipse transform="translate(610.7 271.4) rotate(119.9)" rx="1.8" ry="2.4" fill="#ff5a5a" opacity="0.09"/><ellipse transform="translate(625.6 282.6) rotate(119.9)" rx="1.8" ry="2.4" fill="#ff5a5a" opacity="0.39"/><ellipse transform="translate(628.8 284.5) rotate(119.9)" rx="1.8" ry="2.4" fill="#5a6cff" opacity="0.22"/><ellipse transform="translate(632 286.3) rotate(119.9)" rx="1.8" ry="2.4" fill="#ff5a5a" opacity="0.09"/><ellipse transform="translate(615.9 277.1) rotate(119.9)" rx="1.8" ry="2.4" fill="#5a6cff" opacity="0.33"/><ellipse transform="translate(612.7 275.2) rotate(119.9)" rx="1.8" ry="2.4" fill="#ff5a5a" opacity="0.19"/><ellipse transform="translate(609.5 273.4) rotate(119.9)" rx="1.8" ry="2.4" fill="#5a6cff" opacity="0.08"/><ellipse transform="translate(624.4 284.6) rotate(119.9)" rx="1.8" ry="2.4" fill="#5a6cff" opacity="0.42"/><ellipse transform="translate(627.6 286.5) rotate(119.9)" rx="1.8" ry="2.4" fill="#ff5a5a" opacity="0.24"/><ellipse transform="translate(630.8 288.3) rotate(119.9)" rx="1.8" ry="2.4" fill="#5a6cff" opacity="0.10"/><ellipse transform="translate(614.8 279.1) rotate(119.9)" rx="1.8" ry="2.4" fill="#ff5a5a" opacity="0.27"/><ellipse transform="translate(611.6 277.2) rotate(119.9)" rx="1.8" ry="2.4" fill="#5a6cff" opacity="0.15"/><ellipse transform="translate(608.4 275.4) rotate(119.9)" rx="1.8" ry="2.4" fill="#ff5a5a" opacity="0.06"/><ellipse transform="translate(623.3 286.6) rotate(119.9)" rx="1.8" ry="2.4" fill="#ff5a5a" opacity="0.42"/><ellipse transform="translate(626.5 288.5) rotate(119.9)" rx="1.8" ry="2.4" fill="#5a6cff" opacity="0.24"/><ellipse transform="translate(629.7 290.3) rotate(119.9)" rx="1.8" ry="2.4" fill="#ff5a5a" opacity="0.10"/><ellipse transform="translate(613.6 281.1) rotate(119.9)" rx="1.8" ry="2.4" fill="#5a6cff" opacity="0.26"/><ellipse transform="translate(610.4 279.2) rotate(119.9)" rx="1.8" ry="2.4" fill="#ff5a5a" opacity="0.15"/><ellipse transform="translate(607.2 277.4) rotate(119.9)" rx="1.8" ry="2.4" fill="#5a6cff" opacity="0.06"/><ellipse transform="translate(622.1 288.6) rotate(119.9)" rx="1.8" ry="2.4" fill="#5a6cff" opacity="0.40"/><ellipse transform="translate(625.3 290.5) rotate(119.9)" rx="1.8" ry="2.4" fill="#ff5a5a" opacity="0.23"/><ellipse transform="translate(628.5 292.3) rotate(119.9)" rx="1.8" ry="2.4" fill="#5a6cff" opacity="0.09"/><ellipse transform="translate(612.5 283.1) rotate(119.9)" rx="1.8" ry="2.4" fill="#ff5a5a" opacity="0.32"/><ellipse transform="translate(609.3 281.2) rotate(119.9)" rx="1.8" ry="2.4" fill="#5a6cff" opacity="0.18"/><ellipse transform="translate(606.1 279.4) rotate(119.9)" rx="1.8" ry="2.4" fill="#ff5a5a" opacity="0.08"/><ellipse transform="translate(621 290.6) rotate(119.9)" rx="1.8" ry="2.4" fill="#ff5a5a" opacity="0.36"/><ellipse transform="translate(624.2 292.4) rotate(119.9)" rx="1.8" ry="2.4" fill="#5a6cff" opacity="0.21"/><ellipse transform="translate(627.4 294.3) rotate(119.9)" rx="1.8" ry="2.4" fill="#ff5a5a" opacity="0.09"/><ellipse transform="translate(611.3 285.1) rotate(119.9)" rx="1.8" ry="2.4" fill="#5a6cff" opacity="0.37"/><ellipse transform="translate(608.1 283.2) rotate(119.9)" rx="1.8" ry="2.4" fill="#ff5a5a" opacity="0.21"/><ellipse transform="translate(604.9 281.4) rotate(119.9)" rx="1.8" ry="2.4" fill="#5a6cff" opacity="0.09"/><ellipse transform="translate(619.8 292.6) rotate(119.9)" rx="1.8" ry="2.4" fill="#5a6cff" opacity="0.31"/><ellipse transform="translate(623 294.4) rotate(119.9)" rx="1.8" ry="2.4" fill="#ff5a5a" opacity="0.17"/><ellipse transform="translate(626.2 296.3) rotate(119.9)" rx="1.8" ry="2.4" fill="#5a6cff" opacity="0.07"/><ellipse transform="translate(610.2 287) rotate(119.9)" rx="1.8" ry="2.4" fill="#ff5a5a" opacity="0.40"/><ellipse transform="translate(607 285.2) rotate(119.9)" rx="1.8" ry="2.4" fill="#5a6cff" opacity="0.23"/><ellipse transform="translate(603.8 283.4) rotate(119.9)" rx="1.8" ry="2.4" fill="#ff5a5a" opacity="0.10"/><ellipse transform="translate(618.7 294.6) rotate(119.9)" rx="1.8" ry="2.4" fill="#ff5a5a" opacity="0.24"/><ellipse transform="translate(621.9 296.4) rotate(119.9)" rx="1.8" ry="2.4" fill="#5a6cff" opacity="0.14"/><ellipse transform="translate(625.1 298.3) rotate(119.9)" rx="1.8" ry="2.4" fill="#ff5a5a" opacity="0.06"/><ellipse transform="translate(609 289) rotate(119.9)" rx="1.8" ry="2.4" fill="#5a6cff" opacity="0.42"/><ellipse transform="translate(605.8 287.2) rotate(119.9)" rx="1.8" ry="2.4" fill="#ff5a5a" opacity="0.24"/><ellipse transform="translate(602.6 285.4) rotate(119.9)" rx="1.8" ry="2.4" fill="#5a6cff" opacity="0.10"/><ellipse transform="translate(617.6 296.6) rotate(119.9)" rx="1.8" ry="2.4" fill="#5a6cff" opacity="0.28"/><ellipse transform="translate(620.7 298.4) rotate(119.9)" rx="1.8" ry="2.4" fill="#ff5a5a" opacity="0.16"/><ellipse transform="translate(623.9 300.3) rotate(119.9)" rx="1.8" ry="2.4" fill="#5a6cff" opacity="0.07"/><ellipse transform="translate(607.9 291) rotate(119.9)" rx="1.8" ry="2.4" fill="#ff5a5a" opacity="0.41"/><ellipse transform="translate(604.7 289.2) rotate(119.9)" rx="1.8" ry="2.4" fill="#5a6cff" opacity="0.24"/><ellipse transform="translate(601.5 287.4) rotate(119.9)" rx="1.8" ry="2.4" fill="#ff5a5a" opacity="0.10"/><ellipse transform="translate(616.4 298.6) rotate(119.9)" rx="1.8" ry="2.4" fill="#ff5a5a" opacity="0.34"/><ellipse transform="translate(619.6 300.4) rotate(119.9)" rx="1.8" ry="2.4" fill="#5a6cff" opacity="0.20"/><ellipse transform="translate(622.8 302.3) rotate(119.9)" rx="1.8" ry="2.4" fill="#ff5a5a" opacity="0.08"/><ellipse transform="translate(606.7 293) rotate(119.9)" rx="1.8" ry="2.4" fill="#5a6cff" opacity="0.38"/><ellipse transform="translate(603.5 291.2) rotate(119.9)" rx="1.8" ry="2.4" fill="#ff5a5a" opacity="0.22"/><ellipse transform="translate(600.3 289.4) rotate(119.9)" rx="1.8" ry="2.4" fill="#5a6cff" opacity="0.09"/><ellipse transform="translate(615.3 300.6) rotate(119.9)" rx="1.8" ry="2.4" fill="#5a6cff" opacity="0.39"/><ellipse transform="translate(618.5 302.4) rotate(119.9)" rx="1.8" ry="2.4" fill="#ff5a5a" opacity="0.22"/><ellipse transform="translate(621.6 304.2) rotate(119.9)" rx="1.8" ry="2.4" fill="#5a6cff" opacity="0.09"/><ellipse transform="translate(605.6 295) rotate(119.9)" rx="1.8" ry="2.4" fill="#ff5a5a" opacity="0.34"/><ellipse transform="translate(602.4 293.2) rotate(119.9)" rx="1.8" ry="2.4" fill="#5a6cff" opacity="0.19"/><ellipse transform="translate(599.2 291.4) rotate(119.9)" rx="1.8" ry="2.4" fill="#ff5a5a" opacity="0.08"/><ellipse transform="translate(614.1 302.6) rotate(119.9)" rx="1.8" ry="2.4" fill="#ff5a5a" opacity="0.41"/><ellipse transform="translate(617.3 304.4) rotate(119.9)" rx="1.8" ry="2.4" fill="#5a6cff" opacity="0.24"/><ellipse transform="translate(620.5 306.2) rotate(119.9)" rx="1.8" ry="2.4" fill="#ff5a5a" opacity="0.10"/><ellipse transform="translate(604.4 297) rotate(119.9)" rx="1.8" ry="2.4" fill="#5a6cff" opacity="0.28"/><ellipse transform="translate(601.2 295.2) rotate(119.9)" rx="1.8" ry="2.4" fill="#ff5a5a" opacity="0.16"/><ellipse transform="translate(598.1 293.4) rotate(119.9)" rx="1.8" ry="2.4" fill="#5a6cff" opacity="0.07"/><ellipse transform="translate(613 304.6) rotate(119.9)" rx="1.8" ry="2.4" fill="#5a6cff" opacity="0.42"/><ellipse transform="translate(616.2 306.4) rotate(119.9)" rx="1.8" ry="2.4" fill="#ff5a5a" opacity="0.24"/><ellipse transform="translate(619.4 308.2) rotate(119.9)" rx="1.8" ry="2.4" fill="#5a6cff" opacity="0.10"/><ellipse transform="translate(603.3 299) rotate(119.9)" rx="1.8" ry="2.4" fill="#ff5a5a" opacity="0.25"/><ellipse transform="translate(600.1 297.2) rotate(119.9)" rx="1.8" ry="2.4" fill="#5a6cff" opacity="0.14"/><ellipse transform="translate(596.9 295.3) rotate(119.9)" rx="1.8" ry="2.4" fill="#ff5a5a" opacity="0.06"/><ellipse transform="translate(611.8 306.6) rotate(119.9)" rx="1.8" ry="2.4" fill="#ff5a5a" opacity="0.40"/><ellipse transform="translate(615 308.4) rotate(119.9)" rx="1.8" ry="2.4" fill="#5a6cff" opacity="0.23"/><ellipse transform="translate(618.2 310.2) rotate(119.9)" rx="1.8" ry="2.4" fill="#ff5a5a" opacity="0.10"/><ellipse transform="translate(602.1 301) rotate(119.9)" rx="1.8" ry="2.4" fill="#5a6cff" opacity="0.31"/><ellipse transform="translate(599 299.2) rotate(119.9)" rx="1.8" ry="2.4" fill="#ff5a5a" opacity="0.18"/><ellipse transform="translate(595.8 297.3) rotate(119.9)" rx="1.8" ry="2.4" fill="#5a6cff" opacity="0.07"/><ellipse transform="translate(610.7 308.6) rotate(119.9)" rx="1.8" ry="2.4" fill="#5a6cff" opacity="0.37"/><ellipse transform="translate(613.9 310.4) rotate(119.9)" rx="1.8" ry="2.4" fill="#ff5a5a" opacity="0.21"/><ellipse transform="translate(617.1 312.2) rotate(119.9)" rx="1.8" ry="2.4" fill="#5a6cff" opacity="0.09"/><ellipse transform="translate(601 303) rotate(119.9)" rx="1.8" ry="2.4" fill="#ff5a5a" opacity="0.36"/><ellipse transform="translate(597.8 301.2) rotate(119.9)" rx="1.8" ry="2.4" fill="#5a6cff" opacity="0.21"/><ellipse transform="translate(594.6 299.3) rotate(119.9)" rx="1.8" ry="2.4" fill="#ff5a5a" opacity="0.09"/><ellipse transform="translate(609.5 310.6) rotate(119.9)" rx="1.8" ry="2.4" fill="#ff5a5a" opacity="0.31"/><ellipse transform="translate(612.7 312.4) rotate(119.9)" rx="1.8" ry="2.4" fill="#5a6cff" opacity="0.18"/><ellipse transform="translate(615.9 314.2) rotate(119.9)" rx="1.8" ry="2.4" fill="#ff5a5a" opacity="0.07"/><ellipse transform="translate(599.9 305) rotate(119.9)" rx="1.8" ry="2.4" fill="#5a6cff" opacity="0.40"/><ellipse transform="translate(596.7 303.2) rotate(119.9)" rx="1.8" ry="2.4" fill="#ff5a5a" opacity="0.23"/><ellipse transform="translate(593.5 301.3) rotate(119.9)" rx="1.8" ry="2.4" fill="#5a6cff" opacity="0.10"/><ellipse transform="translate(608.4 312.5) rotate(119.9)" rx="1.8" ry="2.4" fill="#5a6cff" opacity="0.25"/><ellipse transform="translate(611.6 314.4) rotate(119.9)" rx="1.8" ry="2.4" fill="#ff5a5a" opacity="0.14"/><ellipse transform="translate(614.8 316.2) rotate(119.9)" rx="1.8" ry="2.4" fill="#5a6cff" opacity="0.06"/><ellipse transform="translate(598.7 307) rotate(119.9)" rx="1.8" ry="2.4" fill="#ff5a5a" opacity="0.42"/><ellipse transform="translate(595.5 305.2) rotate(119.9)" rx="1.8" ry="2.4" fill="#5a6cff" opacity="0.24"/><ellipse transform="translate(592.3 303.3) rotate(119.9)" rx="1.8" ry="2.4" fill="#ff5a5a" opacity="0.10"/><ellipse transform="translate(607.2 314.5) rotate(119.9)" rx="1.8" ry="2.4" fill="#ff5a5a" opacity="0.28"/><ellipse transform="translate(610.4 316.4) rotate(119.9)" rx="1.8" ry="2.4" fill="#5a6cff" opacity="0.16"/><ellipse transform="translate(613.6 318.2) rotate(119.9)" rx="1.8" ry="2.4" fill="#ff5a5a" opacity="0.07"/><ellipse transform="translate(597.6 309) rotate(119.9)" rx="1.8" ry="2.4" fill="#5a6cff" opacity="0.41"/><ellipse transform="translate(594.4 307.2) rotate(119.9)" rx="1.8" ry="2.4" fill="#ff5a5a" opacity="0.24"/><ellipse transform="translate(591.2 305.3) rotate(119.9)" rx="1.8" ry="2.4" fill="#5a6cff" opacity="0.10"/><ellipse transform="translate(606.1 316.5) rotate(119.9)" rx="1.8" ry="2.4" fill="#5a6cff" opacity="0.34"/><ellipse transform="translate(609.3 318.4) rotate(119.9)" rx="1.8" ry="2.4" fill="#ff5a5a" opacity="0.19"/><ellipse transform="translate(612.5 320.2) rotate(119.9)" rx="1.8" ry="2.4" fill="#5a6cff" opacity="0.08"/><ellipse transform="translate(596.4 311) rotate(119.9)" rx="1.8" ry="2.4" fill="#ff5a5a" opacity="0.39"/><ellipse transform="translate(593.2 309.1) rotate(119.9)" rx="1.8" ry="2.4" fill="#5a6cff" opacity="0.22"/><ellipse transform="translate(590 307.3) rotate(119.9)" rx="1.8" ry="2.4" fill="#ff5a5a" opacity="0.09"/><ellipse transform="translate(605 318.5) rotate(119.9)" rx="1.8" ry="2.4" fill="#ff5a5a" opacity="0.38"/><ellipse transform="translate(608.1 320.4) rotate(119.9)" rx="1.8" ry="2.4" fill="#5a6cff" opacity="0.22"/><ellipse transform="translate(611.3 322.2) rotate(119.9)" rx="1.8" ry="2.4" fill="#ff5a5a" opacity="0.09"/><ellipse transform="translate(595.3 313) rotate(119.9)" rx="1.8" ry="2.4" fill="#5a6cff" opacity="0.34"/><ellipse transform="translate(592.1 311.1) rotate(119.9)" rx="1.8" ry="2.4" fill="#ff5a5a" opacity="0.20"/><ellipse transform="translate(588.9 309.3) rotate(119.9)" rx="1.8" ry="2.4" fill="#5a6cff" opacity="0.08"/><ellipse transform="translate(603.8 320.5) rotate(119.9)" rx="1.8" ry="2.4" fill="#5a6cff" opacity="0.41"/><ellipse transform="translate(607 322.4) rotate(119.9)" rx="1.8" ry="2.4" fill="#ff5a5a" opacity="0.24"/><ellipse transform="translate(610.2 324.2) rotate(119.9)" rx="1.8" ry="2.4" fill="#5a6cff" opacity="0.10"/><ellipse transform="translate(594.1 315) rotate(119.9)" rx="1.8" ry="2.4" fill="#ff5a5a" opacity="0.29"/><ellipse transform="translate(590.9 313.1) rotate(119.9)" rx="1.8" ry="2.4" fill="#5a6cff" opacity="0.16"/><ellipse transform="translate(587.7 311.3) rotate(119.9)" rx="1.8" ry="2.4" fill="#ff5a5a" opacity="0.07"/><ellipse transform="translate(602.7 322.5) rotate(119.9)" rx="1.8" ry="2.4" fill="#ff5a5a" opacity="0.42"/><ellipse transform="translate(605.9 324.4) rotate(119.9)" rx="1.8" ry="2.4" fill="#5a6cff" opacity="0.24"/><ellipse transform="translate(609 326.2) rotate(119.9)" rx="1.8" ry="2.4" fill="#ff5a5a" opacity="0.10"/><ellipse transform="translate(593 317) rotate(119.9)" rx="1.8" ry="2.4" fill="#5a6cff" opacity="0.24"/><ellipse transform="translate(589.8 315.1) rotate(119.9)" rx="1.8" ry="2.4" fill="#ff5a5a" opacity="0.14"/><ellipse transform="translate(586.6 313.3) rotate(119.9)" rx="1.8" ry="2.4" fill="#5a6cff" opacity="0.06"/><ellipse transform="translate(601.5 324.5) rotate(119.9)" rx="1.8" ry="2.4" fill="#5a6cff" opacity="0.41"/><ellipse transform="translate(604.7 326.3) rotate(119.9)" rx="1.8" ry="2.4" fill="#ff5a5a" opacity="0.23"/><ellipse transform="translate(607.9 328.2) rotate(119.9)" rx="1.8" ry="2.4" fill="#5a6cff" opacity="0.10"/><ellipse transform="translate(591.8 319) rotate(119.9)" rx="1.8" ry="2.4" fill="#ff5a5a" opacity="0.30"/><ellipse transform="translate(588.6 317.1) rotate(119.9)" rx="1.8" ry="2.4" fill="#5a6cff" opacity="0.17"/><ellipse transform="translate(585.5 315.3) rotate(119.9)" rx="1.8" ry="2.4" fill="#ff5a5a" opacity="0.07"/><ellipse transform="translate(600.4 326.5) rotate(119.9)" rx="1.8" ry="2.4" fill="#ff5a5a" opacity="0.37"/><ellipse transform="translate(603.6 328.3) rotate(119.9)" rx="1.8" ry="2.4" fill="#5a6cff" opacity="0.21"/><ellipse transform="translate(606.7 330.2) rotate(119.9)" rx="1.8" ry="2.4" fill="#ff5a5a" opacity="0.09"/><ellipse transform="translate(590.7 321) rotate(119.9)" rx="1.8" ry="2.4" fill="#5a6cff" opacity="0.36"/><ellipse transform="translate(587.5 319.1) rotate(119.9)" rx="1.8" ry="2.4" fill="#ff5a5a" opacity="0.20"/><ellipse transform="translate(584.3 317.3) rotate(119.9)" rx="1.8" ry="2.4" fill="#5a6cff" opacity="0.09"/><ellipse transform="translate(599.2 328.5) rotate(119.9)" rx="1.8" ry="2.4" fill="#5a6cff" opacity="0.32"/><ellipse transform="translate(602.4 330.3) rotate(119.9)" rx="1.8" ry="2.4" fill="#ff5a5a" opacity="0.18"/><ellipse transform="translate(605.6 332.2) rotate(119.9)" rx="1.8" ry="2.4" fill="#5a6cff" opacity="0.08"/><ellipse transform="translate(589.5 322.9) rotate(119.9)" rx="1.8" ry="2.4" fill="#ff5a5a" opacity="0.40"/><ellipse transform="translate(586.4 321.1) rotate(119.9)" rx="1.8" ry="2.4" fill="#5a6cff" opacity="0.23"/><ellipse transform="translate(583.2 319.3) rotate(119.9)" rx="1.8" ry="2.4" fill="#ff5a5a" opacity="0.09"/><ellipse transform="translate(598.1 330.5) rotate(119.9)" rx="1.8" ry="2.4" fill="#ff5a5a" opacity="0.26"/><ellipse transform="translate(601.3 332.3) rotate(119.9)" rx="1.8" ry="2.4" fill="#5a6cff" opacity="0.15"/><ellipse transform="translate(604.5 334.2) rotate(119.9)" rx="1.8" ry="2.4" fill="#ff5a5a" opacity="0.06"/><ellipse transform="translate(588.4 324.9) rotate(119.9)" rx="1.8" ry="2.4" fill="#5a6cff" opacity="0.42"/><ellipse transform="translate(585.2 323.1) rotate(119.9)" rx="1.8" ry="2.4" fill="#ff5a5a" opacity="0.24"/><ellipse transform="translate(582 321.3) rotate(119.9)" rx="1.8" ry="2.4" fill="#5a6cff" opacity="0.10"/><ellipse transform="translate(596.9 332.5) rotate(119.9)" rx="1.8" ry="2.4" fill="#5a6cff" opacity="0.27"/><ellipse transform="translate(600.1 334.3) rotate(119.9)" rx="1.8" ry="2.4" fill="#ff5a5a" opacity="0.15"/><ellipse transform="translate(603.3 336.2) rotate(119.9)" rx="1.8" ry="2.4" fill="#5a6cff" opacity="0.06"/><ellipse transform="translate(587.3 326.9) rotate(119.9)" rx="1.8" ry="2.4" fill="#ff5a5a" opacity="0.42"/><ellipse transform="translate(584.1 325.1) rotate(119.9)" rx="1.8" ry="2.4" fill="#5a6cff" opacity="0.24"/><ellipse transform="translate(580.9 323.3) rotate(119.9)" rx="1.8" ry="2.4" fill="#ff5a5a" opacity="0.10"/><ellipse transform="translate(595.8 334.5) rotate(119.9)" rx="1.8" ry="2.4" fill="#ff5a5a" opacity="0.33"/><ellipse transform="translate(599 336.3) rotate(119.9)" rx="1.8" ry="2.4" fill="#5a6cff" opacity="0.19"/><ellipse transform="translate(602.2 338.2) rotate(119.9)" rx="1.8" ry="2.4" fill="#ff5a5a" opacity="0.08"/><ellipse transform="translate(586.1 328.9) rotate(119.9)" rx="1.8" ry="2.4" fill="#5a6cff" opacity="0.39"/><ellipse transform="translate(582.9 327.1) rotate(119.9)" rx="1.8" ry="2.4" fill="#ff5a5a" opacity="0.22"/><ellipse transform="translate(579.7 325.3) rotate(119.9)" rx="1.8" ry="2.4" fill="#5a6cff" opacity="0.09"/><ellipse transform="translate(594.6 336.5) rotate(119.9)" rx="1.8" ry="2.4" fill="#5a6cff" opacity="0.38"/><ellipse transform="translate(597.8 338.3) rotate(119.9)" rx="1.8" ry="2.4" fill="#ff5a5a" opacity="0.22"/><ellipse transform="translate(601 340.1) rotate(119.9)" rx="1.8" ry="2.4" fill="#5a6cff" opacity="0.09"/><ellipse transform="translate(585 330.9) rotate(119.9)" rx="1.8" ry="2.4" fill="#ff5a5a" opacity="0.35"/><ellipse transform="translate(581.8 329.1) rotate(119.9)" rx="1.8" ry="2.4" fill="#5a6cff" opacity="0.20"/><ellipse transform="translate(578.6 327.3) rotate(119.9)" rx="1.8" ry="2.4" fill="#ff5a5a" opacity="0.08"/><ellipse transform="translate(593.5 338.5) rotate(119.9)" rx="1.8" ry="2.4" fill="#ff5a5a" opacity="0.41"/><ellipse transform="translate(596.7 340.3) rotate(119.9)" rx="1.8" ry="2.4" fill="#5a6cff" opacity="0.23"/><ellipse transform="translate(599.9 342.1) rotate(119.9)" rx="1.8" ry="2.4" fill="#ff5a5a" opacity="0.10"/><ellipse transform="translate(583.8 332.9) rotate(119.9)" rx="1.8" ry="2.4" fill="#5a6cff" opacity="0.29"/><ellipse transform="translate(580.6 331.1) rotate(119.9)" rx="1.8" ry="2.4" fill="#ff5a5a" opacity="0.17"/><ellipse transform="translate(577.4 329.3) rotate(119.9)" rx="1.8" ry="2.4" fill="#5a6cff" opacity="0.07"/><ellipse transform="translate(592.3 340.5) rotate(119.9)" rx="1.8" ry="2.4" fill="#5a6cff" opacity="0.42"/><ellipse transform="translate(595.5 342.3) rotate(119.9)" rx="1.8" ry="2.4" fill="#ff5a5a" opacity="0.24"/><ellipse transform="translate(598.7 344.1) rotate(119.9)" rx="1.8" ry="2.4" fill="#5a6cff" opacity="0.10"/><ellipse transform="translate(582.7 334.9) rotate(119.9)" rx="1.8" ry="2.4" fill="#ff5a5a" opacity="0.23"/><ellipse transform="translate(579.5 333.1) rotate(119.9)" rx="1.8" ry="2.4" fill="#5a6cff" opacity="0.13"/><ellipse transform="translate(576.3 331.2) rotate(119.9)" rx="1.8" ry="2.4" fill="#ff5a5a" opacity="0.06"/><ellipse transform="translate(591.2 342.5) rotate(119.9)" rx="1.8" ry="2.4" fill="#ff5a5a" opacity="0.41"/><ellipse transform="translate(594.4 344.3) rotate(119.9)" rx="1.8" ry="2.4" fill="#5a6cff" opacity="0.23"/><ellipse transform="translate(597.6 346.1) rotate(119.9)" rx="1.8" ry="2.4" fill="#ff5a5a" opacity="0.10"/><ellipse transform="translate(581.5 336.9) rotate(119.9)" rx="1.8" ry="2.4" fill="#5a6cff" opacity="0.29"/><ellipse transform="translate(578.3 335.1) rotate(119.9)" rx="1.8" ry="2.4" fill="#ff5a5a" opacity="0.17"/><ellipse transform="translate(575.1 333.2) rotate(119.9)" rx="1.8" ry="2.4" fill="#5a6cff" opacity="0.07"/><ellipse transform="translate(590.1 344.5) rotate(119.9)" rx="1.8" ry="2.4" fill="#5a6cff" opacity="0.38"/><ellipse transform="translate(593.2 346.3) rotate(119.9)" rx="1.8" ry="2.4" fill="#ff5a5a" opacity="0.22"/><ellipse transform="translate(596.4 348.1) rotate(119.9)" rx="1.8" ry="2.4" fill="#5a6cff" opacity="0.09"/><ellipse transform="translate(580.4 338.9) rotate(119.9)" rx="1.8" ry="2.4" fill="#ff5a5a" opacity="0.35"/><ellipse transform="translate(577.2 337.1) rotate(119.9)" rx="1.8" ry="2.4" fill="#5a6cff" opacity="0.20"/><ellipse transform="translate(574 335.2) rotate(119.9)" rx="1.8" ry="2.4" fill="#ff5a5a" opacity="0.08"/><ellipse transform="translate(588.9 346.5) rotate(119.9)" rx="1.8" ry="2.4" fill="#ff5a5a" opacity="0.33"/><ellipse transform="translate(592.1 348.3) rotate(119.9)" rx="1.8" ry="2.4" fill="#5a6cff" opacity="0.19"/><ellipse transform="translate(595.3 350.1) rotate(119.9)" rx="1.8" ry="2.4" fill="#ff5a5a" opacity="0.08"/><ellipse transform="translate(579.2 340.9) rotate(119.9)" rx="1.8" ry="2.4" fill="#5a6cff" opacity="0.39"/><ellipse transform="translate(576 339.1) rotate(119.9)" rx="1.8" ry="2.4" fill="#ff5a5a" opacity="0.22"/><ellipse transform="translate(572.9 337.2) rotate(119.9)" rx="1.8" ry="2.4" fill="#5a6cff" opacity="0.09"/><ellipse transform="translate(584 349.7) rotate(0)" rx="1.8" ry="2.4" fill="#ff5a5a" opacity="0.32"/><ellipse transform="translate(584 353.4) rotate(0)" rx="1.8" ry="2.4" fill="#5a6cff" opacity="0.19"/><ellipse transform="translate(584 357.1) rotate(0)" rx="1.8" ry="2.4" fill="#ff5a5a" opacity="0.08"/><ellipse transform="translate(584 337.9) rotate(0)" rx="1.8" ry="2.4" fill="#5a6cff" opacity="0.40"/><ellipse transform="translate(584 334.2) rotate(0)" rx="1.8" ry="2.4" fill="#ff5a5a" opacity="0.23"/><ellipse transform="translate(584 330.5) rotate(0)" rx="1.8" ry="2.4" fill="#5a6cff" opacity="0.09"/><ellipse transform="translate(586.3 349.7) rotate(0)" rx="1.8" ry="2.4" fill="#5a6cff" opacity="0.26"/><ellipse transform="translate(586.3 353.4) rotate(0)" rx="1.8" ry="2.4" fill="#ff5a5a" opacity="0.15"/><ellipse transform="translate(586.3 357.1) rotate(0)" rx="1.8" ry="2.4" fill="#5a6cff" opacity="0.06"/><ellipse transform="translate(586.3 337.9) rotate(0)" rx="1.8" ry="2.4" fill="#ff5a5a" opacity="0.42"/><ellipse transform="translate(586.3 334.2) rotate(0)" rx="1.8" ry="2.4" fill="#5a6cff" opacity="0.24"/><ellipse transform="translate(586.3 330.5) rotate(0)" rx="1.8" ry="2.4" fill="#ff5a5a" opacity="0.10"/><ellipse transform="translate(588.6 349.7) rotate(0)" rx="1.8" ry="2.4" fill="#ff5a5a" opacity="0.26"/><ellipse transform="translate(588.6 353.4) rotate(0)" rx="1.8" ry="2.4" fill="#5a6cff" opacity="0.15"/><ellipse transform="translate(588.6 357.1) rotate(0)" rx="1.8" ry="2.4" fill="#ff5a5a" opacity="0.06"/><ellipse transform="translate(588.6 337.9) rotate(0)" rx="1.8" ry="2.4" fill="#5a6cff" opacity="0.42"/><ellipse transform="translate(588.6 334.2) rotate(0)" rx="1.8" ry="2.4" fill="#ff5a5a" opacity="0.24"/><ellipse transform="translate(588.6 330.5) rotate(0)" rx="1.8" ry="2.4" fill="#5a6cff" opacity="0.10"/><ellipse transform="translate(590.9 349.7) rotate(0)" rx="1.8" ry="2.4" fill="#5a6cff" opacity="0.32"/><ellipse transform="translate(590.9 353.4) rotate(0)" rx="1.8" ry="2.4" fill="#ff5a5a" opacity="0.19"/><ellipse transform="translate(590.9 357.1) rotate(0)" rx="1.8" ry="2.4" fill="#5a6cff" opacity="0.08"/><ellipse transform="translate(590.9 337.9) rotate(0)" rx="1.8" ry="2.4" fill="#ff5a5a" opacity="0.40"/><ellipse transform="translate(590.9 334.2) rotate(0)" rx="1.8" ry="2.4" fill="#5a6cff" opacity="0.23"/><ellipse transform="translate(590.9 330.5) rotate(0)" rx="1.8" ry="2.4" fill="#ff5a5a" opacity="0.09"/><ellipse transform="translate(593.2 349.7) rotate(0)" rx="1.8" ry="2.4" fill="#ff5a5a" opacity="0.37"/><ellipse transform="translate(593.2 353.4) rotate(0)" rx="1.8" ry="2.4" fill="#5a6cff" opacity="0.21"/><ellipse transform="translate(593.2 357.1) rotate(0)" rx="1.8" ry="2.4" fill="#ff5a5a" opacity="0.09"/><ellipse transform="translate(593.2 337.9) rotate(0)" rx="1.8" ry="2.4" fill="#5a6cff" opacity="0.35"/><ellipse transform="translate(593.2 334.2) rotate(0)" rx="1.8" ry="2.4" fill="#ff5a5a" opacity="0.20"/><ellipse transform="translate(593.2 330.5) rotate(0)" rx="1.8" ry="2.4" fill="#5a6cff" opacity="0.08"/><ellipse transform="translate(595.5 349.7) rotate(0)" rx="1.8" ry="2.4" fill="#5a6cff" opacity="0.41"/><ellipse transform="translate(595.5 353.4) rotate(0)" rx="1.8" ry="2.4" fill="#ff5a5a" opacity="0.23"/><ellipse transform="translate(595.5 357.1) rotate(0)" rx="1.8" ry="2.4" fill="#5a6cff" opacity="0.10"/><ellipse transform="translate(595.5 337.9) rotate(0)" rx="1.8" ry="2.4" fill="#ff5a5a" opacity="0.30"/><ellipse transform="translate(595.5 334.2) rotate(0)" rx="1.8" ry="2.4" fill="#5a6cff" opacity="0.17"/><ellipse transform="translate(595.5 330.5) rotate(0)" rx="1.8" ry="2.4" fill="#ff5a5a" opacity="0.07"/><ellipse transform="translate(597.8 349.7) rotate(0)" rx="1.8" ry="2.4" fill="#ff5a5a" opacity="0.42"/><ellipse transform="translate(597.8 353.4) rotate(0)" rx="1.8" ry="2.4" fill="#5a6cff" opacity="0.24"/><ellipse transform="translate(597.8 357.1) rotate(0)" rx="1.8" ry="2.4" fill="#ff5a5a" opacity="0.10"/><ellipse transform="translate(597.8 337.9) rotate(0)" rx="1.8" ry="2.4" fill="#5a6cff" opacity="0.24"/><ellipse transform="translate(597.8 334.2) rotate(0)" rx="1.8" ry="2.4" fill="#ff5a5a" opacity="0.13"/><ellipse transform="translate(597.8 330.5) rotate(0)" rx="1.8" ry="2.4" fill="#5a6cff" opacity="0.06"/><ellipse transform="translate(600.1 349.7) rotate(0)" rx="1.8" ry="2.4" fill="#5a6cff" opacity="0.41"/><ellipse transform="translate(600.1 353.4) rotate(0)" rx="1.8" ry="2.4" fill="#ff5a5a" opacity="0.23"/><ellipse transform="translate(600.1 357.1) rotate(0)" rx="1.8" ry="2.4" fill="#5a6cff" opacity="0.10"/><ellipse transform="translate(600.1 337.9) rotate(0)" rx="1.8" ry="2.4" fill="#ff5a5a" opacity="0.29"/><ellipse transform="translate(600.1 334.2) rotate(0)" rx="1.8" ry="2.4" fill="#5a6cff" opacity="0.17"/><ellipse transform="translate(600.1 330.5) rotate(0)" rx="1.8" ry="2.4" fill="#ff5a5a" opacity="0.07"/><ellipse transform="translate(602.4 349.7) rotate(0)" rx="1.8" ry="2.4" fill="#ff5a5a" opacity="0.38"/><ellipse transform="translate(602.4 353.4) rotate(0)" rx="1.8" ry="2.4" fill="#5a6cff" opacity="0.22"/><ellipse transform="translate(602.4 357.1) rotate(0)" rx="1.8" ry="2.4" fill="#ff5a5a" opacity="0.09"/><ellipse transform="translate(602.4 337.9) rotate(0)" rx="1.8" ry="2.4" fill="#5a6cff" opacity="0.35"/><ellipse transform="translate(602.4 334.2) rotate(0)" rx="1.8" ry="2.4" fill="#ff5a5a" opacity="0.20"/><ellipse transform="translate(602.4 330.5) rotate(0)" rx="1.8" ry="2.4" fill="#5a6cff" opacity="0.08"/><ellipse transform="translate(604.7 349.7) rotate(0)" rx="1.8" ry="2.4" fill="#5a6cff" opacity="0.33"/><ellipse transform="translate(604.7 353.4) rotate(0)" rx="1.8" ry="2.4" fill="#ff5a5a" opacity="0.19"/><ellipse transform="translate(604.7 357.1) rotate(0)" rx="1.8" ry="2.4" fill="#5a6cff" opacity="0.08"/><ellipse transform="translate(604.7 337.9) rotate(0)" rx="1.8" ry="2.4" fill="#ff5a5a" opacity="0.39"/><ellipse transform="translate(604.7 334.2) rotate(0)" rx="1.8" ry="2.4" fill="#5a6cff" opacity="0.22"/><ellipse transform="translate(604.7 330.5) rotate(0)" rx="1.8" ry="2.4" fill="#ff5a5a" opacity="0.09"/><ellipse transform="translate(607 349.7) rotate(0)" rx="1.8" ry="2.4" fill="#ff5a5a" opacity="0.27"/><ellipse transform="translate(607 353.4) rotate(0)" rx="1.8" ry="2.4" fill="#5a6cff" opacity="0.16"/><ellipse transform="translate(607 357.1) rotate(0)" rx="1.8" ry="2.4" fill="#ff5a5a" opacity="0.06"/><ellipse transform="translate(607 337.9) rotate(0)" rx="1.8" ry="2.4" fill="#5a6cff" opacity="0.42"/><ellipse transform="translate(607 334.2) rotate(0)" rx="1.8" ry="2.4" fill="#ff5a5a" opacity="0.24"/><ellipse transform="translate(607 330.5) rotate(0)" rx="1.8" ry="2.4" fill="#5a6cff" opacity="0.10"/><ellipse transform="translate(609.3 349.7) rotate(0)" rx="1.8" ry="2.4" fill="#5a6cff" opacity="0.25"/><ellipse transform="translate(609.3 353.4) rotate(0)" rx="1.8" ry="2.4" fill="#ff5a5a" opacity="0.15"/><ellipse transform="translate(609.3 357.1) rotate(0)" rx="1.8" ry="2.4" fill="#5a6cff" opacity="0.06"/><ellipse transform="translate(609.3 337.9) rotate(0)" rx="1.8" ry="2.4" fill="#ff5a5a" opacity="0.42"/><ellipse transform="translate(609.3 334.2) rotate(0)" rx="1.8" ry="2.4" fill="#5a6cff" opacity="0.24"/><ellipse transform="translate(609.3 330.5) rotate(0)" rx="1.8" ry="2.4" fill="#ff5a5a" opacity="0.10"/><ellipse transform="translate(611.6 349.7) rotate(0)" rx="1.8" ry="2.4" fill="#ff5a5a" opacity="0.32"/><ellipse transform="translate(611.6 353.4) rotate(0)" rx="1.8" ry="2.4" fill="#5a6cff" opacity="0.18"/><ellipse transform="translate(611.6 357.1) rotate(0)" rx="1.8" ry="2.4" fill="#ff5a5a" opacity="0.08"/><ellipse transform="translate(611.6 337.9) rotate(0)" rx="1.8" ry="2.4" fill="#5a6cff" opacity="0.40"/><ellipse transform="translate(611.6 334.2) rotate(0)" rx="1.8" ry="2.4" fill="#ff5a5a" opacity="0.23"/><ellipse transform="translate(611.6 330.5) rotate(0)" rx="1.8" ry="2.4" fill="#5a6cff" opacity="0.10"/><ellipse transform="translate(613.9 349.7) rotate(0)" rx="1.8" ry="2.4" fill="#5a6cff" opacity="0.37"/><ellipse transform="translate(613.9 353.4) rotate(0)" rx="1.8" ry="2.4" fill="#ff5a5a" opacity="0.21"/><ellipse transform="translate(613.9 357.1) rotate(0)" rx="1.8" ry="2.4" fill="#5a6cff" opacity="0.09"/><ellipse transform="translate(613.9 337.9) rotate(0)" rx="1.8" ry="2.4" fill="#ff5a5a" opacity="0.36"/><ellipse transform="translate(613.9 334.2) rotate(0)" rx="1.8" ry="2.4" fill="#5a6cff" opacity="0.21"/><ellipse transform="translate(613.9 330.5) rotate(0)" rx="1.8" ry="2.4" fill="#ff5a5a" opacity="0.09"/><ellipse transform="translate(616.2 349.7) rotate(0)" rx="1.8" ry="2.4" fill="#ff5a5a" opacity="0.40"/><ellipse transform="translate(616.2 353.4) rotate(0)" rx="1.8" ry="2.4" fill="#5a6cff" opacity="0.23"/><ellipse transform="translate(616.2 357.1) rotate(0)" rx="1.8" ry="2.4" fill="#ff5a5a" opacity="0.10"/><ellipse transform="translate(616.2 337.9) rotate(0)" rx="1.8" ry="2.4" fill="#5a6cff" opacity="0.31"/><ellipse transform="translate(616.2 334.2) rotate(0)" rx="1.8" ry="2.4" fill="#ff5a5a" opacity="0.18"/><ellipse transform="translate(616.2 330.5) rotate(0)" rx="1.8" ry="2.4" fill="#5a6cff" opacity="0.07"/><ellipse transform="translate(618.5 349.7) rotate(0)" rx="1.8" ry="2.4" fill="#5a6cff" opacity="0.42"/><ellipse transform="translate(618.5 353.4) rotate(0)" rx="1.8" ry="2.4" fill="#ff5a5a" opacity="0.24"/><ellipse transform="translate(618.5 357.1) rotate(0)" rx="1.8" ry="2.4" fill="#5a6cff" opacity="0.10"/><ellipse transform="translate(618.5 337.9) rotate(0)" rx="1.8" ry="2.4" fill="#ff5a5a" opacity="0.24"/><ellipse transform="translate(618.5 334.2) rotate(0)" rx="1.8" ry="2.4" fill="#5a6cff" opacity="0.14"/><ellipse transform="translate(618.5 330.5) rotate(0)" rx="1.8" ry="2.4" fill="#ff5a5a" opacity="0.06"/><ellipse transform="translate(620.8 349.7) rotate(0)" rx="1.8" ry="2.4" fill="#ff5a5a" opacity="0.41"/><ellipse transform="translate(620.8 353.4) rotate(0)" rx="1.8" ry="2.4" fill="#5a6cff" opacity="0.24"/><ellipse transform="translate(620.8 357.1) rotate(0)" rx="1.8" ry="2.4" fill="#ff5a5a" opacity="0.10"/><ellipse transform="translate(620.8 337.9) rotate(0)" rx="1.8" ry="2.4" fill="#5a6cff" opacity="0.28"/><ellipse transform="translate(620.8 334.2) rotate(0)" rx="1.8" ry="2.4" fill="#ff5a5a" opacity="0.16"/><ellipse transform="translate(620.8 330.5) rotate(0)" rx="1.8" ry="2.4" fill="#5a6cff" opacity="0.07"/><ellipse transform="translate(623.1 349.7) rotate(0)" rx="1.8" ry="2.4" fill="#5a6cff" opacity="0.38"/><ellipse transform="translate(623.1 353.4) rotate(0)" rx="1.8" ry="2.4" fill="#ff5a5a" opacity="0.22"/><ellipse transform="translate(623.1 357.1) rotate(0)" rx="1.8" ry="2.4" fill="#5a6cff" opacity="0.09"/><ellipse transform="translate(623.1 337.9) rotate(0)" rx="1.8" ry="2.4" fill="#ff5a5a" opacity="0.34"/><ellipse transform="translate(623.1 334.2) rotate(0)" rx="1.8" ry="2.4" fill="#5a6cff" opacity="0.19"/><ellipse transform="translate(623.1 330.5) rotate(0)" rx="1.8" ry="2.4" fill="#ff5a5a" opacity="0.08"/><ellipse transform="translate(625.4 349.7) rotate(0)" rx="1.8" ry="2.4" fill="#ff5a5a" opacity="0.34"/><ellipse transform="translate(625.4 353.4) rotate(0)" rx="1.8" ry="2.4" fill="#5a6cff" opacity="0.19"/><ellipse transform="translate(625.4 357.1) rotate(0)" rx="1.8" ry="2.4" fill="#ff5a5a" opacity="0.08"/><ellipse transform="translate(625.4 337.9) rotate(0)" rx="1.8" ry="2.4" fill="#5a6cff" opacity="0.39"/><ellipse transform="translate(625.4 334.2) rotate(0)" rx="1.8" ry="2.4" fill="#ff5a5a" opacity="0.22"/><ellipse transform="translate(625.4 330.5) rotate(0)" rx="1.8" ry="2.4" fill="#5a6cff" opacity="0.09"/><ellipse transform="translate(627.7 349.7) rotate(0)" rx="1.8" ry="2.4" fill="#5a6cff" opacity="0.28"/><ellipse transform="translate(627.7 353.4) rotate(0)" rx="1.8" ry="2.4" fill="#ff5a5a" opacity="0.16"/><ellipse transform="translate(627.7 357.1) rotate(0)" rx="1.8" ry="2.4" fill="#5a6cff" opacity="0.07"/><ellipse transform="translate(627.7 337.9) rotate(0)" rx="1.8" ry="2.4" fill="#ff5a5a" opacity="0.41"/><ellipse transform="translate(627.7 334.2) rotate(0)" rx="1.8" ry="2.4" fill="#5a6cff" opacity="0.24"/><ellipse transform="translate(627.7 330.5) rotate(0)" rx="1.8" ry="2.4" fill="#ff5a5a" opacity="0.10"/><ellipse transform="translate(630 349.7) rotate(0)" rx="1.8" ry="2.4" fill="#ff5a5a" opacity="0.25"/><ellipse transform="translate(630 353.4) rotate(0)" rx="1.8" ry="2.4" fill="#5a6cff" opacity="0.14"/><ellipse transform="translate(630 357.1) rotate(0)" rx="1.8" ry="2.4" fill="#ff5a5a" opacity="0.06"/><ellipse transform="translate(630 337.9) rotate(0)" rx="1.8" ry="2.4" fill="#5a6cff" opacity="0.42"/><ellipse transform="translate(630 334.2) rotate(0)" rx="1.8" ry="2.4" fill="#ff5a5a" opacity="0.24"/><ellipse transform="translate(630 330.5) rotate(0)" rx="1.8" ry="2.4" fill="#5a6cff" opacity="0.10"/><ellipse transform="translate(632.3 349.7) rotate(0)" rx="1.8" ry="2.4" fill="#5a6cff" opacity="0.31"/><ellipse transform="translate(632.3 353.4) rotate(0)" rx="1.8" ry="2.4" fill="#ff5a5a" opacity="0.18"/><ellipse transform="translate(632.3 357.1) rotate(0)" rx="1.8" ry="2.4" fill="#5a6cff" opacity="0.07"/><ellipse transform="translate(632.3 337.9) rotate(0)" rx="1.8" ry="2.4" fill="#ff5a5a" opacity="0.40"/><ellipse transform="translate(632.3 334.2) rotate(0)" rx="1.8" ry="2.4" fill="#5a6cff" opacity="0.23"/><ellipse transform="translate(632.3 330.5) rotate(0)" rx="1.8" ry="2.4" fill="#ff5a5a" opacity="0.10"/><ellipse transform="translate(634.6 349.7) rotate(0)" rx="1.8" ry="2.4" fill="#ff5a5a" opacity="0.36"/><ellipse transform="translate(634.6 353.4) rotate(0)" rx="1.8" ry="2.4" fill="#5a6cff" opacity="0.21"/><ellipse transform="translate(634.6 357.1) rotate(0)" rx="1.8" ry="2.4" fill="#ff5a5a" opacity="0.09"/><ellipse transform="translate(634.6 337.9) rotate(0)" rx="1.8" ry="2.4" fill="#5a6cff" opacity="0.37"/><ellipse transform="translate(634.6 334.2) rotate(0)" rx="1.8" ry="2.4" fill="#ff5a5a" opacity="0.21"/><ellipse transform="translate(634.6 330.5) rotate(0)" rx="1.8" ry="2.4" fill="#5a6cff" opacity="0.09"/><ellipse transform="translate(636.9 349.7) rotate(0)" rx="1.8" ry="2.4" fill="#5a6cff" opacity="0.40"/><ellipse transform="translate(636.9 353.4) rotate(0)" rx="1.8" ry="2.4" fill="#ff5a5a" opacity="0.23"/><ellipse transform="translate(636.9 357.1) rotate(0)" rx="1.8" ry="2.4" fill="#5a6cff" opacity="0.10"/><ellipse transform="translate(636.9 337.9) rotate(0)" rx="1.8" ry="2.4" fill="#ff5a5a" opacity="0.31"/><ellipse transform="translate(636.9 334.2) rotate(0)" rx="1.8" ry="2.4" fill="#5a6cff" opacity="0.18"/><ellipse transform="translate(636.9 330.5) rotate(0)" rx="1.8" ry="2.4" fill="#ff5a5a" opacity="0.07"/><ellipse transform="translate(639.2 349.7) rotate(0)" rx="1.8" ry="2.4" fill="#ff5a5a" opacity="0.42"/><ellipse transform="translate(639.2 353.4) rotate(0)" rx="1.8" ry="2.4" fill="#5a6cff" opacity="0.24"/><ellipse transform="translate(639.2 357.1) rotate(0)" rx="1.8" ry="2.4" fill="#ff5a5a" opacity="0.10"/><ellipse transform="translate(639.2 337.9) rotate(0)" rx="1.8" ry="2.4" fill="#5a6cff" opacity="0.25"/><ellipse transform="translate(639.2 334.2) rotate(0)" rx="1.8" ry="2.4" fill="#ff5a5a" opacity="0.14"/><ellipse transform="translate(639.2 330.5) rotate(0)" rx="1.8" ry="2.4" fill="#5a6cff" opacity="0.06"/><ellipse transform="translate(641.5 349.7) rotate(0)" rx="1.8" ry="2.4" fill="#5a6cff" opacity="0.41"/><ellipse transform="translate(641.5 353.4) rotate(0)" rx="1.8" ry="2.4" fill="#ff5a5a" opacity="0.24"/><ellipse transform="translate(641.5 357.1) rotate(0)" rx="1.8" ry="2.4" fill="#5a6cff" opacity="0.10"/><ellipse transform="translate(641.5 337.9) rotate(0)" rx="1.8" ry="2.4" fill="#ff5a5a" opacity="0.27"/><ellipse transform="translate(641.5 334.2) rotate(0)" rx="1.8" ry="2.4" fill="#5a6cff" opacity="0.16"/><ellipse transform="translate(641.5 330.5) rotate(0)" rx="1.8" ry="2.4" fill="#ff5a5a" opacity="0.07"/><ellipse transform="translate(643.8 349.7) rotate(0)" rx="1.8" ry="2.4" fill="#ff5a5a" opacity="0.39"/><ellipse transform="translate(643.8 353.4) rotate(0)" rx="1.8" ry="2.4" fill="#5a6cff" opacity="0.22"/><ellipse transform="translate(643.8 357.1) rotate(0)" rx="1.8" ry="2.4" fill="#ff5a5a" opacity="0.09"/><ellipse transform="translate(643.8 337.9) rotate(0)" rx="1.8" ry="2.4" fill="#5a6cff" opacity="0.33"/><ellipse transform="translate(643.8 334.2) rotate(0)" rx="1.8" ry="2.4" fill="#ff5a5a" opacity="0.19"/><ellipse transform="translate(643.8 330.5) rotate(0)" rx="1.8" ry="2.4" fill="#5a6cff" opacity="0.08"/><ellipse transform="translate(646.1 349.7) rotate(0)" rx="1.8" ry="2.4" fill="#5a6cff" opacity="0.35"/><ellipse transform="translate(646.1 353.4) rotate(0)" rx="1.8" ry="2.4" fill="#ff5a5a" opacity="0.20"/><ellipse transform="translate(646.1 357.1) rotate(0)" rx="1.8" ry="2.4" fill="#5a6cff" opacity="0.08"/><ellipse transform="translate(646.1 337.9) rotate(0)" rx="1.8" ry="2.4" fill="#ff5a5a" opacity="0.38"/><ellipse transform="translate(646.1 334.2) rotate(0)" rx="1.8" ry="2.4" fill="#5a6cff" opacity="0.22"/><ellipse transform="translate(646.1 330.5) rotate(0)" rx="1.8" ry="2.4" fill="#ff5a5a" opacity="0.09"/><ellipse transform="translate(648.4 349.7) rotate(0)" rx="1.8" ry="2.4" fill="#ff5a5a" opacity="0.29"/><ellipse transform="translate(648.4 353.4) rotate(0)" rx="1.8" ry="2.4" fill="#5a6cff" opacity="0.16"/><ellipse transform="translate(648.4 357.1) rotate(0)" rx="1.8" ry="2.4" fill="#ff5a5a" opacity="0.07"/><ellipse transform="translate(648.4 337.9) rotate(0)" rx="1.8" ry="2.4" fill="#5a6cff" opacity="0.41"/><ellipse transform="translate(648.4 334.2) rotate(0)" rx="1.8" ry="2.4" fill="#ff5a5a" opacity="0.23"/><ellipse transform="translate(648.4 330.5) rotate(0)" rx="1.8" ry="2.4" fill="#5a6cff" opacity="0.10"/><ellipse transform="translate(650.7 349.7) rotate(0)" rx="1.8" ry="2.4" fill="#5a6cff" opacity="0.24"/><ellipse transform="translate(650.7 353.4) rotate(0)" rx="1.8" ry="2.4" fill="#ff5a5a" opacity="0.14"/><ellipse transform="translate(650.7 357.1) rotate(0)" rx="1.8" ry="2.4" fill="#5a6cff" opacity="0.06"/><ellipse transform="translate(650.7 337.9) rotate(0)" rx="1.8" ry="2.4" fill="#ff5a5a" opacity="0.42"/><ellipse transform="translate(650.7 334.2) rotate(0)" rx="1.8" ry="2.4" fill="#5a6cff" opacity="0.24"/><ellipse transform="translate(650.7 330.5) rotate(0)" rx="1.8" ry="2.4" fill="#ff5a5a" opacity="0.10"/><ellipse transform="translate(653 349.7) rotate(0)" rx="1.8" ry="2.4" fill="#ff5a5a" opacity="0.30"/><ellipse transform="translate(653 353.4) rotate(0)" rx="1.8" ry="2.4" fill="#5a6cff" opacity="0.17"/><ellipse transform="translate(653 357.1) rotate(0)" rx="1.8" ry="2.4" fill="#ff5a5a" opacity="0.07"/><ellipse transform="translate(653 337.9) rotate(0)" rx="1.8" ry="2.4" fill="#5a6cff" opacity="0.41"/><ellipse transform="translate(653 334.2) rotate(0)" rx="1.8" ry="2.4" fill="#ff5a5a" opacity="0.23"/><ellipse transform="translate(653 330.5) rotate(0)" rx="1.8" ry="2.4" fill="#5a6cff" opacity="0.10"/><ellipse transform="translate(655.3 349.7) rotate(0)" rx="1.8" ry="2.4" fill="#5a6cff" opacity="0.36"/><ellipse transform="translate(655.3 353.4) rotate(0)" rx="1.8" ry="2.4" fill="#ff5a5a" opacity="0.20"/><ellipse transform="translate(655.3 357.1) rotate(0)" rx="1.8" ry="2.4" fill="#5a6cff" opacity="0.08"/><ellipse transform="translate(655.3 337.9) rotate(0)" rx="1.8" ry="2.4" fill="#ff5a5a" opacity="0.37"/><ellipse transform="translate(655.3 334.2) rotate(0)" rx="1.8" ry="2.4" fill="#5a6cff" opacity="0.21"/><ellipse transform="translate(655.3 330.5) rotate(0)" rx="1.8" ry="2.4" fill="#ff5a5a" opacity="0.09"/><ellipse transform="translate(657.6 349.7) rotate(0)" rx="1.8" ry="2.4" fill="#ff5a5a" opacity="0.40"/><ellipse transform="translate(657.6 353.4) rotate(0)" rx="1.8" ry="2.4" fill="#5a6cff" opacity="0.23"/><ellipse transform="translate(657.6 357.1) rotate(0)" rx="1.8" ry="2.4" fill="#ff5a5a" opacity="0.09"/><ellipse transform="translate(657.6 337.9) rotate(0)" rx="1.8" ry="2.4" fill="#5a6cff" opacity="0.32"/><ellipse transform="translate(657.6 334.2) rotate(0)" rx="1.8" ry="2.4" fill="#ff5a5a" opacity="0.18"/><ellipse transform="translate(657.6 330.5) rotate(0)" rx="1.8" ry="2.4" fill="#5a6cff" opacity="0.08"/><ellipse cx="574" cy="330.3" rx="1.9" ry="2.3" fill="#5a6cff" opacity="0.05"/><ellipse cx="578.6" cy="330.3" rx="1.9" ry="2.3" fill="#ff5a5a" opacity="0.09"/><ellipse cx="583.2" cy="330.3" rx="1.9" ry="2.3" fill="#5a6cff" opacity="0.11"/><ellipse cx="571.7" cy="334.3" rx="1.9" ry="2.3" fill="#ff5a5a" opacity="0.08"/><ellipse cx="576.3" cy="334.3" rx="1.9" ry="2.3" fill="#5a6cff" opacity="0.13"/><ellipse cx="580.9" cy="334.3" rx="1.9" ry="2.3" fill="#ff5a5a" opacity="0.17"/><ellipse cx="585.5" cy="334.3" rx="1.9" ry="2.3" fill="#5a6cff" opacity="0.18"/><ellipse cx="569.4" cy="338.3" rx="1.9" ry="2.3" fill="#ff5a5a" opacity="0.07"/><ellipse cx="574" cy="338.3" rx="1.9" ry="2.3" fill="#5a6cff" opacity="0.15"/><ellipse cx="578.6" cy="338.3" rx="1.9" ry="2.3" fill="#ff5a5a" opacity="0.21"/><ellipse cx="583.2" cy="338.3" rx="1.9" ry="2.3" fill="#5a6cff" opacity="0.25"/><ellipse cx="567.1" cy="342.3" rx="1.9" ry="2.3" fill="#5a6cff" opacity="0.05"/><ellipse cx="571.7" cy="342.3" rx="1.9" ry="2.3" fill="#ff5a5a" opacity="0.13"/><ellipse cx="576.3" cy="342.3" rx="1.9" ry="2.3" fill="#5a6cff" opacity="0.21"/><ellipse cx="569.4" cy="346.3" rx="1.9" ry="2.3" fill="#ff5a5a" opacity="0.09"/><ellipse cx="574" cy="346.3" rx="1.9" ry="2.3" fill="#5a6cff" opacity="0.17"/><ellipse cx="578.6" cy="346.3" rx="1.9" ry="2.3" fill="#ff5a5a" opacity="0.24"/><ellipse cx="571.7" cy="350.3" rx="1.9" ry="2.3" fill="#ff5a5a" opacity="0.10"/><ellipse cx="576.3" cy="350.3" rx="1.9" ry="2.3" fill="#5a6cff" opacity="0.17"/><ellipse cx="580.9" cy="350.3" rx="1.9" ry="2.3" fill="#ff5a5a" opacity="0.22"/><ellipse cx="585.5" cy="350.3" rx="1.9" ry="2.3" fill="#5a6cff" opacity="0.23"/><ellipse cx="574" cy="354.3" rx="1.9" ry="2.3" fill="#5a6cff" opacity="0.09"/><ellipse cx="578.6" cy="354.3" rx="1.9" ry="2.3" fill="#ff5a5a" opacity="0.14"/><ellipse cx="583.2" cy="354.3" rx="1.9" ry="2.3" fill="#5a6cff" opacity="0.16"/><ellipse cx="576.3" cy="358.3" rx="1.9" ry="2.3" fill="#5a6cff" opacity="0.06"/><ellipse cx="580.9" cy="358.3" rx="1.9" ry="2.3" fill="#ff5a5a" opacity="0.09"/><ellipse cx="585.5" cy="358.3" rx="1.9" ry="2.3" fill="#5a6cff" opacity="0.09"/><ellipse cx="631.5" cy="254.3" rx="1.9" ry="2.3" fill="#5a6cff" opacity="0.08"/><ellipse cx="629.2" cy="258.3" rx="1.9" ry="2.3" fill="#5a6cff" opacity="0.20"/><ellipse cx="633.8" cy="258.3" rx="1.9" ry="2.3" fill="#ff5a5a" opacity="0.16"/><ellipse cx="638.4" cy="258.3" rx="1.9" ry="2.3" fill="#5a6cff" opacity="0.07"/><ellipse cx="636.1" cy="262.3" rx="1.9" ry="2.3" fill="#ff5a5a" opacity="0.18"/><ellipse cx="640.7" cy="262.3" rx="1.9" ry="2.3" fill="#5a6cff" opacity="0.05"/><ellipse cx="633.8" cy="266.3" rx="1.9" ry="2.3" fill="#ff5a5a" opacity="0.23"/><ellipse cx="638.4" cy="266.3" rx="1.9" ry="2.3" fill="#5a6cff" opacity="0.11"/><ellipse cx="631.5" cy="270.3" rx="1.9" ry="2.3" fill="#5a6cff" opacity="0.17"/><ellipse cx="636.1" cy="270.3" rx="1.9" ry="2.3" fill="#ff5a5a" opacity="0.11"/><ellipse cx="629.2" cy="274.3" rx="1.9" ry="2.3" fill="#5a6cff" opacity="0.07"/><ellipse cx="537" cy="266.1" rx="2.3" ry="2.9" fill="#ff5a5a" opacity="0.09"/><ellipse cx="537" cy="261.6" rx="2.3" ry="2.9" fill="#5a6cff" opacity="0.09"/><ellipse cx="534.7" cy="266.1" rx="2.3" ry="2.9" fill="#5a6cff" opacity="0.09"/><ellipse cx="534.7" cy="261.6" rx="2.3" ry="2.9" fill="#ff5a5a" opacity="0.09"/><ellipse cx="532.4" cy="266.1" rx="2.3" ry="2.9" fill="#ff5a5a" opacity="0.09"/><ellipse cx="532.4" cy="261.6" rx="2.3" ry="2.9" fill="#5a6cff" opacity="0.09"/><ellipse cx="530.1" cy="266.1" rx="2.3" ry="2.9" fill="#5a6cff" opacity="0.09"/><ellipse cx="530.1" cy="261.6" rx="2.3" ry="2.9" fill="#ff5a5a" opacity="0.09"/><ellipse cx="527.8" cy="266.1" rx="2.3" ry="2.9" fill="#ff5a5a" opacity="0.09"/><ellipse cx="527.8" cy="261.6" rx="2.3" ry="2.9" fill="#5a6cff" opacity="0.09"/><ellipse cx="525.5" cy="266.1" rx="2.3" ry="2.9" fill="#5a6cff" opacity="0.09"/><ellipse cx="525.5" cy="261.6" rx="2.3" ry="2.9" fill="#ff5a5a" opacity="0.09"/><ellipse cx="523.2" cy="266.1" rx="2.3" ry="2.9" fill="#ff5a5a" opacity="0.09"/><ellipse cx="523.2" cy="261.6" rx="2.3" ry="2.9" fill="#5a6cff" opacity="0.09"/><ellipse cx="520.9" cy="266.1" rx="2.3" ry="2.9" fill="#5a6cff" opacity="0.09"/><ellipse cx="520.9" cy="261.6" rx="2.3" ry="2.9" fill="#ff5a5a" opacity="0.09"/><ellipse cx="518.6" cy="266.1" rx="2.3" ry="2.9" fill="#ff5a5a" opacity="0.09"/><ellipse cx="518.6" cy="261.6" rx="2.3" ry="2.9" fill="#5a6cff" opacity="0.09"/><ellipse cx="516.3" cy="266.1" rx="2.3" ry="2.9" fill="#5a6cff" opacity="0.09"/><ellipse cx="516.3" cy="261.6" rx="2.3" ry="2.9" fill="#ff5a5a" opacity="0.09"/><ellipse cx="514" cy="266.1" rx="2.3" ry="2.9" fill="#ff5a5a" opacity="0.09"/><ellipse cx="514" cy="261.6" rx="2.3" ry="2.9" fill="#5a6cff" opacity="0.09"/><ellipse cx="511.7" cy="266.1" rx="2.3" ry="2.9" fill="#5a6cff" opacity="0.09"/><ellipse cx="511.7" cy="261.6" rx="2.3" ry="2.9" fill="#ff5a5a" opacity="0.09"/><ellipse cx="509.4" cy="266.1" rx="2.3" ry="2.9" fill="#ff5a5a" opacity="0.09"/><ellipse cx="509.4" cy="261.6" rx="2.3" ry="2.9" fill="#5a6cff" opacity="0.09"/><ellipse cx="507.1" cy="266.1" rx="2.3" ry="2.9" fill="#5a6cff" opacity="0.09"/><ellipse cx="507.1" cy="261.6" rx="2.3" ry="2.9" fill="#ff5a5a" opacity="0.09"/><ellipse cx="504.8" cy="266.1" rx="2.3" ry="2.9" fill="#ff5a5a" opacity="0.09"/><ellipse cx="504.8" cy="261.6" rx="2.3" ry="2.9" fill="#5a6cff" opacity="0.09"/><ellipse cx="502.5" cy="266.1" rx="2.3" ry="2.9" fill="#5a6cff" opacity="0.09"/><ellipse cx="502.5" cy="261.6" rx="2.3" ry="2.9" fill="#ff5a5a" opacity="0.09"/><ellipse cx="500.2" cy="266.1" rx="2.3" ry="2.9" fill="#ff5a5a" opacity="0.09"/><ellipse cx="500.2" cy="261.6" rx="2.3" ry="2.9" fill="#5a6cff" opacity="0.09"/><ellipse cx="497.9" cy="266.1" rx="2.3" ry="2.9" fill="#5a6cff" opacity="0.09"/><ellipse cx="497.9" cy="261.6" rx="2.3" ry="2.9" fill="#ff5a5a" opacity="0.09"/><ellipse cx="495.6" cy="266.1" rx="2.3" ry="2.9" fill="#ff5a5a" opacity="0.09"/><ellipse cx="495.6" cy="261.6" rx="2.3" ry="2.9" fill="#5a6cff" opacity="0.09"/><ellipse cx="493.3" cy="266.1" rx="2.3" ry="2.9" fill="#5a6cff" opacity="0.09"/><ellipse cx="493.3" cy="261.6" rx="2.3" ry="2.9" fill="#ff5a5a" opacity="0.09"/></g><g clip-path="url(#clipf236)" fill="none" stroke="#858585" stroke-width="0.62"><path d="M494.6 234.3a1.25 1.25 0 1 0 2.5 0a1.25 1.25 0 1 0 -2.5 0M499.2 234.3a1.25 1.25 0 1 0 2.5 0a1.25 1.25 0 1 0 -2.5 0M503.8 234.3a1.25 1.25 0 1 0 2.5 0a1.25 1.25 0 1 0 -2.5 0M508.4 234.3a1.25 1.25 0 1 0 2.5 0a1.25 1.25 0 1 0 -2.5 0M513 234.3a1.25 1.25 0 1 0 2.5 0a1.25 1.25 0 1 0 -2.5 0M517.6 234.3a1.25 1.25 0 1 0 2.5 0a1.25 1.25 0 1 0 -2.5 0M522.2 234.3a1.25 1.25 0 1 0 2.5 0a1.25 1.25 0 1 0 -2.5 0M526.8 234.3a1.25 1.25 0 1 0 2.5 0a1.25 1.25 0 1 0 -2.5 0M531.4 234.3a1.25 1.25 0 1 0 2.5 0a1.25 1.25 0 1 0 -2.5 0M536 234.3a1.25 1.25 0 1 0 2.5 0a1.25 1.25 0 1 0 -2.5 0M540.6 234.3a1.25 1.25 0 1 0 2.5 0a1.25 1.25 0 1 0 -2.5 0M545.2 234.3a1.25 1.25 0 1 0 2.5 0a1.25 1.25 0 1 0 -2.5 0M549.8 234.3a1.25 1.25 0 1 0 2.5 0a1.25 1.25 0 1 0 -2.5 0M554.4 234.3a1.25 1.25 0 1 0 2.5 0a1.25 1.25 0 1 0 -2.5 0M559 234.3a1.25 1.25 0 1 0 2.5 0a1.25 1.25 0 1 0 -2.5 0M563.6 234.3a1.25 1.25 0 1 0 2.5 0a1.25 1.25 0 1 0 -2.5 0M568.2 234.3a1.25 1.25 0 1 0 2.5 0a1.25 1.25 0 1 0 -2.5 0M572.8 234.3a1.25 1.25 0 1 0 2.5 0a1.25 1.25 0 1 0 -2.5 0M577.4 234.3a1.25 1.25 0 1 0 2.5 0a1.25 1.25 0 1 0 -2.5 0M582 234.3a1.25 1.25 0 1 0 2.5 0a1.25 1.25 0 1 0 -2.5 0M586.6 234.3a1.25 1.25 0 1 0 2.5 0a1.25 1.25 0 1 0 -2.5 0M591.2 234.3a1.25 1.25 0 1 0 2.5 0a1.25 1.25 0 1 0 -2.5 0M595.8 234.3a1.25 1.25 0 1 0 2.5 0a1.25 1.25 0 1 0 -2.5 0M600.4 234.3a1.25 1.25 0 1 0 2.5 0a1.25 1.25 0 1 0 -2.5 0M605 234.3a1.25 1.25 0 1 0 2.5 0a1.25 1.25 0 1 0 -2.5 0M609.6 234.3a1.25 1.25 0 1 0 2.5 0a1.25 1.25 0 1 0 -2.5 0M614.1 234.3a1.25 1.25 0 1 0 2.5 0a1.25 1.25 0 1 0 -2.5 0M618.8 234.3a1.25 1.25 0 1 0 2.5 0a1.25 1.25 0 1 0 -2.5 0M623.4 234.3a1.25 1.25 0 1 0 2.5 0a1.25 1.25 0 1 0 -2.5 0M628 234.3a1.25 1.25 0 1 0 2.5 0a1.25 1.25 0 1 0 -2.5 0M632.5 234.3a1.25 1.25 0 1 0 2.5 0a1.25 1.25 0 1 0 -2.5 0M637.2 234.3a1.25 1.25 0 1 0 2.5 0a1.25 1.25 0 1 0 -2.5 0M641.8 234.3a1.25 1.25 0 1 0 2.5 0a1.25 1.25 0 1 0 -2.5 0M646.4 234.3a1.25 1.25 0 1 0 2.5 0a1.25 1.25 0 1 0 -2.5 0M651 234.3a1.25 1.25 0 1 0 2.5 0a1.25 1.25 0 1 0 -2.5 0M496.9 238.3a1.25 1.25 0 1 0 2.5 0a1.25 1.25 0 1 0 -2.5 0M501.5 238.3a1.25 1.25 0 1 0 2.5 0a1.25 1.25 0 1 0 -2.5 0M506.1 238.3a1.25 1.25 0 1 0 2.5 0a1.25 1.25 0 1 0 -2.5 0M510.7 238.3a1.25 1.25 0 1 0 2.5 0a1.25 1.25 0 1 0 -2.5 0M515.2 238.3a1.25 1.25 0 1 0 2.5 0a1.25 1.25 0 1 0 -2.5 0M519.9 238.3a1.25 1.25 0 1 0 2.5 0a1.25 1.25 0 1 0 -2.5 0M524.5 238.3a1.25 1.25 0 1 0 2.5 0a1.25 1.25 0 1 0 -2.5 0M529.1 238.3a1.25 1.25 0 1 0 2.5 0a1.25 1.25 0 1 0 -2.5 0M533.6 238.3a1.25 1.25 0 1 0 2.5 0a1.25 1.25 0 1 0 -2.5 0M538.2 238.3a1.25 1.25 0 1 0 2.5 0a1.25 1.25 0 1 0 -2.5 0M542.9 238.3a1.25 1.25 0 1 0 2.5 0a1.25 1.25 0 1 0 -2.5 0M547.5 238.3a1.25 1.25 0 1 0 2.5 0a1.25 1.25 0 1 0 -2.5 0M552.1 238.3a1.25 1.25 0 1 0 2.5 0a1.25 1.25 0 1 0 -2.5 0M556.6 238.3a1.25 1.25 0 1 0 2.5 0a1.25 1.25 0 1 0 -2.5 0M561.2 238.3a1.25 1.25 0 1 0 2.5 0a1.25 1.25 0 1 0 -2.5 0M565.9 238.3a1.25 1.25 0 1 0 2.5 0a1.25 1.25 0 1 0 -2.5 0M570.5 238.3a1.25 1.25 0 1 0 2.5 0a1.25 1.25 0 1 0 -2.5 0M575 238.3a1.25 1.25 0 1 0 2.5 0a1.25 1.25 0 1 0 -2.5 0M579.6 238.3a1.25 1.25 0 1 0 2.5 0a1.25 1.25 0 1 0 -2.5 0M584.2 238.3a1.25 1.25 0 1 0 2.5 0a1.25 1.25 0 1 0 -2.5 0M588.9 238.3a1.25 1.25 0 1 0 2.5 0a1.25 1.25 0 1 0 -2.5 0M593.5 238.3a1.25 1.25 0 1 0 2.5 0a1.25 1.25 0 1 0 -2.5 0M598 238.3a1.25 1.25 0 1 0 2.5 0a1.25 1.25 0 1 0 -2.5 0M602.6 238.3a1.25 1.25 0 1 0 2.5 0a1.25 1.25 0 1 0 -2.5 0M607.2 238.3a1.25 1.25 0 1 0 2.5 0a1.25 1.25 0 1 0 -2.5 0M611.9 238.3a1.25 1.25 0 1 0 2.5 0a1.25 1.25 0 1 0 -2.5 0M616.5 238.3a1.25 1.25 0 1 0 2.5 0a1.25 1.25 0 1 0 -2.5 0M621 238.3a1.25 1.25 0 1 0 2.5 0a1.25 1.25 0 1 0 -2.5 0M625.6 238.3a1.25 1.25 0 1 0 2.5 0a1.25 1.25 0 1 0 -2.5 0M630.2 238.3a1.25 1.25 0 1 0 2.5 0a1.25 1.25 0 1 0 -2.5 0M634.9 238.3a1.25 1.25 0 1 0 2.5 0a1.25 1.25 0 1 0 -2.5 0M639.5 238.3a1.25 1.25 0 1 0 2.5 0a1.25 1.25 0 1 0 -2.5 0M644 238.3a1.25 1.25 0 1 0 2.5 0a1.25 1.25 0 1 0 -2.5 0M648.6 238.3a1.25 1.25 0 1 0 2.5 0a1.25 1.25 0 1 0 -2.5 0M653.2 238.3a1.25 1.25 0 1 0 2.5 0a1.25 1.25 0 1 0 -2.5 0M494.6 242.3a1.25 1.25 0 1 0 2.5 0a1.25 1.25 0 1 0 -2.5 0M499.2 242.3a1.25 1.25 0 1 0 2.5 0a1.25 1.25 0 1 0 -2.5 0M503.8 242.3a1.25 1.25 0 1 0 2.5 0a1.25 1.25 0 1 0 -2.5 0M508.4 242.3a1.25 1.25 0 1 0 2.5 0a1.25 1.25 0 1 0 -2.5 0M513 242.3a1.25 1.25 0 1 0 2.5 0a1.25 1.25 0 1 0 -2.5 0M517.6 242.3a1.25 1.25 0 1 0 2.5 0a1.25 1.25 0 1 0 -2.5 0M522.2 242.3a1.25 1.25 0 1 0 2.5 0a1.25 1.25 0 1 0 -2.5 0M526.8 242.3a1.25 1.25 0 1 0 2.5 0a1.25 1.25 0 1 0 -2.5 0M531.4 242.3a1.25 1.25 0 1 0 2.5 0a1.25 1.25 0 1 0 -2.5 0M536 242.3a1.25 1.25 0 1 0 2.5 0a1.25 1.25 0 1 0 -2.5 0M540.6 242.3a1.25 1.25 0 1 0 2.5 0a1.25 1.25 0 1 0 -2.5 0M545.2 242.3a1.25 1.25 0 1 0 2.5 0a1.25 1.25 0 1 0 -2.5 0M549.8 242.3a1.25 1.25 0 1 0 2.5 0a1.25 1.25 0 1 0 -2.5 0M554.4 242.3a1.25 1.25 0 1 0 2.5 0a1.25 1.25 0 1 0 -2.5 0M559 242.3a1.25 1.25 0 1 0 2.5 0a1.25 1.25 0 1 0 -2.5 0M563.6 242.3a1.25 1.25 0 1 0 2.5 0a1.25 1.25 0 1 0 -2.5 0M568.2 242.3a1.25 1.25 0 1 0 2.5 0a1.25 1.25 0 1 0 -2.5 0M572.8 242.3a1.25 1.25 0 1 0 2.5 0a1.25 1.25 0 1 0 -2.5 0M577.4 242.3a1.25 1.25 0 1 0 2.5 0a1.25 1.25 0 1 0 -2.5 0M582 242.3a1.25 1.25 0 1 0 2.5 0a1.25 1.25 0 1 0 -2.5 0M586.6 242.3a1.25 1.25 0 1 0 2.5 0a1.25 1.25 0 1 0 -2.5 0M591.2 242.3a1.25 1.25 0 1 0 2.5 0a1.25 1.25 0 1 0 -2.5 0M595.8 242.3a1.25 1.25 0 1 0 2.5 0a1.25 1.25 0 1 0 -2.5 0M600.4 242.3a1.25 1.25 0 1 0 2.5 0a1.25 1.25 0 1 0 -2.5 0M605 242.3a1.25 1.25 0 1 0 2.5 0a1.25 1.25 0 1 0 -2.5 0M609.6 242.3a1.25 1.25 0 1 0 2.5 0a1.25 1.25 0 1 0 -2.5 0M614.1 242.3a1.25 1.25 0 1 0 2.5 0a1.25 1.25 0 1 0 -2.5 0M618.8 242.3a1.25 1.25 0 1 0 2.5 0a1.25 1.25 0 1 0 -2.5 0M623.4 242.3a1.25 1.25 0 1 0 2.5 0a1.25 1.25 0 1 0 -2.5 0M628 242.3a1.25 1.25 0 1 0 2.5 0a1.25 1.25 0 1 0 -2.5 0M632.5 242.3a1.25 1.25 0 1 0 2.5 0a1.25 1.25 0 1 0 -2.5 0M637.2 242.3a1.25 1.25 0 1 0 2.5 0a1.25 1.25 0 1 0 -2.5 0M641.8 242.3a1.25 1.25 0 1 0 2.5 0a1.25 1.25 0 1 0 -2.5 0M646.4 242.3a1.25 1.25 0 1 0 2.5 0a1.25 1.25 0 1 0 -2.5 0M651 242.3a1.25 1.25 0 1 0 2.5 0a1.25 1.25 0 1 0 -2.5 0M496.9 246.3a1.25 1.25 0 1 0 2.5 0a1.25 1.25 0 1 0 -2.5 0M501.5 246.3a1.25 1.25 0 1 0 2.5 0a1.25 1.25 0 1 0 -2.5 0M506.1 246.3a1.25 1.25 0 1 0 2.5 0a1.25 1.25 0 1 0 -2.5 0M510.7 246.3a1.25 1.25 0 1 0 2.5 0a1.25 1.25 0 1 0 -2.5 0M515.2 246.3a1.25 1.25 0 1 0 2.5 0a1.25 1.25 0 1 0 -2.5 0M519.9 246.3a1.25 1.25 0 1 0 2.5 0a1.25 1.25 0 1 0 -2.5 0M524.5 246.3a1.25 1.25 0 1 0 2.5 0a1.25 1.25 0 1 0 -2.5 0M529.1 246.3a1.25 1.25 0 1 0 2.5 0a1.25 1.25 0 1 0 -2.5 0M533.6 246.3a1.25 1.25 0 1 0 2.5 0a1.25 1.25 0 1 0 -2.5 0M538.2 246.3a1.25 1.25 0 1 0 2.5 0a1.25 1.25 0 1 0 -2.5 0M542.9 246.3a1.25 1.25 0 1 0 2.5 0a1.25 1.25 0 1 0 -2.5 0M547.5 246.3a1.25 1.25 0 1 0 2.5 0a1.25 1.25 0 1 0 -2.5 0M552.1 246.3a1.25 1.25 0 1 0 2.5 0a1.25 1.25 0 1 0 -2.5 0M556.6 246.3a1.25 1.25 0 1 0 2.5 0a1.25 1.25 0 1 0 -2.5 0M561.2 246.3a1.25 1.25 0 1 0 2.5 0a1.25 1.25 0 1 0 -2.5 0M565.9 246.3a1.25 1.25 0 1 0 2.5 0a1.25 1.25 0 1 0 -2.5 0M570.5 246.3a1.25 1.25 0 1 0 2.5 0a1.25 1.25 0 1 0 -2.5 0M575 246.3a1.25 1.25 0 1 0 2.5 0a1.25 1.25 0 1 0 -2.5 0M579.6 246.3a1.25 1.25 0 1 0 2.5 0a1.25 1.25 0 1 0 -2.5 0M584.2 246.3a1.25 1.25 0 1 0 2.5 0a1.25 1.25 0 1 0 -2.5 0M588.9 246.3a1.25 1.25 0 1 0 2.5 0a1.25 1.25 0 1 0 -2.5 0M593.5 246.3a1.25 1.25 0 1 0 2.5 0a1.25 1.25 0 1 0 -2.5 0M598 246.3a1.25 1.25 0 1 0 2.5 0a1.25 1.25 0 1 0 -2.5 0M602.6 246.3a1.25 1.25 0 1 0 2.5 0a1.25 1.25 0 1 0 -2.5 0M607.2 246.3a1.25 1.25 0 1 0 2.5 0a1.25 1.25 0 1 0 -2.5 0M611.9 246.3a1.25 1.25 0 1 0 2.5 0a1.25 1.25 0 1 0 -2.5 0M616.5 246.3a1.25 1.25 0 1 0 2.5 0a1.25 1.25 0 1 0 -2.5 0M621 246.3a1.25 1.25 0 1 0 2.5 0a1.25 1.25 0 1 0 -2.5 0M625.6 246.3a1.25 1.25 0 1 0 2.5 0a1.25 1.25 0 1 0 -2.5 0M630.2 246.3a1.25 1.25 0 1 0 2.5 0a1.25 1.25 0 1 0 -2.5 0M634.9 246.3a1.25 1.25 0 1 0 2.5 0a1.25 1.25 0 1 0 -2.5 0M639.5 246.3a1.25 1.25 0 1 0 2.5 0a1.25 1.25 0 1 0 -2.5 0M644 246.3a1.25 1.25 0 1 0 2.5 0a1.25 1.25 0 1 0 -2.5 0M648.6 246.3a1.25 1.25 0 1 0 2.5 0a1.25 1.25 0 1 0 -2.5 0M653.2 246.3a1.25 1.25 0 1 0 2.5 0a1.25 1.25 0 1 0 -2.5 0M494.6 250.3a1.25 1.25 0 1 0 2.5 0a1.25 1.25 0 1 0 -2.5 0M499.2 250.3a1.25 1.25 0 1 0 2.5 0a1.25 1.25 0 1 0 -2.5 0M503.8 250.3a1.25 1.25 0 1 0 2.5 0a1.25 1.25 0 1 0 -2.5 0M508.4 250.3a1.25 1.25 0 1 0 2.5 0a1.25 1.25 0 1 0 -2.5 0M513 250.3a1.25 1.25 0 1 0 2.5 0a1.25 1.25 0 1 0 -2.5 0M517.6 250.3a1.25 1.25 0 1 0 2.5 0a1.25 1.25 0 1 0 -2.5 0M522.2 250.3a1.25 1.25 0 1 0 2.5 0a1.25 1.25 0 1 0 -2.5 0M526.8 250.3a1.25 1.25 0 1 0 2.5 0a1.25 1.25 0 1 0 -2.5 0M531.4 250.3a1.25 1.25 0 1 0 2.5 0a1.25 1.25 0 1 0 -2.5 0M536 250.3a1.25 1.25 0 1 0 2.5 0a1.25 1.25 0 1 0 -2.5 0M540.6 250.3a1.25 1.25 0 1 0 2.5 0a1.25 1.25 0 1 0 -2.5 0M545.2 250.3a1.25 1.25 0 1 0 2.5 0a1.25 1.25 0 1 0 -2.5 0M549.8 250.3a1.25 1.25 0 1 0 2.5 0a1.25 1.25 0 1 0 -2.5 0M554.4 250.3a1.25 1.25 0 1 0 2.5 0a1.25 1.25 0 1 0 -2.5 0M559 250.3a1.25 1.25 0 1 0 2.5 0a1.25 1.25 0 1 0 -2.5 0M563.6 250.3a1.25 1.25 0 1 0 2.5 0a1.25 1.25 0 1 0 -2.5 0M568.2 250.3a1.25 1.25 0 1 0 2.5 0a1.25 1.25 0 1 0 -2.5 0M572.8 250.3a1.25 1.25 0 1 0 2.5 0a1.25 1.25 0 1 0 -2.5 0M577.4 250.3a1.25 1.25 0 1 0 2.5 0a1.25 1.25 0 1 0 -2.5 0M582 250.3a1.25 1.25 0 1 0 2.5 0a1.25 1.25 0 1 0 -2.5 0M586.6 250.3a1.25 1.25 0 1 0 2.5 0a1.25 1.25 0 1 0 -2.5 0M591.2 250.3a1.25 1.25 0 1 0 2.5 0a1.25 1.25 0 1 0 -2.5 0M595.8 250.3a1.25 1.25 0 1 0 2.5 0a1.25 1.25 0 1 0 -2.5 0M600.4 250.3a1.25 1.25 0 1 0 2.5 0a1.25 1.25 0 1 0 -2.5 0M605 250.3a1.25 1.25 0 1 0 2.5 0a1.25 1.25 0 1 0 -2.5 0M609.6 250.3a1.25 1.25 0 1 0 2.5 0a1.25 1.25 0 1 0 -2.5 0M614.1 250.3a1.25 1.25 0 1 0 2.5 0a1.25 1.25 0 1 0 -2.5 0M618.8 250.3a1.25 1.25 0 1 0 2.5 0a1.25 1.25 0 1 0 -2.5 0M623.4 250.3a1.25 1.25 0 1 0 2.5 0a1.25 1.25 0 1 0 -2.5 0M628 250.3a1.25 1.25 0 1 0 2.5 0a1.25 1.25 0 1 0 -2.5 0M632.5 250.3a1.25 1.25 0 1 0 2.5 0a1.25 1.25 0 1 0 -2.5 0M637.2 250.3a1.25 1.25 0 1 0 2.5 0a1.25 1.25 0 1 0 -2.5 0M641.8 250.3a1.25 1.25 0 1 0 2.5 0a1.25 1.25 0 1 0 -2.5 0M646.4 250.3a1.25 1.25 0 1 0 2.5 0a1.25 1.25 0 1 0 -2.5 0M651 250.3a1.25 1.25 0 1 0 2.5 0a1.25 1.25 0 1 0 -2.5 0M496.9 254.3a1.25 1.25 0 1 0 2.5 0a1.25 1.25 0 1 0 -2.5 0M501.5 254.3a1.25 1.25 0 1 0 2.5 0a1.25 1.25 0 1 0 -2.5 0M506.1 254.3a1.25 1.25 0 1 0 2.5 0a1.25 1.25 0 1 0 -2.5 0M510.7 254.3a1.25 1.25 0 1 0 2.5 0a1.25 1.25 0 1 0 -2.5 0M515.2 254.3a1.25 1.25 0 1 0 2.5 0a1.25 1.25 0 1 0 -2.5 0M519.9 254.3a1.25 1.25 0 1 0 2.5 0a1.25 1.25 0 1 0 -2.5 0M524.5 254.3a1.25 1.25 0 1 0 2.5 0a1.25 1.25 0 1 0 -2.5 0M529.1 254.3a1.25 1.25 0 1 0 2.5 0a1.25 1.25 0 1 0 -2.5 0M533.6 254.3a1.25 1.25 0 1 0 2.5 0a1.25 1.25 0 1 0 -2.5 0M538.2 254.3a1.25 1.25 0 1 0 2.5 0a1.25 1.25 0 1 0 -2.5 0M542.9 254.3a1.25 1.25 0 1 0 2.5 0a1.25 1.25 0 1 0 -2.5 0M547.5 254.3a1.25 1.25 0 1 0 2.5 0a1.25 1.25 0 1 0 -2.5 0M552.1 254.3a1.25 1.25 0 1 0 2.5 0a1.25 1.25 0 1 0 -2.5 0M556.6 254.3a1.25 1.25 0 1 0 2.5 0a1.25 1.25 0 1 0 -2.5 0M561.2 254.3a1.25 1.25 0 1 0 2.5 0a1.25 1.25 0 1 0 -2.5 0M565.9 254.3a1.25 1.25 0 1 0 2.5 0a1.25 1.25 0 1 0 -2.5 0M570.5 254.3a1.25 1.25 0 1 0 2.5 0a1.25 1.25 0 1 0 -2.5 0M575 254.3a1.25 1.25 0 1 0 2.5 0a1.25 1.25 0 1 0 -2.5 0M579.6 254.3a1.25 1.25 0 1 0 2.5 0a1.25 1.25 0 1 0 -2.5 0M584.2 254.3a1.25 1.25 0 1 0 2.5 0a1.25 1.25 0 1 0 -2.5 0M588.9 254.3a1.25 1.25 0 1 0 2.5 0a1.25 1.25 0 1 0 -2.5 0M593.5 254.3a1.25 1.25 0 1 0 2.5 0a1.25 1.25 0 1 0 -2.5 0M598 254.3a1.25 1.25 0 1 0 2.5 0a1.25 1.25 0 1 0 -2.5 0M602.6 254.3a1.25 1.25 0 1 0 2.5 0a1.25 1.25 0 1 0 -2.5 0M607.2 254.3a1.25 1.25 0 1 0 2.5 0a1.25 1.25 0 1 0 -2.5 0M611.9 254.3a1.25 1.25 0 1 0 2.5 0a1.25 1.25 0 1 0 -2.5 0M616.5 254.3a1.25 1.25 0 1 0 2.5 0a1.25 1.25 0 1 0 -2.5 0M621 254.3a1.25 1.25 0 1 0 2.5 0a1.25 1.25 0 1 0 -2.5 0M625.6 254.3a1.25 1.25 0 1 0 2.5 0a1.25 1.25 0 1 0 -2.5 0M630.2 254.3a1.25 1.25 0 1 0 2.5 0a1.25 1.25 0 1 0 -2.5 0M634.9 254.3a1.25 1.25 0 1 0 2.5 0a1.25 1.25 0 1 0 -2.5 0M639.5 254.3a1.25 1.25 0 1 0 2.5 0a1.25 1.25 0 1 0 -2.5 0M644 254.3a1.25 1.25 0 1 0 2.5 0a1.25 1.25 0 1 0 -2.5 0M648.6 254.3a1.25 1.25 0 1 0 2.5 0a1.25 1.25 0 1 0 -2.5 0M653.2 254.3a1.25 1.25 0 1 0 2.5 0a1.25 1.25 0 1 0 -2.5 0M494.6 258.3a1.25 1.25 0 1 0 2.5 0a1.25 1.25 0 1 0 -2.5 0M499.2 258.3a1.25 1.25 0 1 0 2.5 0a1.25 1.25 0 1 0 -2.5 0M503.8 258.3a1.25 1.25 0 1 0 2.5 0a1.25 1.25 0 1 0 -2.5 0M508.4 258.3a1.25 1.25 0 1 0 2.5 0a1.25 1.25 0 1 0 -2.5 0M513 258.3a1.25 1.25 0 1 0 2.5 0a1.25 1.25 0 1 0 -2.5 0M517.6 258.3a1.25 1.25 0 1 0 2.5 0a1.25 1.25 0 1 0 -2.5 0M522.2 258.3a1.25 1.25 0 1 0 2.5 0a1.25 1.25 0 1 0 -2.5 0M526.8 258.3a1.25 1.25 0 1 0 2.5 0a1.25 1.25 0 1 0 -2.5 0M531.4 258.3a1.25 1.25 0 1 0 2.5 0a1.25 1.25 0 1 0 -2.5 0M536 258.3a1.25 1.25 0 1 0 2.5 0a1.25 1.25 0 1 0 -2.5 0M540.6 258.3a1.25 1.25 0 1 0 2.5 0a1.25 1.25 0 1 0 -2.5 0M545.2 258.3a1.25 1.25 0 1 0 2.5 0a1.25 1.25 0 1 0 -2.5 0M549.8 258.3a1.25 1.25 0 1 0 2.5 0a1.25 1.25 0 1 0 -2.5 0M554.4 258.3a1.25 1.25 0 1 0 2.5 0a1.25 1.25 0 1 0 -2.5 0M559 258.3a1.25 1.25 0 1 0 2.5 0a1.25 1.25 0 1 0 -2.5 0M563.6 258.3a1.25 1.25 0 1 0 2.5 0a1.25 1.25 0 1 0 -2.5 0M568.2 258.3a1.25 1.25 0 1 0 2.5 0a1.25 1.25 0 1 0 -2.5 0M572.8 258.3a1.25 1.25 0 1 0 2.5 0a1.25 1.25 0 1 0 -2.5 0M577.4 258.3a1.25 1.25 0 1 0 2.5 0a1.25 1.25 0 1 0 -2.5 0M582 258.3a1.25 1.25 0 1 0 2.5 0a1.25 1.25 0 1 0 -2.5 0M586.6 258.3a1.25 1.25 0 1 0 2.5 0a1.25 1.25 0 1 0 -2.5 0M591.2 258.3a1.25 1.25 0 1 0 2.5 0a1.25 1.25 0 1 0 -2.5 0M595.8 258.3a1.25 1.25 0 1 0 2.5 0a1.25 1.25 0 1 0 -2.5 0M600.4 258.3a1.25 1.25 0 1 0 2.5 0a1.25 1.25 0 1 0 -2.5 0M605 258.3a1.25 1.25 0 1 0 2.5 0a1.25 1.25 0 1 0 -2.5 0M609.6 258.3a1.25 1.25 0 1 0 2.5 0a1.25 1.25 0 1 0 -2.5 0M614.1 258.3a1.25 1.25 0 1 0 2.5 0a1.25 1.25 0 1 0 -2.5 0M618.8 258.3a1.25 1.25 0 1 0 2.5 0a1.25 1.25 0 1 0 -2.5 0M623.4 258.3a1.25 1.25 0 1 0 2.5 0a1.25 1.25 0 1 0 -2.5 0M628 258.3a1.25 1.25 0 1 0 2.5 0a1.25 1.25 0 1 0 -2.5 0M632.5 258.3a1.25 1.25 0 1 0 2.5 0a1.25 1.25 0 1 0 -2.5 0M637.2 258.3a1.25 1.25 0 1 0 2.5 0a1.25 1.25 0 1 0 -2.5 0M641.8 258.3a1.25 1.25 0 1 0 2.5 0a1.25 1.25 0 1 0 -2.5 0M646.4 258.3a1.25 1.25 0 1 0 2.5 0a1.25 1.25 0 1 0 -2.5 0M651 258.3a1.25 1.25 0 1 0 2.5 0a1.25 1.25 0 1 0 -2.5 0M496.9 262.3a1.25 1.25 0 1 0 2.5 0a1.25 1.25 0 1 0 -2.5 0M501.5 262.3a1.25 1.25 0 1 0 2.5 0a1.25 1.25 0 1 0 -2.5 0M506.1 262.3a1.25 1.25 0 1 0 2.5 0a1.25 1.25 0 1 0 -2.5 0M510.7 262.3a1.25 1.25 0 1 0 2.5 0a1.25 1.25 0 1 0 -2.5 0M515.2 262.3a1.25 1.25 0 1 0 2.5 0a1.25 1.25 0 1 0 -2.5 0M519.9 262.3a1.25 1.25 0 1 0 2.5 0a1.25 1.25 0 1 0 -2.5 0M524.5 262.3a1.25 1.25 0 1 0 2.5 0a1.25 1.25 0 1 0 -2.5 0M529.1 262.3a1.25 1.25 0 1 0 2.5 0a1.25 1.25 0 1 0 -2.5 0M533.6 262.3a1.25 1.25 0 1 0 2.5 0a1.25 1.25 0 1 0 -2.5 0M538.2 262.3a1.25 1.25 0 1 0 2.5 0a1.25 1.25 0 1 0 -2.5 0M542.9 262.3a1.25 1.25 0 1 0 2.5 0a1.25 1.25 0 1 0 -2.5 0M547.5 262.3a1.25 1.25 0 1 0 2.5 0a1.25 1.25 0 1 0 -2.5 0M552.1 262.3a1.25 1.25 0 1 0 2.5 0a1.25 1.25 0 1 0 -2.5 0M556.6 262.3a1.25 1.25 0 1 0 2.5 0a1.25 1.25 0 1 0 -2.5 0M561.2 262.3a1.25 1.25 0 1 0 2.5 0a1.25 1.25 0 1 0 -2.5 0M565.9 262.3a1.25 1.25 0 1 0 2.5 0a1.25 1.25 0 1 0 -2.5 0M570.5 262.3a1.25 1.25 0 1 0 2.5 0a1.25 1.25 0 1 0 -2.5 0M575 262.3a1.25 1.25 0 1 0 2.5 0a1.25 1.25 0 1 0 -2.5 0M579.6 262.3a1.25 1.25 0 1 0 2.5 0a1.25 1.25 0 1 0 -2.5 0M584.2 262.3a1.25 1.25 0 1 0 2.5 0a1.25 1.25 0 1 0 -2.5 0M588.9 262.3a1.25 1.25 0 1 0 2.5 0a1.25 1.25 0 1 0 -2.5 0M593.5 262.3a1.25 1.25 0 1 0 2.5 0a1.25 1.25 0 1 0 -2.5 0M598 262.3a1.25 1.25 0 1 0 2.5 0a1.25 1.25 0 1 0 -2.5 0M602.6 262.3a1.25 1.25 0 1 0 2.5 0a1.25 1.25 0 1 0 -2.5 0M607.2 262.3a1.25 1.25 0 1 0 2.5 0a1.25 1.25 0 1 0 -2.5 0M611.9 262.3a1.25 1.25 0 1 0 2.5 0a1.25 1.25 0 1 0 -2.5 0M616.5 262.3a1.25 1.25 0 1 0 2.5 0a1.25 1.25 0 1 0 -2.5 0M621 262.3a1.25 1.25 0 1 0 2.5 0a1.25 1.25 0 1 0 -2.5 0M625.6 262.3a1.25 1.25 0 1 0 2.5 0a1.25 1.25 0 1 0 -2.5 0M630.2 262.3a1.25 1.25 0 1 0 2.5 0a1.25 1.25 0 1 0 -2.5 0M634.9 262.3a1.25 1.25 0 1 0 2.5 0a1.25 1.25 0 1 0 -2.5 0M639.5 262.3a1.25 1.25 0 1 0 2.5 0a1.25 1.25 0 1 0 -2.5 0M644 262.3a1.25 1.25 0 1 0 2.5 0a1.25 1.25 0 1 0 -2.5 0M648.6 262.3a1.25 1.25 0 1 0 2.5 0a1.25 1.25 0 1 0 -2.5 0M653.2 262.3a1.25 1.25 0 1 0 2.5 0a1.25 1.25 0 1 0 -2.5 0M494.6 266.3a1.25 1.25 0 1 0 2.5 0a1.25 1.25 0 1 0 -2.5 0M499.2 266.3a1.25 1.25 0 1 0 2.5 0a1.25 1.25 0 1 0 -2.5 0M503.8 266.3a1.25 1.25 0 1 0 2.5 0a1.25 1.25 0 1 0 -2.5 0M508.4 266.3a1.25 1.25 0 1 0 2.5 0a1.25 1.25 0 1 0 -2.5 0M513 266.3a1.25 1.25 0 1 0 2.5 0a1.25 1.25 0 1 0 -2.5 0M517.6 266.3a1.25 1.25 0 1 0 2.5 0a1.25 1.25 0 1 0 -2.5 0M522.2 266.3a1.25 1.25 0 1 0 2.5 0a1.25 1.25 0 1 0 -2.5 0M526.8 266.3a1.25 1.25 0 1 0 2.5 0a1.25 1.25 0 1 0 -2.5 0M531.4 266.3a1.25 1.25 0 1 0 2.5 0a1.25 1.25 0 1 0 -2.5 0M536 266.3a1.25 1.25 0 1 0 2.5 0a1.25 1.25 0 1 0 -2.5 0M540.6 266.3a1.25 1.25 0 1 0 2.5 0a1.25 1.25 0 1 0 -2.5 0M545.2 266.3a1.25 1.25 0 1 0 2.5 0a1.25 1.25 0 1 0 -2.5 0M549.8 266.3a1.25 1.25 0 1 0 2.5 0a1.25 1.25 0 1 0 -2.5 0M554.4 266.3a1.25 1.25 0 1 0 2.5 0a1.25 1.25 0 1 0 -2.5 0M559 266.3a1.25 1.25 0 1 0 2.5 0a1.25 1.25 0 1 0 -2.5 0M563.6 266.3a1.25 1.25 0 1 0 2.5 0a1.25 1.25 0 1 0 -2.5 0M568.2 266.3a1.25 1.25 0 1 0 2.5 0a1.25 1.25 0 1 0 -2.5 0M572.8 266.3a1.25 1.25 0 1 0 2.5 0a1.25 1.25 0 1 0 -2.5 0M577.4 266.3a1.25 1.25 0 1 0 2.5 0a1.25 1.25 0 1 0 -2.5 0M582 266.3a1.25 1.25 0 1 0 2.5 0a1.25 1.25 0 1 0 -2.5 0M586.6 266.3a1.25 1.25 0 1 0 2.5 0a1.25 1.25 0 1 0 -2.5 0M591.2 266.3a1.25 1.25 0 1 0 2.5 0a1.25 1.25 0 1 0 -2.5 0M595.8 266.3a1.25 1.25 0 1 0 2.5 0a1.25 1.25 0 1 0 -2.5 0M600.4 266.3a1.25 1.25 0 1 0 2.5 0a1.25 1.25 0 1 0 -2.5 0M605 266.3a1.25 1.25 0 1 0 2.5 0a1.25 1.25 0 1 0 -2.5 0M609.6 266.3a1.25 1.25 0 1 0 2.5 0a1.25 1.25 0 1 0 -2.5 0M614.1 266.3a1.25 1.25 0 1 0 2.5 0a1.25 1.25 0 1 0 -2.5 0M618.8 266.3a1.25 1.25 0 1 0 2.5 0a1.25 1.25 0 1 0 -2.5 0M623.4 266.3a1.25 1.25 0 1 0 2.5 0a1.25 1.25 0 1 0 -2.5 0M628 266.3a1.25 1.25 0 1 0 2.5 0a1.25 1.25 0 1 0 -2.5 0M632.5 266.3a1.25 1.25 0 1 0 2.5 0a1.25 1.25 0 1 0 -2.5 0M637.2 266.3a1.25 1.25 0 1 0 2.5 0a1.25 1.25 0 1 0 -2.5 0M641.8 266.3a1.25 1.25 0 1 0 2.5 0a1.25 1.25 0 1 0 -2.5 0M646.4 266.3a1.25 1.25 0 1 0 2.5 0a1.25 1.25 0 1 0 -2.5 0M651 266.3a1.25 1.25 0 1 0 2.5 0a1.25 1.25 0 1 0 -2.5 0M496.9 270.3a1.25 1.25 0 1 0 2.5 0a1.25 1.25 0 1 0 -2.5 0M501.5 270.3a1.25 1.25 0 1 0 2.5 0a1.25 1.25 0 1 0 -2.5 0M506.1 270.3a1.25 1.25 0 1 0 2.5 0a1.25 1.25 0 1 0 -2.5 0M510.7 270.3a1.25 1.25 0 1 0 2.5 0a1.25 1.25 0 1 0 -2.5 0M515.2 270.3a1.25 1.25 0 1 0 2.5 0a1.25 1.25 0 1 0 -2.5 0M519.9 270.3a1.25 1.25 0 1 0 2.5 0a1.25 1.25 0 1 0 -2.5 0M524.5 270.3a1.25 1.25 0 1 0 2.5 0a1.25 1.25 0 1 0 -2.5 0M529.1 270.3a1.25 1.25 0 1 0 2.5 0a1.25 1.25 0 1 0 -2.5 0M533.6 270.3a1.25 1.25 0 1 0 2.5 0a1.25 1.25 0 1 0 -2.5 0M538.2 270.3a1.25 1.25 0 1 0 2.5 0a1.25 1.25 0 1 0 -2.5 0M542.9 270.3a1.25 1.25 0 1 0 2.5 0a1.25 1.25 0 1 0 -2.5 0M547.5 270.3a1.25 1.25 0 1 0 2.5 0a1.25 1.25 0 1 0 -2.5 0M552.1 270.3a1.25 1.25 0 1 0 2.5 0a1.25 1.25 0 1 0 -2.5 0M556.6 270.3a1.25 1.25 0 1 0 2.5 0a1.25 1.25 0 1 0 -2.5 0M561.2 270.3a1.25 1.25 0 1 0 2.5 0a1.25 1.25 0 1 0 -2.5 0M565.9 270.3a1.25 1.25 0 1 0 2.5 0a1.25 1.25 0 1 0 -2.5 0M570.5 270.3a1.25 1.25 0 1 0 2.5 0a1.25 1.25 0 1 0 -2.5 0M575 270.3a1.25 1.25 0 1 0 2.5 0a1.25 1.25 0 1 0 -2.5 0M579.6 270.3a1.25 1.25 0 1 0 2.5 0a1.25 1.25 0 1 0 -2.5 0M584.2 270.3a1.25 1.25 0 1 0 2.5 0a1.25 1.25 0 1 0 -2.5 0M588.9 270.3a1.25 1.25 0 1 0 2.5 0a1.25 1.25 0 1 0 -2.5 0M593.5 270.3a1.25 1.25 0 1 0 2.5 0a1.25 1.25 0 1 0 -2.5 0M598 270.3a1.25 1.25 0 1 0 2.5 0a1.25 1.25 0 1 0 -2.5 0M602.6 270.3a1.25 1.25 0 1 0 2.5 0a1.25 1.25 0 1 0 -2.5 0M607.2 270.3a1.25 1.25 0 1 0 2.5 0a1.25 1.25 0 1 0 -2.5 0M611.9 270.3a1.25 1.25 0 1 0 2.5 0a1.25 1.25 0 1 0 -2.5 0M616.5 270.3a1.25 1.25 0 1 0 2.5 0a1.25 1.25 0 1 0 -2.5 0M621 270.3a1.25 1.25 0 1 0 2.5 0a1.25 1.25 0 1 0 -2.5 0M625.6 270.3a1.25 1.25 0 1 0 2.5 0a1.25 1.25 0 1 0 -2.5 0M630.2 270.3a1.25 1.25 0 1 0 2.5 0a1.25 1.25 0 1 0 -2.5 0M634.9 270.3a1.25 1.25 0 1 0 2.5 0a1.25 1.25 0 1 0 -2.5 0M639.5 270.3a1.25 1.25 0 1 0 2.5 0a1.25 1.25 0 1 0 -2.5 0M644 270.3a1.25 1.25 0 1 0 2.5 0a1.25 1.25 0 1 0 -2.5 0M648.6 270.3a1.25 1.25 0 1 0 2.5 0a1.25 1.25 0 1 0 -2.5 0M653.2 270.3a1.25 1.25 0 1 0 2.5 0a1.25 1.25 0 1 0 -2.5 0M494.6 274.3a1.25 1.25 0 1 0 2.5 0a1.25 1.25 0 1 0 -2.5 0M499.2 274.3a1.25 1.25 0 1 0 2.5 0a1.25 1.25 0 1 0 -2.5 0M503.8 274.3a1.25 1.25 0 1 0 2.5 0a1.25 1.25 0 1 0 -2.5 0M508.4 274.3a1.25 1.25 0 1 0 2.5 0a1.25 1.25 0 1 0 -2.5 0M513 274.3a1.25 1.25 0 1 0 2.5 0a1.25 1.25 0 1 0 -2.5 0M517.6 274.3a1.25 1.25 0 1 0 2.5 0a1.25 1.25 0 1 0 -2.5 0M522.2 274.3a1.25 1.25 0 1 0 2.5 0a1.25 1.25 0 1 0 -2.5 0M526.8 274.3a1.25 1.25 0 1 0 2.5 0a1.25 1.25 0 1 0 -2.5 0M531.4 274.3a1.25 1.25 0 1 0 2.5 0a1.25 1.25 0 1 0 -2.5 0M536 274.3a1.25 1.25 0 1 0 2.5 0a1.25 1.25 0 1 0 -2.5 0M540.6 274.3a1.25 1.25 0 1 0 2.5 0a1.25 1.25 0 1 0 -2.5 0M545.2 274.3a1.25 1.25 0 1 0 2.5 0a1.25 1.25 0 1 0 -2.5 0M549.8 274.3a1.25 1.25 0 1 0 2.5 0a1.25 1.25 0 1 0 -2.5 0M554.4 274.3a1.25 1.25 0 1 0 2.5 0a1.25 1.25 0 1 0 -2.5 0M559 274.3a1.25 1.25 0 1 0 2.5 0a1.25 1.25 0 1 0 -2.5 0M563.6 274.3a1.25 1.25 0 1 0 2.5 0a1.25 1.25 0 1 0 -2.5 0M568.2 274.3a1.25 1.25 0 1 0 2.5 0a1.25 1.25 0 1 0 -2.5 0M572.8 274.3a1.25 1.25 0 1 0 2.5 0a1.25 1.25 0 1 0 -2.5 0M577.4 274.3a1.25 1.25 0 1 0 2.5 0a1.25 1.25 0 1 0 -2.5 0M582 274.3a1.25 1.25 0 1 0 2.5 0a1.25 1.25 0 1 0 -2.5 0M586.6 274.3a1.25 1.25 0 1 0 2.5 0a1.25 1.25 0 1 0 -2.5 0M591.2 274.3a1.25 1.25 0 1 0 2.5 0a1.25 1.25 0 1 0 -2.5 0M595.8 274.3a1.25 1.25 0 1 0 2.5 0a1.25 1.25 0 1 0 -2.5 0M600.4 274.3a1.25 1.25 0 1 0 2.5 0a1.25 1.25 0 1 0 -2.5 0M605 274.3a1.25 1.25 0 1 0 2.5 0a1.25 1.25 0 1 0 -2.5 0M609.6 274.3a1.25 1.25 0 1 0 2.5 0a1.25 1.25 0 1 0 -2.5 0M614.1 274.3a1.25 1.25 0 1 0 2.5 0a1.25 1.25 0 1 0 -2.5 0M618.8 274.3a1.25 1.25 0 1 0 2.5 0a1.25 1.25 0 1 0 -2.5 0M623.4 274.3a1.25 1.25 0 1 0 2.5 0a1.25 1.25 0 1 0 -2.5 0M628 274.3a1.25 1.25 0 1 0 2.5 0a1.25 1.25 0 1 0 -2.5 0M632.5 274.3a1.25 1.25 0 1 0 2.5 0a1.25 1.25 0 1 0 -2.5 0M637.2 274.3a1.25 1.25 0 1 0 2.5 0a1.25 1.25 0 1 0 -2.5 0M641.8 274.3a1.25 1.25 0 1 0 2.5 0a1.25 1.25 0 1 0 -2.5 0M646.4 274.3a1.25 1.25 0 1 0 2.5 0a1.25 1.25 0 1 0 -2.5 0M651 274.3a1.25 1.25 0 1 0 2.5 0a1.25 1.25 0 1 0 -2.5 0M496.9 278.3a1.25 1.25 0 1 0 2.5 0a1.25 1.25 0 1 0 -2.5 0M501.5 278.3a1.25 1.25 0 1 0 2.5 0a1.25 1.25 0 1 0 -2.5 0M506.1 278.3a1.25 1.25 0 1 0 2.5 0a1.25 1.25 0 1 0 -2.5 0M510.7 278.3a1.25 1.25 0 1 0 2.5 0a1.25 1.25 0 1 0 -2.5 0M515.2 278.3a1.25 1.25 0 1 0 2.5 0a1.25 1.25 0 1 0 -2.5 0M519.9 278.3a1.25 1.25 0 1 0 2.5 0a1.25 1.25 0 1 0 -2.5 0M524.5 278.3a1.25 1.25 0 1 0 2.5 0a1.25 1.25 0 1 0 -2.5 0M529.1 278.3a1.25 1.25 0 1 0 2.5 0a1.25 1.25 0 1 0 -2.5 0M533.6 278.3a1.25 1.25 0 1 0 2.5 0a1.25 1.25 0 1 0 -2.5 0M538.2 278.3a1.25 1.25 0 1 0 2.5 0a1.25 1.25 0 1 0 -2.5 0M542.9 278.3a1.25 1.25 0 1 0 2.5 0a1.25 1.25 0 1 0 -2.5 0M547.5 278.3a1.25 1.25 0 1 0 2.5 0a1.25 1.25 0 1 0 -2.5 0M552.1 278.3a1.25 1.25 0 1 0 2.5 0a1.25 1.25 0 1 0 -2.5 0M556.6 278.3a1.25 1.25 0 1 0 2.5 0a1.25 1.25 0 1 0 -2.5 0M561.2 278.3a1.25 1.25 0 1 0 2.5 0a1.25 1.25 0 1 0 -2.5 0M565.9 278.3a1.25 1.25 0 1 0 2.5 0a1.25 1.25 0 1 0 -2.5 0M570.5 278.3a1.25 1.25 0 1 0 2.5 0a1.25 1.25 0 1 0 -2.5 0M575 278.3a1.25 1.25 0 1 0 2.5 0a1.25 1.25 0 1 0 -2.5 0M579.6 278.3a1.25 1.25 0 1 0 2.5 0a1.25 1.25 0 1 0 -2.5 0M584.2 278.3a1.25 1.25 0 1 0 2.5 0a1.25 1.25 0 1 0 -2.5 0M588.9 278.3a1.25 1.25 0 1 0 2.5 0a1.25 1.25 0 1 0 -2.5 0M593.5 278.3a1.25 1.25 0 1 0 2.5 0a1.25 1.25 0 1 0 -2.5 0M598 278.3a1.25 1.25 0 1 0 2.5 0a1.25 1.25 0 1 0 -2.5 0M602.6 278.3a1.25 1.25 0 1 0 2.5 0a1.25 1.25 0 1 0 -2.5 0M607.2 278.3a1.25 1.25 0 1 0 2.5 0a1.25 1.25 0 1 0 -2.5 0M611.9 278.3a1.25 1.25 0 1 0 2.5 0a1.25 1.25 0 1 0 -2.5 0M616.5 278.3a1.25 1.25 0 1 0 2.5 0a1.25 1.25 0 1 0 -2.5 0M621 278.3a1.25 1.25 0 1 0 2.5 0a1.25 1.25 0 1 0 -2.5 0M625.6 278.3a1.25 1.25 0 1 0 2.5 0a1.25 1.25 0 1 0 -2.5 0M630.2 278.3a1.25 1.25 0 1 0 2.5 0a1.25 1.25 0 1 0 -2.5 0M634.9 278.3a1.25 1.25 0 1 0 2.5 0a1.25 1.25 0 1 0 -2.5 0M639.5 278.3a1.25 1.25 0 1 0 2.5 0a1.25 1.25 0 1 0 -2.5 0M644 278.3a1.25 1.25 0 1 0 2.5 0a1.25 1.25 0 1 0 -2.5 0M648.6 278.3a1.25 1.25 0 1 0 2.5 0a1.25 1.25 0 1 0 -2.5 0M653.2 278.3a1.25 1.25 0 1 0 2.5 0a1.25 1.25 0 1 0 -2.5 0M494.6 282.3a1.25 1.25 0 1 0 2.5 0a1.25 1.25 0 1 0 -2.5 0M499.2 282.3a1.25 1.25 0 1 0 2.5 0a1.25 1.25 0 1 0 -2.5 0M503.8 282.3a1.25 1.25 0 1 0 2.5 0a1.25 1.25 0 1 0 -2.5 0M508.4 282.3a1.25 1.25 0 1 0 2.5 0a1.25 1.25 0 1 0 -2.5 0M513 282.3a1.25 1.25 0 1 0 2.5 0a1.25 1.25 0 1 0 -2.5 0M517.6 282.3a1.25 1.25 0 1 0 2.5 0a1.25 1.25 0 1 0 -2.5 0M522.2 282.3a1.25 1.25 0 1 0 2.5 0a1.25 1.25 0 1 0 -2.5 0M526.8 282.3a1.25 1.25 0 1 0 2.5 0a1.25 1.25 0 1 0 -2.5 0M531.4 282.3a1.25 1.25 0 1 0 2.5 0a1.25 1.25 0 1 0 -2.5 0M536 282.3a1.25 1.25 0 1 0 2.5 0a1.25 1.25 0 1 0 -2.5 0M540.6 282.3a1.25 1.25 0 1 0 2.5 0a1.25 1.25 0 1 0 -2.5 0M545.2 282.3a1.25 1.25 0 1 0 2.5 0a1.25 1.25 0 1 0 -2.5 0M549.8 282.3a1.25 1.25 0 1 0 2.5 0a1.25 1.25 0 1 0 -2.5 0M554.4 282.3a1.25 1.25 0 1 0 2.5 0a1.25 1.25 0 1 0 -2.5 0M559 282.3a1.25 1.25 0 1 0 2.5 0a1.25 1.25 0 1 0 -2.5 0M563.6 282.3a1.25 1.25 0 1 0 2.5 0a1.25 1.25 0 1 0 -2.5 0M568.2 282.3a1.25 1.25 0 1 0 2.5 0a1.25 1.25 0 1 0 -2.5 0M572.8 282.3a1.25 1.25 0 1 0 2.5 0a1.25 1.25 0 1 0 -2.5 0M577.4 282.3a1.25 1.25 0 1 0 2.5 0a1.25 1.25 0 1 0 -2.5 0M582 282.3a1.25 1.25 0 1 0 2.5 0a1.25 1.25 0 1 0 -2.5 0M586.6 282.3a1.25 1.25 0 1 0 2.5 0a1.25 1.25 0 1 0 -2.5 0M591.2 282.3a1.25 1.25 0 1 0 2.5 0a1.25 1.25 0 1 0 -2.5 0M595.8 282.3a1.25 1.25 0 1 0 2.5 0a1.25 1.25 0 1 0 -2.5 0M600.4 282.3a1.25 1.25 0 1 0 2.5 0a1.25 1.25 0 1 0 -2.5 0M605 282.3a1.25 1.25 0 1 0 2.5 0a1.25 1.25 0 1 0 -2.5 0M609.6 282.3a1.25 1.25 0 1 0 2.5 0a1.25 1.25 0 1 0 -2.5 0M614.1 282.3a1.25 1.25 0 1 0 2.5 0a1.25 1.25 0 1 0 -2.5 0M618.8 282.3a1.25 1.25 0 1 0 2.5 0a1.25 1.25 0 1 0 -2.5 0M623.4 282.3a1.25 1.25 0 1 0 2.5 0a1.25 1.25 0 1 0 -2.5 0M628 282.3a1.25 1.25 0 1 0 2.5 0a1.25 1.25 0 1 0 -2.5 0M632.5 282.3a1.25 1.25 0 1 0 2.5 0a1.25 1.25 0 1 0 -2.5 0M637.2 282.3a1.25 1.25 0 1 0 2.5 0a1.25 1.25 0 1 0 -2.5 0M641.8 282.3a1.25 1.25 0 1 0 2.5 0a1.25 1.25 0 1 0 -2.5 0M646.4 282.3a1.25 1.25 0 1 0 2.5 0a1.25 1.25 0 1 0 -2.5 0M651 282.3a1.25 1.25 0 1 0 2.5 0a1.25 1.25 0 1 0 -2.5 0M496.9 286.3a1.25 1.25 0 1 0 2.5 0a1.25 1.25 0 1 0 -2.5 0M501.5 286.3a1.25 1.25 0 1 0 2.5 0a1.25 1.25 0 1 0 -2.5 0M506.1 286.3a1.25 1.25 0 1 0 2.5 0a1.25 1.25 0 1 0 -2.5 0M510.7 286.3a1.25 1.25 0 1 0 2.5 0a1.25 1.25 0 1 0 -2.5 0M515.2 286.3a1.25 1.25 0 1 0 2.5 0a1.25 1.25 0 1 0 -2.5 0M519.9 286.3a1.25 1.25 0 1 0 2.5 0a1.25 1.25 0 1 0 -2.5 0M524.5 286.3a1.25 1.25 0 1 0 2.5 0a1.25 1.25 0 1 0 -2.5 0M529.1 286.3a1.25 1.25 0 1 0 2.5 0a1.25 1.25 0 1 0 -2.5 0M533.6 286.3a1.25 1.25 0 1 0 2.5 0a1.25 1.25 0 1 0 -2.5 0M538.2 286.3a1.25 1.25 0 1 0 2.5 0a1.25 1.25 0 1 0 -2.5 0M542.9 286.3a1.25 1.25 0 1 0 2.5 0a1.25 1.25 0 1 0 -2.5 0M547.5 286.3a1.25 1.25 0 1 0 2.5 0a1.25 1.25 0 1 0 -2.5 0M552.1 286.3a1.25 1.25 0 1 0 2.5 0a1.25 1.25 0 1 0 -2.5 0M556.6 286.3a1.25 1.25 0 1 0 2.5 0a1.25 1.25 0 1 0 -2.5 0M561.2 286.3a1.25 1.25 0 1 0 2.5 0a1.25 1.25 0 1 0 -2.5 0M565.9 286.3a1.25 1.25 0 1 0 2.5 0a1.25 1.25 0 1 0 -2.5 0M570.5 286.3a1.25 1.25 0 1 0 2.5 0a1.25 1.25 0 1 0 -2.5 0M575 286.3a1.25 1.25 0 1 0 2.5 0a1.25 1.25 0 1 0 -2.5 0M579.6 286.3a1.25 1.25 0 1 0 2.5 0a1.25 1.25 0 1 0 -2.5 0M584.2 286.3a1.25 1.25 0 1 0 2.5 0a1.25 1.25 0 1 0 -2.5 0M588.9 286.3a1.25 1.25 0 1 0 2.5 0a1.25 1.25 0 1 0 -2.5 0M593.5 286.3a1.25 1.25 0 1 0 2.5 0a1.25 1.25 0 1 0 -2.5 0M598 286.3a1.25 1.25 0 1 0 2.5 0a1.25 1.25 0 1 0 -2.5 0M602.6 286.3a1.25 1.25 0 1 0 2.5 0a1.25 1.25 0 1 0 -2.5 0M607.2 286.3a1.25 1.25 0 1 0 2.5 0a1.25 1.25 0 1 0 -2.5 0M611.9 286.3a1.25 1.25 0 1 0 2.5 0a1.25 1.25 0 1 0 -2.5 0M616.5 286.3a1.25 1.25 0 1 0 2.5 0a1.25 1.25 0 1 0 -2.5 0M621 286.3a1.25 1.25 0 1 0 2.5 0a1.25 1.25 0 1 0 -2.5 0M625.6 286.3a1.25 1.25 0 1 0 2.5 0a1.25 1.25 0 1 0 -2.5 0M630.2 286.3a1.25 1.25 0 1 0 2.5 0a1.25 1.25 0 1 0 -2.5 0M634.9 286.3a1.25 1.25 0 1 0 2.5 0a1.25 1.25 0 1 0 -2.5 0M639.5 286.3a1.25 1.25 0 1 0 2.5 0a1.25 1.25 0 1 0 -2.5 0M644 286.3a1.25 1.25 0 1 0 2.5 0a1.25 1.25 0 1 0 -2.5 0M648.6 286.3a1.25 1.25 0 1 0 2.5 0a1.25 1.25 0 1 0 -2.5 0M653.2 286.3a1.25 1.25 0 1 0 2.5 0a1.25 1.25 0 1 0 -2.5 0M494.6 290.3a1.25 1.25 0 1 0 2.5 0a1.25 1.25 0 1 0 -2.5 0M499.2 290.3a1.25 1.25 0 1 0 2.5 0a1.25 1.25 0 1 0 -2.5 0M503.8 290.3a1.25 1.25 0 1 0 2.5 0a1.25 1.25 0 1 0 -2.5 0M508.4 290.3a1.25 1.25 0 1 0 2.5 0a1.25 1.25 0 1 0 -2.5 0M513 290.3a1.25 1.25 0 1 0 2.5 0a1.25 1.25 0 1 0 -2.5 0M517.6 290.3a1.25 1.25 0 1 0 2.5 0a1.25 1.25 0 1 0 -2.5 0M522.2 290.3a1.25 1.25 0 1 0 2.5 0a1.25 1.25 0 1 0 -2.5 0M526.8 290.3a1.25 1.25 0 1 0 2.5 0a1.25 1.25 0 1 0 -2.5 0M531.4 290.3a1.25 1.25 0 1 0 2.5 0a1.25 1.25 0 1 0 -2.5 0M536 290.3a1.25 1.25 0 1 0 2.5 0a1.25 1.25 0 1 0 -2.5 0M540.6 290.3a1.25 1.25 0 1 0 2.5 0a1.25 1.25 0 1 0 -2.5 0M545.2 290.3a1.25 1.25 0 1 0 2.5 0a1.25 1.25 0 1 0 -2.5 0M549.8 290.3a1.25 1.25 0 1 0 2.5 0a1.25 1.25 0 1 0 -2.5 0M554.4 290.3a1.25 1.25 0 1 0 2.5 0a1.25 1.25 0 1 0 -2.5 0M559 290.3a1.25 1.25 0 1 0 2.5 0a1.25 1.25 0 1 0 -2.5 0M563.6 290.3a1.25 1.25 0 1 0 2.5 0a1.25 1.25 0 1 0 -2.5 0M568.2 290.3a1.25 1.25 0 1 0 2.5 0a1.25 1.25 0 1 0 -2.5 0M572.8 290.3a1.25 1.25 0 1 0 2.5 0a1.25 1.25 0 1 0 -2.5 0M577.4 290.3a1.25 1.25 0 1 0 2.5 0a1.25 1.25 0 1 0 -2.5 0M582 290.3a1.25 1.25 0 1 0 2.5 0a1.25 1.25 0 1 0 -2.5 0M586.6 290.3a1.25 1.25 0 1 0 2.5 0a1.25 1.25 0 1 0 -2.5 0M591.2 290.3a1.25 1.25 0 1 0 2.5 0a1.25 1.25 0 1 0 -2.5 0M595.8 290.3a1.25 1.25 0 1 0 2.5 0a1.25 1.25 0 1 0 -2.5 0M600.4 290.3a1.25 1.25 0 1 0 2.5 0a1.25 1.25 0 1 0 -2.5 0M605 290.3a1.25 1.25 0 1 0 2.5 0a1.25 1.25 0 1 0 -2.5 0M609.6 290.3a1.25 1.25 0 1 0 2.5 0a1.25 1.25 0 1 0 -2.5 0M614.1 290.3a1.25 1.25 0 1 0 2.5 0a1.25 1.25 0 1 0 -2.5 0M618.8 290.3a1.25 1.25 0 1 0 2.5 0a1.25 1.25 0 1 0 -2.5 0M623.4 290.3a1.25 1.25 0 1 0 2.5 0a1.25 1.25 0 1 0 -2.5 0M628 290.3a1.25 1.25 0 1 0 2.5 0a1.25 1.25 0 1 0 -2.5 0M632.5 290.3a1.25 1.25 0 1 0 2.5 0a1.25 1.25 0 1 0 -2.5 0M637.2 290.3a1.25 1.25 0 1 0 2.5 0a1.25 1.25 0 1 0 -2.5 0M641.8 290.3a1.25 1.25 0 1 0 2.5 0a1.25 1.25 0 1 0 -2.5 0M646.4 290.3a1.25 1.25 0 1 0 2.5 0a1.25 1.25 0 1 0 -2.5 0M651 290.3a1.25 1.25 0 1 0 2.5 0a1.25 1.25 0 1 0 -2.5 0M496.9 294.3a1.25 1.25 0 1 0 2.5 0a1.25 1.25 0 1 0 -2.5 0M501.5 294.3a1.25 1.25 0 1 0 2.5 0a1.25 1.25 0 1 0 -2.5 0M506.1 294.3a1.25 1.25 0 1 0 2.5 0a1.25 1.25 0 1 0 -2.5 0M510.7 294.3a1.25 1.25 0 1 0 2.5 0a1.25 1.25 0 1 0 -2.5 0M515.2 294.3a1.25 1.25 0 1 0 2.5 0a1.25 1.25 0 1 0 -2.5 0M519.9 294.3a1.25 1.25 0 1 0 2.5 0a1.25 1.25 0 1 0 -2.5 0M524.5 294.3a1.25 1.25 0 1 0 2.5 0a1.25 1.25 0 1 0 -2.5 0M529.1 294.3a1.25 1.25 0 1 0 2.5 0a1.25 1.25 0 1 0 -2.5 0M533.6 294.3a1.25 1.25 0 1 0 2.5 0a1.25 1.25 0 1 0 -2.5 0M538.2 294.3a1.25 1.25 0 1 0 2.5 0a1.25 1.25 0 1 0 -2.5 0M542.9 294.3a1.25 1.25 0 1 0 2.5 0a1.25 1.25 0 1 0 -2.5 0M547.5 294.3a1.25 1.25 0 1 0 2.5 0a1.25 1.25 0 1 0 -2.5 0M552.1 294.3a1.25 1.25 0 1 0 2.5 0a1.25 1.25 0 1 0 -2.5 0M556.6 294.3a1.25 1.25 0 1 0 2.5 0a1.25 1.25 0 1 0 -2.5 0M561.2 294.3a1.25 1.25 0 1 0 2.5 0a1.25 1.25 0 1 0 -2.5 0M565.9 294.3a1.25 1.25 0 1 0 2.5 0a1.25 1.25 0 1 0 -2.5 0M570.5 294.3a1.25 1.25 0 1 0 2.5 0a1.25 1.25 0 1 0 -2.5 0M575 294.3a1.25 1.25 0 1 0 2.5 0a1.25 1.25 0 1 0 -2.5 0M579.6 294.3a1.25 1.25 0 1 0 2.5 0a1.25 1.25 0 1 0 -2.5 0M584.2 294.3a1.25 1.25 0 1 0 2.5 0a1.25 1.25 0 1 0 -2.5 0M588.9 294.3a1.25 1.25 0 1 0 2.5 0a1.25 1.25 0 1 0 -2.5 0M593.5 294.3a1.25 1.25 0 1 0 2.5 0a1.25 1.25 0 1 0 -2.5 0M598 294.3a1.25 1.25 0 1 0 2.5 0a1.25 1.25 0 1 0 -2.5 0M602.6 294.3a1.25 1.25 0 1 0 2.5 0a1.25 1.25 0 1 0 -2.5 0M607.2 294.3a1.25 1.25 0 1 0 2.5 0a1.25 1.25 0 1 0 -2.5 0M611.9 294.3a1.25 1.25 0 1 0 2.5 0a1.25 1.25 0 1 0 -2.5 0M616.5 294.3a1.25 1.25 0 1 0 2.5 0a1.25 1.25 0 1 0 -2.5 0M621 294.3a1.25 1.25 0 1 0 2.5 0a1.25 1.25 0 1 0 -2.5 0M625.6 294.3a1.25 1.25 0 1 0 2.5 0a1.25 1.25 0 1 0 -2.5 0M630.2 294.3a1.25 1.25 0 1 0 2.5 0a1.25 1.25 0 1 0 -2.5 0M634.9 294.3a1.25 1.25 0 1 0 2.5 0a1.25 1.25 0 1 0 -2.5 0M639.5 294.3a1.25 1.25 0 1 0 2.5 0a1.25 1.25 0 1 0 -2.5 0M644 294.3a1.25 1.25 0 1 0 2.5 0a1.25 1.25 0 1 0 -2.5 0M648.6 294.3a1.25 1.25 0 1 0 2.5 0a1.25 1.25 0 1 0 -2.5 0M653.2 294.3a1.25 1.25 0 1 0 2.5 0a1.25 1.25 0 1 0 -2.5 0M494.6 298.3a1.25 1.25 0 1 0 2.5 0a1.25 1.25 0 1 0 -2.5 0M499.2 298.3a1.25 1.25 0 1 0 2.5 0a1.25 1.25 0 1 0 -2.5 0M503.8 298.3a1.25 1.25 0 1 0 2.5 0a1.25 1.25 0 1 0 -2.5 0M508.4 298.3a1.25 1.25 0 1 0 2.5 0a1.25 1.25 0 1 0 -2.5 0M513 298.3a1.25 1.25 0 1 0 2.5 0a1.25 1.25 0 1 0 -2.5 0M517.6 298.3a1.25 1.25 0 1 0 2.5 0a1.25 1.25 0 1 0 -2.5 0M522.2 298.3a1.25 1.25 0 1 0 2.5 0a1.25 1.25 0 1 0 -2.5 0M526.8 298.3a1.25 1.25 0 1 0 2.5 0a1.25 1.25 0 1 0 -2.5 0M531.4 298.3a1.25 1.25 0 1 0 2.5 0a1.25 1.25 0 1 0 -2.5 0M536 298.3a1.25 1.25 0 1 0 2.5 0a1.25 1.25 0 1 0 -2.5 0M540.6 298.3a1.25 1.25 0 1 0 2.5 0a1.25 1.25 0 1 0 -2.5 0M545.2 298.3a1.25 1.25 0 1 0 2.5 0a1.25 1.25 0 1 0 -2.5 0M549.8 298.3a1.25 1.25 0 1 0 2.5 0a1.25 1.25 0 1 0 -2.5 0M554.4 298.3a1.25 1.25 0 1 0 2.5 0a1.25 1.25 0 1 0 -2.5 0M559 298.3a1.25 1.25 0 1 0 2.5 0a1.25 1.25 0 1 0 -2.5 0M563.6 298.3a1.25 1.25 0 1 0 2.5 0a1.25 1.25 0 1 0 -2.5 0M568.2 298.3a1.25 1.25 0 1 0 2.5 0a1.25 1.25 0 1 0 -2.5 0M572.8 298.3a1.25 1.25 0 1 0 2.5 0a1.25 1.25 0 1 0 -2.5 0M577.4 298.3a1.25 1.25 0 1 0 2.5 0a1.25 1.25 0 1 0 -2.5 0M582 298.3a1.25 1.25 0 1 0 2.5 0a1.25 1.25 0 1 0 -2.5 0M586.6 298.3a1.25 1.25 0 1 0 2.5 0a1.25 1.25 0 1 0 -2.5 0M591.2 298.3a1.25 1.25 0 1 0 2.5 0a1.25 1.25 0 1 0 -2.5 0M595.8 298.3a1.25 1.25 0 1 0 2.5 0a1.25 1.25 0 1 0 -2.5 0M600.4 298.3a1.25 1.25 0 1 0 2.5 0a1.25 1.25 0 1 0 -2.5 0M605 298.3a1.25 1.25 0 1 0 2.5 0a1.25 1.25 0 1 0 -2.5 0M609.6 298.3a1.25 1.25 0 1 0 2.5 0a1.25 1.25 0 1 0 -2.5 0M614.1 298.3a1.25 1.25 0 1 0 2.5 0a1.25 1.25 0 1 0 -2.5 0M618.8 298.3a1.25 1.25 0 1 0 2.5 0a1.25 1.25 0 1 0 -2.5 0M623.4 298.3a1.25 1.25 0 1 0 2.5 0a1.25 1.25 0 1 0 -2.5 0M628 298.3a1.25 1.25 0 1 0 2.5 0a1.25 1.25 0 1 0 -2.5 0M632.5 298.3a1.25 1.25 0 1 0 2.5 0a1.25 1.25 0 1 0 -2.5 0M637.2 298.3a1.25 1.25 0 1 0 2.5 0a1.25 1.25 0 1 0 -2.5 0M641.8 298.3a1.25 1.25 0 1 0 2.5 0a1.25 1.25 0 1 0 -2.5 0M646.4 298.3a1.25 1.25 0 1 0 2.5 0a1.25 1.25 0 1 0 -2.5 0M651 298.3a1.25 1.25 0 1 0 2.5 0a1.25 1.25 0 1 0 -2.5 0M496.9 302.3a1.25 1.25 0 1 0 2.5 0a1.25 1.25 0 1 0 -2.5 0M501.5 302.3a1.25 1.25 0 1 0 2.5 0a1.25 1.25 0 1 0 -2.5 0M506.1 302.3a1.25 1.25 0 1 0 2.5 0a1.25 1.25 0 1 0 -2.5 0M510.7 302.3a1.25 1.25 0 1 0 2.5 0a1.25 1.25 0 1 0 -2.5 0M515.2 302.3a1.25 1.25 0 1 0 2.5 0a1.25 1.25 0 1 0 -2.5 0M519.9 302.3a1.25 1.25 0 1 0 2.5 0a1.25 1.25 0 1 0 -2.5 0M524.5 302.3a1.25 1.25 0 1 0 2.5 0a1.25 1.25 0 1 0 -2.5 0M529.1 302.3a1.25 1.25 0 1 0 2.5 0a1.25 1.25 0 1 0 -2.5 0M533.6 302.3a1.25 1.25 0 1 0 2.5 0a1.25 1.25 0 1 0 -2.5 0M538.2 302.3a1.25 1.25 0 1 0 2.5 0a1.25 1.25 0 1 0 -2.5 0M542.9 302.3a1.25 1.25 0 1 0 2.5 0a1.25 1.25 0 1 0 -2.5 0M547.5 302.3a1.25 1.25 0 1 0 2.5 0a1.25 1.25 0 1 0 -2.5 0M552.1 302.3a1.25 1.25 0 1 0 2.5 0a1.25 1.25 0 1 0 -2.5 0M556.6 302.3a1.25 1.25 0 1 0 2.5 0a1.25 1.25 0 1 0 -2.5 0M561.2 302.3a1.25 1.25 0 1 0 2.5 0a1.25 1.25 0 1 0 -2.5 0M565.9 302.3a1.25 1.25 0 1 0 2.5 0a1.25 1.25 0 1 0 -2.5 0M570.5 302.3a1.25 1.25 0 1 0 2.5 0a1.25 1.25 0 1 0 -2.5 0M575 302.3a1.25 1.25 0 1 0 2.5 0a1.25 1.25 0 1 0 -2.5 0M579.6 302.3a1.25 1.25 0 1 0 2.5 0a1.25 1.25 0 1 0 -2.5 0M584.2 302.3a1.25 1.25 0 1 0 2.5 0a1.25 1.25 0 1 0 -2.5 0M588.9 302.3a1.25 1.25 0 1 0 2.5 0a1.25 1.25 0 1 0 -2.5 0M593.5 302.3a1.25 1.25 0 1 0 2.5 0a1.25 1.25 0 1 0 -2.5 0M598 302.3a1.25 1.25 0 1 0 2.5 0a1.25 1.25 0 1 0 -2.5 0M602.6 302.3a1.25 1.25 0 1 0 2.5 0a1.25 1.25 0 1 0 -2.5 0M607.2 302.3a1.25 1.25 0 1 0 2.5 0a1.25 1.25 0 1 0 -2.5 0M611.9 302.3a1.25 1.25 0 1 0 2.5 0a1.25 1.25 0 1 0 -2.5 0M616.5 302.3a1.25 1.25 0 1 0 2.5 0a1.25 1.25 0 1 0 -2.5 0M621 302.3a1.25 1.25 0 1 0 2.5 0a1.25 1.25 0 1 0 -2.5 0M625.6 302.3a1.25 1.25 0 1 0 2.5 0a1.25 1.25 0 1 0 -2.5 0M630.2 302.3a1.25 1.25 0 1 0 2.5 0a1.25 1.25 0 1 0 -2.5 0M634.9 302.3a1.25 1.25 0 1 0 2.5 0a1.25 1.25 0 1 0 -2.5 0M639.5 302.3a1.25 1.25 0 1 0 2.5 0a1.25 1.25 0 1 0 -2.5 0M644 302.3a1.25 1.25 0 1 0 2.5 0a1.25 1.25 0 1 0 -2.5 0M648.6 302.3a1.25 1.25 0 1 0 2.5 0a1.25 1.25 0 1 0 -2.5 0M653.2 302.3a1.25 1.25 0 1 0 2.5 0a1.25 1.25 0 1 0 -2.5 0M494.6 306.3a1.25 1.25 0 1 0 2.5 0a1.25 1.25 0 1 0 -2.5 0M499.2 306.3a1.25 1.25 0 1 0 2.5 0a1.25 1.25 0 1 0 -2.5 0M503.8 306.3a1.25 1.25 0 1 0 2.5 0a1.25 1.25 0 1 0 -2.5 0M508.4 306.3a1.25 1.25 0 1 0 2.5 0a1.25 1.25 0 1 0 -2.5 0M513 306.3a1.25 1.25 0 1 0 2.5 0a1.25 1.25 0 1 0 -2.5 0M517.6 306.3a1.25 1.25 0 1 0 2.5 0a1.25 1.25 0 1 0 -2.5 0M522.2 306.3a1.25 1.25 0 1 0 2.5 0a1.25 1.25 0 1 0 -2.5 0M526.8 306.3a1.25 1.25 0 1 0 2.5 0a1.25 1.25 0 1 0 -2.5 0M531.4 306.3a1.25 1.25 0 1 0 2.5 0a1.25 1.25 0 1 0 -2.5 0M536 306.3a1.25 1.25 0 1 0 2.5 0a1.25 1.25 0 1 0 -2.5 0M540.6 306.3a1.25 1.25 0 1 0 2.5 0a1.25 1.25 0 1 0 -2.5 0M545.2 306.3a1.25 1.25 0 1 0 2.5 0a1.25 1.25 0 1 0 -2.5 0M549.8 306.3a1.25 1.25 0 1 0 2.5 0a1.25 1.25 0 1 0 -2.5 0M554.4 306.3a1.25 1.25 0 1 0 2.5 0a1.25 1.25 0 1 0 -2.5 0M559 306.3a1.25 1.25 0 1 0 2.5 0a1.25 1.25 0 1 0 -2.5 0M563.6 306.3a1.25 1.25 0 1 0 2.5 0a1.25 1.25 0 1 0 -2.5 0M568.2 306.3a1.25 1.25 0 1 0 2.5 0a1.25 1.25 0 1 0 -2.5 0M572.8 306.3a1.25 1.25 0 1 0 2.5 0a1.25 1.25 0 1 0 -2.5 0M577.4 306.3a1.25 1.25 0 1 0 2.5 0a1.25 1.25 0 1 0 -2.5 0M582 306.3a1.25 1.25 0 1 0 2.5 0a1.25 1.25 0 1 0 -2.5 0M586.6 306.3a1.25 1.25 0 1 0 2.5 0a1.25 1.25 0 1 0 -2.5 0M591.2 306.3a1.25 1.25 0 1 0 2.5 0a1.25 1.25 0 1 0 -2.5 0M595.8 306.3a1.25 1.25 0 1 0 2.5 0a1.25 1.25 0 1 0 -2.5 0M600.4 306.3a1.25 1.25 0 1 0 2.5 0a1.25 1.25 0 1 0 -2.5 0M605 306.3a1.25 1.25 0 1 0 2.5 0a1.25 1.25 0 1 0 -2.5 0M609.6 306.3a1.25 1.25 0 1 0 2.5 0a1.25 1.25 0 1 0 -2.5 0M614.1 306.3a1.25 1.25 0 1 0 2.5 0a1.25 1.25 0 1 0 -2.5 0M618.8 306.3a1.25 1.25 0 1 0 2.5 0a1.25 1.25 0 1 0 -2.5 0M623.4 306.3a1.25 1.25 0 1 0 2.5 0a1.25 1.25 0 1 0 -2.5 0M628 306.3a1.25 1.25 0 1 0 2.5 0a1.25 1.25 0 1 0 -2.5 0M632.5 306.3a1.25 1.25 0 1 0 2.5 0a1.25 1.25 0 1 0 -2.5 0M637.2 306.3a1.25 1.25 0 1 0 2.5 0a1.25 1.25 0 1 0 -2.5 0M641.8 306.3a1.25 1.25 0 1 0 2.5 0a1.25 1.25 0 1 0 -2.5 0M646.4 306.3a1.25 1.25 0 1 0 2.5 0a1.25 1.25 0 1 0 -2.5 0M651 306.3a1.25 1.25 0 1 0 2.5 0a1.25 1.25 0 1 0 -2.5 0M496.9 310.3a1.25 1.25 0 1 0 2.5 0a1.25 1.25 0 1 0 -2.5 0M501.5 310.3a1.25 1.25 0 1 0 2.5 0a1.25 1.25 0 1 0 -2.5 0M506.1 310.3a1.25 1.25 0 1 0 2.5 0a1.25 1.25 0 1 0 -2.5 0M510.7 310.3a1.25 1.25 0 1 0 2.5 0a1.25 1.25 0 1 0 -2.5 0M515.2 310.3a1.25 1.25 0 1 0 2.5 0a1.25 1.25 0 1 0 -2.5 0M519.9 310.3a1.25 1.25 0 1 0 2.5 0a1.25 1.25 0 1 0 -2.5 0M524.5 310.3a1.25 1.25 0 1 0 2.5 0a1.25 1.25 0 1 0 -2.5 0M529.1 310.3a1.25 1.25 0 1 0 2.5 0a1.25 1.25 0 1 0 -2.5 0M533.6 310.3a1.25 1.25 0 1 0 2.5 0a1.25 1.25 0 1 0 -2.5 0M538.2 310.3a1.25 1.25 0 1 0 2.5 0a1.25 1.25 0 1 0 -2.5 0M542.9 310.3a1.25 1.25 0 1 0 2.5 0a1.25 1.25 0 1 0 -2.5 0M547.5 310.3a1.25 1.25 0 1 0 2.5 0a1.25 1.25 0 1 0 -2.5 0M552.1 310.3a1.25 1.25 0 1 0 2.5 0a1.25 1.25 0 1 0 -2.5 0M556.6 310.3a1.25 1.25 0 1 0 2.5 0a1.25 1.25 0 1 0 -2.5 0M561.2 310.3a1.25 1.25 0 1 0 2.5 0a1.25 1.25 0 1 0 -2.5 0M565.9 310.3a1.25 1.25 0 1 0 2.5 0a1.25 1.25 0 1 0 -2.5 0M570.5 310.3a1.25 1.25 0 1 0 2.5 0a1.25 1.25 0 1 0 -2.5 0M575 310.3a1.25 1.25 0 1 0 2.5 0a1.25 1.25 0 1 0 -2.5 0M579.6 310.3a1.25 1.25 0 1 0 2.5 0a1.25 1.25 0 1 0 -2.5 0M584.2 310.3a1.25 1.25 0 1 0 2.5 0a1.25 1.25 0 1 0 -2.5 0M588.9 310.3a1.25 1.25 0 1 0 2.5 0a1.25 1.25 0 1 0 -2.5 0M593.5 310.3a1.25 1.25 0 1 0 2.5 0a1.25 1.25 0 1 0 -2.5 0M598 310.3a1.25 1.25 0 1 0 2.5 0a1.25 1.25 0 1 0 -2.5 0M602.6 310.3a1.25 1.25 0 1 0 2.5 0a1.25 1.25 0 1 0 -2.5 0M607.2 310.3a1.25 1.25 0 1 0 2.5 0a1.25 1.25 0 1 0 -2.5 0M611.9 310.3a1.25 1.25 0 1 0 2.5 0a1.25 1.25 0 1 0 -2.5 0M616.5 310.3a1.25 1.25 0 1 0 2.5 0a1.25 1.25 0 1 0 -2.5 0M621 310.3a1.25 1.25 0 1 0 2.5 0a1.25 1.25 0 1 0 -2.5 0M625.6 310.3a1.25 1.25 0 1 0 2.5 0a1.25 1.25 0 1 0 -2.5 0M630.2 310.3a1.25 1.25 0 1 0 2.5 0a1.25 1.25 0 1 0 -2.5 0M634.9 310.3a1.25 1.25 0 1 0 2.5 0a1.25 1.25 0 1 0 -2.5 0M639.5 310.3a1.25 1.25 0 1 0 2.5 0a1.25 1.25 0 1 0 -2.5 0M644 310.3a1.25 1.25 0 1 0 2.5 0a1.25 1.25 0 1 0 -2.5 0M648.6 310.3a1.25 1.25 0 1 0 2.5 0a1.25 1.25 0 1 0 -2.5 0M653.2 310.3a1.25 1.25 0 1 0 2.5 0a1.25 1.25 0 1 0 -2.5 0M494.6 314.3a1.25 1.25 0 1 0 2.5 0a1.25 1.25 0 1 0 -2.5 0M499.2 314.3a1.25 1.25 0 1 0 2.5 0a1.25 1.25 0 1 0 -2.5 0M503.8 314.3a1.25 1.25 0 1 0 2.5 0a1.25 1.25 0 1 0 -2.5 0M508.4 314.3a1.25 1.25 0 1 0 2.5 0a1.25 1.25 0 1 0 -2.5 0M513 314.3a1.25 1.25 0 1 0 2.5 0a1.25 1.25 0 1 0 -2.5 0M517.6 314.3a1.25 1.25 0 1 0 2.5 0a1.25 1.25 0 1 0 -2.5 0M522.2 314.3a1.25 1.25 0 1 0 2.5 0a1.25 1.25 0 1 0 -2.5 0M526.8 314.3a1.25 1.25 0 1 0 2.5 0a1.25 1.25 0 1 0 -2.5 0M531.4 314.3a1.25 1.25 0 1 0 2.5 0a1.25 1.25 0 1 0 -2.5 0M536 314.3a1.25 1.25 0 1 0 2.5 0a1.25 1.25 0 1 0 -2.5 0M540.6 314.3a1.25 1.25 0 1 0 2.5 0a1.25 1.25 0 1 0 -2.5 0M545.2 314.3a1.25 1.25 0 1 0 2.5 0a1.25 1.25 0 1 0 -2.5 0M549.8 314.3a1.25 1.25 0 1 0 2.5 0a1.25 1.25 0 1 0 -2.5 0M554.4 314.3a1.25 1.25 0 1 0 2.5 0a1.25 1.25 0 1 0 -2.5 0M559 314.3a1.25 1.25 0 1 0 2.5 0a1.25 1.25 0 1 0 -2.5 0M563.6 314.3a1.25 1.25 0 1 0 2.5 0a1.25 1.25 0 1 0 -2.5 0M568.2 314.3a1.25 1.25 0 1 0 2.5 0a1.25 1.25 0 1 0 -2.5 0M572.8 314.3a1.25 1.25 0 1 0 2.5 0a1.25 1.25 0 1 0 -2.5 0M577.4 314.3a1.25 1.25 0 1 0 2.5 0a1.25 1.25 0 1 0 -2.5 0M582 314.3a1.25 1.25 0 1 0 2.5 0a1.25 1.25 0 1 0 -2.5 0M586.6 314.3a1.25 1.25 0 1 0 2.5 0a1.25 1.25 0 1 0 -2.5 0M591.2 314.3a1.25 1.25 0 1 0 2.5 0a1.25 1.25 0 1 0 -2.5 0M595.8 314.3a1.25 1.25 0 1 0 2.5 0a1.25 1.25 0 1 0 -2.5 0M600.4 314.3a1.25 1.25 0 1 0 2.5 0a1.25 1.25 0 1 0 -2.5 0M605 314.3a1.25 1.25 0 1 0 2.5 0a1.25 1.25 0 1 0 -2.5 0M609.6 314.3a1.25 1.25 0 1 0 2.5 0a1.25 1.25 0 1 0 -2.5 0M614.1 314.3a1.25 1.25 0 1 0 2.5 0a1.25 1.25 0 1 0 -2.5 0M618.8 314.3a1.25 1.25 0 1 0 2.5 0a1.25 1.25 0 1 0 -2.5 0M623.4 314.3a1.25 1.25 0 1 0 2.5 0a1.25 1.25 0 1 0 -2.5 0M628 314.3a1.25 1.25 0 1 0 2.5 0a1.25 1.25 0 1 0 -2.5 0M632.5 314.3a1.25 1.25 0 1 0 2.5 0a1.25 1.25 0 1 0 -2.5 0M637.2 314.3a1.25 1.25 0 1 0 2.5 0a1.25 1.25 0 1 0 -2.5 0M641.8 314.3a1.25 1.25 0 1 0 2.5 0a1.25 1.25 0 1 0 -2.5 0M646.4 314.3a1.25 1.25 0 1 0 2.5 0a1.25 1.25 0 1 0 -2.5 0M651 314.3a1.25 1.25 0 1 0 2.5 0a1.25 1.25 0 1 0 -2.5 0M496.9 318.3a1.25 1.25 0 1 0 2.5 0a1.25 1.25 0 1 0 -2.5 0M501.5 318.3a1.25 1.25 0 1 0 2.5 0a1.25 1.25 0 1 0 -2.5 0M506.1 318.3a1.25 1.25 0 1 0 2.5 0a1.25 1.25 0 1 0 -2.5 0M510.7 318.3a1.25 1.25 0 1 0 2.5 0a1.25 1.25 0 1 0 -2.5 0M515.2 318.3a1.25 1.25 0 1 0 2.5 0a1.25 1.25 0 1 0 -2.5 0M519.9 318.3a1.25 1.25 0 1 0 2.5 0a1.25 1.25 0 1 0 -2.5 0M524.5 318.3a1.25 1.25 0 1 0 2.5 0a1.25 1.25 0 1 0 -2.5 0M529.1 318.3a1.25 1.25 0 1 0 2.5 0a1.25 1.25 0 1 0 -2.5 0M533.6 318.3a1.25 1.25 0 1 0 2.5 0a1.25 1.25 0 1 0 -2.5 0M538.2 318.3a1.25 1.25 0 1 0 2.5 0a1.25 1.25 0 1 0 -2.5 0M542.9 318.3a1.25 1.25 0 1 0 2.5 0a1.25 1.25 0 1 0 -2.5 0M547.5 318.3a1.25 1.25 0 1 0 2.5 0a1.25 1.25 0 1 0 -2.5 0M552.1 318.3a1.25 1.25 0 1 0 2.5 0a1.25 1.25 0 1 0 -2.5 0M556.6 318.3a1.25 1.25 0 1 0 2.5 0a1.25 1.25 0 1 0 -2.5 0M561.2 318.3a1.25 1.25 0 1 0 2.5 0a1.25 1.25 0 1 0 -2.5 0M565.9 318.3a1.25 1.25 0 1 0 2.5 0a1.25 1.25 0 1 0 -2.5 0M570.5 318.3a1.25 1.25 0 1 0 2.5 0a1.25 1.25 0 1 0 -2.5 0M575 318.3a1.25 1.25 0 1 0 2.5 0a1.25 1.25 0 1 0 -2.5 0M579.6 318.3a1.25 1.25 0 1 0 2.5 0a1.25 1.25 0 1 0 -2.5 0M584.2 318.3a1.25 1.25 0 1 0 2.5 0a1.25 1.25 0 1 0 -2.5 0M588.9 318.3a1.25 1.25 0 1 0 2.5 0a1.25 1.25 0 1 0 -2.5 0M593.5 318.3a1.25 1.25 0 1 0 2.5 0a1.25 1.25 0 1 0 -2.5 0M598 318.3a1.25 1.25 0 1 0 2.5 0a1.25 1.25 0 1 0 -2.5 0M602.6 318.3a1.25 1.25 0 1 0 2.5 0a1.25 1.25 0 1 0 -2.5 0M607.2 318.3a1.25 1.25 0 1 0 2.5 0a1.25 1.25 0 1 0 -2.5 0M611.9 318.3a1.25 1.25 0 1 0 2.5 0a1.25 1.25 0 1 0 -2.5 0M616.5 318.3a1.25 1.25 0 1 0 2.5 0a1.25 1.25 0 1 0 -2.5 0M621 318.3a1.25 1.25 0 1 0 2.5 0a1.25 1.25 0 1 0 -2.5 0M625.6 318.3a1.25 1.25 0 1 0 2.5 0a1.25 1.25 0 1 0 -2.5 0M630.2 318.3a1.25 1.25 0 1 0 2.5 0a1.25 1.25 0 1 0 -2.5 0M634.9 318.3a1.25 1.25 0 1 0 2.5 0a1.25 1.25 0 1 0 -2.5 0M639.5 318.3a1.25 1.25 0 1 0 2.5 0a1.25 1.25 0 1 0 -2.5 0M644 318.3a1.25 1.25 0 1 0 2.5 0a1.25 1.25 0 1 0 -2.5 0M648.6 318.3a1.25 1.25 0 1 0 2.5 0a1.25 1.25 0 1 0 -2.5 0M653.2 318.3a1.25 1.25 0 1 0 2.5 0a1.25 1.25 0 1 0 -2.5 0M494.6 322.3a1.25 1.25 0 1 0 2.5 0a1.25 1.25 0 1 0 -2.5 0M499.2 322.3a1.25 1.25 0 1 0 2.5 0a1.25 1.25 0 1 0 -2.5 0M503.8 322.3a1.25 1.25 0 1 0 2.5 0a1.25 1.25 0 1 0 -2.5 0M508.4 322.3a1.25 1.25 0 1 0 2.5 0a1.25 1.25 0 1 0 -2.5 0M513 322.3a1.25 1.25 0 1 0 2.5 0a1.25 1.25 0 1 0 -2.5 0M517.6 322.3a1.25 1.25 0 1 0 2.5 0a1.25 1.25 0 1 0 -2.5 0M522.2 322.3a1.25 1.25 0 1 0 2.5 0a1.25 1.25 0 1 0 -2.5 0M526.8 322.3a1.25 1.25 0 1 0 2.5 0a1.25 1.25 0 1 0 -2.5 0M531.4 322.3a1.25 1.25 0 1 0 2.5 0a1.25 1.25 0 1 0 -2.5 0M536 322.3a1.25 1.25 0 1 0 2.5 0a1.25 1.25 0 1 0 -2.5 0M540.6 322.3a1.25 1.25 0 1 0 2.5 0a1.25 1.25 0 1 0 -2.5 0M545.2 322.3a1.25 1.25 0 1 0 2.5 0a1.25 1.25 0 1 0 -2.5 0M549.8 322.3a1.25 1.25 0 1 0 2.5 0a1.25 1.25 0 1 0 -2.5 0M554.4 322.3a1.25 1.25 0 1 0 2.5 0a1.25 1.25 0 1 0 -2.5 0M559 322.3a1.25 1.25 0 1 0 2.5 0a1.25 1.25 0 1 0 -2.5 0M563.6 322.3a1.25 1.25 0 1 0 2.5 0a1.25 1.25 0 1 0 -2.5 0M568.2 322.3a1.25 1.25 0 1 0 2.5 0a1.25 1.25 0 1 0 -2.5 0M572.8 322.3a1.25 1.25 0 1 0 2.5 0a1.25 1.25 0 1 0 -2.5 0M577.4 322.3a1.25 1.25 0 1 0 2.5 0a1.25 1.25 0 1 0 -2.5 0M582 322.3a1.25 1.25 0 1 0 2.5 0a1.25 1.25 0 1 0 -2.5 0M586.6 322.3a1.25 1.25 0 1 0 2.5 0a1.25 1.25 0 1 0 -2.5 0M591.2 322.3a1.25 1.25 0 1 0 2.5 0a1.25 1.25 0 1 0 -2.5 0M595.8 322.3a1.25 1.25 0 1 0 2.5 0a1.25 1.25 0 1 0 -2.5 0M600.4 322.3a1.25 1.25 0 1 0 2.5 0a1.25 1.25 0 1 0 -2.5 0M605 322.3a1.25 1.25 0 1 0 2.5 0a1.25 1.25 0 1 0 -2.5 0M609.6 322.3a1.25 1.25 0 1 0 2.5 0a1.25 1.25 0 1 0 -2.5 0M614.1 322.3a1.25 1.25 0 1 0 2.5 0a1.25 1.25 0 1 0 -2.5 0M618.8 322.3a1.25 1.25 0 1 0 2.5 0a1.25 1.25 0 1 0 -2.5 0M623.4 322.3a1.25 1.25 0 1 0 2.5 0a1.25 1.25 0 1 0 -2.5 0M628 322.3a1.25 1.25 0 1 0 2.5 0a1.25 1.25 0 1 0 -2.5 0M632.5 322.3a1.25 1.25 0 1 0 2.5 0a1.25 1.25 0 1 0 -2.5 0M637.2 322.3a1.25 1.25 0 1 0 2.5 0a1.25 1.25 0 1 0 -2.5 0M641.8 322.3a1.25 1.25 0 1 0 2.5 0a1.25 1.25 0 1 0 -2.5 0M646.4 322.3a1.25 1.25 0 1 0 2.5 0a1.25 1.25 0 1 0 -2.5 0M651 322.3a1.25 1.25 0 1 0 2.5 0a1.25 1.25 0 1 0 -2.5 0M496.9 326.3a1.25 1.25 0 1 0 2.5 0a1.25 1.25 0 1 0 -2.5 0M501.5 326.3a1.25 1.25 0 1 0 2.5 0a1.25 1.25 0 1 0 -2.5 0M506.1 326.3a1.25 1.25 0 1 0 2.5 0a1.25 1.25 0 1 0 -2.5 0M510.7 326.3a1.25 1.25 0 1 0 2.5 0a1.25 1.25 0 1 0 -2.5 0M515.2 326.3a1.25 1.25 0 1 0 2.5 0a1.25 1.25 0 1 0 -2.5 0M519.9 326.3a1.25 1.25 0 1 0 2.5 0a1.25 1.25 0 1 0 -2.5 0M524.5 326.3a1.25 1.25 0 1 0 2.5 0a1.25 1.25 0 1 0 -2.5 0M529.1 326.3a1.25 1.25 0 1 0 2.5 0a1.25 1.25 0 1 0 -2.5 0M533.6 326.3a1.25 1.25 0 1 0 2.5 0a1.25 1.25 0 1 0 -2.5 0M538.2 326.3a1.25 1.25 0 1 0 2.5 0a1.25 1.25 0 1 0 -2.5 0M542.9 326.3a1.25 1.25 0 1 0 2.5 0a1.25 1.25 0 1 0 -2.5 0M547.5 326.3a1.25 1.25 0 1 0 2.5 0a1.25 1.25 0 1 0 -2.5 0M552.1 326.3a1.25 1.25 0 1 0 2.5 0a1.25 1.25 0 1 0 -2.5 0M556.6 326.3a1.25 1.25 0 1 0 2.5 0a1.25 1.25 0 1 0 -2.5 0M561.2 326.3a1.25 1.25 0 1 0 2.5 0a1.25 1.25 0 1 0 -2.5 0M565.9 326.3a1.25 1.25 0 1 0 2.5 0a1.25 1.25 0 1 0 -2.5 0M570.5 326.3a1.25 1.25 0 1 0 2.5 0a1.25 1.25 0 1 0 -2.5 0M575 326.3a1.25 1.25 0 1 0 2.5 0a1.25 1.25 0 1 0 -2.5 0M579.6 326.3a1.25 1.25 0 1 0 2.5 0a1.25 1.25 0 1 0 -2.5 0M584.2 326.3a1.25 1.25 0 1 0 2.5 0a1.25 1.25 0 1 0 -2.5 0M588.9 326.3a1.25 1.25 0 1 0 2.5 0a1.25 1.25 0 1 0 -2.5 0M593.5 326.3a1.25 1.25 0 1 0 2.5 0a1.25 1.25 0 1 0 -2.5 0M598 326.3a1.25 1.25 0 1 0 2.5 0a1.25 1.25 0 1 0 -2.5 0M602.6 326.3a1.25 1.25 0 1 0 2.5 0a1.25 1.25 0 1 0 -2.5 0M607.2 326.3a1.25 1.25 0 1 0 2.5 0a1.25 1.25 0 1 0 -2.5 0M611.9 326.3a1.25 1.25 0 1 0 2.5 0a1.25 1.25 0 1 0 -2.5 0M616.5 326.3a1.25 1.25 0 1 0 2.5 0a1.25 1.25 0 1 0 -2.5 0M621 326.3a1.25 1.25 0 1 0 2.5 0a1.25 1.25 0 1 0 -2.5 0M625.6 326.3a1.25 1.25 0 1 0 2.5 0a1.25 1.25 0 1 0 -2.5 0M630.2 326.3a1.25 1.25 0 1 0 2.5 0a1.25 1.25 0 1 0 -2.5 0M634.9 326.3a1.25 1.25 0 1 0 2.5 0a1.25 1.25 0 1 0 -2.5 0M639.5 326.3a1.25 1.25 0 1 0 2.5 0a1.25 1.25 0 1 0 -2.5 0M644 326.3a1.25 1.25 0 1 0 2.5 0a1.25 1.25 0 1 0 -2.5 0M648.6 326.3a1.25 1.25 0 1 0 2.5 0a1.25 1.25 0 1 0 -2.5 0M653.2 326.3a1.25 1.25 0 1 0 2.5 0a1.25 1.25 0 1 0 -2.5 0M494.6 330.3a1.25 1.25 0 1 0 2.5 0a1.25 1.25 0 1 0 -2.5 0M499.2 330.3a1.25 1.25 0 1 0 2.5 0a1.25 1.25 0 1 0 -2.5 0M503.8 330.3a1.25 1.25 0 1 0 2.5 0a1.25 1.25 0 1 0 -2.5 0M508.4 330.3a1.25 1.25 0 1 0 2.5 0a1.25 1.25 0 1 0 -2.5 0M513 330.3a1.25 1.25 0 1 0 2.5 0a1.25 1.25 0 1 0 -2.5 0M517.6 330.3a1.25 1.25 0 1 0 2.5 0a1.25 1.25 0 1 0 -2.5 0M522.2 330.3a1.25 1.25 0 1 0 2.5 0a1.25 1.25 0 1 0 -2.5 0M526.8 330.3a1.25 1.25 0 1 0 2.5 0a1.25 1.25 0 1 0 -2.5 0M531.4 330.3a1.25 1.25 0 1 0 2.5 0a1.25 1.25 0 1 0 -2.5 0M536 330.3a1.25 1.25 0 1 0 2.5 0a1.25 1.25 0 1 0 -2.5 0M540.6 330.3a1.25 1.25 0 1 0 2.5 0a1.25 1.25 0 1 0 -2.5 0M545.2 330.3a1.25 1.25 0 1 0 2.5 0a1.25 1.25 0 1 0 -2.5 0M549.8 330.3a1.25 1.25 0 1 0 2.5 0a1.25 1.25 0 1 0 -2.5 0M554.4 330.3a1.25 1.25 0 1 0 2.5 0a1.25 1.25 0 1 0 -2.5 0M559 330.3a1.25 1.25 0 1 0 2.5 0a1.25 1.25 0 1 0 -2.5 0M563.6 330.3a1.25 1.25 0 1 0 2.5 0a1.25 1.25 0 1 0 -2.5 0M568.2 330.3a1.25 1.25 0 1 0 2.5 0a1.25 1.25 0 1 0 -2.5 0M572.8 330.3a1.25 1.25 0 1 0 2.5 0a1.25 1.25 0 1 0 -2.5 0M577.4 330.3a1.25 1.25 0 1 0 2.5 0a1.25 1.25 0 1 0 -2.5 0M582 330.3a1.25 1.25 0 1 0 2.5 0a1.25 1.25 0 1 0 -2.5 0M586.6 330.3a1.25 1.25 0 1 0 2.5 0a1.25 1.25 0 1 0 -2.5 0M591.2 330.3a1.25 1.25 0 1 0 2.5 0a1.25 1.25 0 1 0 -2.5 0M595.8 330.3a1.25 1.25 0 1 0 2.5 0a1.25 1.25 0 1 0 -2.5 0M600.4 330.3a1.25 1.25 0 1 0 2.5 0a1.25 1.25 0 1 0 -2.5 0M605 330.3a1.25 1.25 0 1 0 2.5 0a1.25 1.25 0 1 0 -2.5 0M609.6 330.3a1.25 1.25 0 1 0 2.5 0a1.25 1.25 0 1 0 -2.5 0M614.1 330.3a1.25 1.25 0 1 0 2.5 0a1.25 1.25 0 1 0 -2.5 0M618.8 330.3a1.25 1.25 0 1 0 2.5 0a1.25 1.25 0 1 0 -2.5 0M623.4 330.3a1.25 1.25 0 1 0 2.5 0a1.25 1.25 0 1 0 -2.5 0M628 330.3a1.25 1.25 0 1 0 2.5 0a1.25 1.25 0 1 0 -2.5 0M632.5 330.3a1.25 1.25 0 1 0 2.5 0a1.25 1.25 0 1 0 -2.5 0M637.2 330.3a1.25 1.25 0 1 0 2.5 0a1.25 1.25 0 1 0 -2.5 0M641.8 330.3a1.25 1.25 0 1 0 2.5 0a1.25 1.25 0 1 0 -2.5 0M646.4 330.3a1.25 1.25 0 1 0 2.5 0a1.25 1.25 0 1 0 -2.5 0M651 330.3a1.25 1.25 0 1 0 2.5 0a1.25 1.25 0 1 0 -2.5 0M496.9 334.3a1.25 1.25 0 1 0 2.5 0a1.25 1.25 0 1 0 -2.5 0M501.5 334.3a1.25 1.25 0 1 0 2.5 0a1.25 1.25 0 1 0 -2.5 0M506.1 334.3a1.25 1.25 0 1 0 2.5 0a1.25 1.25 0 1 0 -2.5 0M510.7 334.3a1.25 1.25 0 1 0 2.5 0a1.25 1.25 0 1 0 -2.5 0M515.2 334.3a1.25 1.25 0 1 0 2.5 0a1.25 1.25 0 1 0 -2.5 0M519.9 334.3a1.25 1.25 0 1 0 2.5 0a1.25 1.25 0 1 0 -2.5 0M524.5 334.3a1.25 1.25 0 1 0 2.5 0a1.25 1.25 0 1 0 -2.5 0M529.1 334.3a1.25 1.25 0 1 0 2.5 0a1.25 1.25 0 1 0 -2.5 0M533.6 334.3a1.25 1.25 0 1 0 2.5 0a1.25 1.25 0 1 0 -2.5 0M538.2 334.3a1.25 1.25 0 1 0 2.5 0a1.25 1.25 0 1 0 -2.5 0M542.9 334.3a1.25 1.25 0 1 0 2.5 0a1.25 1.25 0 1 0 -2.5 0M547.5 334.3a1.25 1.25 0 1 0 2.5 0a1.25 1.25 0 1 0 -2.5 0M552.1 334.3a1.25 1.25 0 1 0 2.5 0a1.25 1.25 0 1 0 -2.5 0M556.6 334.3a1.25 1.25 0 1 0 2.5 0a1.25 1.25 0 1 0 -2.5 0M561.2 334.3a1.25 1.25 0 1 0 2.5 0a1.25 1.25 0 1 0 -2.5 0M565.9 334.3a1.25 1.25 0 1 0 2.5 0a1.25 1.25 0 1 0 -2.5 0M570.5 334.3a1.25 1.25 0 1 0 2.5 0a1.25 1.25 0 1 0 -2.5 0M575 334.3a1.25 1.25 0 1 0 2.5 0a1.25 1.25 0 1 0 -2.5 0M579.6 334.3a1.25 1.25 0 1 0 2.5 0a1.25 1.25 0 1 0 -2.5 0M584.2 334.3a1.25 1.25 0 1 0 2.5 0a1.25 1.25 0 1 0 -2.5 0M588.9 334.3a1.25 1.25 0 1 0 2.5 0a1.25 1.25 0 1 0 -2.5 0M593.5 334.3a1.25 1.25 0 1 0 2.5 0a1.25 1.25 0 1 0 -2.5 0M598 334.3a1.25 1.25 0 1 0 2.5 0a1.25 1.25 0 1 0 -2.5 0M602.6 334.3a1.25 1.25 0 1 0 2.5 0a1.25 1.25 0 1 0 -2.5 0M607.2 334.3a1.25 1.25 0 1 0 2.5 0a1.25 1.25 0 1 0 -2.5 0M611.9 334.3a1.25 1.25 0 1 0 2.5 0a1.25 1.25 0 1 0 -2.5 0M616.5 334.3a1.25 1.25 0 1 0 2.5 0a1.25 1.25 0 1 0 -2.5 0M621 334.3a1.25 1.25 0 1 0 2.5 0a1.25 1.25 0 1 0 -2.5 0M625.6 334.3a1.25 1.25 0 1 0 2.5 0a1.25 1.25 0 1 0 -2.5 0M630.2 334.3a1.25 1.25 0 1 0 2.5 0a1.25 1.25 0 1 0 -2.5 0M634.9 334.3a1.25 1.25 0 1 0 2.5 0a1.25 1.25 0 1 0 -2.5 0M639.5 334.3a1.25 1.25 0 1 0 2.5 0a1.25 1.25 0 1 0 -2.5 0M644 334.3a1.25 1.25 0 1 0 2.5 0a1.25 1.25 0 1 0 -2.5 0M648.6 334.3a1.25 1.25 0 1 0 2.5 0a1.25 1.25 0 1 0 -2.5 0M653.2 334.3a1.25 1.25 0 1 0 2.5 0a1.25 1.25 0 1 0 -2.5 0M494.6 338.3a1.25 1.25 0 1 0 2.5 0a1.25 1.25 0 1 0 -2.5 0M499.2 338.3a1.25 1.25 0 1 0 2.5 0a1.25 1.25 0 1 0 -2.5 0M503.8 338.3a1.25 1.25 0 1 0 2.5 0a1.25 1.25 0 1 0 -2.5 0M508.4 338.3a1.25 1.25 0 1 0 2.5 0a1.25 1.25 0 1 0 -2.5 0M513 338.3a1.25 1.25 0 1 0 2.5 0a1.25 1.25 0 1 0 -2.5 0M517.6 338.3a1.25 1.25 0 1 0 2.5 0a1.25 1.25 0 1 0 -2.5 0M522.2 338.3a1.25 1.25 0 1 0 2.5 0a1.25 1.25 0 1 0 -2.5 0M526.8 338.3a1.25 1.25 0 1 0 2.5 0a1.25 1.25 0 1 0 -2.5 0M531.4 338.3a1.25 1.25 0 1 0 2.5 0a1.25 1.25 0 1 0 -2.5 0M536 338.3a1.25 1.25 0 1 0 2.5 0a1.25 1.25 0 1 0 -2.5 0M540.6 338.3a1.25 1.25 0 1 0 2.5 0a1.25 1.25 0 1 0 -2.5 0M545.2 338.3a1.25 1.25 0 1 0 2.5 0a1.25 1.25 0 1 0 -2.5 0M549.8 338.3a1.25 1.25 0 1 0 2.5 0a1.25 1.25 0 1 0 -2.5 0M554.4 338.3a1.25 1.25 0 1 0 2.5 0a1.25 1.25 0 1 0 -2.5 0M559 338.3a1.25 1.25 0 1 0 2.5 0a1.25 1.25 0 1 0 -2.5 0M563.6 338.3a1.25 1.25 0 1 0 2.5 0a1.25 1.25 0 1 0 -2.5 0M568.2 338.3a1.25 1.25 0 1 0 2.5 0a1.25 1.25 0 1 0 -2.5 0M572.8 338.3a1.25 1.25 0 1 0 2.5 0a1.25 1.25 0 1 0 -2.5 0M577.4 338.3a1.25 1.25 0 1 0 2.5 0a1.25 1.25 0 1 0 -2.5 0M582 338.3a1.25 1.25 0 1 0 2.5 0a1.25 1.25 0 1 0 -2.5 0M586.6 338.3a1.25 1.25 0 1 0 2.5 0a1.25 1.25 0 1 0 -2.5 0M591.2 338.3a1.25 1.25 0 1 0 2.5 0a1.25 1.25 0 1 0 -2.5 0M595.8 338.3a1.25 1.25 0 1 0 2.5 0a1.25 1.25 0 1 0 -2.5 0M600.4 338.3a1.25 1.25 0 1 0 2.5 0a1.25 1.25 0 1 0 -2.5 0M605 338.3a1.25 1.25 0 1 0 2.5 0a1.25 1.25 0 1 0 -2.5 0M609.6 338.3a1.25 1.25 0 1 0 2.5 0a1.25 1.25 0 1 0 -2.5 0M614.1 338.3a1.25 1.25 0 1 0 2.5 0a1.25 1.25 0 1 0 -2.5 0M618.8 338.3a1.25 1.25 0 1 0 2.5 0a1.25 1.25 0 1 0 -2.5 0M623.4 338.3a1.25 1.25 0 1 0 2.5 0a1.25 1.25 0 1 0 -2.5 0M628 338.3a1.25 1.25 0 1 0 2.5 0a1.25 1.25 0 1 0 -2.5 0M632.5 338.3a1.25 1.25 0 1 0 2.5 0a1.25 1.25 0 1 0 -2.5 0M637.2 338.3a1.25 1.25 0 1 0 2.5 0a1.25 1.25 0 1 0 -2.5 0M641.8 338.3a1.25 1.25 0 1 0 2.5 0a1.25 1.25 0 1 0 -2.5 0M646.4 338.3a1.25 1.25 0 1 0 2.5 0a1.25 1.25 0 1 0 -2.5 0M651 338.3a1.25 1.25 0 1 0 2.5 0a1.25 1.25 0 1 0 -2.5 0M496.9 342.3a1.25 1.25 0 1 0 2.5 0a1.25 1.25 0 1 0 -2.5 0M501.5 342.3a1.25 1.25 0 1 0 2.5 0a1.25 1.25 0 1 0 -2.5 0M506.1 342.3a1.25 1.25 0 1 0 2.5 0a1.25 1.25 0 1 0 -2.5 0M510.7 342.3a1.25 1.25 0 1 0 2.5 0a1.25 1.25 0 1 0 -2.5 0M515.2 342.3a1.25 1.25 0 1 0 2.5 0a1.25 1.25 0 1 0 -2.5 0M519.9 342.3a1.25 1.25 0 1 0 2.5 0a1.25 1.25 0 1 0 -2.5 0M524.5 342.3a1.25 1.25 0 1 0 2.5 0a1.25 1.25 0 1 0 -2.5 0M529.1 342.3a1.25 1.25 0 1 0 2.5 0a1.25 1.25 0 1 0 -2.5 0M533.6 342.3a1.25 1.25 0 1 0 2.5 0a1.25 1.25 0 1 0 -2.5 0M538.2 342.3a1.25 1.25 0 1 0 2.5 0a1.25 1.25 0 1 0 -2.5 0M542.9 342.3a1.25 1.25 0 1 0 2.5 0a1.25 1.25 0 1 0 -2.5 0M547.5 342.3a1.25 1.25 0 1 0 2.5 0a1.25 1.25 0 1 0 -2.5 0M552.1 342.3a1.25 1.25 0 1 0 2.5 0a1.25 1.25 0 1 0 -2.5 0M556.6 342.3a1.25 1.25 0 1 0 2.5 0a1.25 1.25 0 1 0 -2.5 0M561.2 342.3a1.25 1.25 0 1 0 2.5 0a1.25 1.25 0 1 0 -2.5 0M565.9 342.3a1.25 1.25 0 1 0 2.5 0a1.25 1.25 0 1 0 -2.5 0M570.5 342.3a1.25 1.25 0 1 0 2.5 0a1.25 1.25 0 1 0 -2.5 0M575 342.3a1.25 1.25 0 1 0 2.5 0a1.25 1.25 0 1 0 -2.5 0M579.6 342.3a1.25 1.25 0 1 0 2.5 0a1.25 1.25 0 1 0 -2.5 0M584.2 342.3a1.25 1.25 0 1 0 2.5 0a1.25 1.25 0 1 0 -2.5 0M588.9 342.3a1.25 1.25 0 1 0 2.5 0a1.25 1.25 0 1 0 -2.5 0M593.5 342.3a1.25 1.25 0 1 0 2.5 0a1.25 1.25 0 1 0 -2.5 0M598 342.3a1.25 1.25 0 1 0 2.5 0a1.25 1.25 0 1 0 -2.5 0M602.6 342.3a1.25 1.25 0 1 0 2.5 0a1.25 1.25 0 1 0 -2.5 0M607.2 342.3a1.25 1.25 0 1 0 2.5 0a1.25 1.25 0 1 0 -2.5 0M611.9 342.3a1.25 1.25 0 1 0 2.5 0a1.25 1.25 0 1 0 -2.5 0M616.5 342.3a1.25 1.25 0 1 0 2.5 0a1.25 1.25 0 1 0 -2.5 0M621 342.3a1.25 1.25 0 1 0 2.5 0a1.25 1.25 0 1 0 -2.5 0M625.6 342.3a1.25 1.25 0 1 0 2.5 0a1.25 1.25 0 1 0 -2.5 0M630.2 342.3a1.25 1.25 0 1 0 2.5 0a1.25 1.25 0 1 0 -2.5 0M634.9 342.3a1.25 1.25 0 1 0 2.5 0a1.25 1.25 0 1 0 -2.5 0M639.5 342.3a1.25 1.25 0 1 0 2.5 0a1.25 1.25 0 1 0 -2.5 0M644 342.3a1.25 1.25 0 1 0 2.5 0a1.25 1.25 0 1 0 -2.5 0M648.6 342.3a1.25 1.25 0 1 0 2.5 0a1.25 1.25 0 1 0 -2.5 0M653.2 342.3a1.25 1.25 0 1 0 2.5 0a1.25 1.25 0 1 0 -2.5 0M494.6 346.3a1.25 1.25 0 1 0 2.5 0a1.25 1.25 0 1 0 -2.5 0M499.2 346.3a1.25 1.25 0 1 0 2.5 0a1.25 1.25 0 1 0 -2.5 0M503.8 346.3a1.25 1.25 0 1 0 2.5 0a1.25 1.25 0 1 0 -2.5 0M508.4 346.3a1.25 1.25 0 1 0 2.5 0a1.25 1.25 0 1 0 -2.5 0M513 346.3a1.25 1.25 0 1 0 2.5 0a1.25 1.25 0 1 0 -2.5 0M517.6 346.3a1.25 1.25 0 1 0 2.5 0a1.25 1.25 0 1 0 -2.5 0M522.2 346.3a1.25 1.25 0 1 0 2.5 0a1.25 1.25 0 1 0 -2.5 0M526.8 346.3a1.25 1.25 0 1 0 2.5 0a1.25 1.25 0 1 0 -2.5 0M531.4 346.3a1.25 1.25 0 1 0 2.5 0a1.25 1.25 0 1 0 -2.5 0M536 346.3a1.25 1.25 0 1 0 2.5 0a1.25 1.25 0 1 0 -2.5 0M540.6 346.3a1.25 1.25 0 1 0 2.5 0a1.25 1.25 0 1 0 -2.5 0M545.2 346.3a1.25 1.25 0 1 0 2.5 0a1.25 1.25 0 1 0 -2.5 0M549.8 346.3a1.25 1.25 0 1 0 2.5 0a1.25 1.25 0 1 0 -2.5 0M554.4 346.3a1.25 1.25 0 1 0 2.5 0a1.25 1.25 0 1 0 -2.5 0M559 346.3a1.25 1.25 0 1 0 2.5 0a1.25 1.25 0 1 0 -2.5 0M563.6 346.3a1.25 1.25 0 1 0 2.5 0a1.25 1.25 0 1 0 -2.5 0M568.2 346.3a1.25 1.25 0 1 0 2.5 0a1.25 1.25 0 1 0 -2.5 0M572.8 346.3a1.25 1.25 0 1 0 2.5 0a1.25 1.25 0 1 0 -2.5 0M577.4 346.3a1.25 1.25 0 1 0 2.5 0a1.25 1.25 0 1 0 -2.5 0M582 346.3a1.25 1.25 0 1 0 2.5 0a1.25 1.25 0 1 0 -2.5 0M586.6 346.3a1.25 1.25 0 1 0 2.5 0a1.25 1.25 0 1 0 -2.5 0M591.2 346.3a1.25 1.25 0 1 0 2.5 0a1.25 1.25 0 1 0 -2.5 0M595.8 346.3a1.25 1.25 0 1 0 2.5 0a1.25 1.25 0 1 0 -2.5 0M600.4 346.3a1.25 1.25 0 1 0 2.5 0a1.25 1.25 0 1 0 -2.5 0M605 346.3a1.25 1.25 0 1 0 2.5 0a1.25 1.25 0 1 0 -2.5 0M609.6 346.3a1.25 1.25 0 1 0 2.5 0a1.25 1.25 0 1 0 -2.5 0M614.1 346.3a1.25 1.25 0 1 0 2.5 0a1.25 1.25 0 1 0 -2.5 0M618.8 346.3a1.25 1.25 0 1 0 2.5 0a1.25 1.25 0 1 0 -2.5 0M623.4 346.3a1.25 1.25 0 1 0 2.5 0a1.25 1.25 0 1 0 -2.5 0M628 346.3a1.25 1.25 0 1 0 2.5 0a1.25 1.25 0 1 0 -2.5 0M632.5 346.3a1.25 1.25 0 1 0 2.5 0a1.25 1.25 0 1 0 -2.5 0M637.2 346.3a1.25 1.25 0 1 0 2.5 0a1.25 1.25 0 1 0 -2.5 0M641.8 346.3a1.25 1.25 0 1 0 2.5 0a1.25 1.25 0 1 0 -2.5 0M646.4 346.3a1.25 1.25 0 1 0 2.5 0a1.25 1.25 0 1 0 -2.5 0M651 346.3a1.25 1.25 0 1 0 2.5 0a1.25 1.25 0 1 0 -2.5 0M496.9 350.3a1.25 1.25 0 1 0 2.5 0a1.25 1.25 0 1 0 -2.5 0M501.5 350.3a1.25 1.25 0 1 0 2.5 0a1.25 1.25 0 1 0 -2.5 0M506.1 350.3a1.25 1.25 0 1 0 2.5 0a1.25 1.25 0 1 0 -2.5 0M510.7 350.3a1.25 1.25 0 1 0 2.5 0a1.25 1.25 0 1 0 -2.5 0M515.2 350.3a1.25 1.25 0 1 0 2.5 0a1.25 1.25 0 1 0 -2.5 0M519.9 350.3a1.25 1.25 0 1 0 2.5 0a1.25 1.25 0 1 0 -2.5 0M524.5 350.3a1.25 1.25 0 1 0 2.5 0a1.25 1.25 0 1 0 -2.5 0M529.1 350.3a1.25 1.25 0 1 0 2.5 0a1.25 1.25 0 1 0 -2.5 0M533.6 350.3a1.25 1.25 0 1 0 2.5 0a1.25 1.25 0 1 0 -2.5 0M538.2 350.3a1.25 1.25 0 1 0 2.5 0a1.25 1.25 0 1 0 -2.5 0M542.9 350.3a1.25 1.25 0 1 0 2.5 0a1.25 1.25 0 1 0 -2.5 0M547.5 350.3a1.25 1.25 0 1 0 2.5 0a1.25 1.25 0 1 0 -2.5 0M552.1 350.3a1.25 1.25 0 1 0 2.5 0a1.25 1.25 0 1 0 -2.5 0M556.6 350.3a1.25 1.25 0 1 0 2.5 0a1.25 1.25 0 1 0 -2.5 0M561.2 350.3a1.25 1.25 0 1 0 2.5 0a1.25 1.25 0 1 0 -2.5 0M565.9 350.3a1.25 1.25 0 1 0 2.5 0a1.25 1.25 0 1 0 -2.5 0M570.5 350.3a1.25 1.25 0 1 0 2.5 0a1.25 1.25 0 1 0 -2.5 0M575 350.3a1.25 1.25 0 1 0 2.5 0a1.25 1.25 0 1 0 -2.5 0M579.6 350.3a1.25 1.25 0 1 0 2.5 0a1.25 1.25 0 1 0 -2.5 0M584.2 350.3a1.25 1.25 0 1 0 2.5 0a1.25 1.25 0 1 0 -2.5 0M588.9 350.3a1.25 1.25 0 1 0 2.5 0a1.25 1.25 0 1 0 -2.5 0M593.5 350.3a1.25 1.25 0 1 0 2.5 0a1.25 1.25 0 1 0 -2.5 0M598 350.3a1.25 1.25 0 1 0 2.5 0a1.25 1.25 0 1 0 -2.5 0M602.6 350.3a1.25 1.25 0 1 0 2.5 0a1.25 1.25 0 1 0 -2.5 0M607.2 350.3a1.25 1.25 0 1 0 2.5 0a1.25 1.25 0 1 0 -2.5 0M611.9 350.3a1.25 1.25 0 1 0 2.5 0a1.25 1.25 0 1 0 -2.5 0M616.5 350.3a1.25 1.25 0 1 0 2.5 0a1.25 1.25 0 1 0 -2.5 0M621 350.3a1.25 1.25 0 1 0 2.5 0a1.25 1.25 0 1 0 -2.5 0M625.6 350.3a1.25 1.25 0 1 0 2.5 0a1.25 1.25 0 1 0 -2.5 0M630.2 350.3a1.25 1.25 0 1 0 2.5 0a1.25 1.25 0 1 0 -2.5 0M634.9 350.3a1.25 1.25 0 1 0 2.5 0a1.25 1.25 0 1 0 -2.5 0M639.5 350.3a1.25 1.25 0 1 0 2.5 0a1.25 1.25 0 1 0 -2.5 0M644 350.3a1.25 1.25 0 1 0 2.5 0a1.25 1.25 0 1 0 -2.5 0M648.6 350.3a1.25 1.25 0 1 0 2.5 0a1.25 1.25 0 1 0 -2.5 0M653.2 350.3a1.25 1.25 0 1 0 2.5 0a1.25 1.25 0 1 0 -2.5 0M494.6 354.3a1.25 1.25 0 1 0 2.5 0a1.25 1.25 0 1 0 -2.5 0M499.2 354.3a1.25 1.25 0 1 0 2.5 0a1.25 1.25 0 1 0 -2.5 0M503.8 354.3a1.25 1.25 0 1 0 2.5 0a1.25 1.25 0 1 0 -2.5 0M508.4 354.3a1.25 1.25 0 1 0 2.5 0a1.25 1.25 0 1 0 -2.5 0M513 354.3a1.25 1.25 0 1 0 2.5 0a1.25 1.25 0 1 0 -2.5 0M517.6 354.3a1.25 1.25 0 1 0 2.5 0a1.25 1.25 0 1 0 -2.5 0M522.2 354.3a1.25 1.25 0 1 0 2.5 0a1.25 1.25 0 1 0 -2.5 0M526.8 354.3a1.25 1.25 0 1 0 2.5 0a1.25 1.25 0 1 0 -2.5 0M531.4 354.3a1.25 1.25 0 1 0 2.5 0a1.25 1.25 0 1 0 -2.5 0M536 354.3a1.25 1.25 0 1 0 2.5 0a1.25 1.25 0 1 0 -2.5 0M540.6 354.3a1.25 1.25 0 1 0 2.5 0a1.25 1.25 0 1 0 -2.5 0M545.2 354.3a1.25 1.25 0 1 0 2.5 0a1.25 1.25 0 1 0 -2.5 0M549.8 354.3a1.25 1.25 0 1 0 2.5 0a1.25 1.25 0 1 0 -2.5 0M554.4 354.3a1.25 1.25 0 1 0 2.5 0a1.25 1.25 0 1 0 -2.5 0M559 354.3a1.25 1.25 0 1 0 2.5 0a1.25 1.25 0 1 0 -2.5 0M563.6 354.3a1.25 1.25 0 1 0 2.5 0a1.25 1.25 0 1 0 -2.5 0M568.2 354.3a1.25 1.25 0 1 0 2.5 0a1.25 1.25 0 1 0 -2.5 0M572.8 354.3a1.25 1.25 0 1 0 2.5 0a1.25 1.25 0 1 0 -2.5 0M577.4 354.3a1.25 1.25 0 1 0 2.5 0a1.25 1.25 0 1 0 -2.5 0M582 354.3a1.25 1.25 0 1 0 2.5 0a1.25 1.25 0 1 0 -2.5 0M586.6 354.3a1.25 1.25 0 1 0 2.5 0a1.25 1.25 0 1 0 -2.5 0M591.2 354.3a1.25 1.25 0 1 0 2.5 0a1.25 1.25 0 1 0 -2.5 0M595.8 354.3a1.25 1.25 0 1 0 2.5 0a1.25 1.25 0 1 0 -2.5 0M600.4 354.3a1.25 1.25 0 1 0 2.5 0a1.25 1.25 0 1 0 -2.5 0M605 354.3a1.25 1.25 0 1 0 2.5 0a1.25 1.25 0 1 0 -2.5 0M609.6 354.3a1.25 1.25 0 1 0 2.5 0a1.25 1.25 0 1 0 -2.5 0M614.1 354.3a1.25 1.25 0 1 0 2.5 0a1.25 1.25 0 1 0 -2.5 0M618.8 354.3a1.25 1.25 0 1 0 2.5 0a1.25 1.25 0 1 0 -2.5 0M623.4 354.3a1.25 1.25 0 1 0 2.5 0a1.25 1.25 0 1 0 -2.5 0M628 354.3a1.25 1.25 0 1 0 2.5 0a1.25 1.25 0 1 0 -2.5 0M632.5 354.3a1.25 1.25 0 1 0 2.5 0a1.25 1.25 0 1 0 -2.5 0M637.2 354.3a1.25 1.25 0 1 0 2.5 0a1.25 1.25 0 1 0 -2.5 0M641.8 354.3a1.25 1.25 0 1 0 2.5 0a1.25 1.25 0 1 0 -2.5 0M646.4 354.3a1.25 1.25 0 1 0 2.5 0a1.25 1.25 0 1 0 -2.5 0M651 354.3a1.25 1.25 0 1 0 2.5 0a1.25 1.25 0 1 0 -2.5 0M496.9 358.3a1.25 1.25 0 1 0 2.5 0a1.25 1.25 0 1 0 -2.5 0M501.5 358.3a1.25 1.25 0 1 0 2.5 0a1.25 1.25 0 1 0 -2.5 0M506.1 358.3a1.25 1.25 0 1 0 2.5 0a1.25 1.25 0 1 0 -2.5 0M510.7 358.3a1.25 1.25 0 1 0 2.5 0a1.25 1.25 0 1 0 -2.5 0M515.2 358.3a1.25 1.25 0 1 0 2.5 0a1.25 1.25 0 1 0 -2.5 0M519.9 358.3a1.25 1.25 0 1 0 2.5 0a1.25 1.25 0 1 0 -2.5 0M524.5 358.3a1.25 1.25 0 1 0 2.5 0a1.25 1.25 0 1 0 -2.5 0M529.1 358.3a1.25 1.25 0 1 0 2.5 0a1.25 1.25 0 1 0 -2.5 0M533.6 358.3a1.25 1.25 0 1 0 2.5 0a1.25 1.25 0 1 0 -2.5 0M538.2 358.3a1.25 1.25 0 1 0 2.5 0a1.25 1.25 0 1 0 -2.5 0M542.9 358.3a1.25 1.25 0 1 0 2.5 0a1.25 1.25 0 1 0 -2.5 0M547.5 358.3a1.25 1.25 0 1 0 2.5 0a1.25 1.25 0 1 0 -2.5 0M552.1 358.3a1.25 1.25 0 1 0 2.5 0a1.25 1.25 0 1 0 -2.5 0M556.6 358.3a1.25 1.25 0 1 0 2.5 0a1.25 1.25 0 1 0 -2.5 0M561.2 358.3a1.25 1.25 0 1 0 2.5 0a1.25 1.25 0 1 0 -2.5 0M565.9 358.3a1.25 1.25 0 1 0 2.5 0a1.25 1.25 0 1 0 -2.5 0M570.5 358.3a1.25 1.25 0 1 0 2.5 0a1.25 1.25 0 1 0 -2.5 0M575 358.3a1.25 1.25 0 1 0 2.5 0a1.25 1.25 0 1 0 -2.5 0M579.6 358.3a1.25 1.25 0 1 0 2.5 0a1.25 1.25 0 1 0 -2.5 0M584.2 358.3a1.25 1.25 0 1 0 2.5 0a1.25 1.25 0 1 0 -2.5 0M588.9 358.3a1.25 1.25 0 1 0 2.5 0a1.25 1.25 0 1 0 -2.5 0M593.5 358.3a1.25 1.25 0 1 0 2.5 0a1.25 1.25 0 1 0 -2.5 0M598 358.3a1.25 1.25 0 1 0 2.5 0a1.25 1.25 0 1 0 -2.5 0M602.6 358.3a1.25 1.25 0 1 0 2.5 0a1.25 1.25 0 1 0 -2.5 0M607.2 358.3a1.25 1.25 0 1 0 2.5 0a1.25 1.25 0 1 0 -2.5 0M611.9 358.3a1.25 1.25 0 1 0 2.5 0a1.25 1.25 0 1 0 -2.5 0M616.5 358.3a1.25 1.25 0 1 0 2.5 0a1.25 1.25 0 1 0 -2.5 0M621 358.3a1.25 1.25 0 1 0 2.5 0a1.25 1.25 0 1 0 -2.5 0M625.6 358.3a1.25 1.25 0 1 0 2.5 0a1.25 1.25 0 1 0 -2.5 0M630.2 358.3a1.25 1.25 0 1 0 2.5 0a1.25 1.25 0 1 0 -2.5 0M634.9 358.3a1.25 1.25 0 1 0 2.5 0a1.25 1.25 0 1 0 -2.5 0M639.5 358.3a1.25 1.25 0 1 0 2.5 0a1.25 1.25 0 1 0 -2.5 0M644 358.3a1.25 1.25 0 1 0 2.5 0a1.25 1.25 0 1 0 -2.5 0M648.6 358.3a1.25 1.25 0 1 0 2.5 0a1.25 1.25 0 1 0 -2.5 0M653.2 358.3a1.25 1.25 0 1 0 2.5 0a1.25 1.25 0 1 0 -2.5 0M494.6 362.3a1.25 1.25 0 1 0 2.5 0a1.25 1.25 0 1 0 -2.5 0M499.2 362.3a1.25 1.25 0 1 0 2.5 0a1.25 1.25 0 1 0 -2.5 0M503.8 362.3a1.25 1.25 0 1 0 2.5 0a1.25 1.25 0 1 0 -2.5 0M508.4 362.3a1.25 1.25 0 1 0 2.5 0a1.25 1.25 0 1 0 -2.5 0M513 362.3a1.25 1.25 0 1 0 2.5 0a1.25 1.25 0 1 0 -2.5 0M517.6 362.3a1.25 1.25 0 1 0 2.5 0a1.25 1.25 0 1 0 -2.5 0M522.2 362.3a1.25 1.25 0 1 0 2.5 0a1.25 1.25 0 1 0 -2.5 0M526.8 362.3a1.25 1.25 0 1 0 2.5 0a1.25 1.25 0 1 0 -2.5 0M531.4 362.3a1.25 1.25 0 1 0 2.5 0a1.25 1.25 0 1 0 -2.5 0M536 362.3a1.25 1.25 0 1 0 2.5 0a1.25 1.25 0 1 0 -2.5 0M540.6 362.3a1.25 1.25 0 1 0 2.5 0a1.25 1.25 0 1 0 -2.5 0M545.2 362.3a1.25 1.25 0 1 0 2.5 0a1.25 1.25 0 1 0 -2.5 0M549.8 362.3a1.25 1.25 0 1 0 2.5 0a1.25 1.25 0 1 0 -2.5 0M554.4 362.3a1.25 1.25 0 1 0 2.5 0a1.25 1.25 0 1 0 -2.5 0M559 362.3a1.25 1.25 0 1 0 2.5 0a1.25 1.25 0 1 0 -2.5 0M563.6 362.3a1.25 1.25 0 1 0 2.5 0a1.25 1.25 0 1 0 -2.5 0M568.2 362.3a1.25 1.25 0 1 0 2.5 0a1.25 1.25 0 1 0 -2.5 0M572.8 362.3a1.25 1.25 0 1 0 2.5 0a1.25 1.25 0 1 0 -2.5 0M577.4 362.3a1.25 1.25 0 1 0 2.5 0a1.25 1.25 0 1 0 -2.5 0M582 362.3a1.25 1.25 0 1 0 2.5 0a1.25 1.25 0 1 0 -2.5 0M586.6 362.3a1.25 1.25 0 1 0 2.5 0a1.25 1.25 0 1 0 -2.5 0M591.2 362.3a1.25 1.25 0 1 0 2.5 0a1.25 1.25 0 1 0 -2.5 0M595.8 362.3a1.25 1.25 0 1 0 2.5 0a1.25 1.25 0 1 0 -2.5 0M600.4 362.3a1.25 1.25 0 1 0 2.5 0a1.25 1.25 0 1 0 -2.5 0M605 362.3a1.25 1.25 0 1 0 2.5 0a1.25 1.25 0 1 0 -2.5 0M609.6 362.3a1.25 1.25 0 1 0 2.5 0a1.25 1.25 0 1 0 -2.5 0M614.1 362.3a1.25 1.25 0 1 0 2.5 0a1.25 1.25 0 1 0 -2.5 0M618.8 362.3a1.25 1.25 0 1 0 2.5 0a1.25 1.25 0 1 0 -2.5 0M623.4 362.3a1.25 1.25 0 1 0 2.5 0a1.25 1.25 0 1 0 -2.5 0M628 362.3a1.25 1.25 0 1 0 2.5 0a1.25 1.25 0 1 0 -2.5 0M632.5 362.3a1.25 1.25 0 1 0 2.5 0a1.25 1.25 0 1 0 -2.5 0M637.2 362.3a1.25 1.25 0 1 0 2.5 0a1.25 1.25 0 1 0 -2.5 0M641.8 362.3a1.25 1.25 0 1 0 2.5 0a1.25 1.25 0 1 0 -2.5 0M646.4 362.3a1.25 1.25 0 1 0 2.5 0a1.25 1.25 0 1 0 -2.5 0M651 362.3a1.25 1.25 0 1 0 2.5 0a1.25 1.25 0 1 0 -2.5 0M496.9 366.3a1.25 1.25 0 1 0 2.5 0a1.25 1.25 0 1 0 -2.5 0M501.5 366.3a1.25 1.25 0 1 0 2.5 0a1.25 1.25 0 1 0 -2.5 0M506.1 366.3a1.25 1.25 0 1 0 2.5 0a1.25 1.25 0 1 0 -2.5 0M510.7 366.3a1.25 1.25 0 1 0 2.5 0a1.25 1.25 0 1 0 -2.5 0M515.2 366.3a1.25 1.25 0 1 0 2.5 0a1.25 1.25 0 1 0 -2.5 0M519.9 366.3a1.25 1.25 0 1 0 2.5 0a1.25 1.25 0 1 0 -2.5 0M524.5 366.3a1.25 1.25 0 1 0 2.5 0a1.25 1.25 0 1 0 -2.5 0M529.1 366.3a1.25 1.25 0 1 0 2.5 0a1.25 1.25 0 1 0 -2.5 0M533.6 366.3a1.25 1.25 0 1 0 2.5 0a1.25 1.25 0 1 0 -2.5 0M538.2 366.3a1.25 1.25 0 1 0 2.5 0a1.25 1.25 0 1 0 -2.5 0M542.9 366.3a1.25 1.25 0 1 0 2.5 0a1.25 1.25 0 1 0 -2.5 0M547.5 366.3a1.25 1.25 0 1 0 2.5 0a1.25 1.25 0 1 0 -2.5 0M552.1 366.3a1.25 1.25 0 1 0 2.5 0a1.25 1.25 0 1 0 -2.5 0M556.6 366.3a1.25 1.25 0 1 0 2.5 0a1.25 1.25 0 1 0 -2.5 0M561.2 366.3a1.25 1.25 0 1 0 2.5 0a1.25 1.25 0 1 0 -2.5 0M565.9 366.3a1.25 1.25 0 1 0 2.5 0a1.25 1.25 0 1 0 -2.5 0M570.5 366.3a1.25 1.25 0 1 0 2.5 0a1.25 1.25 0 1 0 -2.5 0M575 366.3a1.25 1.25 0 1 0 2.5 0a1.25 1.25 0 1 0 -2.5 0M579.6 366.3a1.25 1.25 0 1 0 2.5 0a1.25 1.25 0 1 0 -2.5 0M584.2 366.3a1.25 1.25 0 1 0 2.5 0a1.25 1.25 0 1 0 -2.5 0M588.9 366.3a1.25 1.25 0 1 0 2.5 0a1.25 1.25 0 1 0 -2.5 0M593.5 366.3a1.25 1.25 0 1 0 2.5 0a1.25 1.25 0 1 0 -2.5 0M598 366.3a1.25 1.25 0 1 0 2.5 0a1.25 1.25 0 1 0 -2.5 0M602.6 366.3a1.25 1.25 0 1 0 2.5 0a1.25 1.25 0 1 0 -2.5 0M607.2 366.3a1.25 1.25 0 1 0 2.5 0a1.25 1.25 0 1 0 -2.5 0M611.9 366.3a1.25 1.25 0 1 0 2.5 0a1.25 1.25 0 1 0 -2.5 0M616.5 366.3a1.25 1.25 0 1 0 2.5 0a1.25 1.25 0 1 0 -2.5 0M621 366.3a1.25 1.25 0 1 0 2.5 0a1.25 1.25 0 1 0 -2.5 0M625.6 366.3a1.25 1.25 0 1 0 2.5 0a1.25 1.25 0 1 0 -2.5 0M630.2 366.3a1.25 1.25 0 1 0 2.5 0a1.25 1.25 0 1 0 -2.5 0M634.9 366.3a1.25 1.25 0 1 0 2.5 0a1.25 1.25 0 1 0 -2.5 0M639.5 366.3a1.25 1.25 0 1 0 2.5 0a1.25 1.25 0 1 0 -2.5 0M644 366.3a1.25 1.25 0 1 0 2.5 0a1.25 1.25 0 1 0 -2.5 0M648.6 366.3a1.25 1.25 0 1 0 2.5 0a1.25 1.25 0 1 0 -2.5 0M653.2 366.3a1.25 1.25 0 1 0 2.5 0a1.25 1.25 0 1 0 -2.5 0M494.6 370.3a1.25 1.25 0 1 0 2.5 0a1.25 1.25 0 1 0 -2.5 0M499.2 370.3a1.25 1.25 0 1 0 2.5 0a1.25 1.25 0 1 0 -2.5 0M503.8 370.3a1.25 1.25 0 1 0 2.5 0a1.25 1.25 0 1 0 -2.5 0M508.4 370.3a1.25 1.25 0 1 0 2.5 0a1.25 1.25 0 1 0 -2.5 0M513 370.3a1.25 1.25 0 1 0 2.5 0a1.25 1.25 0 1 0 -2.5 0M517.6 370.3a1.25 1.25 0 1 0 2.5 0a1.25 1.25 0 1 0 -2.5 0M522.2 370.3a1.25 1.25 0 1 0 2.5 0a1.25 1.25 0 1 0 -2.5 0M526.8 370.3a1.25 1.25 0 1 0 2.5 0a1.25 1.25 0 1 0 -2.5 0M531.4 370.3a1.25 1.25 0 1 0 2.5 0a1.25 1.25 0 1 0 -2.5 0M536 370.3a1.25 1.25 0 1 0 2.5 0a1.25 1.25 0 1 0 -2.5 0M540.6 370.3a1.25 1.25 0 1 0 2.5 0a1.25 1.25 0 1 0 -2.5 0M545.2 370.3a1.25 1.25 0 1 0 2.5 0a1.25 1.25 0 1 0 -2.5 0M549.8 370.3a1.25 1.25 0 1 0 2.5 0a1.25 1.25 0 1 0 -2.5 0M554.4 370.3a1.25 1.25 0 1 0 2.5 0a1.25 1.25 0 1 0 -2.5 0M559 370.3a1.25 1.25 0 1 0 2.5 0a1.25 1.25 0 1 0 -2.5 0M563.6 370.3a1.25 1.25 0 1 0 2.5 0a1.25 1.25 0 1 0 -2.5 0M568.2 370.3a1.25 1.25 0 1 0 2.5 0a1.25 1.25 0 1 0 -2.5 0M572.8 370.3a1.25 1.25 0 1 0 2.5 0a1.25 1.25 0 1 0 -2.5 0M577.4 370.3a1.25 1.25 0 1 0 2.5 0a1.25 1.25 0 1 0 -2.5 0M582 370.3a1.25 1.25 0 1 0 2.5 0a1.25 1.25 0 1 0 -2.5 0M586.6 370.3a1.25 1.25 0 1 0 2.5 0a1.25 1.25 0 1 0 -2.5 0M591.2 370.3a1.25 1.25 0 1 0 2.5 0a1.25 1.25 0 1 0 -2.5 0M595.8 370.3a1.25 1.25 0 1 0 2.5 0a1.25 1.25 0 1 0 -2.5 0M600.4 370.3a1.25 1.25 0 1 0 2.5 0a1.25 1.25 0 1 0 -2.5 0M605 370.3a1.25 1.25 0 1 0 2.5 0a1.25 1.25 0 1 0 -2.5 0M609.6 370.3a1.25 1.25 0 1 0 2.5 0a1.25 1.25 0 1 0 -2.5 0M614.1 370.3a1.25 1.25 0 1 0 2.5 0a1.25 1.25 0 1 0 -2.5 0M618.8 370.3a1.25 1.25 0 1 0 2.5 0a1.25 1.25 0 1 0 -2.5 0M623.4 370.3a1.25 1.25 0 1 0 2.5 0a1.25 1.25 0 1 0 -2.5 0M628 370.3a1.25 1.25 0 1 0 2.5 0a1.25 1.25 0 1 0 -2.5 0M632.5 370.3a1.25 1.25 0 1 0 2.5 0a1.25 1.25 0 1 0 -2.5 0M637.2 370.3a1.25 1.25 0 1 0 2.5 0a1.25 1.25 0 1 0 -2.5 0M641.8 370.3a1.25 1.25 0 1 0 2.5 0a1.25 1.25 0 1 0 -2.5 0M646.4 370.3a1.25 1.25 0 1 0 2.5 0a1.25 1.25 0 1 0 -2.5 0M651 370.3a1.25 1.25 0 1 0 2.5 0a1.25 1.25 0 1 0 -2.5 0M496.9 374.3a1.25 1.25 0 1 0 2.5 0a1.25 1.25 0 1 0 -2.5 0M501.5 374.3a1.25 1.25 0 1 0 2.5 0a1.25 1.25 0 1 0 -2.5 0M506.1 374.3a1.25 1.25 0 1 0 2.5 0a1.25 1.25 0 1 0 -2.5 0M510.7 374.3a1.25 1.25 0 1 0 2.5 0a1.25 1.25 0 1 0 -2.5 0M515.2 374.3a1.25 1.25 0 1 0 2.5 0a1.25 1.25 0 1 0 -2.5 0M519.9 374.3a1.25 1.25 0 1 0 2.5 0a1.25 1.25 0 1 0 -2.5 0M524.5 374.3a1.25 1.25 0 1 0 2.5 0a1.25 1.25 0 1 0 -2.5 0M529.1 374.3a1.25 1.25 0 1 0 2.5 0a1.25 1.25 0 1 0 -2.5 0M533.6 374.3a1.25 1.25 0 1 0 2.5 0a1.25 1.25 0 1 0 -2.5 0M538.2 374.3a1.25 1.25 0 1 0 2.5 0a1.25 1.25 0 1 0 -2.5 0M542.9 374.3a1.25 1.25 0 1 0 2.5 0a1.25 1.25 0 1 0 -2.5 0M547.5 374.3a1.25 1.25 0 1 0 2.5 0a1.25 1.25 0 1 0 -2.5 0M552.1 374.3a1.25 1.25 0 1 0 2.5 0a1.25 1.25 0 1 0 -2.5 0M556.6 374.3a1.25 1.25 0 1 0 2.5 0a1.25 1.25 0 1 0 -2.5 0M561.2 374.3a1.25 1.25 0 1 0 2.5 0a1.25 1.25 0 1 0 -2.5 0M565.9 374.3a1.25 1.25 0 1 0 2.5 0a1.25 1.25 0 1 0 -2.5 0M570.5 374.3a1.25 1.25 0 1 0 2.5 0a1.25 1.25 0 1 0 -2.5 0M575 374.3a1.25 1.25 0 1 0 2.5 0a1.25 1.25 0 1 0 -2.5 0M579.6 374.3a1.25 1.25 0 1 0 2.5 0a1.25 1.25 0 1 0 -2.5 0M584.2 374.3a1.25 1.25 0 1 0 2.5 0a1.25 1.25 0 1 0 -2.5 0M588.9 374.3a1.25 1.25 0 1 0 2.5 0a1.25 1.25 0 1 0 -2.5 0M593.5 374.3a1.25 1.25 0 1 0 2.5 0a1.25 1.25 0 1 0 -2.5 0M598 374.3a1.25 1.25 0 1 0 2.5 0a1.25 1.25 0 1 0 -2.5 0M602.6 374.3a1.25 1.25 0 1 0 2.5 0a1.25 1.25 0 1 0 -2.5 0M607.2 374.3a1.25 1.25 0 1 0 2.5 0a1.25 1.25 0 1 0 -2.5 0M611.9 374.3a1.25 1.25 0 1 0 2.5 0a1.25 1.25 0 1 0 -2.5 0M616.5 374.3a1.25 1.25 0 1 0 2.5 0a1.25 1.25 0 1 0 -2.5 0M621 374.3a1.25 1.25 0 1 0 2.5 0a1.25 1.25 0 1 0 -2.5 0M625.6 374.3a1.25 1.25 0 1 0 2.5 0a1.25 1.25 0 1 0 -2.5 0M630.2 374.3a1.25 1.25 0 1 0 2.5 0a1.25 1.25 0 1 0 -2.5 0M634.9 374.3a1.25 1.25 0 1 0 2.5 0a1.25 1.25 0 1 0 -2.5 0M639.5 374.3a1.25 1.25 0 1 0 2.5 0a1.25 1.25 0 1 0 -2.5 0M644 374.3a1.25 1.25 0 1 0 2.5 0a1.25 1.25 0 1 0 -2.5 0M648.6 374.3a1.25 1.25 0 1 0 2.5 0a1.25 1.25 0 1 0 -2.5 0M653.2 374.3a1.25 1.25 0 1 0 2.5 0a1.25 1.25 0 1 0 -2.5 0"/></g><g clip-path="url(#clipf236)"><ellipse transform="translate(541 266.1) rotate(0)" rx="1.5" ry="2.3" fill="#ff1a1a" opacity="0.58"/><ellipse transform="translate(543.3 261.6) rotate(0)" rx="1.5" ry="2.3" fill="#ff1a1a" opacity="0.49"/><ellipse transform="translate(545.6 266.1) rotate(0)" rx="1.5" ry="2.3" fill="#1a33ff" opacity="0.97"/><ellipse transform="translate(547.9 261.6) rotate(0)" rx="1.5" ry="2.3" fill="#ff1a1a" opacity="0.22"/><ellipse transform="translate(550.2 266.1) rotate(0)" rx="1.5" ry="2.3" fill="#ff1a1a" opacity="0.87"/><ellipse transform="translate(552.5 261.6) rotate(0)" rx="1.5" ry="2.3" fill="#1a33ff" opacity="0.69"/><ellipse transform="translate(554.8 266.1) rotate(0)" rx="1.5" ry="2.3" fill="#1a33ff" opacity="0.38"/><ellipse transform="translate(557.1 261.6) rotate(0)" rx="1.5" ry="2.3" fill="#ff1a1a" opacity="1.00"/><ellipse transform="translate(559.4 266.1) rotate(0)" rx="1.5" ry="2.3" fill="#1a33ff" opacity="0.30"/><ellipse transform="translate(561.7 261.6) rotate(0)" rx="1.5" ry="2.3" fill="#1a33ff" opacity="0.78"/><ellipse transform="translate(564 266.1) rotate(0)" rx="1.5" ry="2.3" fill="#ff1a1a" opacity="0.80"/><ellipse transform="translate(566.3 261.6) rotate(0)" rx="1.5" ry="2.3" fill="#ff1a1a" opacity="0.28"/><ellipse transform="translate(568.6 266.1) rotate(0)" rx="1.5" ry="2.3" fill="#1a33ff" opacity="1.00"/><ellipse transform="translate(570.9 261.6) rotate(0)" rx="1.5" ry="2.3" fill="#ff1a1a" opacity="0.40"/><ellipse transform="translate(573.2 266.1) rotate(0)" rx="1.5" ry="2.3" fill="#ff1a1a" opacity="0.67"/><ellipse transform="translate(575.5 261.6) rotate(0)" rx="1.5" ry="2.3" fill="#1a33ff" opacity="0.88"/><ellipse transform="translate(577.8 266.1) rotate(0)" rx="1.5" ry="2.3" fill="#1a33ff" opacity="0.21"/><ellipse transform="translate(580.1 261.6) rotate(0)" rx="1.5" ry="2.3" fill="#ff1a1a" opacity="0.97"/><ellipse transform="translate(582.4 266.1) rotate(0)" rx="1.5" ry="2.3" fill="#1a33ff" opacity="0.52"/><ellipse transform="translate(584.7 261.6) rotate(0)" rx="1.5" ry="2.3" fill="#1a33ff" opacity="0.56"/><ellipse transform="translate(587 266.1) rotate(0)" rx="1.5" ry="2.3" fill="#ff1a1a" opacity="0.95"/><ellipse transform="translate(589.3 261.6) rotate(0)" rx="1.5" ry="2.3" fill="#1a33ff" opacity="0.19"/><ellipse transform="translate(591.6 266.1) rotate(0)" rx="1.5" ry="2.3" fill="#1a33ff" opacity="0.91"/><ellipse transform="translate(593.9 261.6) rotate(0)" rx="1.5" ry="2.3" fill="#ff1a1a" opacity="0.63"/><ellipse transform="translate(596.2 266.1) rotate(0)" rx="1.5" ry="2.3" fill="#ff1a1a" opacity="0.45"/><ellipse transform="translate(598.5 261.6) rotate(0)" rx="1.5" ry="2.3" fill="#1a33ff" opacity="0.99"/><ellipse transform="translate(600.8 266.1) rotate(0)" rx="1.5" ry="2.3" fill="#ff1a1a" opacity="0.25"/><ellipse transform="translate(603.1 261.6) rotate(0)" rx="1.5" ry="2.3" fill="#ff1a1a" opacity="0.83"/><ellipse transform="translate(605.4 266.1) rotate(0)" rx="1.5" ry="2.3" fill="#1a33ff" opacity="0.74"/><ellipse transform="translate(607.7 261.6) rotate(0)" rx="1.5" ry="2.3" fill="#1a33ff" opacity="0.34"/><ellipse transform="translate(610 266.1) rotate(0)" rx="1.5" ry="2.3" fill="#ff1a1a" opacity="1.00"/><ellipse transform="translate(612.3 261.6) rotate(0)" rx="1.5" ry="2.3" fill="#1a33ff" opacity="0.34"/><ellipse transform="translate(614.6 266.1) rotate(0)" rx="1.5" ry="2.3" fill="#1a33ff" opacity="0.74"/><ellipse transform="translate(616.9 261.6) rotate(0)" rx="1.5" ry="2.3" fill="#ff1a1a" opacity="0.83"/><ellipse transform="translate(619.2 266.1) rotate(0)" rx="1.5" ry="2.3" fill="#ff1a1a" opacity="0.25"/><ellipse transform="translate(621.5 261.6) rotate(0)" rx="1.5" ry="2.3" fill="#1a33ff" opacity="0.99"/><ellipse transform="translate(623.8 266.1) rotate(0)" rx="1.5" ry="2.3" fill="#ff1a1a" opacity="0.45"/><ellipse transform="translate(626.1 261.6) rotate(0)" rx="1.5" ry="2.3" fill="#ff1a1a" opacity="0.63"/><ellipse transform="translate(628.4 266.1) rotate(0)" rx="1.5" ry="2.3" fill="#1a33ff" opacity="0.91"/><ellipse transform="translate(631.5 264.8) rotate(119.9)" rx="1.5" ry="2.3" fill="#ff1a1a" opacity="0.98"/><ellipse transform="translate(627.1 264.9) rotate(119.9)" rx="1.5" ry="2.3" fill="#1a33ff" opacity="0.24"/><ellipse transform="translate(629.3 268.8) rotate(119.9)" rx="1.5" ry="2.3" fill="#1a33ff" opacity="0.84"/><ellipse transform="translate(624.8 268.9) rotate(119.9)" rx="1.5" ry="2.3" fill="#ff1a1a" opacity="0.73"/><ellipse transform="translate(627 272.8) rotate(119.9)" rx="1.5" ry="2.3" fill="#ff1a1a" opacity="0.35"/><ellipse transform="translate(622.5 272.9) rotate(119.9)" rx="1.5" ry="2.3" fill="#1a33ff" opacity="1.00"/><ellipse transform="translate(624.7 276.8) rotate(119.9)" rx="1.5" ry="2.3" fill="#ff1a1a" opacity="0.33"/><ellipse transform="translate(620.2 276.9) rotate(119.9)" rx="1.5" ry="2.3" fill="#ff1a1a" opacity="0.75"/><ellipse transform="translate(622.4 280.8) rotate(119.9)" rx="1.5" ry="2.3" fill="#1a33ff" opacity="0.82"/><ellipse transform="translate(617.9 280.9) rotate(119.9)" rx="1.5" ry="2.3" fill="#1a33ff" opacity="0.26"/><ellipse transform="translate(620.1 284.8) rotate(119.9)" rx="1.5" ry="2.3" fill="#ff1a1a" opacity="0.99"/><ellipse transform="translate(615.6 284.9) rotate(119.9)" rx="1.5" ry="2.3" fill="#1a33ff" opacity="0.44"/><ellipse transform="translate(617.8 288.8) rotate(119.9)" rx="1.5" ry="2.3" fill="#1a33ff" opacity="0.64"/><ellipse transform="translate(613.4 288.9) rotate(119.9)" rx="1.5" ry="2.3" fill="#ff1a1a" opacity="0.90"/><ellipse transform="translate(615.5 292.8) rotate(119.9)" rx="1.5" ry="2.3" fill="#ff1a1a" opacity="0.19"/><ellipse transform="translate(611.1 292.9) rotate(119.9)" rx="1.5" ry="2.3" fill="#1a33ff" opacity="0.95"/><ellipse transform="translate(613.2 296.8) rotate(119.9)" rx="1.5" ry="2.3" fill="#ff1a1a" opacity="0.55"/><ellipse transform="translate(608.8 296.9) rotate(119.9)" rx="1.5" ry="2.3" fill="#ff1a1a" opacity="0.53"/><ellipse transform="translate(610.9 300.7) rotate(119.9)" rx="1.5" ry="2.3" fill="#1a33ff" opacity="0.96"/><ellipse transform="translate(606.5 300.8) rotate(119.9)" rx="1.5" ry="2.3" fill="#ff1a1a" opacity="0.20"/><ellipse transform="translate(608.6 304.7) rotate(119.9)" rx="1.5" ry="2.3" fill="#ff1a1a" opacity="0.89"/><ellipse transform="translate(604.2 304.8) rotate(119.9)" rx="1.5" ry="2.3" fill="#1a33ff" opacity="0.66"/><ellipse transform="translate(606.3 308.7) rotate(119.9)" rx="1.5" ry="2.3" fill="#1a33ff" opacity="0.41"/><ellipse transform="translate(601.9 308.8) rotate(119.9)" rx="1.5" ry="2.3" fill="#ff1a1a" opacity="0.99"/><ellipse transform="translate(604.1 312.7) rotate(119.9)" rx="1.5" ry="2.3" fill="#1a33ff" opacity="0.27"/><ellipse transform="translate(599.6 312.8) rotate(119.9)" rx="1.5" ry="2.3" fill="#1a33ff" opacity="0.81"/><ellipse transform="translate(601.8 316.7) rotate(119.9)" rx="1.5" ry="2.3" fill="#ff1a1a" opacity="0.77"/><ellipse transform="translate(597.3 316.8) rotate(119.9)" rx="1.5" ry="2.3" fill="#ff1a1a" opacity="0.31"/><ellipse transform="translate(599.5 320.7) rotate(119.9)" rx="1.5" ry="2.3" fill="#1a33ff" opacity="1.00"/><ellipse transform="translate(595 320.8) rotate(119.9)" rx="1.5" ry="2.3" fill="#ff1a1a" opacity="0.37"/><ellipse transform="translate(597.2 324.7) rotate(119.9)" rx="1.5" ry="2.3" fill="#ff1a1a" opacity="0.71"/><ellipse transform="translate(592.7 324.8) rotate(119.9)" rx="1.5" ry="2.3" fill="#1a33ff" opacity="0.86"/><ellipse transform="translate(594.9 328.7) rotate(119.9)" rx="1.5" ry="2.3" fill="#1a33ff" opacity="0.23"/><ellipse transform="translate(590.4 328.8) rotate(119.9)" rx="1.5" ry="2.3" fill="#ff1a1a" opacity="0.98"/><ellipse transform="translate(592.6 332.7) rotate(119.9)" rx="1.5" ry="2.3" fill="#1a33ff" opacity="0.48"/><ellipse transform="translate(588.2 332.8) rotate(119.9)" rx="1.5" ry="2.3" fill="#1a33ff" opacity="0.60"/><ellipse transform="translate(590.3 336.6) rotate(119.9)" rx="1.5" ry="2.3" fill="#ff1a1a" opacity="0.93"/><ellipse transform="translate(585.9 336.7) rotate(119.9)" rx="1.5" ry="2.3" fill="#ff1a1a" opacity="0.18"/><ellipse transform="translate(588 340.6) rotate(119.9)" rx="1.5" ry="2.3" fill="#1a33ff" opacity="0.93"/><ellipse transform="translate(583.6 340.7) rotate(119.9)" rx="1.5" ry="2.3" fill="#ff1a1a" opacity="0.60"/><ellipse transform="translate(585.7 344.6) rotate(119.9)" rx="1.5" ry="2.3" fill="#ff1a1a" opacity="0.48"/><ellipse transform="translate(584 346.1) rotate(0)" rx="1.5" ry="2.3" fill="#ff1a1a" opacity="0.46"/><ellipse transform="translate(586.3 341.6) rotate(0)" rx="1.5" ry="2.3" fill="#1a33ff" opacity="0.98"/><ellipse transform="translate(588.6 346.1) rotate(0)" rx="1.5" ry="2.3" fill="#ff1a1a" opacity="0.24"/><ellipse transform="translate(590.9 341.6) rotate(0)" rx="1.5" ry="2.3" fill="#ff1a1a" opacity="0.85"/><ellipse transform="translate(593.2 346.1) rotate(0)" rx="1.5" ry="2.3" fill="#1a33ff" opacity="0.72"/><ellipse transform="translate(595.5 341.6) rotate(0)" rx="1.5" ry="2.3" fill="#1a33ff" opacity="0.36"/><ellipse transform="translate(597.8 346.1) rotate(0)" rx="1.5" ry="2.3" fill="#ff1a1a" opacity="1.00"/><ellipse transform="translate(600.1 341.6) rotate(0)" rx="1.5" ry="2.3" fill="#1a33ff" opacity="0.33"/><ellipse transform="translate(602.4 346.1) rotate(0)" rx="1.5" ry="2.3" fill="#1a33ff" opacity="0.75"/><ellipse transform="translate(604.7 341.6) rotate(0)" rx="1.5" ry="2.3" fill="#ff1a1a" opacity="0.82"/><ellipse transform="translate(607 346.1) rotate(0)" rx="1.5" ry="2.3" fill="#ff1a1a" opacity="0.26"/><ellipse transform="translate(609.3 341.6) rotate(0)" rx="1.5" ry="2.3" fill="#1a33ff" opacity="0.99"/><ellipse transform="translate(611.6 346.1) rotate(0)" rx="1.5" ry="2.3" fill="#ff1a1a" opacity="0.43"/><ellipse transform="translate(613.9 341.6) rotate(0)" rx="1.5" ry="2.3" fill="#ff1a1a" opacity="0.65"/><ellipse transform="translate(616.2 346.1) rotate(0)" rx="1.5" ry="2.3" fill="#1a33ff" opacity="0.90"/><ellipse transform="translate(618.5 341.6) rotate(0)" rx="1.5" ry="2.3" fill="#1a33ff" opacity="0.19"/><ellipse transform="translate(620.8 346.1) rotate(0)" rx="1.5" ry="2.3" fill="#ff1a1a" opacity="0.95"/><ellipse transform="translate(623.1 341.6) rotate(0)" rx="1.5" ry="2.3" fill="#1a33ff" opacity="0.54"/><ellipse transform="translate(625.4 346.1) rotate(0)" rx="1.5" ry="2.3" fill="#1a33ff" opacity="0.53"/><ellipse transform="translate(627.7 341.6) rotate(0)" rx="1.5" ry="2.3" fill="#ff1a1a" opacity="0.96"/><ellipse transform="translate(630 346.1) rotate(0)" rx="1.5" ry="2.3" fill="#1a33ff" opacity="0.20"/><ellipse transform="translate(632.3 341.6) rotate(0)" rx="1.5" ry="2.3" fill="#1a33ff" opacity="0.89"/><ellipse transform="translate(634.6 346.1) rotate(0)" rx="1.5" ry="2.3" fill="#ff1a1a" opacity="0.66"/><ellipse transform="translate(636.9 341.6) rotate(0)" rx="1.5" ry="2.3" fill="#ff1a1a" opacity="0.42"/><ellipse transform="translate(639.2 346.1) rotate(0)" rx="1.5" ry="2.3" fill="#1a33ff" opacity="0.99"/><ellipse transform="translate(641.5 341.6) rotate(0)" rx="1.5" ry="2.3" fill="#ff1a1a" opacity="0.27"/><ellipse transform="translate(643.8 346.1) rotate(0)" rx="1.5" ry="2.3" fill="#ff1a1a" opacity="0.81"/><ellipse transform="translate(646.1 341.6) rotate(0)" rx="1.5" ry="2.3" fill="#1a33ff" opacity="0.76"/><ellipse transform="translate(648.4 346.1) rotate(0)" rx="1.5" ry="2.3" fill="#1a33ff" opacity="0.32"/><ellipse transform="translate(650.7 341.6) rotate(0)" rx="1.5" ry="2.3" fill="#ff1a1a" opacity="1.00"/><ellipse transform="translate(653 346.1) rotate(0)" rx="1.5" ry="2.3" fill="#1a33ff" opacity="0.37"/><ellipse transform="translate(655.3 341.6) rotate(0)" rx="1.5" ry="2.3" fill="#1a33ff" opacity="0.71"/><ellipse transform="translate(657.6 346.1) rotate(0)" rx="1.5" ry="2.3" fill="#ff1a1a" opacity="0.85"/></g><g clip-path="url(#clipf236)"><path d="M497.4 263.9H629.9L584 343.8H653.4" stroke="#383838" stroke-width="1.5" fill="none" opacity="0.8" stroke-dasharray="1.4 0.6"/></g><path d="M536 236.6H572.2V233.1L579.2 239.9L572.2 246.9V243.3H536Z" fill="#ff0000"/><polygon points="536.3,251.7 539.2,259 547,259.5 541,264.5 542.9,272.1 536.3,268 529.7,272.1 531.6,264.5 525.6,259.5 533.4,259" fill="#ffb000" stroke="#ff0000" stroke-width="1.6" stroke-linejoin="miter"/><linearGradient id="cg236" x1="0" y1="0" x2="0" y2="1"><stop offset="0" stop-color="#e00000"/><stop offset="0.25" stop-color="#ff7070"/><stop offset="0.5" stop-color="#ffffff"/><stop offset="0.75" stop-color="#7070ff"/><stop offset="1" stop-color="#0000e0"/></linearGradient><rect x="656.4" y="267.6" width="4.9" height="96.2" fill="url(#cg236)"/><text x="663.5" y="284.8" font-size="10.2" text-anchor="start" font-weight="normal" font-style="normal" fill="#111" >200</text><text x="663.5" y="302.2" font-size="10.2" text-anchor="start" font-weight="normal" font-style="normal" fill="#111" >100</text><text x="663.5" y="319.3" font-size="10.2" text-anchor="start" font-weight="normal" font-style="normal" fill="#111" >0</text><text x="663.5" y="336.4" font-size="10.2" text-anchor="start" font-weight="normal" font-style="normal" fill="#111" >-100</text><text x="663.5" y="353.3" font-size="10.2" text-anchor="start" font-weight="normal" font-style="normal" fill="#111" >-200</text><text x="662" y="247.1" font-size="10.2" text-anchor="start" font-weight="normal" font-style="normal" fill="#111" >A/m</text><text x="-1.6" y="17.9" font-size="24" text-anchor="start" font-weight="bold" font-style="normal" fill="#000" stroke="#000" stroke-width="0.6">a</text><text x="254.6" y="17.4" font-size="24" text-anchor="start" font-weight="bold" font-style="normal" fill="#000" stroke="#000" stroke-width="0.6">b</text><text x="489.4" y="17.4" font-size="24" text-anchor="start" font-weight="bold" font-style="normal" fill="#000" stroke="#000" stroke-width="0.6">c</text><text x="-0.6" y="234.9" font-size="24" text-anchor="start" font-weight="bold" font-style="normal" fill="#000" stroke="#000" stroke-width="0.6">d</text><text x="254.1" y="234.6" font-size="24" text-anchor="start" font-weight="bold" font-style="normal" fill="#000" stroke="#000" stroke-width="0.6">e</text><text x="489.2" y="233.8" font-size="24" text-anchor="start" font-weight="bold" font-style="normal" fill="#000" stroke="#000" stroke-width="0.6">f</text>
</svg>
</body></html>
